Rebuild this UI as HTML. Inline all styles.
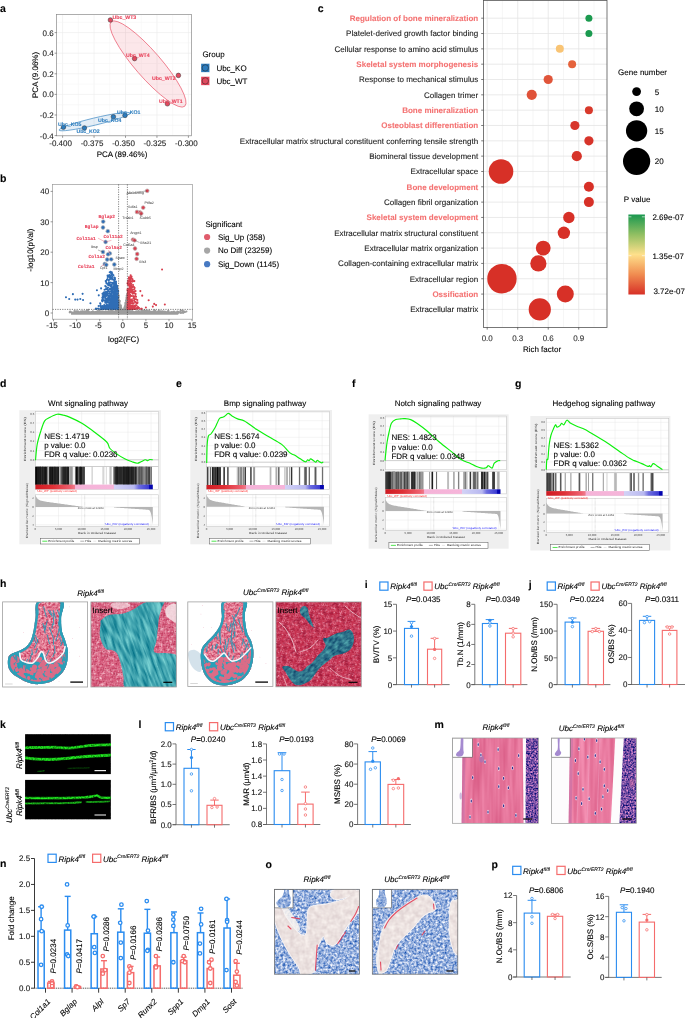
<!DOCTYPE html>
<html><head><meta charset="utf-8"><style>
html,body{margin:0;padding:0;background:#fff;}
svg{display:block;font-family:"Liberation Sans", sans-serif;will-change:transform;text-rendering:geometricPrecision;}
</style></head><body>
<svg width="685" height="1018" viewBox="0 0 685 1018">
<rect width="685" height="1018" fill="#fff"/>
<defs><linearGradient id="pgrad" x1="0" y1="0" x2="0" y2="1"><stop offset="0" stop-color="#1a9850"/><stop offset="0.25" stop-color="#91bf62"/><stop offset="0.5" stop-color="#fee08b"/><stop offset="0.75" stop-color="#f08c50"/><stop offset="1" stop-color="#d73027"/></linearGradient><linearGradient id="gcb" x1="0" y1="0" x2="1" y2="0"><stop offset="0" stop-color="#cf1a22"/><stop offset="0.15" stop-color="#df3036"/><stop offset="0.3" stop-color="#ee6070"/><stop offset="0.335" stop-color="#f07a8c"/><stop offset="0.34" stop-color="#f5b3d8"/><stop offset="0.665" stop-color="#f6b5da"/><stop offset="0.67" stop-color="#d2d2f6"/><stop offset="0.84" stop-color="#b8b8f0"/><stop offset="0.88" stop-color="#6e6ee0"/><stop offset="0.965" stop-color="#3c3cd2"/><stop offset="0.97" stop-color="#0808b5"/><stop offset="1" stop-color="#0000aa"/></linearGradient><filter id="nPink1" x="0" y="0" width="100%" height="100%" color-interpolation-filters="sRGB"><feTurbulence type="fractalNoise" baseFrequency="0.3" numOctaves="2" seed="2"/><feColorMatrix type="matrix" values="0.2941 0 0 0 0.7608 0.8021 0 0 0 0.1872 0.6506 0 0 0 0.3472 0 0 0 0 1.000"/></filter><filter id="nPink2" x="0" y="0" width="100%" height="100%" color-interpolation-filters="sRGB"><feTurbulence type="fractalNoise" baseFrequency="0.3" numOctaves="2" seed="5"/><feColorMatrix type="matrix" values="0.3743 0 0 0 0.6795 0.8467 0 0 0 0.0374 0.7130 0 0 0 0.2121 0 0 0 0 1.000"/></filter><filter id="nTeal1" x="0" y="0" width="100%" height="100%" color-interpolation-filters="sRGB"><feTurbulence type="fractalNoise" baseFrequency="0.06 0.35" numOctaves="2" seed="7"/><feColorMatrix type="matrix" values="0.7745 0 0 0 -0.1304 0.6275 0 0 0 0.3294 0.4902 0 0 0 0.4412 0 0 0 0 1.000"/></filter><filter id="nTeal2" x="0" y="0" width="100%" height="100%" color-interpolation-filters="sRGB"><feTurbulence type="fractalNoise" baseFrequency="0.2 0.4" numOctaves="2" seed="9"/><feColorMatrix type="matrix" values="0.4412 0 0 0 -0.0343 0.6373 0 0 0 0.1422 0.4314 0 0 0 0.3333 0 0 0 0 1.000"/></filter><filter id="nBone" x="0" y="0" width="100%" height="100%" color-interpolation-filters="sRGB"><feTurbulence type="fractalNoise" baseFrequency="0.45" numOctaves="2" seed="11"/><feColorMatrix type="matrix" values="0.3476 0 0 0 0.7066 0.8556 0 0 0 0.0428 0.7041 0 0 0 0.2146 0 0 0 0 1.000"/></filter><clipPath id="cp1"><rect x="2.6" y="601.9" width="85" height="85.1"/></clipPath><clipPath id="cp2"><path d="M38.1,601 C33.62,603.78 36.27,612.73 35.5,617.7 C34.73,622.67 34.27,627.08 33.5,630.8 C32.73,634.52 32.1,637.37 30.9,640 C29.7,642.63 28.17,644.83 26.3,646.6 C24.43,648.37 21.9,649.5 19.7,650.6 C17.5,651.7 14.85,652.33 13.1,653.2 C11.35,654.07 10.07,654.48 9.2,655.8 C8.33,657.12 8.02,659.13 7.9,661.1 C7.78,663.07 7.85,665.63 8.5,667.6 C9.15,669.57 10.37,671.37 11.8,672.9 C13.23,674.43 15.12,675.48 17.1,676.8 C19.08,678.12 21.3,679.7 23.7,680.8 C26.1,681.9 28.88,682.85 31.5,683.4 C34.12,683.95 36.33,684.32 39.4,684.1 C42.47,683.88 47.05,683.1 49.9,682.1 C52.75,681.1 54.3,679.85 56.5,678.1 C58.7,676.35 61.35,674.22 63.1,671.6 C64.85,668.98 66.23,665.9 67,662.4 C67.77,658.9 68.03,654.33 67.7,650.6 C67.37,646.87 65.98,643.3 65,640 C64.02,636.7 62.45,634.52 61.8,630.8 C61.15,627.08 61,622.67 61.1,617.7 C61.2,612.73 66.23,603.78 62.4,601 C58.57,598.22 42.58,598.22 38.1,601Z"/></clipPath><clipPath id="cp3"><rect x="187.8" y="601.9" width="85.1" height="84.6"/></clipPath><clipPath id="cp4"><path d="M223.1,601 C219.12,603.78 222.45,613.38 221.8,617.7 C221.15,622.02 220.73,623.83 219.2,626.9 C217.67,629.97 214.8,633.47 212.6,636.1 C210.4,638.73 207.75,640.73 206,642.7 C204.25,644.67 202.97,645.93 202.1,647.9 C201.23,649.87 200.92,651.87 200.8,654.5 C200.68,657.13 200.97,660.85 201.4,663.7 C201.83,666.55 202.42,669.2 203.4,671.6 C204.38,674 205.55,676.13 207.3,678.1 C209.05,680.07 211.05,682.18 213.9,683.4 C216.75,684.62 220.9,685.4 224.4,685.4 C227.9,685.4 231.83,684.38 234.9,683.4 C237.97,682.42 240.38,681.47 242.8,679.5 C245.22,677.53 247.75,674.67 249.4,671.6 C251.05,668.53 252.05,664.6 252.7,661.1 C253.35,657.6 253.52,653.88 253.3,650.6 C253.08,647.32 252.38,644.25 251.4,641.4 C250.42,638.55 248.4,636.35 247.4,633.5 C246.4,630.65 245.83,627.58 245.4,624.3 C244.97,621.02 244.75,617.68 244.8,613.8 C244.85,609.92 249.32,603.13 245.7,601 C242.08,598.87 227.08,598.22 223.1,601Z"/></clipPath><pattern id="cellR1" width="14" height="14" patternUnits="userSpaceOnUse" patternTransform="rotate(17)"><circle cx="0.17" cy="1.57" r="0.93" fill="#d85a7a"/><circle cx="14.17" cy="1.57" r="0.93" fill="#d85a7a"/><circle cx="5.5" cy="9.57" r="0.9" fill="#d85a7a"/><circle cx="1.94" cy="1.57" r="1.05" fill="#d24a6e"/><circle cx="3.25" cy="10.61" r="1.06" fill="#d24a6e"/><circle cx="9.27" cy="1.91" r="0.91" fill="#c8375f"/><circle cx="7.5" cy="6.27" r="1.02" fill="#b52a4e"/><circle cx="5.78" cy="-0.05" r="0.81" fill="#c8375f"/><circle cx="5.78" cy="13.95" r="0.81" fill="#c8375f"/><circle cx="-0.84" cy="5.64" r="1.1" fill="#d85a7a"/><circle cx="13.16" cy="5.64" r="1.1" fill="#d85a7a"/><circle cx="2.78" cy="4.62" r="0.97" fill="#d24a6e"/><circle cx="2.94" cy="3.04" r="0.87" fill="#b52a4e"/><circle cx="8.19" cy="7.66" r="1.01" fill="#b52a4e"/><circle cx="-0.65" cy="11.74" r="0.93" fill="#d24a6e"/><circle cx="13.35" cy="11.74" r="0.93" fill="#d24a6e"/><circle cx="4.98" cy="2.85" r="1.02" fill="#bf2f55"/><circle cx="11.71" cy="-0.15" r="0.83" fill="#c8375f"/><circle cx="11.71" cy="13.85" r="0.83" fill="#c8375f"/><circle cx="0.43" cy="10.29" r="0.87" fill="#c8375f"/><circle cx="14.43" cy="10.29" r="0.87" fill="#c8375f"/><circle cx="12.16" cy="9.12" r="1.07" fill="#b52a4e"/><circle cx="0.58" cy="4.7" r="0.83" fill="#d85a7a"/><circle cx="14.58" cy="4.7" r="0.83" fill="#d85a7a"/><circle cx="4.68" cy="5.55" r="0.95" fill="#b52a4e"/><circle cx="9.05" cy="11.71" r="1" fill="#d85a7a"/><circle cx="-0.54" cy="-0.33" r="0.85" fill="#c8375f"/><circle cx="-0.54" cy="13.67" r="0.85" fill="#c8375f"/><circle cx="13.46" cy="-0.33" r="0.85" fill="#c8375f"/><circle cx="13.46" cy="13.67" r="0.85" fill="#c8375f"/><circle cx="2.7" cy="12.89" r="0.96" fill="#bf2f55"/><circle cx="8.42" cy="9.74" r="0.93" fill="#d24a6e"/><circle cx="6.37" cy="11.21" r="0.93" fill="#c8375f"/><circle cx="1.38" cy="-0.24" r="0.95" fill="#d24a6e"/><circle cx="1.38" cy="13.76" r="0.95" fill="#d24a6e"/><circle cx="11.96" cy="6.66" r="1.05" fill="#c8375f"/><circle cx="9.7" cy="-0.38" r="1.02" fill="#d24a6e"/><circle cx="9.7" cy="13.62" r="1.02" fill="#d24a6e"/><circle cx="10.75" cy="3.57" r="0.97" fill="#c8375f"/><circle cx="0.7" cy="8.6" r="1.05" fill="#b52a4e"/><circle cx="14.7" cy="8.6" r="1.05" fill="#b52a4e"/><circle cx="2.57" cy="6.37" r="0.97" fill="#bf2f55"/><circle cx="9.73" cy="7.34" r="0.99" fill="#d24a6e"/><circle cx="6.54" cy="1.87" r="0.99" fill="#d24a6e"/><circle cx="12.54" cy="3.62" r="0.99" fill="#b52a4e"/><circle cx="0.47" cy="6.75" r="0.99" fill="#bf2f55"/><circle cx="14.47" cy="6.75" r="0.99" fill="#bf2f55"/><circle cx="4.21" cy="12.78" r="0.93" fill="#bf2f55"/><circle cx="7.57" cy="4.48" r="0.97" fill="#d85a7a"/><circle cx="7.59" cy="-0.82" r="0.97" fill="#d85a7a"/><circle cx="7.59" cy="13.18" r="0.97" fill="#d85a7a"/><circle cx="9.58" cy="4.53" r="0.89" fill="#b52a4e"/><circle cx="4.38" cy="0.63" r="0.82" fill="#c8375f"/><circle cx="4.38" cy="14.63" r="0.82" fill="#c8375f"/><circle cx="5.72" cy="7.54" r="1.01" fill="#d85a7a"/><circle cx="12.19" cy="1.75" r="0.9" fill="#d24a6e"/><circle cx="5.9" cy="4.38" r="0.85" fill="#d24a6e"/><circle cx="9.91" cy="10.33" r="0.95" fill="#c8375f"/><circle cx="12.01" cy="11.01" r="1.08" fill="#d24a6e"/><circle cx="4.71" cy="11.27" r="0.81" fill="#bf2f55"/><circle cx="11.14" cy="12.42" r="1" fill="#b52a4e"/><circle cx="7.89" cy="2.96" r="0.8" fill="#d24a6e"/></pattern><pattern id="cellR2" width="14" height="14" patternUnits="userSpaceOnUse" patternTransform="rotate(-23)"><circle cx="1.08" cy="2.99" r="0.88" fill="#c8304e"/><circle cx="4.24" cy="12.6" r="0.94" fill="#b81b3a"/><circle cx="6.95" cy="10.08" r="0.89" fill="#b81b3a"/><circle cx="1.4" cy="7.12" r="0.97" fill="#c42644"/><circle cx="11.8" cy="7.32" r="1.16" fill="#c8304e"/><circle cx="-0.77" cy="12.35" r="1.08" fill="#c42644"/><circle cx="13.23" cy="12.35" r="1.08" fill="#c42644"/><circle cx="5.19" cy="0.01" r="1.08" fill="#b01836"/><circle cx="5.19" cy="14.01" r="1.08" fill="#b01836"/><circle cx="10.57" cy="1.77" r="0.89" fill="#b81b3a"/><circle cx="0.13" cy="10.23" r="1.18" fill="#b01836"/><circle cx="14.13" cy="10.23" r="1.18" fill="#b01836"/><circle cx="11.8" cy="11.71" r="0.92" fill="#b81b3a"/><circle cx="-0.65" cy="2.82" r="1.07" fill="#c8304e"/><circle cx="13.35" cy="2.82" r="1.07" fill="#c8304e"/><circle cx="2.23" cy="0.28" r="0.97" fill="#a01434"/><circle cx="2.23" cy="14.28" r="0.97" fill="#a01434"/><circle cx="0.69" cy="0.54" r="0.92" fill="#a01434"/><circle cx="0.69" cy="14.54" r="0.92" fill="#a01434"/><circle cx="14.69" cy="0.54" r="0.92" fill="#a01434"/><circle cx="14.69" cy="14.54" r="0.92" fill="#a01434"/><circle cx="4.94" cy="2.29" r="1.01" fill="#a01434"/><circle cx="2.34" cy="11.4" r="0.9" fill="#b81b3a"/><circle cx="10.34" cy="7.96" r="1.09" fill="#a01434"/><circle cx="8.22" cy="3.21" r="0.94" fill="#c8304e"/><circle cx="9.26" cy="0.68" r="0.97" fill="#b01836"/><circle cx="9.26" cy="14.68" r="0.97" fill="#b01836"/><circle cx="4.23" cy="5.38" r="1.08" fill="#a01434"/><circle cx="6.88" cy="-0.64" r="0.9" fill="#b01836"/><circle cx="6.88" cy="13.36" r="0.9" fill="#b01836"/><circle cx="7.35" cy="7.12" r="1.02" fill="#b81b3a"/><circle cx="8.46" cy="11.51" r="0.9" fill="#b01836"/><circle cx="10.93" cy="4.42" r="0.91" fill="#c8304e"/><circle cx="6.39" cy="1.17" r="0.89" fill="#a01434"/><circle cx="12.7" cy="5.28" r="1.09" fill="#b81b3a"/><circle cx="11.5" cy="0.49" r="1.01" fill="#c8304e"/><circle cx="11.5" cy="14.49" r="1.01" fill="#c8304e"/><circle cx="10.1" cy="9.45" r="0.93" fill="#b01836"/><circle cx="1.6" cy="4.45" r="0.93" fill="#b01836"/><circle cx="3.55" cy="7.69" r="1.11" fill="#a01434"/><circle cx="4.46" cy="10.01" r="0.9" fill="#c42644"/><circle cx="-0.22" cy="8.69" r="0.98" fill="#b81b3a"/><circle cx="13.78" cy="8.69" r="0.98" fill="#b81b3a"/><circle cx="10.14" cy="12.89" r="1.03" fill="#c42644"/><circle cx="5.28" cy="6.62" r="0.95" fill="#b81b3a"/><circle cx="8.91" cy="7.28" r="1.03" fill="#a01434"/><circle cx="2.89" cy="2.76" r="1.03" fill="#c42644"/><circle cx="10.63" cy="6.23" r="1.04" fill="#c8304e"/><circle cx="12.04" cy="10.07" r="1.09" fill="#c42644"/><circle cx="8.41" cy="9.32" r="0.93" fill="#b81b3a"/><circle cx="8.64" cy="4.88" r="0.96" fill="#c42644"/><circle cx="2.43" cy="8.78" r="1.14" fill="#b81b3a"/><circle cx="-0.86" cy="1.07" r="0.94" fill="#a01434"/><circle cx="13.14" cy="1.07" r="0.94" fill="#a01434"/><circle cx="6.29" cy="11.66" r="1.03" fill="#b81b3a"/><circle cx="6.06" cy="4.59" r="1.1" fill="#c42644"/><circle cx="2.73" cy="6.16" r="0.94" fill="#b81b3a"/><circle cx="6.12" cy="8.64" r="0.92" fill="#b01836"/><circle cx="9.89" cy="3.11" r="0.88" fill="#a01434"/><circle cx="10.14" cy="11.09" r="0.91" fill="#c42644"/><circle cx="3.76" cy="1.27" r="1.13" fill="#a01434"/><circle cx="1.05" cy="-0.95" r="0.95" fill="#c42644"/><circle cx="1.05" cy="13.05" r="0.95" fill="#c42644"/><circle cx="-0.17" cy="7.14" r="1.13" fill="#c8304e"/><circle cx="13.83" cy="7.14" r="1.13" fill="#c8304e"/><circle cx="3.16" cy="4.25" r="1.15" fill="#a01434"/><circle cx="7.87" cy="1.51" r="1.15" fill="#c8304e"/></pattern><clipPath id="cp5"><rect x="90.9" y="601.9" width="85.4" height="85.1"/></clipPath><clipPath id="cp6"><path d="M90.9,601.9H176.3V687H90.9Z"/></clipPath><clipPath id="cp7"><path d="M101.1,620.3 C102.52,618.77 105.48,616.18 109,615.1 C112.52,614.02 118.25,614.68 122.2,613.8 C126.15,612.92 129.2,611.55 132.7,609.8 C136.2,608.05 140.32,604.68 143.2,603.3 C146.08,601.92 147.82,601.8 150,601.5 C152.18,601.2 153.93,601.5 156.3,601.5 C158.67,601.5 163.32,600.33 164.2,601.5 C165.08,602.67 162.47,605.8 161.6,608.5 C160.73,611.2 159.67,613.98 159,617.7 C158.33,621.42 158.05,626.85 157.6,630.8 C157.15,634.75 156.95,638.1 156.3,641.4 C155.65,644.7 153.48,648.63 153.7,650.6 C153.92,652.57 155.42,652.77 157.6,653.2 C159.78,653.63 163.6,652.77 166.8,653.2 C170,653.63 175.02,653 176.8,655.8 C178.58,658.6 177.38,664.63 177.5,670 C177.62,675.37 182.08,685 177.5,688 C172.92,691 158.57,688 150,688 C141.43,688 130.52,689.87 126.1,688 C121.68,686.13 124.38,680.85 123.5,676.8 C122.62,672.75 121.9,667.63 120.8,663.7 C119.7,659.77 118.42,655.5 116.9,653.2 C115.38,650.9 113.45,650.57 111.7,649.9 C109.95,649.23 107.93,650.18 106.4,649.2 C104.87,648.22 103.6,646.4 102.5,644 C101.4,641.6 100.13,638.08 99.8,634.8 C99.47,631.52 100.28,626.72 100.5,624.3 C100.72,621.88 99.68,621.83 101.1,620.3Z"/></clipPath><clipPath id="cp8"><rect x="275.9" y="601.9" width="85.4" height="84.9"/></clipPath><clipPath id="cp9"><path d="M275.9,601.9H361.3V686.8H275.9Z"/></clipPath><clipPath id="cp10"><path d="M300,609.8 C300.13,608.45 301.25,607.63 302,607 C302.75,606.37 303.53,605.75 304.5,606 C305.47,606.25 307.03,606.98 307.8,608.5 C308.57,610.02 308.12,612.03 309.1,615.1 C310.08,618.17 313.37,625.15 313.7,626.9 C314.03,628.65 312.42,626.92 311.1,625.6 C309.78,624.28 307.45,620.75 305.8,619 C304.15,617.25 302.17,616.63 301.2,615.1 C300.23,613.57 299.87,611.15 300,609.8Z"/></clipPath><clipPath id="cp11"><path d="M282.2,667 C282.65,665.9 286.62,665.75 288.8,666.3 C290.98,666.85 293.55,669.42 295.3,670.3 C297.05,671.18 297.98,671.6 299.3,671.6 C300.62,671.6 301.88,671.18 303.2,670.3 C304.52,669.42 305.67,667.62 307.2,666.3 C308.73,664.98 310.65,664.15 312.4,662.4 C314.15,660.65 315.95,657.77 317.7,655.8 C319.45,653.83 321.58,652.35 322.9,650.6 C324.22,648.85 325.6,647.28 325.6,645.3 C325.6,643.32 322.47,640.02 322.9,638.7 C323.33,637.38 326,638.27 328.2,637.4 C330.4,636.53 333.47,634.48 336.1,633.5 C338.73,632.52 341.82,632.17 344,631.5 C346.18,630.83 347.68,629.17 349.2,629.5 C350.72,629.83 352.33,631.52 353.1,633.5 C353.87,635.48 354.23,638.78 353.8,641.4 C353.37,644.02 352.13,647.23 350.5,649.2 C348.87,651.17 346.62,652.1 344,653.2 C341.38,654.3 337.43,654.48 334.8,655.8 C332.17,657.12 330.62,659.13 328.2,661.1 C325.78,663.07 322.5,665.42 320.3,667.6 C318.1,669.78 316.75,672 315,674.2 C313.25,676.4 311.98,679.05 309.8,680.8 C307.62,682.55 304.32,684.05 301.9,684.7 C299.48,685.35 297.27,685.57 295.3,684.7 C293.33,683.83 291.63,681.47 290.1,679.5 C288.57,677.53 287.42,674.98 286.1,672.9 C284.78,670.82 281.75,668.1 282.2,667Z"/></clipPath><filter id="glow" x="-5%" y="-50%" width="110%" height="200%"><feGaussianBlur stdDeviation="0.6"/></filter><filter id="grain" x="0" y="0" width="100%" height="100%" color-interpolation-filters="sRGB"><feTurbulence type="fractalNoise" baseFrequency="0.6" numOctaves="2" seed="21"/><feColorMatrix type="matrix" values="0 0 0 0 0  0 0 0 0 0  0 0 0 0 0  1.3 0 0 0 -0.5"/></filter><clipPath id="cp12"><rect x="25.1" y="734.2" width="85.7" height="39.9"/></clipPath><clipPath id="cp13"><rect x="25.1" y="779.9" width="85.7" height="39.4"/></clipPath><filter id="nHE" x="0" y="0" width="100%" height="100%" color-interpolation-filters="sRGB"><feTurbulence type="fractalNoise" baseFrequency="0.22 0.015" numOctaves="2" seed="4"/><feColorMatrix type="matrix" values="0.1569 0 0 0 0.8235 0.2941 0 0 0 0.3118 0.2549 0 0 0 0.4804 0 0 0 0 1.000"/></filter><filter id="nHE2" x="0" y="0" width="100%" height="100%" color-interpolation-filters="sRGB"><feTurbulence type="fractalNoise" baseFrequency="0.2 0.012" numOctaves="2" seed="8"/><feColorMatrix type="matrix" values="0.1667 0 0 0 0.8324 0.3333 0 0 0 0.3157 0.2843 0 0 0 0.4873 0 0 0 0 1.000"/></filter><filter id="nMar" x="0" y="0" width="100%" height="100%" color-interpolation-filters="sRGB"><feTurbulence type="fractalNoise" baseFrequency="0.6" numOctaves="2" seed="6"/><feColorMatrix type="matrix" values="1.5784 0 0 0 -0.3402 0.9314 0 0 0 -0.1618 0.6569 0 0 0 0.3049 0 0 0 0 1.000"/></filter><clipPath id="cp14"><rect x="452.4" y="738" width="86.2" height="85.3"/></clipPath><clipPath id="cp15"><path d="M526,738L538.6,738L538.6,823.3L525.5,823.3Z"/></clipPath><clipPath id="cp16"><path d="M462.6,738L522.8,738L523.5,823.3L461.6,823.3Z"/></clipPath><clipPath id="cp17"><rect x="551.4" y="738" width="85.1" height="85.5"/></clipPath><clipPath id="cp18"><path d="M623.8,738L636.5,738L636.5,823.5L619.4,823.5Z"/></clipPath><clipPath id="cp19"><path d="M570,738L615.2,738L610.8,823.5L568.6,823.5Z"/></clipPath><filter id="nTrapBg" x="0" y="0" width="100%" height="100%" color-interpolation-filters="sRGB"><feTurbulence type="fractalNoise" baseFrequency="0.42" numOctaves="2" seed="12"/><feColorMatrix type="matrix" values="1.2788 0 0 0 -0.0512 0.9548 0 0 0 0.2128 0.4518 0 0 0 0.6427 0 0 0 0 1.000"/></filter><filter id="nTrapBone" x="0" y="0" width="100%" height="100%" color-interpolation-filters="sRGB"><feTurbulence type="fractalNoise" baseFrequency="0.2" numOctaves="2" seed="13"/><feColorMatrix type="matrix" values="0.1765 0 0 0 0.8333 0.2157 0 0 0 0.7745 0.1961 0 0 0 0.7804 0 0 0 0 1.000"/></filter><clipPath id="cp20"><rect x="274.4" y="889.3" width="85" height="84.9"/></clipPath><clipPath id="cp21"><path d="M274.4,889.3H359.4V974.2H274.4Z"/></clipPath><clipPath id="cp22"><path d="M275.3,909 C276.5,908.38 279.57,907.1 281.2,908.3 C282.83,909.5 283.35,913.35 285.1,916.2 C286.85,919.05 289.5,922.55 291.7,925.4 C293.9,928.25 296.33,931.55 298.3,933.3 C300.27,935.05 302.08,935.9 303.5,935.9 C304.92,935.9 306.13,935.05 306.8,933.3 C307.47,931.55 307.28,928.9 307.5,925.4 C307.72,921.9 307.67,915.25 308.1,912.3 C308.53,909.35 308.67,908.8 310.1,907.7 C311.53,906.6 313.85,906.25 316.7,905.7 C319.55,905.15 323.7,905.05 327.2,904.4 C330.7,903.75 334.63,902.68 337.7,901.8 C340.77,900.92 342.97,900.63 345.6,899.1 C348.23,897.57 351.32,894.02 353.5,892.6 C355.68,891.18 357.53,890.2 358.7,890.6 C359.87,891 360.5,892.05 360.5,895 C360.5,897.95 359.65,904.77 358.7,908.3 C357.75,911.83 356.55,913.57 354.8,916.2 C353.05,918.83 350.17,921.47 348.2,924.1 C346.23,926.73 344.75,929.15 343,932 C341.25,934.85 339.47,939.02 337.7,941.2 C335.93,943.38 334.15,944.88 332.4,945.1 C330.65,945.32 328.73,944.03 327.2,942.5 C325.67,940.97 324.52,935.9 323.2,935.9 C321.88,935.9 320.38,940.52 319.3,942.5 C318.22,944.48 317.35,945.62 316.7,947.8 C316.05,949.98 315.85,951.88 315.4,955.6 C314.95,959.32 314.88,967.2 314,970.1 C313.12,973 312.1,972.27 310.1,973 C308.1,973.73 303.83,975.43 302,974.5 C300.17,973.57 301.08,970.85 299.1,967.4 C297.12,963.95 293.12,958.93 290.1,953.8 C287.08,948.67 283.63,942.48 281,936.6 C278.37,930.72 275.47,922.6 274.3,918.5 C273.13,914.4 273.83,913.58 274,912 C274.17,910.42 274.1,909.62 275.3,909Z"/></clipPath><clipPath id="cp23"><path d="M335,890 C338.17,889.08 346.5,889.33 350,889.5 C353.5,889.67 356.67,889.75 356,891 C355.33,892.25 349.33,895.67 346,897 C342.67,898.33 338.5,899.33 336,899 C333.5,898.67 331.17,896.5 331,895 C330.83,893.5 331.83,890.92 335,890Z"/></clipPath><clipPath id="cp24"><path d="M284.3,889 C285.07,888.5 287.78,888.17 288.6,889 C289.42,889.83 288.83,892.45 289.2,894 C289.57,895.55 290.5,896.97 290.8,898.3 C291.1,899.63 291.22,900.8 291,902 C290.78,903.2 290.33,904.57 289.5,905.5 C288.67,906.43 287.42,907.22 286,907.6 C284.58,907.98 282.42,908.15 281,907.8 C279.58,907.45 278.25,906.38 277.5,905.5 C276.75,904.62 276.25,903.5 276.5,902.5 C276.75,901.5 278,900.58 279,899.5 C280,898.42 281.67,897.25 282.5,896 C283.33,894.75 283.7,893.17 284,892 C284.3,890.83 283.53,889.5 284.3,889Z"/></clipPath><clipPath id="cp25"><rect x="372.3" y="889.3" width="85.5" height="84.9"/></clipPath><clipPath id="cp26"><path d="M372.3,889.3H457.8V974.2H372.3Z"/></clipPath><clipPath id="cp27"><path d="M379.1,970.6 C378.03,967.4 378.83,956.75 379.1,951.4 C379.37,946.05 379.63,943.05 380.7,938.5 C381.77,933.95 383.37,928.12 385.5,924.1 C387.63,920.08 390.02,917.62 393.5,914.4 C396.98,911.18 402.12,907.73 406.4,904.8 C410.68,901.87 415.72,898.27 419.2,896.8 C422.68,895.33 424.88,894.93 427.3,896 C429.72,897.07 432.5,900.93 433.7,903.2 C434.9,905.47 435.57,908 434.5,909.6 C433.43,911.2 429.58,911.47 427.3,912.8 C425.02,914.13 422.95,915.45 420.8,917.6 C418.65,919.75 416.8,923.02 414.4,925.7 C412,928.38 409.07,931.03 406.4,933.7 C403.73,936.37 400.55,939.03 398.4,941.7 C396.25,944.37 394.85,946.75 393.5,949.7 C392.15,952.65 391.63,955.92 390.3,959.4 C388.97,962.88 387.37,968.73 385.5,970.6 C383.63,972.47 380.17,973.8 379.1,970.6Z"/></clipPath><clipPath id="cp28"><path d="M451,904 C452.05,900 454.67,900.83 456,901 C457.33,901.17 458.5,896.83 459,905 C459.5,913.17 459.67,942.17 459,950 C458.33,957.83 456.33,953.67 455,952 C453.67,950.33 451.88,944.5 451,940 C450.12,935.5 449.7,931 449.7,925 C449.7,919 449.95,908 451,904Z"/></clipPath><clipPath id="cp29"><path d="M379.8,889 C380.63,888.33 383.43,888.17 384.3,889 C385.17,889.83 384.68,892.5 385,894 C385.32,895.5 385.9,896.67 386.2,898 C386.5,899.33 386.92,900.75 386.8,902 C386.68,903.25 386.22,904.6 385.5,905.5 C384.78,906.4 383.67,907.12 382.5,907.4 C381.33,907.68 379.53,907.68 378.5,907.2 C377.47,906.72 376.68,905.62 376.3,904.5 C375.92,903.38 375.87,901.75 376.2,900.5 C376.53,899.25 377.78,898.25 378.3,897 C378.82,895.75 379.05,894.33 379.3,893 C379.55,891.67 378.97,889.67 379.8,889Z"/></clipPath></defs>
<text x="0" y="12.3" font-size="10.5" text-anchor="start" font-weight="bold" fill="#000" stroke="#000" stroke-width="0.1">a</text>
<line x1="62.6" y1="14.6" x2="62.6" y2="135.8" stroke="#ebebeb" stroke-width="0.6"/>
<line x1="78.33" y1="14.6" x2="78.33" y2="135.8" stroke="#f5f5f5" stroke-width="0.6"/>
<line x1="94.05" y1="14.6" x2="94.05" y2="135.8" stroke="#ebebeb" stroke-width="0.6"/>
<line x1="109.77" y1="14.6" x2="109.77" y2="135.8" stroke="#f5f5f5" stroke-width="0.6"/>
<line x1="125.5" y1="14.6" x2="125.5" y2="135.8" stroke="#ebebeb" stroke-width="0.6"/>
<line x1="141.22" y1="14.6" x2="141.22" y2="135.8" stroke="#f5f5f5" stroke-width="0.6"/>
<line x1="156.95" y1="14.6" x2="156.95" y2="135.8" stroke="#ebebeb" stroke-width="0.6"/>
<line x1="172.68" y1="14.6" x2="172.68" y2="135.8" stroke="#f5f5f5" stroke-width="0.6"/>
<line x1="188.4" y1="14.6" x2="188.4" y2="135.8" stroke="#ebebeb" stroke-width="0.6"/>
<line x1="56.6" y1="135.6" x2="191.6" y2="135.6" stroke="#ebebeb" stroke-width="0.6"/>
<line x1="56.6" y1="125.3" x2="191.6" y2="125.3" stroke="#f5f5f5" stroke-width="0.6"/>
<line x1="56.6" y1="115" x2="191.6" y2="115" stroke="#ebebeb" stroke-width="0.6"/>
<line x1="56.6" y1="104.7" x2="191.6" y2="104.7" stroke="#f5f5f5" stroke-width="0.6"/>
<line x1="56.6" y1="94.4" x2="191.6" y2="94.4" stroke="#ebebeb" stroke-width="0.6"/>
<line x1="56.6" y1="84.1" x2="191.6" y2="84.1" stroke="#f5f5f5" stroke-width="0.6"/>
<line x1="56.6" y1="73.8" x2="191.6" y2="73.8" stroke="#ebebeb" stroke-width="0.6"/>
<line x1="56.6" y1="63.5" x2="191.6" y2="63.5" stroke="#f5f5f5" stroke-width="0.6"/>
<line x1="56.6" y1="53.2" x2="191.6" y2="53.2" stroke="#ebebeb" stroke-width="0.6"/>
<line x1="56.6" y1="42.9" x2="191.6" y2="42.9" stroke="#f5f5f5" stroke-width="0.6"/>
<line x1="56.6" y1="32.6" x2="191.6" y2="32.6" stroke="#ebebeb" stroke-width="0.6"/>
<line x1="56.6" y1="22.3" x2="191.6" y2="22.3" stroke="#f5f5f5" stroke-width="0.6"/>
<rect x="56.6" y="14.6" width="135" height="121.2" fill="none" stroke="#8a8a8a" stroke-width="0.7"/>
<line x1="54.6" y1="32.6" x2="56.6" y2="32.6" stroke="#555" stroke-width="0.6"/>
<text x="53.6" y="35.5" font-size="8" text-anchor="end" fill="#222" stroke="#222" stroke-width="0.1">0.6</text>
<line x1="54.6" y1="53.2" x2="56.6" y2="53.2" stroke="#555" stroke-width="0.6"/>
<text x="53.6" y="56.1" font-size="8" text-anchor="end" fill="#222" stroke="#222" stroke-width="0.1">0.4</text>
<line x1="54.6" y1="73.8" x2="56.6" y2="73.8" stroke="#555" stroke-width="0.6"/>
<text x="53.6" y="76.7" font-size="8" text-anchor="end" fill="#222" stroke="#222" stroke-width="0.1">0.2</text>
<line x1="54.6" y1="94.4" x2="56.6" y2="94.4" stroke="#555" stroke-width="0.6"/>
<text x="53.6" y="97.3" font-size="8" text-anchor="end" fill="#222" stroke="#222" stroke-width="0.1">0.0</text>
<line x1="54.6" y1="115" x2="56.6" y2="115" stroke="#555" stroke-width="0.6"/>
<text x="53.6" y="117.9" font-size="8" text-anchor="end" fill="#222" stroke="#222" stroke-width="0.1">-0.2</text>
<line x1="54.6" y1="135.6" x2="56.6" y2="135.6" stroke="#555" stroke-width="0.6"/>
<text x="53.6" y="138.5" font-size="8" text-anchor="end" fill="#222" stroke="#222" stroke-width="0.1">-0.4</text>
<line x1="62.6" y1="135.8" x2="62.6" y2="137.8" stroke="#555" stroke-width="0.6"/>
<text x="60.6" y="145.8" font-size="8" text-anchor="middle" fill="#222" stroke="#222" stroke-width="0.1">-0.400</text>
<line x1="94.05" y1="135.8" x2="94.05" y2="137.8" stroke="#555" stroke-width="0.6"/>
<text x="92.05" y="145.8" font-size="8" text-anchor="middle" fill="#222" stroke="#222" stroke-width="0.1">-0.375</text>
<line x1="125.5" y1="135.8" x2="125.5" y2="137.8" stroke="#555" stroke-width="0.6"/>
<text x="123.5" y="145.8" font-size="8" text-anchor="middle" fill="#222" stroke="#222" stroke-width="0.1">-0.350</text>
<line x1="156.95" y1="135.8" x2="156.95" y2="137.8" stroke="#555" stroke-width="0.6"/>
<text x="154.95" y="145.8" font-size="8" text-anchor="middle" fill="#222" stroke="#222" stroke-width="0.1">-0.325</text>
<line x1="188.4" y1="135.8" x2="188.4" y2="137.8" stroke="#555" stroke-width="0.6"/>
<text x="186.4" y="145.8" font-size="8" text-anchor="middle" fill="#222" stroke="#222" stroke-width="0.1">-0.300</text>
<text x="122" y="157" font-size="8" text-anchor="middle" fill="#000" stroke="#000" stroke-width="0.1">PCA (89.46%)</text>
<text x="0" y="0" font-size="8" text-anchor="middle" transform="translate(38,75) rotate(-90)" stroke="#000" stroke-width="0.1">PCA (9.06%)</text>
<ellipse cx="148" cy="64" rx="56" ry="13" transform="rotate(49 148 64)" fill="#e8425a" fill-opacity="0.13" stroke="#e8425a" stroke-width="0.6"/>
<ellipse cx="94.5" cy="121.6" rx="36.5" ry="3.6" transform="rotate(-13.5 94.5 121.6)" fill="#2f7fbf" fill-opacity="0.13" stroke="#2f7fbf" stroke-width="0.6"/>
<circle cx="110.4" cy="20" r="2.3" fill="#e04a5f" stroke="#333" stroke-width="0.5"/>
<circle cx="134.6" cy="58.6" r="2.3" fill="#e04a5f" stroke="#333" stroke-width="0.5"/>
<circle cx="178.4" cy="75.4" r="2.3" fill="#e04a5f" stroke="#333" stroke-width="0.5"/>
<circle cx="167.4" cy="103.8" r="2.3" fill="#e04a5f" stroke="#333" stroke-width="0.5"/>
<circle cx="125" cy="115.4" r="2.3" fill="#2c7bbd" stroke="#333" stroke-width="0.5"/>
<circle cx="113.4" cy="116.8" r="2.3" fill="#2c7bbd" stroke="#333" stroke-width="0.5"/>
<circle cx="63.4" cy="127.2" r="2.3" fill="#2c7bbd" stroke="#333" stroke-width="0.5"/>
<circle cx="84.4" cy="128" r="2.3" fill="#2c7bbd" stroke="#333" stroke-width="0.5"/>
<text x="112.6" y="19.4" font-size="5.2" text-anchor="start" font-weight="bold" fill="#e8425a" stroke="#e8425a" stroke-width="0.1">Ubc_WT3</text>
<text x="126" y="56.8" font-size="5.2" text-anchor="start" font-weight="bold" fill="#e8425a" stroke="#e8425a" stroke-width="0.1">Ubc_WT4</text>
<text x="152" y="80.4" font-size="5.2" text-anchor="start" font-weight="bold" fill="#e8425a" stroke="#e8425a" stroke-width="0.1">Ubc_WT2</text>
<text x="159" y="102.8" font-size="5.2" text-anchor="start" font-weight="bold" fill="#e8425a" stroke="#e8425a" stroke-width="0.1">Ubc_WT1</text>
<text x="117" y="114.2" font-size="5.2" text-anchor="start" font-weight="bold" fill="#2f7fbf" stroke="#2f7fbf" stroke-width="0.1">Ubc_KO1</text>
<text x="98" y="122.2" font-size="5.2" text-anchor="start" font-weight="bold" fill="#2f7fbf" stroke="#2f7fbf" stroke-width="0.1">Ubc_KO4</text>
<text x="58" y="125.8" font-size="5.2" text-anchor="start" font-weight="bold" fill="#2f7fbf" stroke="#2f7fbf" stroke-width="0.1">Ubc_KO5</text>
<text x="76.4" y="133.4" font-size="5.2" text-anchor="start" font-weight="bold" fill="#2f7fbf" stroke="#2f7fbf" stroke-width="0.1">Ubc_KO2</text>
<text x="202.4" y="57" font-size="8" text-anchor="start" fill="#000" stroke="#000" stroke-width="0.1">Group</text>
<rect x="201" y="63.6" width="8.6" height="8.6" fill="#2c7bbd" stroke="#fff" stroke-width="0.3"/>
<circle cx="205.3" cy="67.9" r="3.2" fill="#2c7bbd" stroke="#222" stroke-width="0.5"/>
<rect x="201" y="76.6" width="8.6" height="8.6" fill="#e8425a" stroke="#fff" stroke-width="0.3"/>
<circle cx="205.3" cy="80.9" r="3.2" fill="#e04a5f" stroke="#222" stroke-width="0.5"/>
<text x="216.4" y="70.8" font-size="8" text-anchor="start" fill="#000" stroke="#000" stroke-width="0.1">Ubc_KO</text>
<text x="216.4" y="83.8" font-size="8" text-anchor="start" fill="#000" stroke="#000" stroke-width="0.1">Ubc_WT</text>
<text x="0" y="181.8" font-size="10.5" text-anchor="start" font-weight="bold" fill="#000" stroke="#000" stroke-width="0.1">b</text>
<rect x="52.6" y="184.4" width="140" height="134.8" fill="#fff" stroke="#9a9a9a" stroke-width="0.7"/>
<line x1="50.6" y1="191.4" x2="52.6" y2="191.4" stroke="#555" stroke-width="0.6"/>
<text x="49.1" y="194.3" font-size="8" text-anchor="end" fill="#222" stroke="#222" stroke-width="0.1">40</text>
<line x1="50.6" y1="221.8" x2="52.6" y2="221.8" stroke="#555" stroke-width="0.6"/>
<text x="49.1" y="224.7" font-size="8" text-anchor="end" fill="#222" stroke="#222" stroke-width="0.1">30</text>
<line x1="50.6" y1="252.2" x2="52.6" y2="252.2" stroke="#555" stroke-width="0.6"/>
<text x="49.1" y="255.1" font-size="8" text-anchor="end" fill="#222" stroke="#222" stroke-width="0.1">20</text>
<line x1="50.6" y1="282.6" x2="52.6" y2="282.6" stroke="#555" stroke-width="0.6"/>
<text x="49.1" y="285.5" font-size="8" text-anchor="end" fill="#222" stroke="#222" stroke-width="0.1">10</text>
<line x1="50.6" y1="313" x2="52.6" y2="313" stroke="#555" stroke-width="0.6"/>
<text x="49.1" y="315.9" font-size="8" text-anchor="end" fill="#222" stroke="#222" stroke-width="0.1">0</text>
<line x1="53.5" y1="319.2" x2="53.5" y2="321.2" stroke="#555" stroke-width="0.6"/>
<text x="52" y="328.2" font-size="8" text-anchor="middle" fill="#222" stroke="#222" stroke-width="0.1">-15</text>
<line x1="76.6" y1="319.2" x2="76.6" y2="321.2" stroke="#555" stroke-width="0.6"/>
<text x="75.1" y="328.2" font-size="8" text-anchor="middle" fill="#222" stroke="#222" stroke-width="0.1">-10</text>
<line x1="99.7" y1="319.2" x2="99.7" y2="321.2" stroke="#555" stroke-width="0.6"/>
<text x="98.2" y="328.2" font-size="8" text-anchor="middle" fill="#222" stroke="#222" stroke-width="0.1">-5</text>
<line x1="122.8" y1="319.2" x2="122.8" y2="321.2" stroke="#555" stroke-width="0.6"/>
<text x="122.8" y="328.2" font-size="8" text-anchor="middle" fill="#222" stroke="#222" stroke-width="0.1">0</text>
<line x1="145.9" y1="319.2" x2="145.9" y2="321.2" stroke="#555" stroke-width="0.6"/>
<text x="145.9" y="328.2" font-size="8" text-anchor="middle" fill="#222" stroke="#222" stroke-width="0.1">5</text>
<line x1="169" y1="319.2" x2="169" y2="321.2" stroke="#555" stroke-width="0.6"/>
<text x="169" y="328.2" font-size="8" text-anchor="middle" fill="#222" stroke="#222" stroke-width="0.1">10</text>
<line x1="192.1" y1="319.2" x2="192.1" y2="321.2" stroke="#555" stroke-width="0.6"/>
<text x="192.1" y="328.2" font-size="8" text-anchor="middle" fill="#222" stroke="#222" stroke-width="0.1">15</text>
<text x="123.5" y="341.5" font-size="8" text-anchor="middle" fill="#000" stroke="#000" stroke-width="0.1">log2(FC)</text>
<text x="0" y="0" font-size="8" text-anchor="middle" transform="translate(33,250) rotate(-90)" stroke="#000" stroke-width="0.1">-log10(pVal)</text>
<path d="M106.77,312.76a1.05,1.05 0 1,0 2.1,0a1.05,1.05 0 1,0 -2.1,0M131.75,312.66a1.05,1.05 0 1,0 2.1,0a1.05,1.05 0 1,0 -2.1,0M76.85,311.23a1.05,1.05 0 1,0 2.1,0a1.05,1.05 0 1,0 -2.1,0M83.21,312.09a1.05,1.05 0 1,0 2.1,0a1.05,1.05 0 1,0 -2.1,0M136.61,312.68a1.05,1.05 0 1,0 2.1,0a1.05,1.05 0 1,0 -2.1,0M169.76,312.95a1.05,1.05 0 1,0 2.1,0a1.05,1.05 0 1,0 -2.1,0M85.61,312.3a1.05,1.05 0 1,0 2.1,0a1.05,1.05 0 1,0 -2.1,0M143.89,311.17a1.05,1.05 0 1,0 2.1,0a1.05,1.05 0 1,0 -2.1,0M133.15,312.33a1.05,1.05 0 1,0 2.1,0a1.05,1.05 0 1,0 -2.1,0M148.78,312.74a1.05,1.05 0 1,0 2.1,0a1.05,1.05 0 1,0 -2.1,0M105.63,312.14a1.05,1.05 0 1,0 2.1,0a1.05,1.05 0 1,0 -2.1,0M130.49,312.74a1.05,1.05 0 1,0 2.1,0a1.05,1.05 0 1,0 -2.1,0M154.56,312.47a1.05,1.05 0 1,0 2.1,0a1.05,1.05 0 1,0 -2.1,0M117.88,312.93a1.05,1.05 0 1,0 2.1,0a1.05,1.05 0 1,0 -2.1,0M171.76,312.52a1.05,1.05 0 1,0 2.1,0a1.05,1.05 0 1,0 -2.1,0M136.94,311.65a1.05,1.05 0 1,0 2.1,0a1.05,1.05 0 1,0 -2.1,0M124.47,311.46a1.05,1.05 0 1,0 2.1,0a1.05,1.05 0 1,0 -2.1,0M165.45,312.38a1.05,1.05 0 1,0 2.1,0a1.05,1.05 0 1,0 -2.1,0M114.07,311.83a1.05,1.05 0 1,0 2.1,0a1.05,1.05 0 1,0 -2.1,0M88.42,312.83a1.05,1.05 0 1,0 2.1,0a1.05,1.05 0 1,0 -2.1,0M83.86,311.33a1.05,1.05 0 1,0 2.1,0a1.05,1.05 0 1,0 -2.1,0M101.42,311.64a1.05,1.05 0 1,0 2.1,0a1.05,1.05 0 1,0 -2.1,0M181.45,312.65a1.05,1.05 0 1,0 2.1,0a1.05,1.05 0 1,0 -2.1,0M96.11,312.31a1.05,1.05 0 1,0 2.1,0a1.05,1.05 0 1,0 -2.1,0M138.02,311.89a1.05,1.05 0 1,0 2.1,0a1.05,1.05 0 1,0 -2.1,0M112.12,312.97a1.05,1.05 0 1,0 2.1,0a1.05,1.05 0 1,0 -2.1,0M129.35,312.84a1.05,1.05 0 1,0 2.1,0a1.05,1.05 0 1,0 -2.1,0M114.85,312.68a1.05,1.05 0 1,0 2.1,0a1.05,1.05 0 1,0 -2.1,0M75.95,312.84a1.05,1.05 0 1,0 2.1,0a1.05,1.05 0 1,0 -2.1,0M108.68,312.39a1.05,1.05 0 1,0 2.1,0a1.05,1.05 0 1,0 -2.1,0M68.65,312.19a1.05,1.05 0 1,0 2.1,0a1.05,1.05 0 1,0 -2.1,0M140.96,312.4a1.05,1.05 0 1,0 2.1,0a1.05,1.05 0 1,0 -2.1,0M98.34,312.64a1.05,1.05 0 1,0 2.1,0a1.05,1.05 0 1,0 -2.1,0M123.52,312.59a1.05,1.05 0 1,0 2.1,0a1.05,1.05 0 1,0 -2.1,0M78.74,312.54a1.05,1.05 0 1,0 2.1,0a1.05,1.05 0 1,0 -2.1,0M166.27,312.3a1.05,1.05 0 1,0 2.1,0a1.05,1.05 0 1,0 -2.1,0M130.85,312.76a1.05,1.05 0 1,0 2.1,0a1.05,1.05 0 1,0 -2.1,0M99.38,312.93a1.05,1.05 0 1,0 2.1,0a1.05,1.05 0 1,0 -2.1,0M131.36,312.64a1.05,1.05 0 1,0 2.1,0a1.05,1.05 0 1,0 -2.1,0M95.33,312.34a1.05,1.05 0 1,0 2.1,0a1.05,1.05 0 1,0 -2.1,0M110.51,312.15a1.05,1.05 0 1,0 2.1,0a1.05,1.05 0 1,0 -2.1,0M94.59,312.85a1.05,1.05 0 1,0 2.1,0a1.05,1.05 0 1,0 -2.1,0M91.79,311.37a1.05,1.05 0 1,0 2.1,0a1.05,1.05 0 1,0 -2.1,0M115.91,311.39a1.05,1.05 0 1,0 2.1,0a1.05,1.05 0 1,0 -2.1,0M154.01,312.57a1.05,1.05 0 1,0 2.1,0a1.05,1.05 0 1,0 -2.1,0M109.9,312.56a1.05,1.05 0 1,0 2.1,0a1.05,1.05 0 1,0 -2.1,0M84.05,311.48a1.05,1.05 0 1,0 2.1,0a1.05,1.05 0 1,0 -2.1,0M119.73,312.72a1.05,1.05 0 1,0 2.1,0a1.05,1.05 0 1,0 -2.1,0M165.95,312.99a1.05,1.05 0 1,0 2.1,0a1.05,1.05 0 1,0 -2.1,0M99.18,312.11a1.05,1.05 0 1,0 2.1,0a1.05,1.05 0 1,0 -2.1,0M110.3,311a1.05,1.05 0 1,0 2.1,0a1.05,1.05 0 1,0 -2.1,0M118.17,311.85a1.05,1.05 0 1,0 2.1,0a1.05,1.05 0 1,0 -2.1,0M127.72,312.8a1.05,1.05 0 1,0 2.1,0a1.05,1.05 0 1,0 -2.1,0M120.47,312.97a1.05,1.05 0 1,0 2.1,0a1.05,1.05 0 1,0 -2.1,0M107.02,311.25a1.05,1.05 0 1,0 2.1,0a1.05,1.05 0 1,0 -2.1,0M97.9,312.36a1.05,1.05 0 1,0 2.1,0a1.05,1.05 0 1,0 -2.1,0M134.8,312.02a1.05,1.05 0 1,0 2.1,0a1.05,1.05 0 1,0 -2.1,0M140.78,312.4a1.05,1.05 0 1,0 2.1,0a1.05,1.05 0 1,0 -2.1,0M128.96,311.74a1.05,1.05 0 1,0 2.1,0a1.05,1.05 0 1,0 -2.1,0M124.94,312.61a1.05,1.05 0 1,0 2.1,0a1.05,1.05 0 1,0 -2.1,0M179.62,310.63a1.05,1.05 0 1,0 2.1,0a1.05,1.05 0 1,0 -2.1,0M167.58,312.07a1.05,1.05 0 1,0 2.1,0a1.05,1.05 0 1,0 -2.1,0M77.17,311.58a1.05,1.05 0 1,0 2.1,0a1.05,1.05 0 1,0 -2.1,0M146.4,312.3a1.05,1.05 0 1,0 2.1,0a1.05,1.05 0 1,0 -2.1,0M115.54,310.99a1.05,1.05 0 1,0 2.1,0a1.05,1.05 0 1,0 -2.1,0M87.64,312.87a1.05,1.05 0 1,0 2.1,0a1.05,1.05 0 1,0 -2.1,0M129.36,312.69a1.05,1.05 0 1,0 2.1,0a1.05,1.05 0 1,0 -2.1,0M153.7,312.12a1.05,1.05 0 1,0 2.1,0a1.05,1.05 0 1,0 -2.1,0M133.89,312.05a1.05,1.05 0 1,0 2.1,0a1.05,1.05 0 1,0 -2.1,0M142.12,312.89a1.05,1.05 0 1,0 2.1,0a1.05,1.05 0 1,0 -2.1,0M80.96,311.21a1.05,1.05 0 1,0 2.1,0a1.05,1.05 0 1,0 -2.1,0M100.48,312.54a1.05,1.05 0 1,0 2.1,0a1.05,1.05 0 1,0 -2.1,0M118.37,312.65a1.05,1.05 0 1,0 2.1,0a1.05,1.05 0 1,0 -2.1,0M135.84,312.25a1.05,1.05 0 1,0 2.1,0a1.05,1.05 0 1,0 -2.1,0M79.16,312.58a1.05,1.05 0 1,0 2.1,0a1.05,1.05 0 1,0 -2.1,0M122.08,311.96a1.05,1.05 0 1,0 2.1,0a1.05,1.05 0 1,0 -2.1,0M100.18,312.23a1.05,1.05 0 1,0 2.1,0a1.05,1.05 0 1,0 -2.1,0M81.51,312.87a1.05,1.05 0 1,0 2.1,0a1.05,1.05 0 1,0 -2.1,0M74.56,312.66a1.05,1.05 0 1,0 2.1,0a1.05,1.05 0 1,0 -2.1,0M158.1,312.16a1.05,1.05 0 1,0 2.1,0a1.05,1.05 0 1,0 -2.1,0M127.54,312.88a1.05,1.05 0 1,0 2.1,0a1.05,1.05 0 1,0 -2.1,0M98.13,312.83a1.05,1.05 0 1,0 2.1,0a1.05,1.05 0 1,0 -2.1,0M90.94,312.54a1.05,1.05 0 1,0 2.1,0a1.05,1.05 0 1,0 -2.1,0M126.94,312.8a1.05,1.05 0 1,0 2.1,0a1.05,1.05 0 1,0 -2.1,0M114.93,311.85a1.05,1.05 0 1,0 2.1,0a1.05,1.05 0 1,0 -2.1,0M116.3,310.2a1.05,1.05 0 1,0 2.1,0a1.05,1.05 0 1,0 -2.1,0M75.03,311.42a1.05,1.05 0 1,0 2.1,0a1.05,1.05 0 1,0 -2.1,0M98.73,312.25a1.05,1.05 0 1,0 2.1,0a1.05,1.05 0 1,0 -2.1,0M101.83,312.68a1.05,1.05 0 1,0 2.1,0a1.05,1.05 0 1,0 -2.1,0M105.09,311.86a1.05,1.05 0 1,0 2.1,0a1.05,1.05 0 1,0 -2.1,0M124.54,312.62a1.05,1.05 0 1,0 2.1,0a1.05,1.05 0 1,0 -2.1,0M69.2,311.8a1.05,1.05 0 1,0 2.1,0a1.05,1.05 0 1,0 -2.1,0M73.53,312.74a1.05,1.05 0 1,0 2.1,0a1.05,1.05 0 1,0 -2.1,0M137.61,312.27a1.05,1.05 0 1,0 2.1,0a1.05,1.05 0 1,0 -2.1,0M114.51,312.4a1.05,1.05 0 1,0 2.1,0a1.05,1.05 0 1,0 -2.1,0M128.04,312.94a1.05,1.05 0 1,0 2.1,0a1.05,1.05 0 1,0 -2.1,0M95.71,312.33a1.05,1.05 0 1,0 2.1,0a1.05,1.05 0 1,0 -2.1,0M134.42,312.25a1.05,1.05 0 1,0 2.1,0a1.05,1.05 0 1,0 -2.1,0M126.26,312.48a1.05,1.05 0 1,0 2.1,0a1.05,1.05 0 1,0 -2.1,0M127.88,311.31a1.05,1.05 0 1,0 2.1,0a1.05,1.05 0 1,0 -2.1,0M146.29,312.93a1.05,1.05 0 1,0 2.1,0a1.05,1.05 0 1,0 -2.1,0M77.39,312.19a1.05,1.05 0 1,0 2.1,0a1.05,1.05 0 1,0 -2.1,0M154.54,312.81a1.05,1.05 0 1,0 2.1,0a1.05,1.05 0 1,0 -2.1,0M126.81,310.1a1.05,1.05 0 1,0 2.1,0a1.05,1.05 0 1,0 -2.1,0M125.05,312.84a1.05,1.05 0 1,0 2.1,0a1.05,1.05 0 1,0 -2.1,0M144.34,311.53a1.05,1.05 0 1,0 2.1,0a1.05,1.05 0 1,0 -2.1,0M85.99,312.96a1.05,1.05 0 1,0 2.1,0a1.05,1.05 0 1,0 -2.1,0M135.51,312.09a1.05,1.05 0 1,0 2.1,0a1.05,1.05 0 1,0 -2.1,0M75.77,312.23a1.05,1.05 0 1,0 2.1,0a1.05,1.05 0 1,0 -2.1,0M148.23,311.56a1.05,1.05 0 1,0 2.1,0a1.05,1.05 0 1,0 -2.1,0M129.47,312.48a1.05,1.05 0 1,0 2.1,0a1.05,1.05 0 1,0 -2.1,0M173.9,312.89a1.05,1.05 0 1,0 2.1,0a1.05,1.05 0 1,0 -2.1,0M121.57,312.36a1.05,1.05 0 1,0 2.1,0a1.05,1.05 0 1,0 -2.1,0M180.86,310.51a1.05,1.05 0 1,0 2.1,0a1.05,1.05 0 1,0 -2.1,0M125.89,311.76a1.05,1.05 0 1,0 2.1,0a1.05,1.05 0 1,0 -2.1,0M121.72,312.97a1.05,1.05 0 1,0 2.1,0a1.05,1.05 0 1,0 -2.1,0M85.2,312.18a1.05,1.05 0 1,0 2.1,0a1.05,1.05 0 1,0 -2.1,0M167.48,311.14a1.05,1.05 0 1,0 2.1,0a1.05,1.05 0 1,0 -2.1,0M174.83,312.26a1.05,1.05 0 1,0 2.1,0a1.05,1.05 0 1,0 -2.1,0M111.12,312.24a1.05,1.05 0 1,0 2.1,0a1.05,1.05 0 1,0 -2.1,0M101.04,311.38a1.05,1.05 0 1,0 2.1,0a1.05,1.05 0 1,0 -2.1,0M97.99,311.8a1.05,1.05 0 1,0 2.1,0a1.05,1.05 0 1,0 -2.1,0M128.82,311.14a1.05,1.05 0 1,0 2.1,0a1.05,1.05 0 1,0 -2.1,0M153.39,311.1a1.05,1.05 0 1,0 2.1,0a1.05,1.05 0 1,0 -2.1,0M154.9,312.97a1.05,1.05 0 1,0 2.1,0a1.05,1.05 0 1,0 -2.1,0M102.34,311.47a1.05,1.05 0 1,0 2.1,0a1.05,1.05 0 1,0 -2.1,0M177.8,312.04a1.05,1.05 0 1,0 2.1,0a1.05,1.05 0 1,0 -2.1,0M145.9,312.83a1.05,1.05 0 1,0 2.1,0a1.05,1.05 0 1,0 -2.1,0M134.28,312.69a1.05,1.05 0 1,0 2.1,0a1.05,1.05 0 1,0 -2.1,0M127.18,312.45a1.05,1.05 0 1,0 2.1,0a1.05,1.05 0 1,0 -2.1,0M121.63,312.84a1.05,1.05 0 1,0 2.1,0a1.05,1.05 0 1,0 -2.1,0M108.91,312.57a1.05,1.05 0 1,0 2.1,0a1.05,1.05 0 1,0 -2.1,0M96.79,310.99a1.05,1.05 0 1,0 2.1,0a1.05,1.05 0 1,0 -2.1,0M156.94,312.06a1.05,1.05 0 1,0 2.1,0a1.05,1.05 0 1,0 -2.1,0M117.38,312.31a1.05,1.05 0 1,0 2.1,0a1.05,1.05 0 1,0 -2.1,0M75.93,312.32a1.05,1.05 0 1,0 2.1,0a1.05,1.05 0 1,0 -2.1,0M182.62,311.5a1.05,1.05 0 1,0 2.1,0a1.05,1.05 0 1,0 -2.1,0M170.27,312.97a1.05,1.05 0 1,0 2.1,0a1.05,1.05 0 1,0 -2.1,0M100.55,312.07a1.05,1.05 0 1,0 2.1,0a1.05,1.05 0 1,0 -2.1,0M171.46,312.32a1.05,1.05 0 1,0 2.1,0a1.05,1.05 0 1,0 -2.1,0M137.8,311.11a1.05,1.05 0 1,0 2.1,0a1.05,1.05 0 1,0 -2.1,0M183.16,311.47a1.05,1.05 0 1,0 2.1,0a1.05,1.05 0 1,0 -2.1,0M81.47,311.41a1.05,1.05 0 1,0 2.1,0a1.05,1.05 0 1,0 -2.1,0M122.5,312.77a1.05,1.05 0 1,0 2.1,0a1.05,1.05 0 1,0 -2.1,0M144.67,312.44a1.05,1.05 0 1,0 2.1,0a1.05,1.05 0 1,0 -2.1,0M81.83,312.42a1.05,1.05 0 1,0 2.1,0a1.05,1.05 0 1,0 -2.1,0M130.4,312.42a1.05,1.05 0 1,0 2.1,0a1.05,1.05 0 1,0 -2.1,0M139.43,312.51a1.05,1.05 0 1,0 2.1,0a1.05,1.05 0 1,0 -2.1,0M104.14,311.52a1.05,1.05 0 1,0 2.1,0a1.05,1.05 0 1,0 -2.1,0M96.28,312.61a1.05,1.05 0 1,0 2.1,0a1.05,1.05 0 1,0 -2.1,0M104.83,311.41a1.05,1.05 0 1,0 2.1,0a1.05,1.05 0 1,0 -2.1,0M118.1,312.98a1.05,1.05 0 1,0 2.1,0a1.05,1.05 0 1,0 -2.1,0M95.34,312.42a1.05,1.05 0 1,0 2.1,0a1.05,1.05 0 1,0 -2.1,0M149.03,312.05a1.05,1.05 0 1,0 2.1,0a1.05,1.05 0 1,0 -2.1,0M128.1,312.1a1.05,1.05 0 1,0 2.1,0a1.05,1.05 0 1,0 -2.1,0M165.22,312.83a1.05,1.05 0 1,0 2.1,0a1.05,1.05 0 1,0 -2.1,0M127.03,312.82a1.05,1.05 0 1,0 2.1,0a1.05,1.05 0 1,0 -2.1,0M85.87,311.91a1.05,1.05 0 1,0 2.1,0a1.05,1.05 0 1,0 -2.1,0M85.34,312.01a1.05,1.05 0 1,0 2.1,0a1.05,1.05 0 1,0 -2.1,0M156.54,312.61a1.05,1.05 0 1,0 2.1,0a1.05,1.05 0 1,0 -2.1,0M146.9,312.33a1.05,1.05 0 1,0 2.1,0a1.05,1.05 0 1,0 -2.1,0M88.56,312.32a1.05,1.05 0 1,0 2.1,0a1.05,1.05 0 1,0 -2.1,0M101.58,312.47a1.05,1.05 0 1,0 2.1,0a1.05,1.05 0 1,0 -2.1,0M182.22,312.85a1.05,1.05 0 1,0 2.1,0a1.05,1.05 0 1,0 -2.1,0M91.36,312.79a1.05,1.05 0 1,0 2.1,0a1.05,1.05 0 1,0 -2.1,0M117.02,312.84a1.05,1.05 0 1,0 2.1,0a1.05,1.05 0 1,0 -2.1,0M158.94,312.63a1.05,1.05 0 1,0 2.1,0a1.05,1.05 0 1,0 -2.1,0M177.01,312.92a1.05,1.05 0 1,0 2.1,0a1.05,1.05 0 1,0 -2.1,0M108.57,311.58a1.05,1.05 0 1,0 2.1,0a1.05,1.05 0 1,0 -2.1,0M105.9,312.61a1.05,1.05 0 1,0 2.1,0a1.05,1.05 0 1,0 -2.1,0M179.74,312.88a1.05,1.05 0 1,0 2.1,0a1.05,1.05 0 1,0 -2.1,0M114.16,311.8a1.05,1.05 0 1,0 2.1,0a1.05,1.05 0 1,0 -2.1,0M119.27,312.39a1.05,1.05 0 1,0 2.1,0a1.05,1.05 0 1,0 -2.1,0M140.16,312.7a1.05,1.05 0 1,0 2.1,0a1.05,1.05 0 1,0 -2.1,0M106.27,312.91a1.05,1.05 0 1,0 2.1,0a1.05,1.05 0 1,0 -2.1,0M97.76,312.58a1.05,1.05 0 1,0 2.1,0a1.05,1.05 0 1,0 -2.1,0M99.83,311.97a1.05,1.05 0 1,0 2.1,0a1.05,1.05 0 1,0 -2.1,0M152.24,312.29a1.05,1.05 0 1,0 2.1,0a1.05,1.05 0 1,0 -2.1,0M96.21,311.84a1.05,1.05 0 1,0 2.1,0a1.05,1.05 0 1,0 -2.1,0M146.9,311.91a1.05,1.05 0 1,0 2.1,0a1.05,1.05 0 1,0 -2.1,0M167.68,312.06a1.05,1.05 0 1,0 2.1,0a1.05,1.05 0 1,0 -2.1,0M155.57,312.58a1.05,1.05 0 1,0 2.1,0a1.05,1.05 0 1,0 -2.1,0M97.77,311.74a1.05,1.05 0 1,0 2.1,0a1.05,1.05 0 1,0 -2.1,0M136.75,311.19a1.05,1.05 0 1,0 2.1,0a1.05,1.05 0 1,0 -2.1,0M128.39,312.44a1.05,1.05 0 1,0 2.1,0a1.05,1.05 0 1,0 -2.1,0M185.36,311.55a1.05,1.05 0 1,0 2.1,0a1.05,1.05 0 1,0 -2.1,0M124.55,311.73a1.05,1.05 0 1,0 2.1,0a1.05,1.05 0 1,0 -2.1,0M73.38,311.01a1.05,1.05 0 1,0 2.1,0a1.05,1.05 0 1,0 -2.1,0M82.66,311.61a1.05,1.05 0 1,0 2.1,0a1.05,1.05 0 1,0 -2.1,0M180.03,312.76a1.05,1.05 0 1,0 2.1,0a1.05,1.05 0 1,0 -2.1,0M138.85,312.79a1.05,1.05 0 1,0 2.1,0a1.05,1.05 0 1,0 -2.1,0M85.27,312a1.05,1.05 0 1,0 2.1,0a1.05,1.05 0 1,0 -2.1,0M145.39,312.06a1.05,1.05 0 1,0 2.1,0a1.05,1.05 0 1,0 -2.1,0M148.53,312.93a1.05,1.05 0 1,0 2.1,0a1.05,1.05 0 1,0 -2.1,0M105.4,312.62a1.05,1.05 0 1,0 2.1,0a1.05,1.05 0 1,0 -2.1,0M76.07,311.71a1.05,1.05 0 1,0 2.1,0a1.05,1.05 0 1,0 -2.1,0M115.19,312.7a1.05,1.05 0 1,0 2.1,0a1.05,1.05 0 1,0 -2.1,0M116.9,312.64a1.05,1.05 0 1,0 2.1,0a1.05,1.05 0 1,0 -2.1,0M105.42,312.31a1.05,1.05 0 1,0 2.1,0a1.05,1.05 0 1,0 -2.1,0M111.48,312.14a1.05,1.05 0 1,0 2.1,0a1.05,1.05 0 1,0 -2.1,0M154.39,310.71a1.05,1.05 0 1,0 2.1,0a1.05,1.05 0 1,0 -2.1,0M118.54,312.92a1.05,1.05 0 1,0 2.1,0a1.05,1.05 0 1,0 -2.1,0M116.48,312.39a1.05,1.05 0 1,0 2.1,0a1.05,1.05 0 1,0 -2.1,0M112.31,312.85a1.05,1.05 0 1,0 2.1,0a1.05,1.05 0 1,0 -2.1,0M85.81,310.6a1.05,1.05 0 1,0 2.1,0a1.05,1.05 0 1,0 -2.1,0M91.87,312.68a1.05,1.05 0 1,0 2.1,0a1.05,1.05 0 1,0 -2.1,0M125.49,312.06a1.05,1.05 0 1,0 2.1,0a1.05,1.05 0 1,0 -2.1,0M165.76,312.53a1.05,1.05 0 1,0 2.1,0a1.05,1.05 0 1,0 -2.1,0M161.2,311.3a1.05,1.05 0 1,0 2.1,0a1.05,1.05 0 1,0 -2.1,0M166.31,311.84a1.05,1.05 0 1,0 2.1,0a1.05,1.05 0 1,0 -2.1,0M94.32,311.96a1.05,1.05 0 1,0 2.1,0a1.05,1.05 0 1,0 -2.1,0M83.12,312.88a1.05,1.05 0 1,0 2.1,0a1.05,1.05 0 1,0 -2.1,0M157.86,312.72a1.05,1.05 0 1,0 2.1,0a1.05,1.05 0 1,0 -2.1,0M139.25,312.55a1.05,1.05 0 1,0 2.1,0a1.05,1.05 0 1,0 -2.1,0M142.49,311.77a1.05,1.05 0 1,0 2.1,0a1.05,1.05 0 1,0 -2.1,0M118.78,312.32a1.05,1.05 0 1,0 2.1,0a1.05,1.05 0 1,0 -2.1,0M121.26,311.54a1.05,1.05 0 1,0 2.1,0a1.05,1.05 0 1,0 -2.1,0M126.29,312.78a1.05,1.05 0 1,0 2.1,0a1.05,1.05 0 1,0 -2.1,0M122.61,312.5a1.05,1.05 0 1,0 2.1,0a1.05,1.05 0 1,0 -2.1,0M128.72,312.92a1.05,1.05 0 1,0 2.1,0a1.05,1.05 0 1,0 -2.1,0M143.6,312.81a1.05,1.05 0 1,0 2.1,0a1.05,1.05 0 1,0 -2.1,0M128.88,311.16a1.05,1.05 0 1,0 2.1,0a1.05,1.05 0 1,0 -2.1,0M127.99,312.45a1.05,1.05 0 1,0 2.1,0a1.05,1.05 0 1,0 -2.1,0M126.57,312.83a1.05,1.05 0 1,0 2.1,0a1.05,1.05 0 1,0 -2.1,0M176.54,312.41a1.05,1.05 0 1,0 2.1,0a1.05,1.05 0 1,0 -2.1,0M157.71,310.61a1.05,1.05 0 1,0 2.1,0a1.05,1.05 0 1,0 -2.1,0M174.24,312.76a1.05,1.05 0 1,0 2.1,0a1.05,1.05 0 1,0 -2.1,0M127.79,312.46a1.05,1.05 0 1,0 2.1,0a1.05,1.05 0 1,0 -2.1,0M93.16,312.07a1.05,1.05 0 1,0 2.1,0a1.05,1.05 0 1,0 -2.1,0M72.96,312.96a1.05,1.05 0 1,0 2.1,0a1.05,1.05 0 1,0 -2.1,0M143.58,312.05a1.05,1.05 0 1,0 2.1,0a1.05,1.05 0 1,0 -2.1,0M142.81,312.03a1.05,1.05 0 1,0 2.1,0a1.05,1.05 0 1,0 -2.1,0M162.59,311.61a1.05,1.05 0 1,0 2.1,0a1.05,1.05 0 1,0 -2.1,0M111.06,312.92a1.05,1.05 0 1,0 2.1,0a1.05,1.05 0 1,0 -2.1,0M120.73,312.99a1.05,1.05 0 1,0 2.1,0a1.05,1.05 0 1,0 -2.1,0M165.2,312.67a1.05,1.05 0 1,0 2.1,0a1.05,1.05 0 1,0 -2.1,0M137.64,312.98a1.05,1.05 0 1,0 2.1,0a1.05,1.05 0 1,0 -2.1,0M72.6,312.94a1.05,1.05 0 1,0 2.1,0a1.05,1.05 0 1,0 -2.1,0M141.2,310.75a1.05,1.05 0 1,0 2.1,0a1.05,1.05 0 1,0 -2.1,0M84.17,312.82a1.05,1.05 0 1,0 2.1,0a1.05,1.05 0 1,0 -2.1,0M145.56,312a1.05,1.05 0 1,0 2.1,0a1.05,1.05 0 1,0 -2.1,0M81.15,312.98a1.05,1.05 0 1,0 2.1,0a1.05,1.05 0 1,0 -2.1,0M138.02,312.14a1.05,1.05 0 1,0 2.1,0a1.05,1.05 0 1,0 -2.1,0M97.32,312.15a1.05,1.05 0 1,0 2.1,0a1.05,1.05 0 1,0 -2.1,0M115.97,311.47a1.05,1.05 0 1,0 2.1,0a1.05,1.05 0 1,0 -2.1,0M134.87,312.89a1.05,1.05 0 1,0 2.1,0a1.05,1.05 0 1,0 -2.1,0M144.68,311.4a1.05,1.05 0 1,0 2.1,0a1.05,1.05 0 1,0 -2.1,0M116.45,312.33a1.05,1.05 0 1,0 2.1,0a1.05,1.05 0 1,0 -2.1,0M179.47,312.55a1.05,1.05 0 1,0 2.1,0a1.05,1.05 0 1,0 -2.1,0M128.34,311.62a1.05,1.05 0 1,0 2.1,0a1.05,1.05 0 1,0 -2.1,0M164.44,312.67a1.05,1.05 0 1,0 2.1,0a1.05,1.05 0 1,0 -2.1,0M95.24,312.16a1.05,1.05 0 1,0 2.1,0a1.05,1.05 0 1,0 -2.1,0M95.99,312.09a1.05,1.05 0 1,0 2.1,0a1.05,1.05 0 1,0 -2.1,0M152.46,311.48a1.05,1.05 0 1,0 2.1,0a1.05,1.05 0 1,0 -2.1,0M133.86,312.69a1.05,1.05 0 1,0 2.1,0a1.05,1.05 0 1,0 -2.1,0M182.32,311.74a1.05,1.05 0 1,0 2.1,0a1.05,1.05 0 1,0 -2.1,0M172.3,312.95a1.05,1.05 0 1,0 2.1,0a1.05,1.05 0 1,0 -2.1,0M156.52,312.22a1.05,1.05 0 1,0 2.1,0a1.05,1.05 0 1,0 -2.1,0M123.93,312.32a1.05,1.05 0 1,0 2.1,0a1.05,1.05 0 1,0 -2.1,0M120.13,311.01a1.05,1.05 0 1,0 2.1,0a1.05,1.05 0 1,0 -2.1,0M135.81,312.65a1.05,1.05 0 1,0 2.1,0a1.05,1.05 0 1,0 -2.1,0M85.65,311.56a1.05,1.05 0 1,0 2.1,0a1.05,1.05 0 1,0 -2.1,0M109.25,312.69a1.05,1.05 0 1,0 2.1,0a1.05,1.05 0 1,0 -2.1,0M111.43,312.94a1.05,1.05 0 1,0 2.1,0a1.05,1.05 0 1,0 -2.1,0M81.24,312.79a1.05,1.05 0 1,0 2.1,0a1.05,1.05 0 1,0 -2.1,0M143.02,312.82a1.05,1.05 0 1,0 2.1,0a1.05,1.05 0 1,0 -2.1,0M80.39,312.97a1.05,1.05 0 1,0 2.1,0a1.05,1.05 0 1,0 -2.1,0M106.22,312.28a1.05,1.05 0 1,0 2.1,0a1.05,1.05 0 1,0 -2.1,0M71.08,312.66a1.05,1.05 0 1,0 2.1,0a1.05,1.05 0 1,0 -2.1,0M111.98,311.35a1.05,1.05 0 1,0 2.1,0a1.05,1.05 0 1,0 -2.1,0M120.04,312.05a1.05,1.05 0 1,0 2.1,0a1.05,1.05 0 1,0 -2.1,0M131.99,311.64a1.05,1.05 0 1,0 2.1,0a1.05,1.05 0 1,0 -2.1,0M170.2,312.72a1.05,1.05 0 1,0 2.1,0a1.05,1.05 0 1,0 -2.1,0M68.77,312.41a1.05,1.05 0 1,0 2.1,0a1.05,1.05 0 1,0 -2.1,0M126.52,312.5a1.05,1.05 0 1,0 2.1,0a1.05,1.05 0 1,0 -2.1,0M102.05,311.86a1.05,1.05 0 1,0 2.1,0a1.05,1.05 0 1,0 -2.1,0M142.6,312.13a1.05,1.05 0 1,0 2.1,0a1.05,1.05 0 1,0 -2.1,0M173.52,312.38a1.05,1.05 0 1,0 2.1,0a1.05,1.05 0 1,0 -2.1,0M173.29,312.77a1.05,1.05 0 1,0 2.1,0a1.05,1.05 0 1,0 -2.1,0M113.31,312.2a1.05,1.05 0 1,0 2.1,0a1.05,1.05 0 1,0 -2.1,0M96.14,311.25a1.05,1.05 0 1,0 2.1,0a1.05,1.05 0 1,0 -2.1,0M109.68,312.65a1.05,1.05 0 1,0 2.1,0a1.05,1.05 0 1,0 -2.1,0M88.59,312.79a1.05,1.05 0 1,0 2.1,0a1.05,1.05 0 1,0 -2.1,0M172.9,311.62a1.05,1.05 0 1,0 2.1,0a1.05,1.05 0 1,0 -2.1,0M91.19,312.41a1.05,1.05 0 1,0 2.1,0a1.05,1.05 0 1,0 -2.1,0M86.83,311.04a1.05,1.05 0 1,0 2.1,0a1.05,1.05 0 1,0 -2.1,0M97.79,312.38a1.05,1.05 0 1,0 2.1,0a1.05,1.05 0 1,0 -2.1,0M107.27,312.91a1.05,1.05 0 1,0 2.1,0a1.05,1.05 0 1,0 -2.1,0M155.01,312.5a1.05,1.05 0 1,0 2.1,0a1.05,1.05 0 1,0 -2.1,0M81.21,311.57a1.05,1.05 0 1,0 2.1,0a1.05,1.05 0 1,0 -2.1,0M114.37,311.48a1.05,1.05 0 1,0 2.1,0a1.05,1.05 0 1,0 -2.1,0M150.31,311.88a1.05,1.05 0 1,0 2.1,0a1.05,1.05 0 1,0 -2.1,0M143.12,312.09a1.05,1.05 0 1,0 2.1,0a1.05,1.05 0 1,0 -2.1,0M116.3,311.87a1.05,1.05 0 1,0 2.1,0a1.05,1.05 0 1,0 -2.1,0M118.24,312.62a1.05,1.05 0 1,0 2.1,0a1.05,1.05 0 1,0 -2.1,0M144.2,310.84a1.05,1.05 0 1,0 2.1,0a1.05,1.05 0 1,0 -2.1,0M105.5,312.09a1.05,1.05 0 1,0 2.1,0a1.05,1.05 0 1,0 -2.1,0M142.79,312.36a1.05,1.05 0 1,0 2.1,0a1.05,1.05 0 1,0 -2.1,0M118.52,312.21a1.05,1.05 0 1,0 2.1,0a1.05,1.05 0 1,0 -2.1,0M160.3,312.24a1.05,1.05 0 1,0 2.1,0a1.05,1.05 0 1,0 -2.1,0M126.33,311.71a1.05,1.05 0 1,0 2.1,0a1.05,1.05 0 1,0 -2.1,0M132.36,312.68a1.05,1.05 0 1,0 2.1,0a1.05,1.05 0 1,0 -2.1,0M128.96,312.38a1.05,1.05 0 1,0 2.1,0a1.05,1.05 0 1,0 -2.1,0M116.96,311.86a1.05,1.05 0 1,0 2.1,0a1.05,1.05 0 1,0 -2.1,0M114.86,310.79a1.05,1.05 0 1,0 2.1,0a1.05,1.05 0 1,0 -2.1,0M110.5,310.86a1.05,1.05 0 1,0 2.1,0a1.05,1.05 0 1,0 -2.1,0M100.94,311.9a1.05,1.05 0 1,0 2.1,0a1.05,1.05 0 1,0 -2.1,0M118.16,312.91a1.05,1.05 0 1,0 2.1,0a1.05,1.05 0 1,0 -2.1,0M110.1,312.72a1.05,1.05 0 1,0 2.1,0a1.05,1.05 0 1,0 -2.1,0M114.8,311.27a1.05,1.05 0 1,0 2.1,0a1.05,1.05 0 1,0 -2.1,0M123.89,312.59a1.05,1.05 0 1,0 2.1,0a1.05,1.05 0 1,0 -2.1,0M110.22,310.29a1.05,1.05 0 1,0 2.1,0a1.05,1.05 0 1,0 -2.1,0M123.77,312.47a1.05,1.05 0 1,0 2.1,0a1.05,1.05 0 1,0 -2.1,0M168.84,312.84a1.05,1.05 0 1,0 2.1,0a1.05,1.05 0 1,0 -2.1,0M112.93,312.39a1.05,1.05 0 1,0 2.1,0a1.05,1.05 0 1,0 -2.1,0M101.75,312.69a1.05,1.05 0 1,0 2.1,0a1.05,1.05 0 1,0 -2.1,0M104.18,311.64a1.05,1.05 0 1,0 2.1,0a1.05,1.05 0 1,0 -2.1,0M146.29,312.34a1.05,1.05 0 1,0 2.1,0a1.05,1.05 0 1,0 -2.1,0M143.21,310.39a1.05,1.05 0 1,0 2.1,0a1.05,1.05 0 1,0 -2.1,0M145.9,312.81a1.05,1.05 0 1,0 2.1,0a1.05,1.05 0 1,0 -2.1,0M80.58,312.81a1.05,1.05 0 1,0 2.1,0a1.05,1.05 0 1,0 -2.1,0M109.43,311.17a1.05,1.05 0 1,0 2.1,0a1.05,1.05 0 1,0 -2.1,0M131.15,310.96a1.05,1.05 0 1,0 2.1,0a1.05,1.05 0 1,0 -2.1,0M134.01,312.17a1.05,1.05 0 1,0 2.1,0a1.05,1.05 0 1,0 -2.1,0M96.21,312.63a1.05,1.05 0 1,0 2.1,0a1.05,1.05 0 1,0 -2.1,0M123.65,312.98a1.05,1.05 0 1,0 2.1,0a1.05,1.05 0 1,0 -2.1,0M126.51,310.94a1.05,1.05 0 1,0 2.1,0a1.05,1.05 0 1,0 -2.1,0M123.75,312.48a1.05,1.05 0 1,0 2.1,0a1.05,1.05 0 1,0 -2.1,0M112.79,312.59a1.05,1.05 0 1,0 2.1,0a1.05,1.05 0 1,0 -2.1,0M128.78,312.9a1.05,1.05 0 1,0 2.1,0a1.05,1.05 0 1,0 -2.1,0M174.36,312.7a1.05,1.05 0 1,0 2.1,0a1.05,1.05 0 1,0 -2.1,0M111.76,311.54a1.05,1.05 0 1,0 2.1,0a1.05,1.05 0 1,0 -2.1,0M130.53,312.72a1.05,1.05 0 1,0 2.1,0a1.05,1.05 0 1,0 -2.1,0M118.38,311.9a1.05,1.05 0 1,0 2.1,0a1.05,1.05 0 1,0 -2.1,0M166.02,312.49a1.05,1.05 0 1,0 2.1,0a1.05,1.05 0 1,0 -2.1,0M127.97,312.04a1.05,1.05 0 1,0 2.1,0a1.05,1.05 0 1,0 -2.1,0M107.6,312.57a1.05,1.05 0 1,0 2.1,0a1.05,1.05 0 1,0 -2.1,0M74.48,311.65a1.05,1.05 0 1,0 2.1,0a1.05,1.05 0 1,0 -2.1,0M69.35,311.72a1.05,1.05 0 1,0 2.1,0a1.05,1.05 0 1,0 -2.1,0M141.27,312.31a1.05,1.05 0 1,0 2.1,0a1.05,1.05 0 1,0 -2.1,0M148.85,312.41a1.05,1.05 0 1,0 2.1,0a1.05,1.05 0 1,0 -2.1,0M158.47,311.98a1.05,1.05 0 1,0 2.1,0a1.05,1.05 0 1,0 -2.1,0M89.98,312.64a1.05,1.05 0 1,0 2.1,0a1.05,1.05 0 1,0 -2.1,0M145.87,310.67a1.05,1.05 0 1,0 2.1,0a1.05,1.05 0 1,0 -2.1,0M134.84,312.64a1.05,1.05 0 1,0 2.1,0a1.05,1.05 0 1,0 -2.1,0M106.14,311.95a1.05,1.05 0 1,0 2.1,0a1.05,1.05 0 1,0 -2.1,0M73.26,312.48a1.05,1.05 0 1,0 2.1,0a1.05,1.05 0 1,0 -2.1,0M117.21,311.71a1.05,1.05 0 1,0 2.1,0a1.05,1.05 0 1,0 -2.1,0M144.55,312.89a1.05,1.05 0 1,0 2.1,0a1.05,1.05 0 1,0 -2.1,0M83.81,312.85a1.05,1.05 0 1,0 2.1,0a1.05,1.05 0 1,0 -2.1,0M153.37,312.93a1.05,1.05 0 1,0 2.1,0a1.05,1.05 0 1,0 -2.1,0M154.59,312.32a1.05,1.05 0 1,0 2.1,0a1.05,1.05 0 1,0 -2.1,0M122.88,312.93a1.05,1.05 0 1,0 2.1,0a1.05,1.05 0 1,0 -2.1,0M153.11,310.25a1.05,1.05 0 1,0 2.1,0a1.05,1.05 0 1,0 -2.1,0M164.91,312.36a1.05,1.05 0 1,0 2.1,0a1.05,1.05 0 1,0 -2.1,0M125.91,311.4a1.05,1.05 0 1,0 2.1,0a1.05,1.05 0 1,0 -2.1,0M111.92,311.52a1.05,1.05 0 1,0 2.1,0a1.05,1.05 0 1,0 -2.1,0M111.42,312.4a1.05,1.05 0 1,0 2.1,0a1.05,1.05 0 1,0 -2.1,0M142.81,311.59a1.05,1.05 0 1,0 2.1,0a1.05,1.05 0 1,0 -2.1,0M135.4,311.77a1.05,1.05 0 1,0 2.1,0a1.05,1.05 0 1,0 -2.1,0M107.74,311.01a1.05,1.05 0 1,0 2.1,0a1.05,1.05 0 1,0 -2.1,0M139.44,312.72a1.05,1.05 0 1,0 2.1,0a1.05,1.05 0 1,0 -2.1,0M119.11,311.84a1.05,1.05 0 1,0 2.1,0a1.05,1.05 0 1,0 -2.1,0M163.75,311.87a1.05,1.05 0 1,0 2.1,0a1.05,1.05 0 1,0 -2.1,0M68.82,311.75a1.05,1.05 0 1,0 2.1,0a1.05,1.05 0 1,0 -2.1,0M136,312.34a1.05,1.05 0 1,0 2.1,0a1.05,1.05 0 1,0 -2.1,0M109.48,311.21a1.05,1.05 0 1,0 2.1,0a1.05,1.05 0 1,0 -2.1,0M178.39,312.37a1.05,1.05 0 1,0 2.1,0a1.05,1.05 0 1,0 -2.1,0M123.44,312.95a1.05,1.05 0 1,0 2.1,0a1.05,1.05 0 1,0 -2.1,0M159.59,311.23a1.05,1.05 0 1,0 2.1,0a1.05,1.05 0 1,0 -2.1,0M124.77,312.74a1.05,1.05 0 1,0 2.1,0a1.05,1.05 0 1,0 -2.1,0M111.36,312.35a1.05,1.05 0 1,0 2.1,0a1.05,1.05 0 1,0 -2.1,0M116.04,312.81a1.05,1.05 0 1,0 2.1,0a1.05,1.05 0 1,0 -2.1,0M161.38,312.74a1.05,1.05 0 1,0 2.1,0a1.05,1.05 0 1,0 -2.1,0M138.98,312.78a1.05,1.05 0 1,0 2.1,0a1.05,1.05 0 1,0 -2.1,0M135.44,312.97a1.05,1.05 0 1,0 2.1,0a1.05,1.05 0 1,0 -2.1,0M98.54,312.8a1.05,1.05 0 1,0 2.1,0a1.05,1.05 0 1,0 -2.1,0M78.48,312.36a1.05,1.05 0 1,0 2.1,0a1.05,1.05 0 1,0 -2.1,0M122.61,312.67a1.05,1.05 0 1,0 2.1,0a1.05,1.05 0 1,0 -2.1,0M139.08,312.79a1.05,1.05 0 1,0 2.1,0a1.05,1.05 0 1,0 -2.1,0M98.92,311.31a1.05,1.05 0 1,0 2.1,0a1.05,1.05 0 1,0 -2.1,0M147.52,310.94a1.05,1.05 0 1,0 2.1,0a1.05,1.05 0 1,0 -2.1,0M121.44,309.78a1.05,1.05 0 1,0 2.1,0a1.05,1.05 0 1,0 -2.1,0M94.74,312.3a1.05,1.05 0 1,0 2.1,0a1.05,1.05 0 1,0 -2.1,0M98.76,311.11a1.05,1.05 0 1,0 2.1,0a1.05,1.05 0 1,0 -2.1,0M167.25,311.68a1.05,1.05 0 1,0 2.1,0a1.05,1.05 0 1,0 -2.1,0M75.19,312.92a1.05,1.05 0 1,0 2.1,0a1.05,1.05 0 1,0 -2.1,0M148.36,310.48a1.05,1.05 0 1,0 2.1,0a1.05,1.05 0 1,0 -2.1,0M81.04,312.98a1.05,1.05 0 1,0 2.1,0a1.05,1.05 0 1,0 -2.1,0M125.32,312.45a1.05,1.05 0 1,0 2.1,0a1.05,1.05 0 1,0 -2.1,0M96.71,312.93a1.05,1.05 0 1,0 2.1,0a1.05,1.05 0 1,0 -2.1,0M153.12,312.85a1.05,1.05 0 1,0 2.1,0a1.05,1.05 0 1,0 -2.1,0M121.91,312.46a1.05,1.05 0 1,0 2.1,0a1.05,1.05 0 1,0 -2.1,0M142.63,311.91a1.05,1.05 0 1,0 2.1,0a1.05,1.05 0 1,0 -2.1,0M94.73,312.69a1.05,1.05 0 1,0 2.1,0a1.05,1.05 0 1,0 -2.1,0M100,311.68a1.05,1.05 0 1,0 2.1,0a1.05,1.05 0 1,0 -2.1,0M86.96,312.49a1.05,1.05 0 1,0 2.1,0a1.05,1.05 0 1,0 -2.1,0M147.35,312.19a1.05,1.05 0 1,0 2.1,0a1.05,1.05 0 1,0 -2.1,0M124.87,312.97a1.05,1.05 0 1,0 2.1,0a1.05,1.05 0 1,0 -2.1,0M80.11,312.29a1.05,1.05 0 1,0 2.1,0a1.05,1.05 0 1,0 -2.1,0M174.2,312.87a1.05,1.05 0 1,0 2.1,0a1.05,1.05 0 1,0 -2.1,0M183.91,312.12a1.05,1.05 0 1,0 2.1,0a1.05,1.05 0 1,0 -2.1,0M163.7,312.96a1.05,1.05 0 1,0 2.1,0a1.05,1.05 0 1,0 -2.1,0M90.51,312.95a1.05,1.05 0 1,0 2.1,0a1.05,1.05 0 1,0 -2.1,0M176.06,312.48a1.05,1.05 0 1,0 2.1,0a1.05,1.05 0 1,0 -2.1,0M152.46,312.75a1.05,1.05 0 1,0 2.1,0a1.05,1.05 0 1,0 -2.1,0M77.96,312.03a1.05,1.05 0 1,0 2.1,0a1.05,1.05 0 1,0 -2.1,0M100.89,312.22a1.05,1.05 0 1,0 2.1,0a1.05,1.05 0 1,0 -2.1,0M92.45,312.88a1.05,1.05 0 1,0 2.1,0a1.05,1.05 0 1,0 -2.1,0M153.64,311.92a1.05,1.05 0 1,0 2.1,0a1.05,1.05 0 1,0 -2.1,0M164.12,311.84a1.05,1.05 0 1,0 2.1,0a1.05,1.05 0 1,0 -2.1,0M126.7,311.22a1.05,1.05 0 1,0 2.1,0a1.05,1.05 0 1,0 -2.1,0M171.35,312.21a1.05,1.05 0 1,0 2.1,0a1.05,1.05 0 1,0 -2.1,0M111.87,311.15a1.05,1.05 0 1,0 2.1,0a1.05,1.05 0 1,0 -2.1,0M112.35,311.71a1.05,1.05 0 1,0 2.1,0a1.05,1.05 0 1,0 -2.1,0M121.14,312.96a1.05,1.05 0 1,0 2.1,0a1.05,1.05 0 1,0 -2.1,0M106.43,311.7a1.05,1.05 0 1,0 2.1,0a1.05,1.05 0 1,0 -2.1,0M129.09,311.8a1.05,1.05 0 1,0 2.1,0a1.05,1.05 0 1,0 -2.1,0M131.92,312.26a1.05,1.05 0 1,0 2.1,0a1.05,1.05 0 1,0 -2.1,0M90.11,312.85a1.05,1.05 0 1,0 2.1,0a1.05,1.05 0 1,0 -2.1,0M72.16,312.78a1.05,1.05 0 1,0 2.1,0a1.05,1.05 0 1,0 -2.1,0M136.54,312.33a1.05,1.05 0 1,0 2.1,0a1.05,1.05 0 1,0 -2.1,0M151.4,311.85a1.05,1.05 0 1,0 2.1,0a1.05,1.05 0 1,0 -2.1,0M73.94,311.76a1.05,1.05 0 1,0 2.1,0a1.05,1.05 0 1,0 -2.1,0M126.77,312.9a1.05,1.05 0 1,0 2.1,0a1.05,1.05 0 1,0 -2.1,0M116.41,312.47a1.05,1.05 0 1,0 2.1,0a1.05,1.05 0 1,0 -2.1,0M156.57,311.85a1.05,1.05 0 1,0 2.1,0a1.05,1.05 0 1,0 -2.1,0M114.42,310.77a1.05,1.05 0 1,0 2.1,0a1.05,1.05 0 1,0 -2.1,0M160.15,312.94a1.05,1.05 0 1,0 2.1,0a1.05,1.05 0 1,0 -2.1,0M119.94,312.04a1.05,1.05 0 1,0 2.1,0a1.05,1.05 0 1,0 -2.1,0M97.99,312.32a1.05,1.05 0 1,0 2.1,0a1.05,1.05 0 1,0 -2.1,0M131.15,312.25a1.05,1.05 0 1,0 2.1,0a1.05,1.05 0 1,0 -2.1,0M119.64,312.42a1.05,1.05 0 1,0 2.1,0a1.05,1.05 0 1,0 -2.1,0M172.84,312.92a1.05,1.05 0 1,0 2.1,0a1.05,1.05 0 1,0 -2.1,0M144.2,312.63a1.05,1.05 0 1,0 2.1,0a1.05,1.05 0 1,0 -2.1,0M141.81,312.23a1.05,1.05 0 1,0 2.1,0a1.05,1.05 0 1,0 -2.1,0M129.92,312.17a1.05,1.05 0 1,0 2.1,0a1.05,1.05 0 1,0 -2.1,0M104.6,312.73a1.05,1.05 0 1,0 2.1,0a1.05,1.05 0 1,0 -2.1,0M100.24,312.41a1.05,1.05 0 1,0 2.1,0a1.05,1.05 0 1,0 -2.1,0M83.22,312.87a1.05,1.05 0 1,0 2.1,0a1.05,1.05 0 1,0 -2.1,0M103.21,312.81a1.05,1.05 0 1,0 2.1,0a1.05,1.05 0 1,0 -2.1,0M135.79,312.23a1.05,1.05 0 1,0 2.1,0a1.05,1.05 0 1,0 -2.1,0M122.92,312.09a1.05,1.05 0 1,0 2.1,0a1.05,1.05 0 1,0 -2.1,0M105.2,312.22a1.05,1.05 0 1,0 2.1,0a1.05,1.05 0 1,0 -2.1,0M94.72,311.95a1.05,1.05 0 1,0 2.1,0a1.05,1.05 0 1,0 -2.1,0M170.16,312.05a1.05,1.05 0 1,0 2.1,0a1.05,1.05 0 1,0 -2.1,0M134.2,312.32a1.05,1.05 0 1,0 2.1,0a1.05,1.05 0 1,0 -2.1,0M87.3,309.92a1.05,1.05 0 1,0 2.1,0a1.05,1.05 0 1,0 -2.1,0M120.44,312.41a1.05,1.05 0 1,0 2.1,0a1.05,1.05 0 1,0 -2.1,0M86.82,312.52a1.05,1.05 0 1,0 2.1,0a1.05,1.05 0 1,0 -2.1,0M110.14,311.46a1.05,1.05 0 1,0 2.1,0a1.05,1.05 0 1,0 -2.1,0M176.38,311.62a1.05,1.05 0 1,0 2.1,0a1.05,1.05 0 1,0 -2.1,0M171.21,312.86a1.05,1.05 0 1,0 2.1,0a1.05,1.05 0 1,0 -2.1,0M127.28,311.59a1.05,1.05 0 1,0 2.1,0a1.05,1.05 0 1,0 -2.1,0M136,312.55a1.05,1.05 0 1,0 2.1,0a1.05,1.05 0 1,0 -2.1,0M140.17,310.89a1.05,1.05 0 1,0 2.1,0a1.05,1.05 0 1,0 -2.1,0M121.9,312.85a1.05,1.05 0 1,0 2.1,0a1.05,1.05 0 1,0 -2.1,0M114.65,312.13a1.05,1.05 0 1,0 2.1,0a1.05,1.05 0 1,0 -2.1,0M113.92,312.52a1.05,1.05 0 1,0 2.1,0a1.05,1.05 0 1,0 -2.1,0M127.47,310.98a1.05,1.05 0 1,0 2.1,0a1.05,1.05 0 1,0 -2.1,0M90.32,312.15a1.05,1.05 0 1,0 2.1,0a1.05,1.05 0 1,0 -2.1,0M137.14,311.9a1.05,1.05 0 1,0 2.1,0a1.05,1.05 0 1,0 -2.1,0M181.57,310.91a1.05,1.05 0 1,0 2.1,0a1.05,1.05 0 1,0 -2.1,0M69.88,311.96a1.05,1.05 0 1,0 2.1,0a1.05,1.05 0 1,0 -2.1,0M135.17,311.39a1.05,1.05 0 1,0 2.1,0a1.05,1.05 0 1,0 -2.1,0M129.58,312.12a1.05,1.05 0 1,0 2.1,0a1.05,1.05 0 1,0 -2.1,0M149.35,312.1a1.05,1.05 0 1,0 2.1,0a1.05,1.05 0 1,0 -2.1,0M148.32,311.89a1.05,1.05 0 1,0 2.1,0a1.05,1.05 0 1,0 -2.1,0M115.85,311.04a1.05,1.05 0 1,0 2.1,0a1.05,1.05 0 1,0 -2.1,0M120.48,312.02a1.05,1.05 0 1,0 2.1,0a1.05,1.05 0 1,0 -2.1,0M131.08,312.56a1.05,1.05 0 1,0 2.1,0a1.05,1.05 0 1,0 -2.1,0M129.01,312.18a1.05,1.05 0 1,0 2.1,0a1.05,1.05 0 1,0 -2.1,0M87.05,311.74a1.05,1.05 0 1,0 2.1,0a1.05,1.05 0 1,0 -2.1,0M90.78,312.91a1.05,1.05 0 1,0 2.1,0a1.05,1.05 0 1,0 -2.1,0M142.85,310.95a1.05,1.05 0 1,0 2.1,0a1.05,1.05 0 1,0 -2.1,0M143.61,310.3a1.05,1.05 0 1,0 2.1,0a1.05,1.05 0 1,0 -2.1,0M117.09,312.43a1.05,1.05 0 1,0 2.1,0a1.05,1.05 0 1,0 -2.1,0M147.33,311.47a1.05,1.05 0 1,0 2.1,0a1.05,1.05 0 1,0 -2.1,0M127.27,312.85a1.05,1.05 0 1,0 2.1,0a1.05,1.05 0 1,0 -2.1,0M136.3,311.47a1.05,1.05 0 1,0 2.1,0a1.05,1.05 0 1,0 -2.1,0M82.93,312.97a1.05,1.05 0 1,0 2.1,0a1.05,1.05 0 1,0 -2.1,0M80.41,312.5a1.05,1.05 0 1,0 2.1,0a1.05,1.05 0 1,0 -2.1,0M130.18,311.54a1.05,1.05 0 1,0 2.1,0a1.05,1.05 0 1,0 -2.1,0M75.94,311.74a1.05,1.05 0 1,0 2.1,0a1.05,1.05 0 1,0 -2.1,0M159.4,312.79a1.05,1.05 0 1,0 2.1,0a1.05,1.05 0 1,0 -2.1,0M88.58,312.03a1.05,1.05 0 1,0 2.1,0a1.05,1.05 0 1,0 -2.1,0M137.22,312a1.05,1.05 0 1,0 2.1,0a1.05,1.05 0 1,0 -2.1,0M120.41,312.67a1.05,1.05 0 1,0 2.1,0a1.05,1.05 0 1,0 -2.1,0M97.99,311.1a1.05,1.05 0 1,0 2.1,0a1.05,1.05 0 1,0 -2.1,0M164.74,312.12a1.05,1.05 0 1,0 2.1,0a1.05,1.05 0 1,0 -2.1,0M127,312.95a1.05,1.05 0 1,0 2.1,0a1.05,1.05 0 1,0 -2.1,0M153.26,311.94a1.05,1.05 0 1,0 2.1,0a1.05,1.05 0 1,0 -2.1,0M125.69,312.97a1.05,1.05 0 1,0 2.1,0a1.05,1.05 0 1,0 -2.1,0M110.84,312.34a1.05,1.05 0 1,0 2.1,0a1.05,1.05 0 1,0 -2.1,0M134.77,311.97a1.05,1.05 0 1,0 2.1,0a1.05,1.05 0 1,0 -2.1,0M116.12,312.78a1.05,1.05 0 1,0 2.1,0a1.05,1.05 0 1,0 -2.1,0M110,312.69a1.05,1.05 0 1,0 2.1,0a1.05,1.05 0 1,0 -2.1,0M96.56,312.19a1.05,1.05 0 1,0 2.1,0a1.05,1.05 0 1,0 -2.1,0M146.88,312.07a1.05,1.05 0 1,0 2.1,0a1.05,1.05 0 1,0 -2.1,0M79.53,311.62a1.05,1.05 0 1,0 2.1,0a1.05,1.05 0 1,0 -2.1,0M166.99,311.1a1.05,1.05 0 1,0 2.1,0a1.05,1.05 0 1,0 -2.1,0M163.45,312.29a1.05,1.05 0 1,0 2.1,0a1.05,1.05 0 1,0 -2.1,0M110.2,311.08a1.05,1.05 0 1,0 2.1,0a1.05,1.05 0 1,0 -2.1,0M128.09,311.13a1.05,1.05 0 1,0 2.1,0a1.05,1.05 0 1,0 -2.1,0M121.95,312.78a1.05,1.05 0 1,0 2.1,0a1.05,1.05 0 1,0 -2.1,0M111.97,312.2a1.05,1.05 0 1,0 2.1,0a1.05,1.05 0 1,0 -2.1,0M140.27,312.62a1.05,1.05 0 1,0 2.1,0a1.05,1.05 0 1,0 -2.1,0M129.06,312.61a1.05,1.05 0 1,0 2.1,0a1.05,1.05 0 1,0 -2.1,0M113.96,312.16a1.05,1.05 0 1,0 2.1,0a1.05,1.05 0 1,0 -2.1,0M114.56,312.62a1.05,1.05 0 1,0 2.1,0a1.05,1.05 0 1,0 -2.1,0M119.85,308a1.05,1.05 0 1,0 2.1,0a1.05,1.05 0 1,0 -2.1,0M117.59,302.17a1.05,1.05 0 1,0 2.1,0a1.05,1.05 0 1,0 -2.1,0M120.28,310.22a1.05,1.05 0 1,0 2.1,0a1.05,1.05 0 1,0 -2.1,0M119.59,312.42a1.05,1.05 0 1,0 2.1,0a1.05,1.05 0 1,0 -2.1,0M119.74,311.18a1.05,1.05 0 1,0 2.1,0a1.05,1.05 0 1,0 -2.1,0M117.78,299.91a1.05,1.05 0 1,0 2.1,0a1.05,1.05 0 1,0 -2.1,0M119.44,309.15a1.05,1.05 0 1,0 2.1,0a1.05,1.05 0 1,0 -2.1,0M126.1,297.24a1.05,1.05 0 1,0 2.1,0a1.05,1.05 0 1,0 -2.1,0M125.82,296.82a1.05,1.05 0 1,0 2.1,0a1.05,1.05 0 1,0 -2.1,0M117.84,308.05a1.05,1.05 0 1,0 2.1,0a1.05,1.05 0 1,0 -2.1,0M116.75,296.65a1.05,1.05 0 1,0 2.1,0a1.05,1.05 0 1,0 -2.1,0M123.49,310.62a1.05,1.05 0 1,0 2.1,0a1.05,1.05 0 1,0 -2.1,0M120.82,310.9a1.05,1.05 0 1,0 2.1,0a1.05,1.05 0 1,0 -2.1,0M123.87,310.87a1.05,1.05 0 1,0 2.1,0a1.05,1.05 0 1,0 -2.1,0M125.43,307.13a1.05,1.05 0 1,0 2.1,0a1.05,1.05 0 1,0 -2.1,0M123.12,312.08a1.05,1.05 0 1,0 2.1,0a1.05,1.05 0 1,0 -2.1,0M117.66,295.75a1.05,1.05 0 1,0 2.1,0a1.05,1.05 0 1,0 -2.1,0M124.24,305.58a1.05,1.05 0 1,0 2.1,0a1.05,1.05 0 1,0 -2.1,0M116.87,312.06a1.05,1.05 0 1,0 2.1,0a1.05,1.05 0 1,0 -2.1,0M118.16,309.8a1.05,1.05 0 1,0 2.1,0a1.05,1.05 0 1,0 -2.1,0M119.66,309.78a1.05,1.05 0 1,0 2.1,0a1.05,1.05 0 1,0 -2.1,0M116.85,305.7a1.05,1.05 0 1,0 2.1,0a1.05,1.05 0 1,0 -2.1,0M123.22,312.01a1.05,1.05 0 1,0 2.1,0a1.05,1.05 0 1,0 -2.1,0M125.36,303.73a1.05,1.05 0 1,0 2.1,0a1.05,1.05 0 1,0 -2.1,0M124.05,310.58a1.05,1.05 0 1,0 2.1,0a1.05,1.05 0 1,0 -2.1,0M121.06,311.47a1.05,1.05 0 1,0 2.1,0a1.05,1.05 0 1,0 -2.1,0M120.15,312.99a1.05,1.05 0 1,0 2.1,0a1.05,1.05 0 1,0 -2.1,0M125.3,300.6a1.05,1.05 0 1,0 2.1,0a1.05,1.05 0 1,0 -2.1,0M119.48,312.6a1.05,1.05 0 1,0 2.1,0a1.05,1.05 0 1,0 -2.1,0M125.51,302.61a1.05,1.05 0 1,0 2.1,0a1.05,1.05 0 1,0 -2.1,0M116.94,307.38a1.05,1.05 0 1,0 2.1,0a1.05,1.05 0 1,0 -2.1,0M117.62,297.85a1.05,1.05 0 1,0 2.1,0a1.05,1.05 0 1,0 -2.1,0M118.67,300.69a1.05,1.05 0 1,0 2.1,0a1.05,1.05 0 1,0 -2.1,0M124.4,312.03a1.05,1.05 0 1,0 2.1,0a1.05,1.05 0 1,0 -2.1,0M123.82,309.71a1.05,1.05 0 1,0 2.1,0a1.05,1.05 0 1,0 -2.1,0M124.38,303.77a1.05,1.05 0 1,0 2.1,0a1.05,1.05 0 1,0 -2.1,0M119.42,312.14a1.05,1.05 0 1,0 2.1,0a1.05,1.05 0 1,0 -2.1,0M126.49,303.42a1.05,1.05 0 1,0 2.1,0a1.05,1.05 0 1,0 -2.1,0M126.32,298.05a1.05,1.05 0 1,0 2.1,0a1.05,1.05 0 1,0 -2.1,0M124.29,304.16a1.05,1.05 0 1,0 2.1,0a1.05,1.05 0 1,0 -2.1,0M123.11,310.71a1.05,1.05 0 1,0 2.1,0a1.05,1.05 0 1,0 -2.1,0M117.01,297.25a1.05,1.05 0 1,0 2.1,0a1.05,1.05 0 1,0 -2.1,0M120.99,311.71a1.05,1.05 0 1,0 2.1,0a1.05,1.05 0 1,0 -2.1,0M126.3,310.26a1.05,1.05 0 1,0 2.1,0a1.05,1.05 0 1,0 -2.1,0M124.53,312.48a1.05,1.05 0 1,0 2.1,0a1.05,1.05 0 1,0 -2.1,0M123.9,305.94a1.05,1.05 0 1,0 2.1,0a1.05,1.05 0 1,0 -2.1,0M119.21,307.17a1.05,1.05 0 1,0 2.1,0a1.05,1.05 0 1,0 -2.1,0M126.74,297.7a1.05,1.05 0 1,0 2.1,0a1.05,1.05 0 1,0 -2.1,0M122.22,312.65a1.05,1.05 0 1,0 2.1,0a1.05,1.05 0 1,0 -2.1,0M117.07,305.04a1.05,1.05 0 1,0 2.1,0a1.05,1.05 0 1,0 -2.1,0M120.81,312.35a1.05,1.05 0 1,0 2.1,0a1.05,1.05 0 1,0 -2.1,0M119.74,311.9a1.05,1.05 0 1,0 2.1,0a1.05,1.05 0 1,0 -2.1,0M123.95,306.98a1.05,1.05 0 1,0 2.1,0a1.05,1.05 0 1,0 -2.1,0M118.96,310.12a1.05,1.05 0 1,0 2.1,0a1.05,1.05 0 1,0 -2.1,0M121.91,312.82a1.05,1.05 0 1,0 2.1,0a1.05,1.05 0 1,0 -2.1,0M126.38,305.28a1.05,1.05 0 1,0 2.1,0a1.05,1.05 0 1,0 -2.1,0M119.62,305.35a1.05,1.05 0 1,0 2.1,0a1.05,1.05 0 1,0 -2.1,0M117.94,303.23a1.05,1.05 0 1,0 2.1,0a1.05,1.05 0 1,0 -2.1,0M119.98,307.36a1.05,1.05 0 1,0 2.1,0a1.05,1.05 0 1,0 -2.1,0M122.26,311.81a1.05,1.05 0 1,0 2.1,0a1.05,1.05 0 1,0 -2.1,0M118.24,302.49a1.05,1.05 0 1,0 2.1,0a1.05,1.05 0 1,0 -2.1,0M122.8,311.3a1.05,1.05 0 1,0 2.1,0a1.05,1.05 0 1,0 -2.1,0M124.58,302.9a1.05,1.05 0 1,0 2.1,0a1.05,1.05 0 1,0 -2.1,0M117.65,307.52a1.05,1.05 0 1,0 2.1,0a1.05,1.05 0 1,0 -2.1,0M120.27,311.84a1.05,1.05 0 1,0 2.1,0a1.05,1.05 0 1,0 -2.1,0M117.08,306.77a1.05,1.05 0 1,0 2.1,0a1.05,1.05 0 1,0 -2.1,0M118.53,303.05a1.05,1.05 0 1,0 2.1,0a1.05,1.05 0 1,0 -2.1,0M121.2,312.81a1.05,1.05 0 1,0 2.1,0a1.05,1.05 0 1,0 -2.1,0M119.88,309.55a1.05,1.05 0 1,0 2.1,0a1.05,1.05 0 1,0 -2.1,0M120.29,312.08a1.05,1.05 0 1,0 2.1,0a1.05,1.05 0 1,0 -2.1,0M117.2,312.77a1.05,1.05 0 1,0 2.1,0a1.05,1.05 0 1,0 -2.1,0M126.98,293.94a1.05,1.05 0 1,0 2.1,0a1.05,1.05 0 1,0 -2.1,0M117.33,298.11a1.05,1.05 0 1,0 2.1,0a1.05,1.05 0 1,0 -2.1,0M126.85,299.1a1.05,1.05 0 1,0 2.1,0a1.05,1.05 0 1,0 -2.1,0M117.59,303.57a1.05,1.05 0 1,0 2.1,0a1.05,1.05 0 1,0 -2.1,0M121.05,312.57a1.05,1.05 0 1,0 2.1,0a1.05,1.05 0 1,0 -2.1,0M122.21,312.99a1.05,1.05 0 1,0 2.1,0a1.05,1.05 0 1,0 -2.1,0M126.21,299.48a1.05,1.05 0 1,0 2.1,0a1.05,1.05 0 1,0 -2.1,0M123.11,308.29a1.05,1.05 0 1,0 2.1,0a1.05,1.05 0 1,0 -2.1,0M123.37,311.43a1.05,1.05 0 1,0 2.1,0a1.05,1.05 0 1,0 -2.1,0M119.05,311.41a1.05,1.05 0 1,0 2.1,0a1.05,1.05 0 1,0 -2.1,0M116.73,294.28a1.05,1.05 0 1,0 2.1,0a1.05,1.05 0 1,0 -2.1,0M125.36,308.18a1.05,1.05 0 1,0 2.1,0a1.05,1.05 0 1,0 -2.1,0M118.41,303.54a1.05,1.05 0 1,0 2.1,0a1.05,1.05 0 1,0 -2.1,0M125.42,297.59a1.05,1.05 0 1,0 2.1,0a1.05,1.05 0 1,0 -2.1,0M118.23,300.6a1.05,1.05 0 1,0 2.1,0a1.05,1.05 0 1,0 -2.1,0M125.26,301.31a1.05,1.05 0 1,0 2.1,0a1.05,1.05 0 1,0 -2.1,0M119.91,311.66a1.05,1.05 0 1,0 2.1,0a1.05,1.05 0 1,0 -2.1,0M125.21,308.05a1.05,1.05 0 1,0 2.1,0a1.05,1.05 0 1,0 -2.1,0M120.35,310.13a1.05,1.05 0 1,0 2.1,0a1.05,1.05 0 1,0 -2.1,0M120.36,308.7a1.05,1.05 0 1,0 2.1,0a1.05,1.05 0 1,0 -2.1,0M118.98,312.51a1.05,1.05 0 1,0 2.1,0a1.05,1.05 0 1,0 -2.1,0M122.46,311.55a1.05,1.05 0 1,0 2.1,0a1.05,1.05 0 1,0 -2.1,0M125.15,302.32a1.05,1.05 0 1,0 2.1,0a1.05,1.05 0 1,0 -2.1,0M126.06,293.99a1.05,1.05 0 1,0 2.1,0a1.05,1.05 0 1,0 -2.1,0M121.69,312.94a1.05,1.05 0 1,0 2.1,0a1.05,1.05 0 1,0 -2.1,0M118.11,308.08a1.05,1.05 0 1,0 2.1,0a1.05,1.05 0 1,0 -2.1,0M122.61,312.77a1.05,1.05 0 1,0 2.1,0a1.05,1.05 0 1,0 -2.1,0M123.75,311.69a1.05,1.05 0 1,0 2.1,0a1.05,1.05 0 1,0 -2.1,0M121.15,311.15a1.05,1.05 0 1,0 2.1,0a1.05,1.05 0 1,0 -2.1,0M117.39,312.18a1.05,1.05 0 1,0 2.1,0a1.05,1.05 0 1,0 -2.1,0M121.11,312.61a1.05,1.05 0 1,0 2.1,0a1.05,1.05 0 1,0 -2.1,0M124.12,312.97a1.05,1.05 0 1,0 2.1,0a1.05,1.05 0 1,0 -2.1,0M125.37,299.02a1.05,1.05 0 1,0 2.1,0a1.05,1.05 0 1,0 -2.1,0M124.8,307.34a1.05,1.05 0 1,0 2.1,0a1.05,1.05 0 1,0 -2.1,0M119.45,306.72a1.05,1.05 0 1,0 2.1,0a1.05,1.05 0 1,0 -2.1,0M121.91,312.84a1.05,1.05 0 1,0 2.1,0a1.05,1.05 0 1,0 -2.1,0M120.04,310.08a1.05,1.05 0 1,0 2.1,0a1.05,1.05 0 1,0 -2.1,0M123.52,307.3a1.05,1.05 0 1,0 2.1,0a1.05,1.05 0 1,0 -2.1,0M126.04,309.7a1.05,1.05 0 1,0 2.1,0a1.05,1.05 0 1,0 -2.1,0M119.58,309.08a1.05,1.05 0 1,0 2.1,0a1.05,1.05 0 1,0 -2.1,0M122.42,312.24a1.05,1.05 0 1,0 2.1,0a1.05,1.05 0 1,0 -2.1,0M118.51,311.79a1.05,1.05 0 1,0 2.1,0a1.05,1.05 0 1,0 -2.1,0M119.88,309.59a1.05,1.05 0 1,0 2.1,0a1.05,1.05 0 1,0 -2.1,0M126.76,291.09a1.05,1.05 0 1,0 2.1,0a1.05,1.05 0 1,0 -2.1,0M125.63,295.69a1.05,1.05 0 1,0 2.1,0a1.05,1.05 0 1,0 -2.1,0M126.66,298.41a1.05,1.05 0 1,0 2.1,0a1.05,1.05 0 1,0 -2.1,0M125.06,312.12a1.05,1.05 0 1,0 2.1,0a1.05,1.05 0 1,0 -2.1,0M123.62,308.48a1.05,1.05 0 1,0 2.1,0a1.05,1.05 0 1,0 -2.1,0M119.59,307.99a1.05,1.05 0 1,0 2.1,0a1.05,1.05 0 1,0 -2.1,0M126.56,301.95a1.05,1.05 0 1,0 2.1,0a1.05,1.05 0 1,0 -2.1,0M123.32,311.21a1.05,1.05 0 1,0 2.1,0a1.05,1.05 0 1,0 -2.1,0M120.09,307.31a1.05,1.05 0 1,0 2.1,0a1.05,1.05 0 1,0 -2.1,0M116.73,308.44a1.05,1.05 0 1,0 2.1,0a1.05,1.05 0 1,0 -2.1,0M123.65,309.63a1.05,1.05 0 1,0 2.1,0a1.05,1.05 0 1,0 -2.1,0M117.34,299.34a1.05,1.05 0 1,0 2.1,0a1.05,1.05 0 1,0 -2.1,0M120.39,310.07a1.05,1.05 0 1,0 2.1,0a1.05,1.05 0 1,0 -2.1,0M120.86,311.4a1.05,1.05 0 1,0 2.1,0a1.05,1.05 0 1,0 -2.1,0M122.44,312.12a1.05,1.05 0 1,0 2.1,0a1.05,1.05 0 1,0 -2.1,0M117.65,309.58a1.05,1.05 0 1,0 2.1,0a1.05,1.05 0 1,0 -2.1,0M125.89,302.47a1.05,1.05 0 1,0 2.1,0a1.05,1.05 0 1,0 -2.1,0M117.63,296.55a1.05,1.05 0 1,0 2.1,0a1.05,1.05 0 1,0 -2.1,0M119.13,311.95a1.05,1.05 0 1,0 2.1,0a1.05,1.05 0 1,0 -2.1,0M122.08,312.77a1.05,1.05 0 1,0 2.1,0a1.05,1.05 0 1,0 -2.1,0M121.64,312.86a1.05,1.05 0 1,0 2.1,0a1.05,1.05 0 1,0 -2.1,0M118.84,305.81a1.05,1.05 0 1,0 2.1,0a1.05,1.05 0 1,0 -2.1,0M117.64,303.23a1.05,1.05 0 1,0 2.1,0a1.05,1.05 0 1,0 -2.1,0M122.69,312.74a1.05,1.05 0 1,0 2.1,0a1.05,1.05 0 1,0 -2.1,0M120.77,312.75a1.05,1.05 0 1,0 2.1,0a1.05,1.05 0 1,0 -2.1,0M121.11,311.23a1.05,1.05 0 1,0 2.1,0a1.05,1.05 0 1,0 -2.1,0M122.29,311.82a1.05,1.05 0 1,0 2.1,0a1.05,1.05 0 1,0 -2.1,0M124.48,311.67a1.05,1.05 0 1,0 2.1,0a1.05,1.05 0 1,0 -2.1,0M126.96,294.74a1.05,1.05 0 1,0 2.1,0a1.05,1.05 0 1,0 -2.1,0M117.52,296.66a1.05,1.05 0 1,0 2.1,0a1.05,1.05 0 1,0 -2.1,0M120.6,312.29a1.05,1.05 0 1,0 2.1,0a1.05,1.05 0 1,0 -2.1,0M126.64,299.81a1.05,1.05 0 1,0 2.1,0a1.05,1.05 0 1,0 -2.1,0M124.67,311.27a1.05,1.05 0 1,0 2.1,0a1.05,1.05 0 1,0 -2.1,0M124.68,312.27a1.05,1.05 0 1,0 2.1,0a1.05,1.05 0 1,0 -2.1,0M118.95,308.54a1.05,1.05 0 1,0 2.1,0a1.05,1.05 0 1,0 -2.1,0M116.6,298.17a1.05,1.05 0 1,0 2.1,0a1.05,1.05 0 1,0 -2.1,0M118.7,309.01a1.05,1.05 0 1,0 2.1,0a1.05,1.05 0 1,0 -2.1,0M123.95,309.16a1.05,1.05 0 1,0 2.1,0a1.05,1.05 0 1,0 -2.1,0M125.88,301.12a1.05,1.05 0 1,0 2.1,0a1.05,1.05 0 1,0 -2.1,0M125.7,302.78a1.05,1.05 0 1,0 2.1,0a1.05,1.05 0 1,0 -2.1,0M126.19,294.85a1.05,1.05 0 1,0 2.1,0a1.05,1.05 0 1,0 -2.1,0M118.22,301.2a1.05,1.05 0 1,0 2.1,0a1.05,1.05 0 1,0 -2.1,0M120.06,308.02a1.05,1.05 0 1,0 2.1,0a1.05,1.05 0 1,0 -2.1,0M123.67,306.71a1.05,1.05 0 1,0 2.1,0a1.05,1.05 0 1,0 -2.1,0M117.74,306.11a1.05,1.05 0 1,0 2.1,0a1.05,1.05 0 1,0 -2.1,0M124.27,302.97a1.05,1.05 0 1,0 2.1,0a1.05,1.05 0 1,0 -2.1,0M124.11,312.58a1.05,1.05 0 1,0 2.1,0a1.05,1.05 0 1,0 -2.1,0M122.85,312.61a1.05,1.05 0 1,0 2.1,0a1.05,1.05 0 1,0 -2.1,0M122.27,311.73a1.05,1.05 0 1,0 2.1,0a1.05,1.05 0 1,0 -2.1,0M117.64,295.38a1.05,1.05 0 1,0 2.1,0a1.05,1.05 0 1,0 -2.1,0M123.61,311.13a1.05,1.05 0 1,0 2.1,0a1.05,1.05 0 1,0 -2.1,0M118.49,306.56a1.05,1.05 0 1,0 2.1,0a1.05,1.05 0 1,0 -2.1,0M125.34,303.59a1.05,1.05 0 1,0 2.1,0a1.05,1.05 0 1,0 -2.1,0M117.64,312.6a1.05,1.05 0 1,0 2.1,0a1.05,1.05 0 1,0 -2.1,0M117.61,297.64a1.05,1.05 0 1,0 2.1,0a1.05,1.05 0 1,0 -2.1,0M118.41,304.77a1.05,1.05 0 1,0 2.1,0a1.05,1.05 0 1,0 -2.1,0M119.52,306.72a1.05,1.05 0 1,0 2.1,0a1.05,1.05 0 1,0 -2.1,0M120.48,312.33a1.05,1.05 0 1,0 2.1,0a1.05,1.05 0 1,0 -2.1,0M125.74,303.12a1.05,1.05 0 1,0 2.1,0a1.05,1.05 0 1,0 -2.1,0M123.76,306.47a1.05,1.05 0 1,0 2.1,0a1.05,1.05 0 1,0 -2.1,0M126.52,312.69a1.05,1.05 0 1,0 2.1,0a1.05,1.05 0 1,0 -2.1,0M120.08,312.02a1.05,1.05 0 1,0 2.1,0a1.05,1.05 0 1,0 -2.1,0M121.77,312.97a1.05,1.05 0 1,0 2.1,0a1.05,1.05 0 1,0 -2.1,0M124.94,312.5a1.05,1.05 0 1,0 2.1,0a1.05,1.05 0 1,0 -2.1,0M118.37,300.71a1.05,1.05 0 1,0 2.1,0a1.05,1.05 0 1,0 -2.1,0M123.66,310.03a1.05,1.05 0 1,0 2.1,0a1.05,1.05 0 1,0 -2.1,0M121.49,312.89a1.05,1.05 0 1,0 2.1,0a1.05,1.05 0 1,0 -2.1,0M125.42,306.47a1.05,1.05 0 1,0 2.1,0a1.05,1.05 0 1,0 -2.1,0M125.71,301.88a1.05,1.05 0 1,0 2.1,0a1.05,1.05 0 1,0 -2.1,0M117.24,306a1.05,1.05 0 1,0 2.1,0a1.05,1.05 0 1,0 -2.1,0M118.74,301.28a1.05,1.05 0 1,0 2.1,0a1.05,1.05 0 1,0 -2.1,0M122.7,312.86a1.05,1.05 0 1,0 2.1,0a1.05,1.05 0 1,0 -2.1,0M118.24,307.32a1.05,1.05 0 1,0 2.1,0a1.05,1.05 0 1,0 -2.1,0M121.41,312.44a1.05,1.05 0 1,0 2.1,0a1.05,1.05 0 1,0 -2.1,0M120.56,311.48a1.05,1.05 0 1,0 2.1,0a1.05,1.05 0 1,0 -2.1,0M116.5,298.22a1.05,1.05 0 1,0 2.1,0a1.05,1.05 0 1,0 -2.1,0M119.98,312.86a1.05,1.05 0 1,0 2.1,0a1.05,1.05 0 1,0 -2.1,0M121.32,311.75a1.05,1.05 0 1,0 2.1,0a1.05,1.05 0 1,0 -2.1,0M116.92,309.63a1.05,1.05 0 1,0 2.1,0a1.05,1.05 0 1,0 -2.1,0M123.57,311.05a1.05,1.05 0 1,0 2.1,0a1.05,1.05 0 1,0 -2.1,0M119.34,307.99a1.05,1.05 0 1,0 2.1,0a1.05,1.05 0 1,0 -2.1,0M119.22,306.96a1.05,1.05 0 1,0 2.1,0a1.05,1.05 0 1,0 -2.1,0M122.05,312.22a1.05,1.05 0 1,0 2.1,0a1.05,1.05 0 1,0 -2.1,0M126.98,312.13a1.05,1.05 0 1,0 2.1,0a1.05,1.05 0 1,0 -2.1,0M122.39,311.41a1.05,1.05 0 1,0 2.1,0a1.05,1.05 0 1,0 -2.1,0M125.71,298.93a1.05,1.05 0 1,0 2.1,0a1.05,1.05 0 1,0 -2.1,0M123.16,309.64a1.05,1.05 0 1,0 2.1,0a1.05,1.05 0 1,0 -2.1,0M120.29,311.46a1.05,1.05 0 1,0 2.1,0a1.05,1.05 0 1,0 -2.1,0M124.89,300.99a1.05,1.05 0 1,0 2.1,0a1.05,1.05 0 1,0 -2.1,0M126.41,297.93a1.05,1.05 0 1,0 2.1,0a1.05,1.05 0 1,0 -2.1,0M119.67,306.58a1.05,1.05 0 1,0 2.1,0a1.05,1.05 0 1,0 -2.1,0M124.3,307.55a1.05,1.05 0 1,0 2.1,0a1.05,1.05 0 1,0 -2.1,0M123.19,311.11a1.05,1.05 0 1,0 2.1,0a1.05,1.05 0 1,0 -2.1,0M122.29,312.33a1.05,1.05 0 1,0 2.1,0a1.05,1.05 0 1,0 -2.1,0M117.08,305.52a1.05,1.05 0 1,0 2.1,0a1.05,1.05 0 1,0 -2.1,0M119.87,305.65a1.05,1.05 0 1,0 2.1,0a1.05,1.05 0 1,0 -2.1,0M121.55,312.82a1.05,1.05 0 1,0 2.1,0a1.05,1.05 0 1,0 -2.1,0M119.02,310.27a1.05,1.05 0 1,0 2.1,0a1.05,1.05 0 1,0 -2.1,0M120.15,312.17a1.05,1.05 0 1,0 2.1,0a1.05,1.05 0 1,0 -2.1,0M116.51,290.85a1.05,1.05 0 1,0 2.1,0a1.05,1.05 0 1,0 -2.1,0M121.25,312.33a1.05,1.05 0 1,0 2.1,0a1.05,1.05 0 1,0 -2.1,0M122.48,312.28a1.05,1.05 0 1,0 2.1,0a1.05,1.05 0 1,0 -2.1,0M118.23,311.95a1.05,1.05 0 1,0 2.1,0a1.05,1.05 0 1,0 -2.1,0M119.64,310.36a1.05,1.05 0 1,0 2.1,0a1.05,1.05 0 1,0 -2.1,0M124.16,307.48a1.05,1.05 0 1,0 2.1,0a1.05,1.05 0 1,0 -2.1,0M126.4,305.49a1.05,1.05 0 1,0 2.1,0a1.05,1.05 0 1,0 -2.1,0M126.23,300.71a1.05,1.05 0 1,0 2.1,0a1.05,1.05 0 1,0 -2.1,0M117.29,309.25a1.05,1.05 0 1,0 2.1,0a1.05,1.05 0 1,0 -2.1,0M122.61,310.14a1.05,1.05 0 1,0 2.1,0a1.05,1.05 0 1,0 -2.1,0M120.23,308.54a1.05,1.05 0 1,0 2.1,0a1.05,1.05 0 1,0 -2.1,0M120.99,310.81a1.05,1.05 0 1,0 2.1,0a1.05,1.05 0 1,0 -2.1,0M117.16,302.47a1.05,1.05 0 1,0 2.1,0a1.05,1.05 0 1,0 -2.1,0M125.99,307.55a1.05,1.05 0 1,0 2.1,0a1.05,1.05 0 1,0 -2.1,0M119.17,312.75a1.05,1.05 0 1,0 2.1,0a1.05,1.05 0 1,0 -2.1,0M118.19,308.7a1.05,1.05 0 1,0 2.1,0a1.05,1.05 0 1,0 -2.1,0M123.92,311.07a1.05,1.05 0 1,0 2.1,0a1.05,1.05 0 1,0 -2.1,0M120.68,312.24a1.05,1.05 0 1,0 2.1,0a1.05,1.05 0 1,0 -2.1,0M122.84,309.64a1.05,1.05 0 1,0 2.1,0a1.05,1.05 0 1,0 -2.1,0M123.32,311.82a1.05,1.05 0 1,0 2.1,0a1.05,1.05 0 1,0 -2.1,0M124.24,302.98a1.05,1.05 0 1,0 2.1,0a1.05,1.05 0 1,0 -2.1,0M122.82,312.7a1.05,1.05 0 1,0 2.1,0a1.05,1.05 0 1,0 -2.1,0M125.04,300.26a1.05,1.05 0 1,0 2.1,0a1.05,1.05 0 1,0 -2.1,0M120.06,312.11a1.05,1.05 0 1,0 2.1,0a1.05,1.05 0 1,0 -2.1,0M118.44,305.11a1.05,1.05 0 1,0 2.1,0a1.05,1.05 0 1,0 -2.1,0M125.74,301.26a1.05,1.05 0 1,0 2.1,0a1.05,1.05 0 1,0 -2.1,0M126.24,308.51a1.05,1.05 0 1,0 2.1,0a1.05,1.05 0 1,0 -2.1,0M119.91,307.56a1.05,1.05 0 1,0 2.1,0a1.05,1.05 0 1,0 -2.1,0M123.33,310.55a1.05,1.05 0 1,0 2.1,0a1.05,1.05 0 1,0 -2.1,0M123.65,310.45a1.05,1.05 0 1,0 2.1,0a1.05,1.05 0 1,0 -2.1,0M117.05,303.74a1.05,1.05 0 1,0 2.1,0a1.05,1.05 0 1,0 -2.1,0M116.92,298.54a1.05,1.05 0 1,0 2.1,0a1.05,1.05 0 1,0 -2.1,0M119.99,309.61a1.05,1.05 0 1,0 2.1,0a1.05,1.05 0 1,0 -2.1,0M122.79,312.06a1.05,1.05 0 1,0 2.1,0a1.05,1.05 0 1,0 -2.1,0M121.36,312.98a1.05,1.05 0 1,0 2.1,0a1.05,1.05 0 1,0 -2.1,0M126.27,300.97a1.05,1.05 0 1,0 2.1,0a1.05,1.05 0 1,0 -2.1,0M126.93,311.59a1.05,1.05 0 1,0 2.1,0a1.05,1.05 0 1,0 -2.1,0M122.96,309.82a1.05,1.05 0 1,0 2.1,0a1.05,1.05 0 1,0 -2.1,0M119.93,312.33a1.05,1.05 0 1,0 2.1,0a1.05,1.05 0 1,0 -2.1,0M118.1,310.64a1.05,1.05 0 1,0 2.1,0a1.05,1.05 0 1,0 -2.1,0M124.59,311.9a1.05,1.05 0 1,0 2.1,0a1.05,1.05 0 1,0 -2.1,0M125.09,306.73a1.05,1.05 0 1,0 2.1,0a1.05,1.05 0 1,0 -2.1,0M122.16,312.29a1.05,1.05 0 1,0 2.1,0a1.05,1.05 0 1,0 -2.1,0M122.33,311.8a1.05,1.05 0 1,0 2.1,0a1.05,1.05 0 1,0 -2.1,0M122.83,311.74a1.05,1.05 0 1,0 2.1,0a1.05,1.05 0 1,0 -2.1,0M124.31,310.22a1.05,1.05 0 1,0 2.1,0a1.05,1.05 0 1,0 -2.1,0M124,305.97a1.05,1.05 0 1,0 2.1,0a1.05,1.05 0 1,0 -2.1,0" fill="#9c9c9c" stroke="none" stroke-width="1"/>
<path d="M116.1,293.44a1.05,1.05 0 1,0 2.1,0a1.05,1.05 0 1,0 -2.1,0M110.86,272.94a1.05,1.05 0 1,0 2.1,0a1.05,1.05 0 1,0 -2.1,0M111.42,295.99a1.05,1.05 0 1,0 2.1,0a1.05,1.05 0 1,0 -2.1,0M115.4,285.37a1.05,1.05 0 1,0 2.1,0a1.05,1.05 0 1,0 -2.1,0M116.46,302.26a1.05,1.05 0 1,0 2.1,0a1.05,1.05 0 1,0 -2.1,0M116.4,297.61a1.05,1.05 0 1,0 2.1,0a1.05,1.05 0 1,0 -2.1,0M116.07,285.76a1.05,1.05 0 1,0 2.1,0a1.05,1.05 0 1,0 -2.1,0M110.2,305.48a1.05,1.05 0 1,0 2.1,0a1.05,1.05 0 1,0 -2.1,0M117,308.98a1.05,1.05 0 1,0 2.1,0a1.05,1.05 0 1,0 -2.1,0M113.92,307.8a1.05,1.05 0 1,0 2.1,0a1.05,1.05 0 1,0 -2.1,0M109.02,294.31a1.05,1.05 0 1,0 2.1,0a1.05,1.05 0 1,0 -2.1,0M113.91,307.02a1.05,1.05 0 1,0 2.1,0a1.05,1.05 0 1,0 -2.1,0M110.58,307.25a1.05,1.05 0 1,0 2.1,0a1.05,1.05 0 1,0 -2.1,0M114.52,307.22a1.05,1.05 0 1,0 2.1,0a1.05,1.05 0 1,0 -2.1,0M115.85,307.72a1.05,1.05 0 1,0 2.1,0a1.05,1.05 0 1,0 -2.1,0M100.51,309a1.05,1.05 0 1,0 2.1,0a1.05,1.05 0 1,0 -2.1,0M116.16,286.36a1.05,1.05 0 1,0 2.1,0a1.05,1.05 0 1,0 -2.1,0M111.71,297.1a1.05,1.05 0 1,0 2.1,0a1.05,1.05 0 1,0 -2.1,0M112.68,284.95a1.05,1.05 0 1,0 2.1,0a1.05,1.05 0 1,0 -2.1,0M112,298.71a1.05,1.05 0 1,0 2.1,0a1.05,1.05 0 1,0 -2.1,0M109.98,307.97a1.05,1.05 0 1,0 2.1,0a1.05,1.05 0 1,0 -2.1,0M102.83,295.9a1.05,1.05 0 1,0 2.1,0a1.05,1.05 0 1,0 -2.1,0M107.37,300.76a1.05,1.05 0 1,0 2.1,0a1.05,1.05 0 1,0 -2.1,0M112.88,282.2a1.05,1.05 0 1,0 2.1,0a1.05,1.05 0 1,0 -2.1,0M108.27,300.15a1.05,1.05 0 1,0 2.1,0a1.05,1.05 0 1,0 -2.1,0M113.62,281.18a1.05,1.05 0 1,0 2.1,0a1.05,1.05 0 1,0 -2.1,0M107.36,305.8a1.05,1.05 0 1,0 2.1,0a1.05,1.05 0 1,0 -2.1,0M113.61,305.53a1.05,1.05 0 1,0 2.1,0a1.05,1.05 0 1,0 -2.1,0M116.52,306.93a1.05,1.05 0 1,0 2.1,0a1.05,1.05 0 1,0 -2.1,0M109.27,306.09a1.05,1.05 0 1,0 2.1,0a1.05,1.05 0 1,0 -2.1,0M116.52,305.86a1.05,1.05 0 1,0 2.1,0a1.05,1.05 0 1,0 -2.1,0M106.54,275.59a1.05,1.05 0 1,0 2.1,0a1.05,1.05 0 1,0 -2.1,0M115.13,307.65a1.05,1.05 0 1,0 2.1,0a1.05,1.05 0 1,0 -2.1,0M107.74,280.37a1.05,1.05 0 1,0 2.1,0a1.05,1.05 0 1,0 -2.1,0M113.16,288.03a1.05,1.05 0 1,0 2.1,0a1.05,1.05 0 1,0 -2.1,0M112.86,284.2a1.05,1.05 0 1,0 2.1,0a1.05,1.05 0 1,0 -2.1,0M115.78,301.26a1.05,1.05 0 1,0 2.1,0a1.05,1.05 0 1,0 -2.1,0M110.63,277.75a1.05,1.05 0 1,0 2.1,0a1.05,1.05 0 1,0 -2.1,0M111.22,292.79a1.05,1.05 0 1,0 2.1,0a1.05,1.05 0 1,0 -2.1,0M107.61,298.89a1.05,1.05 0 1,0 2.1,0a1.05,1.05 0 1,0 -2.1,0M103.68,307.02a1.05,1.05 0 1,0 2.1,0a1.05,1.05 0 1,0 -2.1,0M109.82,277.88a1.05,1.05 0 1,0 2.1,0a1.05,1.05 0 1,0 -2.1,0M108.91,279.25a1.05,1.05 0 1,0 2.1,0a1.05,1.05 0 1,0 -2.1,0M107.24,306.73a1.05,1.05 0 1,0 2.1,0a1.05,1.05 0 1,0 -2.1,0M101.39,306.7a1.05,1.05 0 1,0 2.1,0a1.05,1.05 0 1,0 -2.1,0M99.04,309.02a1.05,1.05 0 1,0 2.1,0a1.05,1.05 0 1,0 -2.1,0M101.84,309.04a1.05,1.05 0 1,0 2.1,0a1.05,1.05 0 1,0 -2.1,0M104.23,286.09a1.05,1.05 0 1,0 2.1,0a1.05,1.05 0 1,0 -2.1,0M110.09,308.13a1.05,1.05 0 1,0 2.1,0a1.05,1.05 0 1,0 -2.1,0M107.33,306.99a1.05,1.05 0 1,0 2.1,0a1.05,1.05 0 1,0 -2.1,0M115.81,304.68a1.05,1.05 0 1,0 2.1,0a1.05,1.05 0 1,0 -2.1,0M114.2,282.73a1.05,1.05 0 1,0 2.1,0a1.05,1.05 0 1,0 -2.1,0M113.92,279.05a1.05,1.05 0 1,0 2.1,0a1.05,1.05 0 1,0 -2.1,0M102.19,308.97a1.05,1.05 0 1,0 2.1,0a1.05,1.05 0 1,0 -2.1,0M115.87,295.57a1.05,1.05 0 1,0 2.1,0a1.05,1.05 0 1,0 -2.1,0M104.09,308.91a1.05,1.05 0 1,0 2.1,0a1.05,1.05 0 1,0 -2.1,0M111.77,299.64a1.05,1.05 0 1,0 2.1,0a1.05,1.05 0 1,0 -2.1,0M116.97,308.5a1.05,1.05 0 1,0 2.1,0a1.05,1.05 0 1,0 -2.1,0M94.68,308.95a1.05,1.05 0 1,0 2.1,0a1.05,1.05 0 1,0 -2.1,0M114.3,284.81a1.05,1.05 0 1,0 2.1,0a1.05,1.05 0 1,0 -2.1,0M110.92,307.52a1.05,1.05 0 1,0 2.1,0a1.05,1.05 0 1,0 -2.1,0M111.26,299.51a1.05,1.05 0 1,0 2.1,0a1.05,1.05 0 1,0 -2.1,0M112.28,307.39a1.05,1.05 0 1,0 2.1,0a1.05,1.05 0 1,0 -2.1,0M106.99,287.62a1.05,1.05 0 1,0 2.1,0a1.05,1.05 0 1,0 -2.1,0M113.52,302.95a1.05,1.05 0 1,0 2.1,0a1.05,1.05 0 1,0 -2.1,0M117.11,302.57a1.05,1.05 0 1,0 2.1,0a1.05,1.05 0 1,0 -2.1,0M111.15,305.87a1.05,1.05 0 1,0 2.1,0a1.05,1.05 0 1,0 -2.1,0M113.78,279.22a1.05,1.05 0 1,0 2.1,0a1.05,1.05 0 1,0 -2.1,0M108.23,304.41a1.05,1.05 0 1,0 2.1,0a1.05,1.05 0 1,0 -2.1,0M109.1,306.67a1.05,1.05 0 1,0 2.1,0a1.05,1.05 0 1,0 -2.1,0M116.87,308.91a1.05,1.05 0 1,0 2.1,0a1.05,1.05 0 1,0 -2.1,0M114.35,298.98a1.05,1.05 0 1,0 2.1,0a1.05,1.05 0 1,0 -2.1,0M109.23,301.57a1.05,1.05 0 1,0 2.1,0a1.05,1.05 0 1,0 -2.1,0M111.98,309.02a1.05,1.05 0 1,0 2.1,0a1.05,1.05 0 1,0 -2.1,0M113.05,296.42a1.05,1.05 0 1,0 2.1,0a1.05,1.05 0 1,0 -2.1,0M107.18,295.56a1.05,1.05 0 1,0 2.1,0a1.05,1.05 0 1,0 -2.1,0M109.43,278.44a1.05,1.05 0 1,0 2.1,0a1.05,1.05 0 1,0 -2.1,0M97.59,306.07a1.05,1.05 0 1,0 2.1,0a1.05,1.05 0 1,0 -2.1,0M111.91,300.1a1.05,1.05 0 1,0 2.1,0a1.05,1.05 0 1,0 -2.1,0M113.3,277.66a1.05,1.05 0 1,0 2.1,0a1.05,1.05 0 1,0 -2.1,0M111.6,300.28a1.05,1.05 0 1,0 2.1,0a1.05,1.05 0 1,0 -2.1,0M112.38,307.49a1.05,1.05 0 1,0 2.1,0a1.05,1.05 0 1,0 -2.1,0M116.37,298.87a1.05,1.05 0 1,0 2.1,0a1.05,1.05 0 1,0 -2.1,0M117.12,291.51a1.05,1.05 0 1,0 2.1,0a1.05,1.05 0 1,0 -2.1,0M116.83,304.66a1.05,1.05 0 1,0 2.1,0a1.05,1.05 0 1,0 -2.1,0M106.98,305.48a1.05,1.05 0 1,0 2.1,0a1.05,1.05 0 1,0 -2.1,0M115.96,290.72a1.05,1.05 0 1,0 2.1,0a1.05,1.05 0 1,0 -2.1,0M113.65,287.49a1.05,1.05 0 1,0 2.1,0a1.05,1.05 0 1,0 -2.1,0M115.15,294.01a1.05,1.05 0 1,0 2.1,0a1.05,1.05 0 1,0 -2.1,0M115.85,305.01a1.05,1.05 0 1,0 2.1,0a1.05,1.05 0 1,0 -2.1,0M111.47,303.25a1.05,1.05 0 1,0 2.1,0a1.05,1.05 0 1,0 -2.1,0M109.72,272.76a1.05,1.05 0 1,0 2.1,0a1.05,1.05 0 1,0 -2.1,0M104.89,286.63a1.05,1.05 0 1,0 2.1,0a1.05,1.05 0 1,0 -2.1,0M117.06,302.21a1.05,1.05 0 1,0 2.1,0a1.05,1.05 0 1,0 -2.1,0M97.09,308.66a1.05,1.05 0 1,0 2.1,0a1.05,1.05 0 1,0 -2.1,0M104.01,296.72a1.05,1.05 0 1,0 2.1,0a1.05,1.05 0 1,0 -2.1,0M116.83,296.9a1.05,1.05 0 1,0 2.1,0a1.05,1.05 0 1,0 -2.1,0M109.92,300.51a1.05,1.05 0 1,0 2.1,0a1.05,1.05 0 1,0 -2.1,0M107.09,290.27a1.05,1.05 0 1,0 2.1,0a1.05,1.05 0 1,0 -2.1,0M115.46,304.82a1.05,1.05 0 1,0 2.1,0a1.05,1.05 0 1,0 -2.1,0M110.75,305.64a1.05,1.05 0 1,0 2.1,0a1.05,1.05 0 1,0 -2.1,0M110.43,291.8a1.05,1.05 0 1,0 2.1,0a1.05,1.05 0 1,0 -2.1,0M115.61,301.4a1.05,1.05 0 1,0 2.1,0a1.05,1.05 0 1,0 -2.1,0M101.03,300.1a1.05,1.05 0 1,0 2.1,0a1.05,1.05 0 1,0 -2.1,0M108.8,305.68a1.05,1.05 0 1,0 2.1,0a1.05,1.05 0 1,0 -2.1,0M115.97,307.99a1.05,1.05 0 1,0 2.1,0a1.05,1.05 0 1,0 -2.1,0M108.99,295.63a1.05,1.05 0 1,0 2.1,0a1.05,1.05 0 1,0 -2.1,0M113.13,297.1a1.05,1.05 0 1,0 2.1,0a1.05,1.05 0 1,0 -2.1,0M115.01,307.4a1.05,1.05 0 1,0 2.1,0a1.05,1.05 0 1,0 -2.1,0M112.1,283.01a1.05,1.05 0 1,0 2.1,0a1.05,1.05 0 1,0 -2.1,0M106.88,283.5a1.05,1.05 0 1,0 2.1,0a1.05,1.05 0 1,0 -2.1,0M114.52,284.71a1.05,1.05 0 1,0 2.1,0a1.05,1.05 0 1,0 -2.1,0M115.65,303.66a1.05,1.05 0 1,0 2.1,0a1.05,1.05 0 1,0 -2.1,0M115.51,289.88a1.05,1.05 0 1,0 2.1,0a1.05,1.05 0 1,0 -2.1,0M115.57,307.77a1.05,1.05 0 1,0 2.1,0a1.05,1.05 0 1,0 -2.1,0M113.68,305.56a1.05,1.05 0 1,0 2.1,0a1.05,1.05 0 1,0 -2.1,0M111.59,283.32a1.05,1.05 0 1,0 2.1,0a1.05,1.05 0 1,0 -2.1,0M112.95,297.15a1.05,1.05 0 1,0 2.1,0a1.05,1.05 0 1,0 -2.1,0M114.1,302.14a1.05,1.05 0 1,0 2.1,0a1.05,1.05 0 1,0 -2.1,0M116.2,285.96a1.05,1.05 0 1,0 2.1,0a1.05,1.05 0 1,0 -2.1,0M114.4,299.98a1.05,1.05 0 1,0 2.1,0a1.05,1.05 0 1,0 -2.1,0M109.53,282.56a1.05,1.05 0 1,0 2.1,0a1.05,1.05 0 1,0 -2.1,0M116.9,297.9a1.05,1.05 0 1,0 2.1,0a1.05,1.05 0 1,0 -2.1,0M112.92,302.25a1.05,1.05 0 1,0 2.1,0a1.05,1.05 0 1,0 -2.1,0M111.73,301.63a1.05,1.05 0 1,0 2.1,0a1.05,1.05 0 1,0 -2.1,0M116.42,305.06a1.05,1.05 0 1,0 2.1,0a1.05,1.05 0 1,0 -2.1,0M116.1,307.24a1.05,1.05 0 1,0 2.1,0a1.05,1.05 0 1,0 -2.1,0M116.18,299.56a1.05,1.05 0 1,0 2.1,0a1.05,1.05 0 1,0 -2.1,0M112.8,288.97a1.05,1.05 0 1,0 2.1,0a1.05,1.05 0 1,0 -2.1,0M115.49,305.79a1.05,1.05 0 1,0 2.1,0a1.05,1.05 0 1,0 -2.1,0M114.66,287.62a1.05,1.05 0 1,0 2.1,0a1.05,1.05 0 1,0 -2.1,0M112.21,308.28a1.05,1.05 0 1,0 2.1,0a1.05,1.05 0 1,0 -2.1,0M107.53,306.27a1.05,1.05 0 1,0 2.1,0a1.05,1.05 0 1,0 -2.1,0M106.09,300.82a1.05,1.05 0 1,0 2.1,0a1.05,1.05 0 1,0 -2.1,0M114.44,303.02a1.05,1.05 0 1,0 2.1,0a1.05,1.05 0 1,0 -2.1,0M107.24,308.81a1.05,1.05 0 1,0 2.1,0a1.05,1.05 0 1,0 -2.1,0M110.51,287.11a1.05,1.05 0 1,0 2.1,0a1.05,1.05 0 1,0 -2.1,0M114.63,304.97a1.05,1.05 0 1,0 2.1,0a1.05,1.05 0 1,0 -2.1,0M108.18,282.62a1.05,1.05 0 1,0 2.1,0a1.05,1.05 0 1,0 -2.1,0M111.29,302.08a1.05,1.05 0 1,0 2.1,0a1.05,1.05 0 1,0 -2.1,0M109.82,275.52a1.05,1.05 0 1,0 2.1,0a1.05,1.05 0 1,0 -2.1,0M110.72,306.38a1.05,1.05 0 1,0 2.1,0a1.05,1.05 0 1,0 -2.1,0M105.66,302.6a1.05,1.05 0 1,0 2.1,0a1.05,1.05 0 1,0 -2.1,0M115.04,294.79a1.05,1.05 0 1,0 2.1,0a1.05,1.05 0 1,0 -2.1,0M115.77,293.22a1.05,1.05 0 1,0 2.1,0a1.05,1.05 0 1,0 -2.1,0M114.64,302.96a1.05,1.05 0 1,0 2.1,0a1.05,1.05 0 1,0 -2.1,0M108.58,277.36a1.05,1.05 0 1,0 2.1,0a1.05,1.05 0 1,0 -2.1,0M115.73,293.09a1.05,1.05 0 1,0 2.1,0a1.05,1.05 0 1,0 -2.1,0M107.35,298.69a1.05,1.05 0 1,0 2.1,0a1.05,1.05 0 1,0 -2.1,0M115.54,301.61a1.05,1.05 0 1,0 2.1,0a1.05,1.05 0 1,0 -2.1,0M113.05,298.92a1.05,1.05 0 1,0 2.1,0a1.05,1.05 0 1,0 -2.1,0M110.66,277.8a1.05,1.05 0 1,0 2.1,0a1.05,1.05 0 1,0 -2.1,0M109.14,296.09a1.05,1.05 0 1,0 2.1,0a1.05,1.05 0 1,0 -2.1,0M113.96,286.35a1.05,1.05 0 1,0 2.1,0a1.05,1.05 0 1,0 -2.1,0M111.31,300.46a1.05,1.05 0 1,0 2.1,0a1.05,1.05 0 1,0 -2.1,0M106.48,308.85a1.05,1.05 0 1,0 2.1,0a1.05,1.05 0 1,0 -2.1,0M113.12,287.17a1.05,1.05 0 1,0 2.1,0a1.05,1.05 0 1,0 -2.1,0M108.64,284.39a1.05,1.05 0 1,0 2.1,0a1.05,1.05 0 1,0 -2.1,0M113.28,308.5a1.05,1.05 0 1,0 2.1,0a1.05,1.05 0 1,0 -2.1,0M113.6,285.9a1.05,1.05 0 1,0 2.1,0a1.05,1.05 0 1,0 -2.1,0M114.58,290.67a1.05,1.05 0 1,0 2.1,0a1.05,1.05 0 1,0 -2.1,0M115.23,298.37a1.05,1.05 0 1,0 2.1,0a1.05,1.05 0 1,0 -2.1,0M106.62,289.37a1.05,1.05 0 1,0 2.1,0a1.05,1.05 0 1,0 -2.1,0M113.34,298.85a1.05,1.05 0 1,0 2.1,0a1.05,1.05 0 1,0 -2.1,0M106.47,300.74a1.05,1.05 0 1,0 2.1,0a1.05,1.05 0 1,0 -2.1,0M113.31,295.18a1.05,1.05 0 1,0 2.1,0a1.05,1.05 0 1,0 -2.1,0M103.51,289.72a1.05,1.05 0 1,0 2.1,0a1.05,1.05 0 1,0 -2.1,0M116.97,308.11a1.05,1.05 0 1,0 2.1,0a1.05,1.05 0 1,0 -2.1,0M112.61,309.04a1.05,1.05 0 1,0 2.1,0a1.05,1.05 0 1,0 -2.1,0M109.42,271.78a1.05,1.05 0 1,0 2.1,0a1.05,1.05 0 1,0 -2.1,0M116.24,305.45a1.05,1.05 0 1,0 2.1,0a1.05,1.05 0 1,0 -2.1,0M111.43,304.92a1.05,1.05 0 1,0 2.1,0a1.05,1.05 0 1,0 -2.1,0M111.18,296.38a1.05,1.05 0 1,0 2.1,0a1.05,1.05 0 1,0 -2.1,0M109.83,299.56a1.05,1.05 0 1,0 2.1,0a1.05,1.05 0 1,0 -2.1,0M111.15,279.51a1.05,1.05 0 1,0 2.1,0a1.05,1.05 0 1,0 -2.1,0M115.14,290.07a1.05,1.05 0 1,0 2.1,0a1.05,1.05 0 1,0 -2.1,0M113.59,306.57a1.05,1.05 0 1,0 2.1,0a1.05,1.05 0 1,0 -2.1,0M112.66,308.74a1.05,1.05 0 1,0 2.1,0a1.05,1.05 0 1,0 -2.1,0M110.17,297.94a1.05,1.05 0 1,0 2.1,0a1.05,1.05 0 1,0 -2.1,0M115.49,300.84a1.05,1.05 0 1,0 2.1,0a1.05,1.05 0 1,0 -2.1,0M111.03,282.89a1.05,1.05 0 1,0 2.1,0a1.05,1.05 0 1,0 -2.1,0M113.59,306.61a1.05,1.05 0 1,0 2.1,0a1.05,1.05 0 1,0 -2.1,0M108.89,308.72a1.05,1.05 0 1,0 2.1,0a1.05,1.05 0 1,0 -2.1,0M112.56,303.61a1.05,1.05 0 1,0 2.1,0a1.05,1.05 0 1,0 -2.1,0M109.71,293.81a1.05,1.05 0 1,0 2.1,0a1.05,1.05 0 1,0 -2.1,0M115.57,304.85a1.05,1.05 0 1,0 2.1,0a1.05,1.05 0 1,0 -2.1,0M115.19,305.31a1.05,1.05 0 1,0 2.1,0a1.05,1.05 0 1,0 -2.1,0M104.09,293.91a1.05,1.05 0 1,0 2.1,0a1.05,1.05 0 1,0 -2.1,0M113.93,300.27a1.05,1.05 0 1,0 2.1,0a1.05,1.05 0 1,0 -2.1,0M107.76,276.43a1.05,1.05 0 1,0 2.1,0a1.05,1.05 0 1,0 -2.1,0M102.87,308.82a1.05,1.05 0 1,0 2.1,0a1.05,1.05 0 1,0 -2.1,0M111.98,299.63a1.05,1.05 0 1,0 2.1,0a1.05,1.05 0 1,0 -2.1,0M115.63,289.09a1.05,1.05 0 1,0 2.1,0a1.05,1.05 0 1,0 -2.1,0M115.33,308.66a1.05,1.05 0 1,0 2.1,0a1.05,1.05 0 1,0 -2.1,0M113.3,280.21a1.05,1.05 0 1,0 2.1,0a1.05,1.05 0 1,0 -2.1,0M114.48,297.45a1.05,1.05 0 1,0 2.1,0a1.05,1.05 0 1,0 -2.1,0M114.41,293.38a1.05,1.05 0 1,0 2.1,0a1.05,1.05 0 1,0 -2.1,0M108.89,288.96a1.05,1.05 0 1,0 2.1,0a1.05,1.05 0 1,0 -2.1,0M115.71,290.21a1.05,1.05 0 1,0 2.1,0a1.05,1.05 0 1,0 -2.1,0M112.24,307.43a1.05,1.05 0 1,0 2.1,0a1.05,1.05 0 1,0 -2.1,0M112.75,308.18a1.05,1.05 0 1,0 2.1,0a1.05,1.05 0 1,0 -2.1,0M114.65,308.38a1.05,1.05 0 1,0 2.1,0a1.05,1.05 0 1,0 -2.1,0M113.25,300.99a1.05,1.05 0 1,0 2.1,0a1.05,1.05 0 1,0 -2.1,0M99.4,304a1.05,1.05 0 1,0 2.1,0a1.05,1.05 0 1,0 -2.1,0M116.36,296.68a1.05,1.05 0 1,0 2.1,0a1.05,1.05 0 1,0 -2.1,0M101.08,308.28a1.05,1.05 0 1,0 2.1,0a1.05,1.05 0 1,0 -2.1,0M106.44,308.84a1.05,1.05 0 1,0 2.1,0a1.05,1.05 0 1,0 -2.1,0M113.16,284.12a1.05,1.05 0 1,0 2.1,0a1.05,1.05 0 1,0 -2.1,0M115.67,298.48a1.05,1.05 0 1,0 2.1,0a1.05,1.05 0 1,0 -2.1,0M111.95,303.28a1.05,1.05 0 1,0 2.1,0a1.05,1.05 0 1,0 -2.1,0M113.16,280.42a1.05,1.05 0 1,0 2.1,0a1.05,1.05 0 1,0 -2.1,0M115.54,304.82a1.05,1.05 0 1,0 2.1,0a1.05,1.05 0 1,0 -2.1,0M114.83,289.42a1.05,1.05 0 1,0 2.1,0a1.05,1.05 0 1,0 -2.1,0M113.57,278a1.05,1.05 0 1,0 2.1,0a1.05,1.05 0 1,0 -2.1,0M115.64,303.68a1.05,1.05 0 1,0 2.1,0a1.05,1.05 0 1,0 -2.1,0M115.92,297.17a1.05,1.05 0 1,0 2.1,0a1.05,1.05 0 1,0 -2.1,0M115.58,308.47a1.05,1.05 0 1,0 2.1,0a1.05,1.05 0 1,0 -2.1,0M107.97,298.3a1.05,1.05 0 1,0 2.1,0a1.05,1.05 0 1,0 -2.1,0M116.06,296.29a1.05,1.05 0 1,0 2.1,0a1.05,1.05 0 1,0 -2.1,0M109.37,307.87a1.05,1.05 0 1,0 2.1,0a1.05,1.05 0 1,0 -2.1,0M115.34,285.91a1.05,1.05 0 1,0 2.1,0a1.05,1.05 0 1,0 -2.1,0M113.81,277.88a1.05,1.05 0 1,0 2.1,0a1.05,1.05 0 1,0 -2.1,0M108.74,303.84a1.05,1.05 0 1,0 2.1,0a1.05,1.05 0 1,0 -2.1,0M113.77,303.24a1.05,1.05 0 1,0 2.1,0a1.05,1.05 0 1,0 -2.1,0M117.11,291.36a1.05,1.05 0 1,0 2.1,0a1.05,1.05 0 1,0 -2.1,0M108.47,308.21a1.05,1.05 0 1,0 2.1,0a1.05,1.05 0 1,0 -2.1,0M102.43,300.22a1.05,1.05 0 1,0 2.1,0a1.05,1.05 0 1,0 -2.1,0M115.72,299.71a1.05,1.05 0 1,0 2.1,0a1.05,1.05 0 1,0 -2.1,0M113.68,305.12a1.05,1.05 0 1,0 2.1,0a1.05,1.05 0 1,0 -2.1,0M114.99,286.08a1.05,1.05 0 1,0 2.1,0a1.05,1.05 0 1,0 -2.1,0M114.14,282.28a1.05,1.05 0 1,0 2.1,0a1.05,1.05 0 1,0 -2.1,0M112.75,308.91a1.05,1.05 0 1,0 2.1,0a1.05,1.05 0 1,0 -2.1,0M101.4,306.07a1.05,1.05 0 1,0 2.1,0a1.05,1.05 0 1,0 -2.1,0M105.88,279.86a1.05,1.05 0 1,0 2.1,0a1.05,1.05 0 1,0 -2.1,0M115.82,304.81a1.05,1.05 0 1,0 2.1,0a1.05,1.05 0 1,0 -2.1,0M115.16,301.55a1.05,1.05 0 1,0 2.1,0a1.05,1.05 0 1,0 -2.1,0M116.93,307.74a1.05,1.05 0 1,0 2.1,0a1.05,1.05 0 1,0 -2.1,0M104.96,289.17a1.05,1.05 0 1,0 2.1,0a1.05,1.05 0 1,0 -2.1,0M116.29,300.03a1.05,1.05 0 1,0 2.1,0a1.05,1.05 0 1,0 -2.1,0M114.45,308.36a1.05,1.05 0 1,0 2.1,0a1.05,1.05 0 1,0 -2.1,0M104.79,296.59a1.05,1.05 0 1,0 2.1,0a1.05,1.05 0 1,0 -2.1,0M112.98,299.29a1.05,1.05 0 1,0 2.1,0a1.05,1.05 0 1,0 -2.1,0M108.46,308.15a1.05,1.05 0 1,0 2.1,0a1.05,1.05 0 1,0 -2.1,0M115.26,295.81a1.05,1.05 0 1,0 2.1,0a1.05,1.05 0 1,0 -2.1,0M110.57,301.93a1.05,1.05 0 1,0 2.1,0a1.05,1.05 0 1,0 -2.1,0M109.97,301.15a1.05,1.05 0 1,0 2.1,0a1.05,1.05 0 1,0 -2.1,0M114.83,307.41a1.05,1.05 0 1,0 2.1,0a1.05,1.05 0 1,0 -2.1,0M113.35,279.38a1.05,1.05 0 1,0 2.1,0a1.05,1.05 0 1,0 -2.1,0M110.16,278.51a1.05,1.05 0 1,0 2.1,0a1.05,1.05 0 1,0 -2.1,0M104.75,300.26a1.05,1.05 0 1,0 2.1,0a1.05,1.05 0 1,0 -2.1,0M115.18,287.2a1.05,1.05 0 1,0 2.1,0a1.05,1.05 0 1,0 -2.1,0M114.48,308.1a1.05,1.05 0 1,0 2.1,0a1.05,1.05 0 1,0 -2.1,0M107.97,307.85a1.05,1.05 0 1,0 2.1,0a1.05,1.05 0 1,0 -2.1,0M116.91,302.93a1.05,1.05 0 1,0 2.1,0a1.05,1.05 0 1,0 -2.1,0M112.42,297.26a1.05,1.05 0 1,0 2.1,0a1.05,1.05 0 1,0 -2.1,0M109.28,301.43a1.05,1.05 0 1,0 2.1,0a1.05,1.05 0 1,0 -2.1,0M114.7,306.82a1.05,1.05 0 1,0 2.1,0a1.05,1.05 0 1,0 -2.1,0M110.02,307.65a1.05,1.05 0 1,0 2.1,0a1.05,1.05 0 1,0 -2.1,0M116.18,301.32a1.05,1.05 0 1,0 2.1,0a1.05,1.05 0 1,0 -2.1,0M102.19,293.09a1.05,1.05 0 1,0 2.1,0a1.05,1.05 0 1,0 -2.1,0M99.5,305.83a1.05,1.05 0 1,0 2.1,0a1.05,1.05 0 1,0 -2.1,0M115.45,291.24a1.05,1.05 0 1,0 2.1,0a1.05,1.05 0 1,0 -2.1,0M106.92,305.76a1.05,1.05 0 1,0 2.1,0a1.05,1.05 0 1,0 -2.1,0M112.29,286.8a1.05,1.05 0 1,0 2.1,0a1.05,1.05 0 1,0 -2.1,0M113.84,308.93a1.05,1.05 0 1,0 2.1,0a1.05,1.05 0 1,0 -2.1,0M112.37,301.17a1.05,1.05 0 1,0 2.1,0a1.05,1.05 0 1,0 -2.1,0M111.03,278.08a1.05,1.05 0 1,0 2.1,0a1.05,1.05 0 1,0 -2.1,0M116.43,308.62a1.05,1.05 0 1,0 2.1,0a1.05,1.05 0 1,0 -2.1,0M112.38,293.76a1.05,1.05 0 1,0 2.1,0a1.05,1.05 0 1,0 -2.1,0M114.57,289.45a1.05,1.05 0 1,0 2.1,0a1.05,1.05 0 1,0 -2.1,0M116.48,306.7a1.05,1.05 0 1,0 2.1,0a1.05,1.05 0 1,0 -2.1,0M114.56,296.28a1.05,1.05 0 1,0 2.1,0a1.05,1.05 0 1,0 -2.1,0M115,296.31a1.05,1.05 0 1,0 2.1,0a1.05,1.05 0 1,0 -2.1,0M116.9,297.6a1.05,1.05 0 1,0 2.1,0a1.05,1.05 0 1,0 -2.1,0M114.46,288.1a1.05,1.05 0 1,0 2.1,0a1.05,1.05 0 1,0 -2.1,0M110.92,298.18a1.05,1.05 0 1,0 2.1,0a1.05,1.05 0 1,0 -2.1,0M116.17,287.93a1.05,1.05 0 1,0 2.1,0a1.05,1.05 0 1,0 -2.1,0M116.61,303.8a1.05,1.05 0 1,0 2.1,0a1.05,1.05 0 1,0 -2.1,0M114.48,305.97a1.05,1.05 0 1,0 2.1,0a1.05,1.05 0 1,0 -2.1,0M115.38,293.11a1.05,1.05 0 1,0 2.1,0a1.05,1.05 0 1,0 -2.1,0M115.3,304.24a1.05,1.05 0 1,0 2.1,0a1.05,1.05 0 1,0 -2.1,0M113.31,307.63a1.05,1.05 0 1,0 2.1,0a1.05,1.05 0 1,0 -2.1,0M115.47,304.64a1.05,1.05 0 1,0 2.1,0a1.05,1.05 0 1,0 -2.1,0M112.2,274.96a1.05,1.05 0 1,0 2.1,0a1.05,1.05 0 1,0 -2.1,0M104.04,301.03a1.05,1.05 0 1,0 2.1,0a1.05,1.05 0 1,0 -2.1,0M116.91,302.31a1.05,1.05 0 1,0 2.1,0a1.05,1.05 0 1,0 -2.1,0M114.18,289.92a1.05,1.05 0 1,0 2.1,0a1.05,1.05 0 1,0 -2.1,0M101.25,301.35a1.05,1.05 0 1,0 2.1,0a1.05,1.05 0 1,0 -2.1,0M113.87,285.21a1.05,1.05 0 1,0 2.1,0a1.05,1.05 0 1,0 -2.1,0M107.3,284.88a1.05,1.05 0 1,0 2.1,0a1.05,1.05 0 1,0 -2.1,0M107.3,302.46a1.05,1.05 0 1,0 2.1,0a1.05,1.05 0 1,0 -2.1,0M110.68,307a1.05,1.05 0 1,0 2.1,0a1.05,1.05 0 1,0 -2.1,0M106.34,288.27a1.05,1.05 0 1,0 2.1,0a1.05,1.05 0 1,0 -2.1,0M114.77,307.9a1.05,1.05 0 1,0 2.1,0a1.05,1.05 0 1,0 -2.1,0M108.9,276.93a1.05,1.05 0 1,0 2.1,0a1.05,1.05 0 1,0 -2.1,0M101.81,297.9a1.05,1.05 0 1,0 2.1,0a1.05,1.05 0 1,0 -2.1,0M110.54,292.82a1.05,1.05 0 1,0 2.1,0a1.05,1.05 0 1,0 -2.1,0M105.57,300.84a1.05,1.05 0 1,0 2.1,0a1.05,1.05 0 1,0 -2.1,0M111.24,279.37a1.05,1.05 0 1,0 2.1,0a1.05,1.05 0 1,0 -2.1,0M105.6,304.54a1.05,1.05 0 1,0 2.1,0a1.05,1.05 0 1,0 -2.1,0M108.3,275.1a1.05,1.05 0 1,0 2.1,0a1.05,1.05 0 1,0 -2.1,0M114.92,308.17a1.05,1.05 0 1,0 2.1,0a1.05,1.05 0 1,0 -2.1,0M104.38,306.06a1.05,1.05 0 1,0 2.1,0a1.05,1.05 0 1,0 -2.1,0M114.57,287.21a1.05,1.05 0 1,0 2.1,0a1.05,1.05 0 1,0 -2.1,0M116.58,302.79a1.05,1.05 0 1,0 2.1,0a1.05,1.05 0 1,0 -2.1,0M112.25,305.53a1.05,1.05 0 1,0 2.1,0a1.05,1.05 0 1,0 -2.1,0M101,300.87a1.05,1.05 0 1,0 2.1,0a1.05,1.05 0 1,0 -2.1,0M116.38,296a1.05,1.05 0 1,0 2.1,0a1.05,1.05 0 1,0 -2.1,0M107.06,284.88a1.05,1.05 0 1,0 2.1,0a1.05,1.05 0 1,0 -2.1,0M109.01,288.53a1.05,1.05 0 1,0 2.1,0a1.05,1.05 0 1,0 -2.1,0M104.23,302.75a1.05,1.05 0 1,0 2.1,0a1.05,1.05 0 1,0 -2.1,0M112.18,308.33a1.05,1.05 0 1,0 2.1,0a1.05,1.05 0 1,0 -2.1,0M109.04,302.34a1.05,1.05 0 1,0 2.1,0a1.05,1.05 0 1,0 -2.1,0M105.63,295.45a1.05,1.05 0 1,0 2.1,0a1.05,1.05 0 1,0 -2.1,0M110.36,309.04a1.05,1.05 0 1,0 2.1,0a1.05,1.05 0 1,0 -2.1,0M105.89,298.85a1.05,1.05 0 1,0 2.1,0a1.05,1.05 0 1,0 -2.1,0M113.57,286.06a1.05,1.05 0 1,0 2.1,0a1.05,1.05 0 1,0 -2.1,0M116.76,303.8a1.05,1.05 0 1,0 2.1,0a1.05,1.05 0 1,0 -2.1,0M110.66,302.49a1.05,1.05 0 1,0 2.1,0a1.05,1.05 0 1,0 -2.1,0M112.13,306.04a1.05,1.05 0 1,0 2.1,0a1.05,1.05 0 1,0 -2.1,0M108.48,291.71a1.05,1.05 0 1,0 2.1,0a1.05,1.05 0 1,0 -2.1,0M105.79,304.62a1.05,1.05 0 1,0 2.1,0a1.05,1.05 0 1,0 -2.1,0M112.13,288.89a1.05,1.05 0 1,0 2.1,0a1.05,1.05 0 1,0 -2.1,0M114.04,300.75a1.05,1.05 0 1,0 2.1,0a1.05,1.05 0 1,0 -2.1,0M110.02,307.76a1.05,1.05 0 1,0 2.1,0a1.05,1.05 0 1,0 -2.1,0M105.76,291.86a1.05,1.05 0 1,0 2.1,0a1.05,1.05 0 1,0 -2.1,0M103.84,307.36a1.05,1.05 0 1,0 2.1,0a1.05,1.05 0 1,0 -2.1,0M113.58,305.07a1.05,1.05 0 1,0 2.1,0a1.05,1.05 0 1,0 -2.1,0M110.36,305.59a1.05,1.05 0 1,0 2.1,0a1.05,1.05 0 1,0 -2.1,0M115.29,287.07a1.05,1.05 0 1,0 2.1,0a1.05,1.05 0 1,0 -2.1,0M105.08,302.39a1.05,1.05 0 1,0 2.1,0a1.05,1.05 0 1,0 -2.1,0M107.13,297.47a1.05,1.05 0 1,0 2.1,0a1.05,1.05 0 1,0 -2.1,0M108.68,272.22a1.05,1.05 0 1,0 2.1,0a1.05,1.05 0 1,0 -2.1,0M114.72,307.06a1.05,1.05 0 1,0 2.1,0a1.05,1.05 0 1,0 -2.1,0M115,299.17a1.05,1.05 0 1,0 2.1,0a1.05,1.05 0 1,0 -2.1,0M113.28,309.05a1.05,1.05 0 1,0 2.1,0a1.05,1.05 0 1,0 -2.1,0M109.08,298.34a1.05,1.05 0 1,0 2.1,0a1.05,1.05 0 1,0 -2.1,0M101.25,297.74a1.05,1.05 0 1,0 2.1,0a1.05,1.05 0 1,0 -2.1,0M117.09,308.54a1.05,1.05 0 1,0 2.1,0a1.05,1.05 0 1,0 -2.1,0M110.24,294.38a1.05,1.05 0 1,0 2.1,0a1.05,1.05 0 1,0 -2.1,0M111.37,301.32a1.05,1.05 0 1,0 2.1,0a1.05,1.05 0 1,0 -2.1,0M110.37,275.45a1.05,1.05 0 1,0 2.1,0a1.05,1.05 0 1,0 -2.1,0M108.53,308.44a1.05,1.05 0 1,0 2.1,0a1.05,1.05 0 1,0 -2.1,0M110.35,291.26a1.05,1.05 0 1,0 2.1,0a1.05,1.05 0 1,0 -2.1,0M99.66,306.96a1.05,1.05 0 1,0 2.1,0a1.05,1.05 0 1,0 -2.1,0M110.73,289.67a1.05,1.05 0 1,0 2.1,0a1.05,1.05 0 1,0 -2.1,0M112.28,296.58a1.05,1.05 0 1,0 2.1,0a1.05,1.05 0 1,0 -2.1,0M111.84,289.72a1.05,1.05 0 1,0 2.1,0a1.05,1.05 0 1,0 -2.1,0M109.88,301.52a1.05,1.05 0 1,0 2.1,0a1.05,1.05 0 1,0 -2.1,0M112.35,275.25a1.05,1.05 0 1,0 2.1,0a1.05,1.05 0 1,0 -2.1,0M103.99,295.02a1.05,1.05 0 1,0 2.1,0a1.05,1.05 0 1,0 -2.1,0M112.21,295.15a1.05,1.05 0 1,0 2.1,0a1.05,1.05 0 1,0 -2.1,0M105.46,283.5a1.05,1.05 0 1,0 2.1,0a1.05,1.05 0 1,0 -2.1,0M113.15,289.03a1.05,1.05 0 1,0 2.1,0a1.05,1.05 0 1,0 -2.1,0M117.13,305.77a1.05,1.05 0 1,0 2.1,0a1.05,1.05 0 1,0 -2.1,0M115.15,307.93a1.05,1.05 0 1,0 2.1,0a1.05,1.05 0 1,0 -2.1,0M102.23,308.17a1.05,1.05 0 1,0 2.1,0a1.05,1.05 0 1,0 -2.1,0M112.59,294.28a1.05,1.05 0 1,0 2.1,0a1.05,1.05 0 1,0 -2.1,0M115.11,302.98a1.05,1.05 0 1,0 2.1,0a1.05,1.05 0 1,0 -2.1,0M116.07,294.18a1.05,1.05 0 1,0 2.1,0a1.05,1.05 0 1,0 -2.1,0M113.35,287.87a1.05,1.05 0 1,0 2.1,0a1.05,1.05 0 1,0 -2.1,0M112.47,304.21a1.05,1.05 0 1,0 2.1,0a1.05,1.05 0 1,0 -2.1,0M109.7,272.37a1.05,1.05 0 1,0 2.1,0a1.05,1.05 0 1,0 -2.1,0M115.01,295.3a1.05,1.05 0 1,0 2.1,0a1.05,1.05 0 1,0 -2.1,0M113.37,302.1a1.05,1.05 0 1,0 2.1,0a1.05,1.05 0 1,0 -2.1,0M106.68,276.94a1.05,1.05 0 1,0 2.1,0a1.05,1.05 0 1,0 -2.1,0M114.29,305.21a1.05,1.05 0 1,0 2.1,0a1.05,1.05 0 1,0 -2.1,0M106.16,307.27a1.05,1.05 0 1,0 2.1,0a1.05,1.05 0 1,0 -2.1,0M104.82,289.24a1.05,1.05 0 1,0 2.1,0a1.05,1.05 0 1,0 -2.1,0M110.84,302.15a1.05,1.05 0 1,0 2.1,0a1.05,1.05 0 1,0 -2.1,0M111.45,279.24a1.05,1.05 0 1,0 2.1,0a1.05,1.05 0 1,0 -2.1,0M110.27,306.99a1.05,1.05 0 1,0 2.1,0a1.05,1.05 0 1,0 -2.1,0M116.8,305.79a1.05,1.05 0 1,0 2.1,0a1.05,1.05 0 1,0 -2.1,0M112.62,308.73a1.05,1.05 0 1,0 2.1,0a1.05,1.05 0 1,0 -2.1,0M114.99,282.96a1.05,1.05 0 1,0 2.1,0a1.05,1.05 0 1,0 -2.1,0M110.19,273.41a1.05,1.05 0 1,0 2.1,0a1.05,1.05 0 1,0 -2.1,0M114.68,283.01a1.05,1.05 0 1,0 2.1,0a1.05,1.05 0 1,0 -2.1,0M111.26,306.29a1.05,1.05 0 1,0 2.1,0a1.05,1.05 0 1,0 -2.1,0M113.71,308.14a1.05,1.05 0 1,0 2.1,0a1.05,1.05 0 1,0 -2.1,0M109.97,304.64a1.05,1.05 0 1,0 2.1,0a1.05,1.05 0 1,0 -2.1,0M111.39,274.35a1.05,1.05 0 1,0 2.1,0a1.05,1.05 0 1,0 -2.1,0M112.62,304.88a1.05,1.05 0 1,0 2.1,0a1.05,1.05 0 1,0 -2.1,0M112.52,299.35a1.05,1.05 0 1,0 2.1,0a1.05,1.05 0 1,0 -2.1,0M101.63,296.11a1.05,1.05 0 1,0 2.1,0a1.05,1.05 0 1,0 -2.1,0M108.77,303.13a1.05,1.05 0 1,0 2.1,0a1.05,1.05 0 1,0 -2.1,0M107.39,307.3a1.05,1.05 0 1,0 2.1,0a1.05,1.05 0 1,0 -2.1,0M116.76,300.71a1.05,1.05 0 1,0 2.1,0a1.05,1.05 0 1,0 -2.1,0M108.81,289.2a1.05,1.05 0 1,0 2.1,0a1.05,1.05 0 1,0 -2.1,0M117.03,305.07a1.05,1.05 0 1,0 2.1,0a1.05,1.05 0 1,0 -2.1,0M111.2,276.74a1.05,1.05 0 1,0 2.1,0a1.05,1.05 0 1,0 -2.1,0M111.14,291.3a1.05,1.05 0 1,0 2.1,0a1.05,1.05 0 1,0 -2.1,0M116.01,306.28a1.05,1.05 0 1,0 2.1,0a1.05,1.05 0 1,0 -2.1,0M116.84,293.67a1.05,1.05 0 1,0 2.1,0a1.05,1.05 0 1,0 -2.1,0M115,297.98a1.05,1.05 0 1,0 2.1,0a1.05,1.05 0 1,0 -2.1,0M106.5,305.01a1.05,1.05 0 1,0 2.1,0a1.05,1.05 0 1,0 -2.1,0M103.19,306.66a1.05,1.05 0 1,0 2.1,0a1.05,1.05 0 1,0 -2.1,0M108.69,285.18a1.05,1.05 0 1,0 2.1,0a1.05,1.05 0 1,0 -2.1,0M113.17,291.24a1.05,1.05 0 1,0 2.1,0a1.05,1.05 0 1,0 -2.1,0M105.67,308.11a1.05,1.05 0 1,0 2.1,0a1.05,1.05 0 1,0 -2.1,0M110.13,303.32a1.05,1.05 0 1,0 2.1,0a1.05,1.05 0 1,0 -2.1,0M105.26,294.54a1.05,1.05 0 1,0 2.1,0a1.05,1.05 0 1,0 -2.1,0M101.87,299.02a1.05,1.05 0 1,0 2.1,0a1.05,1.05 0 1,0 -2.1,0M115.99,287.32a1.05,1.05 0 1,0 2.1,0a1.05,1.05 0 1,0 -2.1,0M109.81,285.45a1.05,1.05 0 1,0 2.1,0a1.05,1.05 0 1,0 -2.1,0M113.11,285.46a1.05,1.05 0 1,0 2.1,0a1.05,1.05 0 1,0 -2.1,0M110.94,302.09a1.05,1.05 0 1,0 2.1,0a1.05,1.05 0 1,0 -2.1,0M111.25,295.57a1.05,1.05 0 1,0 2.1,0a1.05,1.05 0 1,0 -2.1,0M103.36,300.76a1.05,1.05 0 1,0 2.1,0a1.05,1.05 0 1,0 -2.1,0M109.41,307.53a1.05,1.05 0 1,0 2.1,0a1.05,1.05 0 1,0 -2.1,0M103.21,304.98a1.05,1.05 0 1,0 2.1,0a1.05,1.05 0 1,0 -2.1,0M110.14,296.45a1.05,1.05 0 1,0 2.1,0a1.05,1.05 0 1,0 -2.1,0M114.06,285.37a1.05,1.05 0 1,0 2.1,0a1.05,1.05 0 1,0 -2.1,0M112.34,300.81a1.05,1.05 0 1,0 2.1,0a1.05,1.05 0 1,0 -2.1,0M108.69,293.62a1.05,1.05 0 1,0 2.1,0a1.05,1.05 0 1,0 -2.1,0M115,290.26a1.05,1.05 0 1,0 2.1,0a1.05,1.05 0 1,0 -2.1,0M103.02,292.25a1.05,1.05 0 1,0 2.1,0a1.05,1.05 0 1,0 -2.1,0M110.71,285.12a1.05,1.05 0 1,0 2.1,0a1.05,1.05 0 1,0 -2.1,0M108.16,296.84a1.05,1.05 0 1,0 2.1,0a1.05,1.05 0 1,0 -2.1,0M104.43,292.06a1.05,1.05 0 1,0 2.1,0a1.05,1.05 0 1,0 -2.1,0M107.7,282.63a1.05,1.05 0 1,0 2.1,0a1.05,1.05 0 1,0 -2.1,0M108.12,307.62a1.05,1.05 0 1,0 2.1,0a1.05,1.05 0 1,0 -2.1,0M104.91,292.52a1.05,1.05 0 1,0 2.1,0a1.05,1.05 0 1,0 -2.1,0M114.22,305.23a1.05,1.05 0 1,0 2.1,0a1.05,1.05 0 1,0 -2.1,0M107.38,308.57a1.05,1.05 0 1,0 2.1,0a1.05,1.05 0 1,0 -2.1,0M106.15,304.95a1.05,1.05 0 1,0 2.1,0a1.05,1.05 0 1,0 -2.1,0M108.79,305.88a1.05,1.05 0 1,0 2.1,0a1.05,1.05 0 1,0 -2.1,0M116.59,297.41a1.05,1.05 0 1,0 2.1,0a1.05,1.05 0 1,0 -2.1,0M113.89,279.19a1.05,1.05 0 1,0 2.1,0a1.05,1.05 0 1,0 -2.1,0M114.89,293.31a1.05,1.05 0 1,0 2.1,0a1.05,1.05 0 1,0 -2.1,0M110.52,308.49a1.05,1.05 0 1,0 2.1,0a1.05,1.05 0 1,0 -2.1,0M113.67,309.04a1.05,1.05 0 1,0 2.1,0a1.05,1.05 0 1,0 -2.1,0M111.56,291.62a1.05,1.05 0 1,0 2.1,0a1.05,1.05 0 1,0 -2.1,0M113.32,308.69a1.05,1.05 0 1,0 2.1,0a1.05,1.05 0 1,0 -2.1,0M112.59,299.55a1.05,1.05 0 1,0 2.1,0a1.05,1.05 0 1,0 -2.1,0M104.5,308.89a1.05,1.05 0 1,0 2.1,0a1.05,1.05 0 1,0 -2.1,0M112.59,283.51a1.05,1.05 0 1,0 2.1,0a1.05,1.05 0 1,0 -2.1,0M113.08,293.13a1.05,1.05 0 1,0 2.1,0a1.05,1.05 0 1,0 -2.1,0M113.76,303.44a1.05,1.05 0 1,0 2.1,0a1.05,1.05 0 1,0 -2.1,0M112.46,306a1.05,1.05 0 1,0 2.1,0a1.05,1.05 0 1,0 -2.1,0M108.76,283.09a1.05,1.05 0 1,0 2.1,0a1.05,1.05 0 1,0 -2.1,0M113.53,286.14a1.05,1.05 0 1,0 2.1,0a1.05,1.05 0 1,0 -2.1,0M103.46,300.22a1.05,1.05 0 1,0 2.1,0a1.05,1.05 0 1,0 -2.1,0M104.54,308.96a1.05,1.05 0 1,0 2.1,0a1.05,1.05 0 1,0 -2.1,0M114.69,299.49a1.05,1.05 0 1,0 2.1,0a1.05,1.05 0 1,0 -2.1,0M114.76,295.53a1.05,1.05 0 1,0 2.1,0a1.05,1.05 0 1,0 -2.1,0M115.9,294.54a1.05,1.05 0 1,0 2.1,0a1.05,1.05 0 1,0 -2.1,0M110.7,296.16a1.05,1.05 0 1,0 2.1,0a1.05,1.05 0 1,0 -2.1,0M113.33,295.03a1.05,1.05 0 1,0 2.1,0a1.05,1.05 0 1,0 -2.1,0M114.92,281.48a1.05,1.05 0 1,0 2.1,0a1.05,1.05 0 1,0 -2.1,0M102.43,294.86a1.05,1.05 0 1,0 2.1,0a1.05,1.05 0 1,0 -2.1,0M110.72,272.29a1.05,1.05 0 1,0 2.1,0a1.05,1.05 0 1,0 -2.1,0M115.54,308.67a1.05,1.05 0 1,0 2.1,0a1.05,1.05 0 1,0 -2.1,0M113.21,299.7a1.05,1.05 0 1,0 2.1,0a1.05,1.05 0 1,0 -2.1,0M116.58,297.21a1.05,1.05 0 1,0 2.1,0a1.05,1.05 0 1,0 -2.1,0M115.03,304.13a1.05,1.05 0 1,0 2.1,0a1.05,1.05 0 1,0 -2.1,0M109.27,306.39a1.05,1.05 0 1,0 2.1,0a1.05,1.05 0 1,0 -2.1,0M112.19,306.47a1.05,1.05 0 1,0 2.1,0a1.05,1.05 0 1,0 -2.1,0M113.68,289.61a1.05,1.05 0 1,0 2.1,0a1.05,1.05 0 1,0 -2.1,0M109.23,306.22a1.05,1.05 0 1,0 2.1,0a1.05,1.05 0 1,0 -2.1,0M116.32,296.07a1.05,1.05 0 1,0 2.1,0a1.05,1.05 0 1,0 -2.1,0M115.22,298.47a1.05,1.05 0 1,0 2.1,0a1.05,1.05 0 1,0 -2.1,0M111.64,288.39a1.05,1.05 0 1,0 2.1,0a1.05,1.05 0 1,0 -2.1,0M105.04,282.06a1.05,1.05 0 1,0 2.1,0a1.05,1.05 0 1,0 -2.1,0M115.06,285.17a1.05,1.05 0 1,0 2.1,0a1.05,1.05 0 1,0 -2.1,0M115.11,308.72a1.05,1.05 0 1,0 2.1,0a1.05,1.05 0 1,0 -2.1,0M105.52,306.59a1.05,1.05 0 1,0 2.1,0a1.05,1.05 0 1,0 -2.1,0M102.43,297.12a1.05,1.05 0 1,0 2.1,0a1.05,1.05 0 1,0 -2.1,0M115.92,297.48a1.05,1.05 0 1,0 2.1,0a1.05,1.05 0 1,0 -2.1,0M116.53,307.83a1.05,1.05 0 1,0 2.1,0a1.05,1.05 0 1,0 -2.1,0M110.23,290.85a1.05,1.05 0 1,0 2.1,0a1.05,1.05 0 1,0 -2.1,0M110.82,308.79a1.05,1.05 0 1,0 2.1,0a1.05,1.05 0 1,0 -2.1,0M116.79,307.75a1.05,1.05 0 1,0 2.1,0a1.05,1.05 0 1,0 -2.1,0M107.41,283.85a1.05,1.05 0 1,0 2.1,0a1.05,1.05 0 1,0 -2.1,0M104.64,301.09a1.05,1.05 0 1,0 2.1,0a1.05,1.05 0 1,0 -2.1,0M114.32,307.56a1.05,1.05 0 1,0 2.1,0a1.05,1.05 0 1,0 -2.1,0M115.03,290.73a1.05,1.05 0 1,0 2.1,0a1.05,1.05 0 1,0 -2.1,0M94.92,308.52a1.05,1.05 0 1,0 2.1,0a1.05,1.05 0 1,0 -2.1,0M113.08,285.92a1.05,1.05 0 1,0 2.1,0a1.05,1.05 0 1,0 -2.1,0M103.55,308.14a1.05,1.05 0 1,0 2.1,0a1.05,1.05 0 1,0 -2.1,0M115.09,308.27a1.05,1.05 0 1,0 2.1,0a1.05,1.05 0 1,0 -2.1,0M109.02,305.96a1.05,1.05 0 1,0 2.1,0a1.05,1.05 0 1,0 -2.1,0M113.71,305.56a1.05,1.05 0 1,0 2.1,0a1.05,1.05 0 1,0 -2.1,0M101.09,300.19a1.05,1.05 0 1,0 2.1,0a1.05,1.05 0 1,0 -2.1,0M114.98,283.86a1.05,1.05 0 1,0 2.1,0a1.05,1.05 0 1,0 -2.1,0M109.27,286.02a1.05,1.05 0 1,0 2.1,0a1.05,1.05 0 1,0 -2.1,0M116.16,304a1.05,1.05 0 1,0 2.1,0a1.05,1.05 0 1,0 -2.1,0M111.75,307.6a1.05,1.05 0 1,0 2.1,0a1.05,1.05 0 1,0 -2.1,0M104,309.02a1.05,1.05 0 1,0 2.1,0a1.05,1.05 0 1,0 -2.1,0M114.93,303.18a1.05,1.05 0 1,0 2.1,0a1.05,1.05 0 1,0 -2.1,0M107.57,309.03a1.05,1.05 0 1,0 2.1,0a1.05,1.05 0 1,0 -2.1,0M110.85,298.09a1.05,1.05 0 1,0 2.1,0a1.05,1.05 0 1,0 -2.1,0M105.77,308.84a1.05,1.05 0 1,0 2.1,0a1.05,1.05 0 1,0 -2.1,0M110.13,308.5a1.05,1.05 0 1,0 2.1,0a1.05,1.05 0 1,0 -2.1,0M111.26,302.97a1.05,1.05 0 1,0 2.1,0a1.05,1.05 0 1,0 -2.1,0M106.22,298.72a1.05,1.05 0 1,0 2.1,0a1.05,1.05 0 1,0 -2.1,0M106.28,292.87a1.05,1.05 0 1,0 2.1,0a1.05,1.05 0 1,0 -2.1,0M115.61,287.42a1.05,1.05 0 1,0 2.1,0a1.05,1.05 0 1,0 -2.1,0M111.82,301.28a1.05,1.05 0 1,0 2.1,0a1.05,1.05 0 1,0 -2.1,0M109.28,307.67a1.05,1.05 0 1,0 2.1,0a1.05,1.05 0 1,0 -2.1,0M111.12,306.22a1.05,1.05 0 1,0 2.1,0a1.05,1.05 0 1,0 -2.1,0M107.68,291.48a1.05,1.05 0 1,0 2.1,0a1.05,1.05 0 1,0 -2.1,0M114.48,292.25a1.05,1.05 0 1,0 2.1,0a1.05,1.05 0 1,0 -2.1,0M114.56,291.75a1.05,1.05 0 1,0 2.1,0a1.05,1.05 0 1,0 -2.1,0M116.11,308.83a1.05,1.05 0 1,0 2.1,0a1.05,1.05 0 1,0 -2.1,0M109.78,288.89a1.05,1.05 0 1,0 2.1,0a1.05,1.05 0 1,0 -2.1,0M115.76,294.59a1.05,1.05 0 1,0 2.1,0a1.05,1.05 0 1,0 -2.1,0M116.44,296.66a1.05,1.05 0 1,0 2.1,0a1.05,1.05 0 1,0 -2.1,0M106.45,298.97a1.05,1.05 0 1,0 2.1,0a1.05,1.05 0 1,0 -2.1,0M106.95,293.74a1.05,1.05 0 1,0 2.1,0a1.05,1.05 0 1,0 -2.1,0M104.54,308.72a1.05,1.05 0 1,0 2.1,0a1.05,1.05 0 1,0 -2.1,0M115.57,306.64a1.05,1.05 0 1,0 2.1,0a1.05,1.05 0 1,0 -2.1,0M95.43,308.82a1.05,1.05 0 1,0 2.1,0a1.05,1.05 0 1,0 -2.1,0M113.87,294.02a1.05,1.05 0 1,0 2.1,0a1.05,1.05 0 1,0 -2.1,0M103.75,293.6a1.05,1.05 0 1,0 2.1,0a1.05,1.05 0 1,0 -2.1,0M113.94,279.28a1.05,1.05 0 1,0 2.1,0a1.05,1.05 0 1,0 -2.1,0M116.35,293.1a1.05,1.05 0 1,0 2.1,0a1.05,1.05 0 1,0 -2.1,0M114.86,306.19a1.05,1.05 0 1,0 2.1,0a1.05,1.05 0 1,0 -2.1,0M116.58,289.59a1.05,1.05 0 1,0 2.1,0a1.05,1.05 0 1,0 -2.1,0M115.03,284.66a1.05,1.05 0 1,0 2.1,0a1.05,1.05 0 1,0 -2.1,0M106.3,292.88a1.05,1.05 0 1,0 2.1,0a1.05,1.05 0 1,0 -2.1,0M64.92,297.19a1.05,1.05 0 1,0 2.1,0a1.05,1.05 0 1,0 -2.1,0M68.16,299.02a1.05,1.05 0 1,0 2.1,0a1.05,1.05 0 1,0 -2.1,0M71.85,294.15a1.05,1.05 0 1,0 2.1,0a1.05,1.05 0 1,0 -2.1,0M74.16,299.62a1.05,1.05 0 1,0 2.1,0a1.05,1.05 0 1,0 -2.1,0M76.47,299.62a1.05,1.05 0 1,0 2.1,0a1.05,1.05 0 1,0 -2.1,0M79.25,299.02a1.05,1.05 0 1,0 2.1,0a1.05,1.05 0 1,0 -2.1,0M81.56,293.85a1.05,1.05 0 1,0 2.1,0a1.05,1.05 0 1,0 -2.1,0M82.02,299.93a1.05,1.05 0 1,0 2.1,0a1.05,1.05 0 1,0 -2.1,0M95.88,290.2a1.05,1.05 0 1,0 2.1,0a1.05,1.05 0 1,0 -2.1,0M97.73,295.37a1.05,1.05 0 1,0 2.1,0a1.05,1.05 0 1,0 -2.1,0M100.04,288.38a1.05,1.05 0 1,0 2.1,0a1.05,1.05 0 1,0 -2.1,0M99.11,303.27a1.05,1.05 0 1,0 2.1,0a1.05,1.05 0 1,0 -2.1,0M102.35,306.62a1.05,1.05 0 1,0 2.1,0a1.05,1.05 0 1,0 -2.1,0M104.66,281.08a1.05,1.05 0 1,0 2.1,0a1.05,1.05 0 1,0 -2.1,0M106.5,278.95a1.05,1.05 0 1,0 2.1,0a1.05,1.05 0 1,0 -2.1,0M101.42,293.85a1.05,1.05 0 1,0 2.1,0a1.05,1.05 0 1,0 -2.1,0M104.19,298.41a1.05,1.05 0 1,0 2.1,0a1.05,1.05 0 1,0 -2.1,0M89.41,303.27a1.05,1.05 0 1,0 2.1,0a1.05,1.05 0 1,0 -2.1,0" fill="#2f6db5" stroke="none" stroke-width="1"/>
<path d="M129.52,307.35a1.05,1.05 0 1,0 2.1,0a1.05,1.05 0 1,0 -2.1,0M128.12,308.99a1.05,1.05 0 1,0 2.1,0a1.05,1.05 0 1,0 -2.1,0M126.47,283.33a1.05,1.05 0 1,0 2.1,0a1.05,1.05 0 1,0 -2.1,0M128.53,289.9a1.05,1.05 0 1,0 2.1,0a1.05,1.05 0 1,0 -2.1,0M129.6,307.18a1.05,1.05 0 1,0 2.1,0a1.05,1.05 0 1,0 -2.1,0M134.1,301.94a1.05,1.05 0 1,0 2.1,0a1.05,1.05 0 1,0 -2.1,0M132.76,286.85a1.05,1.05 0 1,0 2.1,0a1.05,1.05 0 1,0 -2.1,0M131.38,281.59a1.05,1.05 0 1,0 2.1,0a1.05,1.05 0 1,0 -2.1,0M135.39,303.31a1.05,1.05 0 1,0 2.1,0a1.05,1.05 0 1,0 -2.1,0M126.5,289.35a1.05,1.05 0 1,0 2.1,0a1.05,1.05 0 1,0 -2.1,0M132.79,297.45a1.05,1.05 0 1,0 2.1,0a1.05,1.05 0 1,0 -2.1,0M126.47,290.26a1.05,1.05 0 1,0 2.1,0a1.05,1.05 0 1,0 -2.1,0M127.73,297.17a1.05,1.05 0 1,0 2.1,0a1.05,1.05 0 1,0 -2.1,0M127.09,304.99a1.05,1.05 0 1,0 2.1,0a1.05,1.05 0 1,0 -2.1,0M126.83,291.38a1.05,1.05 0 1,0 2.1,0a1.05,1.05 0 1,0 -2.1,0M126.71,308.98a1.05,1.05 0 1,0 2.1,0a1.05,1.05 0 1,0 -2.1,0M130.42,299.44a1.05,1.05 0 1,0 2.1,0a1.05,1.05 0 1,0 -2.1,0M133.78,308.28a1.05,1.05 0 1,0 2.1,0a1.05,1.05 0 1,0 -2.1,0M128.22,300.65a1.05,1.05 0 1,0 2.1,0a1.05,1.05 0 1,0 -2.1,0M128.92,308.06a1.05,1.05 0 1,0 2.1,0a1.05,1.05 0 1,0 -2.1,0M132.11,303.53a1.05,1.05 0 1,0 2.1,0a1.05,1.05 0 1,0 -2.1,0M127.23,308.37a1.05,1.05 0 1,0 2.1,0a1.05,1.05 0 1,0 -2.1,0M127.49,285.54a1.05,1.05 0 1,0 2.1,0a1.05,1.05 0 1,0 -2.1,0M135.3,308.66a1.05,1.05 0 1,0 2.1,0a1.05,1.05 0 1,0 -2.1,0M129.01,287.17a1.05,1.05 0 1,0 2.1,0a1.05,1.05 0 1,0 -2.1,0M129.27,307.45a1.05,1.05 0 1,0 2.1,0a1.05,1.05 0 1,0 -2.1,0M136.42,302.37a1.05,1.05 0 1,0 2.1,0a1.05,1.05 0 1,0 -2.1,0M134.31,309.04a1.05,1.05 0 1,0 2.1,0a1.05,1.05 0 1,0 -2.1,0M128.39,290.79a1.05,1.05 0 1,0 2.1,0a1.05,1.05 0 1,0 -2.1,0M127.4,295.7a1.05,1.05 0 1,0 2.1,0a1.05,1.05 0 1,0 -2.1,0M131.42,301.57a1.05,1.05 0 1,0 2.1,0a1.05,1.05 0 1,0 -2.1,0M127.01,295.87a1.05,1.05 0 1,0 2.1,0a1.05,1.05 0 1,0 -2.1,0M132.49,292.11a1.05,1.05 0 1,0 2.1,0a1.05,1.05 0 1,0 -2.1,0M134.64,296.42a1.05,1.05 0 1,0 2.1,0a1.05,1.05 0 1,0 -2.1,0M133.89,296.28a1.05,1.05 0 1,0 2.1,0a1.05,1.05 0 1,0 -2.1,0M130.95,308.92a1.05,1.05 0 1,0 2.1,0a1.05,1.05 0 1,0 -2.1,0M130.16,300.26a1.05,1.05 0 1,0 2.1,0a1.05,1.05 0 1,0 -2.1,0M134.53,293.86a1.05,1.05 0 1,0 2.1,0a1.05,1.05 0 1,0 -2.1,0M131.09,300.31a1.05,1.05 0 1,0 2.1,0a1.05,1.05 0 1,0 -2.1,0M136.36,303.08a1.05,1.05 0 1,0 2.1,0a1.05,1.05 0 1,0 -2.1,0M126.43,304.1a1.05,1.05 0 1,0 2.1,0a1.05,1.05 0 1,0 -2.1,0M130.28,303.49a1.05,1.05 0 1,0 2.1,0a1.05,1.05 0 1,0 -2.1,0M130.51,276.67a1.05,1.05 0 1,0 2.1,0a1.05,1.05 0 1,0 -2.1,0M129.17,291.86a1.05,1.05 0 1,0 2.1,0a1.05,1.05 0 1,0 -2.1,0M133.5,291.34a1.05,1.05 0 1,0 2.1,0a1.05,1.05 0 1,0 -2.1,0M129.61,275.31a1.05,1.05 0 1,0 2.1,0a1.05,1.05 0 1,0 -2.1,0M126.43,306.14a1.05,1.05 0 1,0 2.1,0a1.05,1.05 0 1,0 -2.1,0M130.07,300.84a1.05,1.05 0 1,0 2.1,0a1.05,1.05 0 1,0 -2.1,0M129.69,280.98a1.05,1.05 0 1,0 2.1,0a1.05,1.05 0 1,0 -2.1,0M126.81,284.31a1.05,1.05 0 1,0 2.1,0a1.05,1.05 0 1,0 -2.1,0M130.13,286.55a1.05,1.05 0 1,0 2.1,0a1.05,1.05 0 1,0 -2.1,0M133.35,288.93a1.05,1.05 0 1,0 2.1,0a1.05,1.05 0 1,0 -2.1,0M127.94,308.18a1.05,1.05 0 1,0 2.1,0a1.05,1.05 0 1,0 -2.1,0M131.84,286.83a1.05,1.05 0 1,0 2.1,0a1.05,1.05 0 1,0 -2.1,0M128.9,302.28a1.05,1.05 0 1,0 2.1,0a1.05,1.05 0 1,0 -2.1,0M132.35,298.53a1.05,1.05 0 1,0 2.1,0a1.05,1.05 0 1,0 -2.1,0M129.04,296.78a1.05,1.05 0 1,0 2.1,0a1.05,1.05 0 1,0 -2.1,0M126.96,294.6a1.05,1.05 0 1,0 2.1,0a1.05,1.05 0 1,0 -2.1,0M136.95,307.12a1.05,1.05 0 1,0 2.1,0a1.05,1.05 0 1,0 -2.1,0M128.97,279.85a1.05,1.05 0 1,0 2.1,0a1.05,1.05 0 1,0 -2.1,0M130.84,308.36a1.05,1.05 0 1,0 2.1,0a1.05,1.05 0 1,0 -2.1,0M137.61,308.56a1.05,1.05 0 1,0 2.1,0a1.05,1.05 0 1,0 -2.1,0M128.71,309.01a1.05,1.05 0 1,0 2.1,0a1.05,1.05 0 1,0 -2.1,0M136.15,307.74a1.05,1.05 0 1,0 2.1,0a1.05,1.05 0 1,0 -2.1,0M129.35,306.93a1.05,1.05 0 1,0 2.1,0a1.05,1.05 0 1,0 -2.1,0M140.03,308.89a1.05,1.05 0 1,0 2.1,0a1.05,1.05 0 1,0 -2.1,0M129.1,287.87a1.05,1.05 0 1,0 2.1,0a1.05,1.05 0 1,0 -2.1,0M132.9,292.4a1.05,1.05 0 1,0 2.1,0a1.05,1.05 0 1,0 -2.1,0M126.4,308.96a1.05,1.05 0 1,0 2.1,0a1.05,1.05 0 1,0 -2.1,0M129.93,290.24a1.05,1.05 0 1,0 2.1,0a1.05,1.05 0 1,0 -2.1,0M127.28,280.83a1.05,1.05 0 1,0 2.1,0a1.05,1.05 0 1,0 -2.1,0M129.83,292.26a1.05,1.05 0 1,0 2.1,0a1.05,1.05 0 1,0 -2.1,0M132.04,296.08a1.05,1.05 0 1,0 2.1,0a1.05,1.05 0 1,0 -2.1,0M130.03,290.11a1.05,1.05 0 1,0 2.1,0a1.05,1.05 0 1,0 -2.1,0M126.93,308.67a1.05,1.05 0 1,0 2.1,0a1.05,1.05 0 1,0 -2.1,0M127.95,309.01a1.05,1.05 0 1,0 2.1,0a1.05,1.05 0 1,0 -2.1,0M128.02,308.07a1.05,1.05 0 1,0 2.1,0a1.05,1.05 0 1,0 -2.1,0M128.33,298.46a1.05,1.05 0 1,0 2.1,0a1.05,1.05 0 1,0 -2.1,0M133.29,305.97a1.05,1.05 0 1,0 2.1,0a1.05,1.05 0 1,0 -2.1,0M127.71,288.5a1.05,1.05 0 1,0 2.1,0a1.05,1.05 0 1,0 -2.1,0M127.3,304.61a1.05,1.05 0 1,0 2.1,0a1.05,1.05 0 1,0 -2.1,0M128.28,301.24a1.05,1.05 0 1,0 2.1,0a1.05,1.05 0 1,0 -2.1,0M128.23,289.45a1.05,1.05 0 1,0 2.1,0a1.05,1.05 0 1,0 -2.1,0M131.03,308.3a1.05,1.05 0 1,0 2.1,0a1.05,1.05 0 1,0 -2.1,0M130.22,283.9a1.05,1.05 0 1,0 2.1,0a1.05,1.05 0 1,0 -2.1,0M128.12,308.93a1.05,1.05 0 1,0 2.1,0a1.05,1.05 0 1,0 -2.1,0M127.94,284.24a1.05,1.05 0 1,0 2.1,0a1.05,1.05 0 1,0 -2.1,0M129.28,285.14a1.05,1.05 0 1,0 2.1,0a1.05,1.05 0 1,0 -2.1,0M128.15,309.03a1.05,1.05 0 1,0 2.1,0a1.05,1.05 0 1,0 -2.1,0M129.64,306.66a1.05,1.05 0 1,0 2.1,0a1.05,1.05 0 1,0 -2.1,0M128.61,291.97a1.05,1.05 0 1,0 2.1,0a1.05,1.05 0 1,0 -2.1,0M127.89,295.51a1.05,1.05 0 1,0 2.1,0a1.05,1.05 0 1,0 -2.1,0M127.91,307.62a1.05,1.05 0 1,0 2.1,0a1.05,1.05 0 1,0 -2.1,0M128.84,308.24a1.05,1.05 0 1,0 2.1,0a1.05,1.05 0 1,0 -2.1,0M130.88,292.52a1.05,1.05 0 1,0 2.1,0a1.05,1.05 0 1,0 -2.1,0M126.86,297.5a1.05,1.05 0 1,0 2.1,0a1.05,1.05 0 1,0 -2.1,0M126.65,309.02a1.05,1.05 0 1,0 2.1,0a1.05,1.05 0 1,0 -2.1,0M128.04,284.17a1.05,1.05 0 1,0 2.1,0a1.05,1.05 0 1,0 -2.1,0M134.49,305.3a1.05,1.05 0 1,0 2.1,0a1.05,1.05 0 1,0 -2.1,0M135.02,299.31a1.05,1.05 0 1,0 2.1,0a1.05,1.05 0 1,0 -2.1,0M131.62,305.65a1.05,1.05 0 1,0 2.1,0a1.05,1.05 0 1,0 -2.1,0M132.59,303.54a1.05,1.05 0 1,0 2.1,0a1.05,1.05 0 1,0 -2.1,0M128.59,305.47a1.05,1.05 0 1,0 2.1,0a1.05,1.05 0 1,0 -2.1,0M126.69,289.77a1.05,1.05 0 1,0 2.1,0a1.05,1.05 0 1,0 -2.1,0M127.36,289.38a1.05,1.05 0 1,0 2.1,0a1.05,1.05 0 1,0 -2.1,0M130.78,306.04a1.05,1.05 0 1,0 2.1,0a1.05,1.05 0 1,0 -2.1,0M127.49,302.43a1.05,1.05 0 1,0 2.1,0a1.05,1.05 0 1,0 -2.1,0M129.42,302.25a1.05,1.05 0 1,0 2.1,0a1.05,1.05 0 1,0 -2.1,0M129.66,281.82a1.05,1.05 0 1,0 2.1,0a1.05,1.05 0 1,0 -2.1,0M130.42,308.77a1.05,1.05 0 1,0 2.1,0a1.05,1.05 0 1,0 -2.1,0M130.91,305.83a1.05,1.05 0 1,0 2.1,0a1.05,1.05 0 1,0 -2.1,0M133.9,308.97a1.05,1.05 0 1,0 2.1,0a1.05,1.05 0 1,0 -2.1,0M128.49,299.51a1.05,1.05 0 1,0 2.1,0a1.05,1.05 0 1,0 -2.1,0M127.24,291.78a1.05,1.05 0 1,0 2.1,0a1.05,1.05 0 1,0 -2.1,0M128.29,298.96a1.05,1.05 0 1,0 2.1,0a1.05,1.05 0 1,0 -2.1,0M127.65,307.16a1.05,1.05 0 1,0 2.1,0a1.05,1.05 0 1,0 -2.1,0M126.97,308.1a1.05,1.05 0 1,0 2.1,0a1.05,1.05 0 1,0 -2.1,0M131.31,308.62a1.05,1.05 0 1,0 2.1,0a1.05,1.05 0 1,0 -2.1,0M129.71,278.4a1.05,1.05 0 1,0 2.1,0a1.05,1.05 0 1,0 -2.1,0M130.35,295.96a1.05,1.05 0 1,0 2.1,0a1.05,1.05 0 1,0 -2.1,0M129.32,287.86a1.05,1.05 0 1,0 2.1,0a1.05,1.05 0 1,0 -2.1,0M127.79,296.49a1.05,1.05 0 1,0 2.1,0a1.05,1.05 0 1,0 -2.1,0M134.48,294.24a1.05,1.05 0 1,0 2.1,0a1.05,1.05 0 1,0 -2.1,0M134.99,308.56a1.05,1.05 0 1,0 2.1,0a1.05,1.05 0 1,0 -2.1,0M131.66,305.92a1.05,1.05 0 1,0 2.1,0a1.05,1.05 0 1,0 -2.1,0M128.32,307.11a1.05,1.05 0 1,0 2.1,0a1.05,1.05 0 1,0 -2.1,0M128.48,308.43a1.05,1.05 0 1,0 2.1,0a1.05,1.05 0 1,0 -2.1,0M128.77,305.04a1.05,1.05 0 1,0 2.1,0a1.05,1.05 0 1,0 -2.1,0M130.93,289.26a1.05,1.05 0 1,0 2.1,0a1.05,1.05 0 1,0 -2.1,0M128.73,308.52a1.05,1.05 0 1,0 2.1,0a1.05,1.05 0 1,0 -2.1,0M130.24,306.37a1.05,1.05 0 1,0 2.1,0a1.05,1.05 0 1,0 -2.1,0M127.55,293.11a1.05,1.05 0 1,0 2.1,0a1.05,1.05 0 1,0 -2.1,0M127.87,278.15a1.05,1.05 0 1,0 2.1,0a1.05,1.05 0 1,0 -2.1,0M128.16,298.99a1.05,1.05 0 1,0 2.1,0a1.05,1.05 0 1,0 -2.1,0M126.66,295.07a1.05,1.05 0 1,0 2.1,0a1.05,1.05 0 1,0 -2.1,0M126.99,299.06a1.05,1.05 0 1,0 2.1,0a1.05,1.05 0 1,0 -2.1,0M131.52,289.76a1.05,1.05 0 1,0 2.1,0a1.05,1.05 0 1,0 -2.1,0M127.17,298.12a1.05,1.05 0 1,0 2.1,0a1.05,1.05 0 1,0 -2.1,0M126.91,296.25a1.05,1.05 0 1,0 2.1,0a1.05,1.05 0 1,0 -2.1,0M131.77,293.74a1.05,1.05 0 1,0 2.1,0a1.05,1.05 0 1,0 -2.1,0M131.48,280.42a1.05,1.05 0 1,0 2.1,0a1.05,1.05 0 1,0 -2.1,0M132.96,293a1.05,1.05 0 1,0 2.1,0a1.05,1.05 0 1,0 -2.1,0M129.13,280.3a1.05,1.05 0 1,0 2.1,0a1.05,1.05 0 1,0 -2.1,0M129.83,306.83a1.05,1.05 0 1,0 2.1,0a1.05,1.05 0 1,0 -2.1,0M127.27,283.72a1.05,1.05 0 1,0 2.1,0a1.05,1.05 0 1,0 -2.1,0M132.54,308.54a1.05,1.05 0 1,0 2.1,0a1.05,1.05 0 1,0 -2.1,0M126.63,301.68a1.05,1.05 0 1,0 2.1,0a1.05,1.05 0 1,0 -2.1,0M127.59,307.71a1.05,1.05 0 1,0 2.1,0a1.05,1.05 0 1,0 -2.1,0M129.13,294.75a1.05,1.05 0 1,0 2.1,0a1.05,1.05 0 1,0 -2.1,0M133.54,287.89a1.05,1.05 0 1,0 2.1,0a1.05,1.05 0 1,0 -2.1,0M132.06,309.02a1.05,1.05 0 1,0 2.1,0a1.05,1.05 0 1,0 -2.1,0M130.39,278.23a1.05,1.05 0 1,0 2.1,0a1.05,1.05 0 1,0 -2.1,0M126.93,299.23a1.05,1.05 0 1,0 2.1,0a1.05,1.05 0 1,0 -2.1,0M131.6,280.61a1.05,1.05 0 1,0 2.1,0a1.05,1.05 0 1,0 -2.1,0M140.68,308.76a1.05,1.05 0 1,0 2.1,0a1.05,1.05 0 1,0 -2.1,0M127.08,306.52a1.05,1.05 0 1,0 2.1,0a1.05,1.05 0 1,0 -2.1,0M127.93,277.22a1.05,1.05 0 1,0 2.1,0a1.05,1.05 0 1,0 -2.1,0M129.05,299.41a1.05,1.05 0 1,0 2.1,0a1.05,1.05 0 1,0 -2.1,0M128.12,303.78a1.05,1.05 0 1,0 2.1,0a1.05,1.05 0 1,0 -2.1,0M138.02,307.99a1.05,1.05 0 1,0 2.1,0a1.05,1.05 0 1,0 -2.1,0M130.16,308.97a1.05,1.05 0 1,0 2.1,0a1.05,1.05 0 1,0 -2.1,0M132.09,302.97a1.05,1.05 0 1,0 2.1,0a1.05,1.05 0 1,0 -2.1,0M130.92,309.05a1.05,1.05 0 1,0 2.1,0a1.05,1.05 0 1,0 -2.1,0M133.75,298.96a1.05,1.05 0 1,0 2.1,0a1.05,1.05 0 1,0 -2.1,0M126.62,298.12a1.05,1.05 0 1,0 2.1,0a1.05,1.05 0 1,0 -2.1,0M131.45,290.83a1.05,1.05 0 1,0 2.1,0a1.05,1.05 0 1,0 -2.1,0M128.59,307.92a1.05,1.05 0 1,0 2.1,0a1.05,1.05 0 1,0 -2.1,0M128.98,277.44a1.05,1.05 0 1,0 2.1,0a1.05,1.05 0 1,0 -2.1,0M127.86,297.85a1.05,1.05 0 1,0 2.1,0a1.05,1.05 0 1,0 -2.1,0M128.39,295.24a1.05,1.05 0 1,0 2.1,0a1.05,1.05 0 1,0 -2.1,0M127.57,306.02a1.05,1.05 0 1,0 2.1,0a1.05,1.05 0 1,0 -2.1,0M127.4,307.31a1.05,1.05 0 1,0 2.1,0a1.05,1.05 0 1,0 -2.1,0M130.72,301.15a1.05,1.05 0 1,0 2.1,0a1.05,1.05 0 1,0 -2.1,0M128.97,281.14a1.05,1.05 0 1,0 2.1,0a1.05,1.05 0 1,0 -2.1,0M131.2,279.18a1.05,1.05 0 1,0 2.1,0a1.05,1.05 0 1,0 -2.1,0M134.16,306.54a1.05,1.05 0 1,0 2.1,0a1.05,1.05 0 1,0 -2.1,0M130.79,308.76a1.05,1.05 0 1,0 2.1,0a1.05,1.05 0 1,0 -2.1,0M128.05,281.16a1.05,1.05 0 1,0 2.1,0a1.05,1.05 0 1,0 -2.1,0M127.06,305.03a1.05,1.05 0 1,0 2.1,0a1.05,1.05 0 1,0 -2.1,0M126.9,305.13a1.05,1.05 0 1,0 2.1,0a1.05,1.05 0 1,0 -2.1,0M135.51,305.52a1.05,1.05 0 1,0 2.1,0a1.05,1.05 0 1,0 -2.1,0M128.3,297.23a1.05,1.05 0 1,0 2.1,0a1.05,1.05 0 1,0 -2.1,0M131.25,292.89a1.05,1.05 0 1,0 2.1,0a1.05,1.05 0 1,0 -2.1,0M133.19,300.47a1.05,1.05 0 1,0 2.1,0a1.05,1.05 0 1,0 -2.1,0M128.94,291.8a1.05,1.05 0 1,0 2.1,0a1.05,1.05 0 1,0 -2.1,0M128.68,294.85a1.05,1.05 0 1,0 2.1,0a1.05,1.05 0 1,0 -2.1,0M129.49,277.04a1.05,1.05 0 1,0 2.1,0a1.05,1.05 0 1,0 -2.1,0M135.75,308.11a1.05,1.05 0 1,0 2.1,0a1.05,1.05 0 1,0 -2.1,0M135.13,302.58a1.05,1.05 0 1,0 2.1,0a1.05,1.05 0 1,0 -2.1,0M130.9,306.92a1.05,1.05 0 1,0 2.1,0a1.05,1.05 0 1,0 -2.1,0M127.63,305.96a1.05,1.05 0 1,0 2.1,0a1.05,1.05 0 1,0 -2.1,0M129.69,302.22a1.05,1.05 0 1,0 2.1,0a1.05,1.05 0 1,0 -2.1,0M133.24,308.67a1.05,1.05 0 1,0 2.1,0a1.05,1.05 0 1,0 -2.1,0M127.41,290.26a1.05,1.05 0 1,0 2.1,0a1.05,1.05 0 1,0 -2.1,0M130.08,291.11a1.05,1.05 0 1,0 2.1,0a1.05,1.05 0 1,0 -2.1,0M130.04,285.35a1.05,1.05 0 1,0 2.1,0a1.05,1.05 0 1,0 -2.1,0M131.61,292.44a1.05,1.05 0 1,0 2.1,0a1.05,1.05 0 1,0 -2.1,0M126.69,293.04a1.05,1.05 0 1,0 2.1,0a1.05,1.05 0 1,0 -2.1,0M128.12,278.86a1.05,1.05 0 1,0 2.1,0a1.05,1.05 0 1,0 -2.1,0M128.7,286.35a1.05,1.05 0 1,0 2.1,0a1.05,1.05 0 1,0 -2.1,0M126.9,282.39a1.05,1.05 0 1,0 2.1,0a1.05,1.05 0 1,0 -2.1,0M131.25,306.48a1.05,1.05 0 1,0 2.1,0a1.05,1.05 0 1,0 -2.1,0M136.29,300.01a1.05,1.05 0 1,0 2.1,0a1.05,1.05 0 1,0 -2.1,0M132.75,306.45a1.05,1.05 0 1,0 2.1,0a1.05,1.05 0 1,0 -2.1,0M126.77,294.48a1.05,1.05 0 1,0 2.1,0a1.05,1.05 0 1,0 -2.1,0M130.71,287.42a1.05,1.05 0 1,0 2.1,0a1.05,1.05 0 1,0 -2.1,0M128.65,306.2a1.05,1.05 0 1,0 2.1,0a1.05,1.05 0 1,0 -2.1,0M128.73,305.03a1.05,1.05 0 1,0 2.1,0a1.05,1.05 0 1,0 -2.1,0M128.81,301.12a1.05,1.05 0 1,0 2.1,0a1.05,1.05 0 1,0 -2.1,0M126.93,301.87a1.05,1.05 0 1,0 2.1,0a1.05,1.05 0 1,0 -2.1,0M131.76,281.34a1.05,1.05 0 1,0 2.1,0a1.05,1.05 0 1,0 -2.1,0M129.24,294.97a1.05,1.05 0 1,0 2.1,0a1.05,1.05 0 1,0 -2.1,0M130.82,300.3a1.05,1.05 0 1,0 2.1,0a1.05,1.05 0 1,0 -2.1,0M132.05,307.23a1.05,1.05 0 1,0 2.1,0a1.05,1.05 0 1,0 -2.1,0M127.24,293.14a1.05,1.05 0 1,0 2.1,0a1.05,1.05 0 1,0 -2.1,0M126.47,307.6a1.05,1.05 0 1,0 2.1,0a1.05,1.05 0 1,0 -2.1,0M134.46,296.59a1.05,1.05 0 1,0 2.1,0a1.05,1.05 0 1,0 -2.1,0M135.01,296.73a1.05,1.05 0 1,0 2.1,0a1.05,1.05 0 1,0 -2.1,0M130.48,289.94a1.05,1.05 0 1,0 2.1,0a1.05,1.05 0 1,0 -2.1,0M131.48,279.4a1.05,1.05 0 1,0 2.1,0a1.05,1.05 0 1,0 -2.1,0M128.98,304.11a1.05,1.05 0 1,0 2.1,0a1.05,1.05 0 1,0 -2.1,0M133.8,306.55a1.05,1.05 0 1,0 2.1,0a1.05,1.05 0 1,0 -2.1,0M129.09,282.98a1.05,1.05 0 1,0 2.1,0a1.05,1.05 0 1,0 -2.1,0M132.01,285.11a1.05,1.05 0 1,0 2.1,0a1.05,1.05 0 1,0 -2.1,0M128.98,309.01a1.05,1.05 0 1,0 2.1,0a1.05,1.05 0 1,0 -2.1,0M128,297.29a1.05,1.05 0 1,0 2.1,0a1.05,1.05 0 1,0 -2.1,0M126.93,308.64a1.05,1.05 0 1,0 2.1,0a1.05,1.05 0 1,0 -2.1,0M130.01,309.04a1.05,1.05 0 1,0 2.1,0a1.05,1.05 0 1,0 -2.1,0M129.68,309.04a1.05,1.05 0 1,0 2.1,0a1.05,1.05 0 1,0 -2.1,0M132.68,306.47a1.05,1.05 0 1,0 2.1,0a1.05,1.05 0 1,0 -2.1,0M127.06,280.48a1.05,1.05 0 1,0 2.1,0a1.05,1.05 0 1,0 -2.1,0M133.62,309.01a1.05,1.05 0 1,0 2.1,0a1.05,1.05 0 1,0 -2.1,0M134.5,291.08a1.05,1.05 0 1,0 2.1,0a1.05,1.05 0 1,0 -2.1,0M133.47,307.93a1.05,1.05 0 1,0 2.1,0a1.05,1.05 0 1,0 -2.1,0M129.24,303.56a1.05,1.05 0 1,0 2.1,0a1.05,1.05 0 1,0 -2.1,0M131.2,301.13a1.05,1.05 0 1,0 2.1,0a1.05,1.05 0 1,0 -2.1,0M129.91,308.72a1.05,1.05 0 1,0 2.1,0a1.05,1.05 0 1,0 -2.1,0M126.84,308.51a1.05,1.05 0 1,0 2.1,0a1.05,1.05 0 1,0 -2.1,0M127.43,294.75a1.05,1.05 0 1,0 2.1,0a1.05,1.05 0 1,0 -2.1,0M128.09,290.96a1.05,1.05 0 1,0 2.1,0a1.05,1.05 0 1,0 -2.1,0M127.04,291.53a1.05,1.05 0 1,0 2.1,0a1.05,1.05 0 1,0 -2.1,0M134.53,305.69a1.05,1.05 0 1,0 2.1,0a1.05,1.05 0 1,0 -2.1,0M129.35,278.83a1.05,1.05 0 1,0 2.1,0a1.05,1.05 0 1,0 -2.1,0M126.52,298.32a1.05,1.05 0 1,0 2.1,0a1.05,1.05 0 1,0 -2.1,0M128.9,290.35a1.05,1.05 0 1,0 2.1,0a1.05,1.05 0 1,0 -2.1,0M127.22,302.59a1.05,1.05 0 1,0 2.1,0a1.05,1.05 0 1,0 -2.1,0M127.06,288.77a1.05,1.05 0 1,0 2.1,0a1.05,1.05 0 1,0 -2.1,0M129.63,285.13a1.05,1.05 0 1,0 2.1,0a1.05,1.05 0 1,0 -2.1,0M131.46,306.82a1.05,1.05 0 1,0 2.1,0a1.05,1.05 0 1,0 -2.1,0M129.79,289.48a1.05,1.05 0 1,0 2.1,0a1.05,1.05 0 1,0 -2.1,0M129.09,305.8a1.05,1.05 0 1,0 2.1,0a1.05,1.05 0 1,0 -2.1,0M134.08,308.58a1.05,1.05 0 1,0 2.1,0a1.05,1.05 0 1,0 -2.1,0M129.45,307.61a1.05,1.05 0 1,0 2.1,0a1.05,1.05 0 1,0 -2.1,0M131.47,306.8a1.05,1.05 0 1,0 2.1,0a1.05,1.05 0 1,0 -2.1,0M128.29,293.29a1.05,1.05 0 1,0 2.1,0a1.05,1.05 0 1,0 -2.1,0M127.46,305.92a1.05,1.05 0 1,0 2.1,0a1.05,1.05 0 1,0 -2.1,0M126.63,298.99a1.05,1.05 0 1,0 2.1,0a1.05,1.05 0 1,0 -2.1,0M131.21,289.94a1.05,1.05 0 1,0 2.1,0a1.05,1.05 0 1,0 -2.1,0M133.65,307a1.05,1.05 0 1,0 2.1,0a1.05,1.05 0 1,0 -2.1,0M127.8,304.68a1.05,1.05 0 1,0 2.1,0a1.05,1.05 0 1,0 -2.1,0M161.02,269.53a1.05,1.05 0 1,0 2.1,0a1.05,1.05 0 1,0 -2.1,0M163.79,304.49a1.05,1.05 0 1,0 2.1,0a1.05,1.05 0 1,0 -2.1,0M155.01,305.1a1.05,1.05 0 1,0 2.1,0a1.05,1.05 0 1,0 -2.1,0M151.78,306.62a1.05,1.05 0 1,0 2.1,0a1.05,1.05 0 1,0 -2.1,0M153.17,303.88a1.05,1.05 0 1,0 2.1,0a1.05,1.05 0 1,0 -2.1,0M144.85,307.53a1.05,1.05 0 1,0 2.1,0a1.05,1.05 0 1,0 -2.1,0M141.15,295.67a1.05,1.05 0 1,0 2.1,0a1.05,1.05 0 1,0 -2.1,0M139.31,291.11a1.05,1.05 0 1,0 2.1,0a1.05,1.05 0 1,0 -2.1,0M133.3,281.08a1.05,1.05 0 1,0 2.1,0a1.05,1.05 0 1,0 -2.1,0M136.07,308.44a1.05,1.05 0 1,0 2.1,0a1.05,1.05 0 1,0 -2.1,0M147.62,300.23a1.05,1.05 0 1,0 2.1,0a1.05,1.05 0 1,0 -2.1,0" fill="#d8404f" stroke="none" stroke-width="1"/>
<line x1="71.06" y1="313.6" x2="178.24" y2="313.6" stroke="#9c9c9c" stroke-width="2.2"/>
<g stroke="#333" stroke-width="0.6" stroke-dasharray="1.2,1.2"><line x1="118.6" y1="184.4" x2="118.6" y2="319.2"/><line x1="127.4" y1="184.4" x2="127.4" y2="319.2"/><line x1="52.6" y1="309.4" x2="192.6" y2="309.4"/></g>
<circle cx="103.2" cy="221.6" r="1.9" fill="#2f6db5" stroke="#bbb" stroke-width="0.7"/>
<circle cx="103" cy="227.5" r="1.9" fill="#2f6db5" stroke="#bbb" stroke-width="0.7"/>
<circle cx="107.8" cy="231.2" r="1.9" fill="#2f6db5" stroke="#bbb" stroke-width="0.7"/>
<circle cx="105.6" cy="242" r="1.9" fill="#2f6db5" stroke="#bbb" stroke-width="0.7"/>
<circle cx="103" cy="252" r="1.9" fill="#2f6db5" stroke="#bbb" stroke-width="0.7"/>
<circle cx="109.8" cy="253.4" r="1.9" fill="#2f6db5" stroke="#bbb" stroke-width="0.7"/>
<circle cx="108" cy="254.3" r="1.9" fill="#2f6db5" stroke="#bbb" stroke-width="0.7"/>
<circle cx="107.2" cy="259.5" r="1.9" fill="#2f6db5" stroke="#bbb" stroke-width="0.7"/>
<circle cx="111.2" cy="259.3" r="1.9" fill="#2f6db5" stroke="#bbb" stroke-width="0.7"/>
<circle cx="104.8" cy="264" r="1.9" fill="#2f6db5" stroke="#bbb" stroke-width="0.7"/>
<circle cx="106.3" cy="264.8" r="1.9" fill="#2f6db5" stroke="#bbb" stroke-width="0.7"/>
<circle cx="114.3" cy="264.5" r="1.9" fill="#2f6db5" stroke="#bbb" stroke-width="0.7"/>
<circle cx="147.2" cy="190.8" r="1.9" fill="#d8404f" stroke="#bbb" stroke-width="0.7"/>
<circle cx="143.2" cy="207.6" r="1.9" fill="#d8404f" stroke="#bbb" stroke-width="0.7"/>
<circle cx="137" cy="212" r="1.9" fill="#d8404f" stroke="#bbb" stroke-width="0.7"/>
<circle cx="140" cy="212.5" r="1.9" fill="#d8404f" stroke="#bbb" stroke-width="0.7"/>
<circle cx="141.2" cy="213.5" r="1.9" fill="#d8404f" stroke="#bbb" stroke-width="0.7"/>
<circle cx="133" cy="239.6" r="1.9" fill="#d8404f" stroke="#bbb" stroke-width="0.7"/>
<circle cx="134.5" cy="240.3" r="1.9" fill="#d8404f" stroke="#bbb" stroke-width="0.7"/>
<circle cx="135" cy="248.5" r="1.9" fill="#d8404f" stroke="#bbb" stroke-width="0.7"/>
<circle cx="136.6" cy="258.8" r="1.9" fill="#d8404f" stroke="#bbb" stroke-width="0.7"/>
<circle cx="137.2" cy="254" r="1.9" fill="#d8404f" stroke="#bbb" stroke-width="0.7"/>
<text x="98.5" y="217.8" font-size="4.6" text-anchor="start" font-weight="bold" fill="#e8425a" font-family="Liberation Mono" stroke="#e8425a" stroke-width="0.1">Bglap2</text>
<text x="84.8" y="227.8" font-size="4.6" text-anchor="start" font-weight="bold" fill="#e8425a" font-family="Liberation Mono" stroke="#e8425a" stroke-width="0.1">Bglap</text>
<text x="76.4" y="239.9" font-size="4.6" text-anchor="start" font-weight="bold" fill="#e8425a" font-family="Liberation Mono" stroke="#e8425a" stroke-width="0.1">Col11a1</text>
<text x="103.5" y="237.6" font-size="4.6" text-anchor="start" font-weight="bold" fill="#e8425a" font-family="Liberation Mono" stroke="#e8425a" stroke-width="0.1">Col11a2</text>
<text x="105.5" y="248.8" font-size="4.6" text-anchor="start" font-weight="bold" fill="#e8425a" font-family="Liberation Mono" stroke="#e8425a" stroke-width="0.1">Col5a2</text>
<text x="88.5" y="258" font-size="4.6" text-anchor="start" font-weight="bold" fill="#e8425a" font-family="Liberation Mono" stroke="#e8425a" stroke-width="0.1">Col1a2</text>
<text x="78" y="268.2" font-size="4.6" text-anchor="start" font-weight="bold" fill="#e8425a" font-family="Liberation Mono" stroke="#e8425a" stroke-width="0.1">Col2a1</text>
<text x="127" y="194.4" font-size="3.6" text-anchor="start" fill="#333">Mir1428hg</text>
<text x="144.5" y="203.5" font-size="3.6" text-anchor="start" fill="#333">Ptlfa2</text>
<text x="128" y="207.5" font-size="3.6" text-anchor="start" fill="#333">Sdfa1</text>
<text x="122.2" y="218.6" font-size="3.6" text-anchor="start" fill="#333">Tnfab1</text>
<text x="140.5" y="219.2" font-size="3.6" text-anchor="start" fill="#333">Cubb5</text>
<text x="130.2" y="233.6" font-size="3.6" text-anchor="start" fill="#333">Angpt1</text>
<text x="140" y="243.5" font-size="3.6" text-anchor="start" fill="#333">Sfta2l1</text>
<text x="123.2" y="246" font-size="3.6" text-anchor="start" fill="#333">Col6a4</text>
<text x="139" y="263.4" font-size="3.6" text-anchor="start" fill="#333">Sfx3</text>
<text x="91" y="248" font-size="3.6" text-anchor="start" fill="#333">Ibsp</text>
<text x="115.5" y="259.2" font-size="3.6" text-anchor="start" fill="#333">Sparc</text>
<text x="100" y="269" font-size="3.6" text-anchor="start" fill="#333">Cpl1</text>
<text x="113.5" y="269.5" font-size="3.6" text-anchor="start" fill="#333">Mmp2</text>
<line x1="111.5" y1="240.3" x2="105.6" y2="242" stroke="#e8425a" stroke-width="0.35"/>
<line x1="98" y1="238.2" x2="105.6" y2="242" stroke="#e8425a" stroke-width="0.35"/>
<line x1="101" y1="266.5" x2="104.8" y2="264" stroke="#e8425a" stroke-width="0.35"/>
<line x1="108.5" y1="250" x2="109.8" y2="253.4" stroke="#e8425a" stroke-width="0.35"/>
<line x1="98" y1="250" x2="103" y2="252" stroke="#333" stroke-width="0.35"/>
<line x1="140" y1="219" x2="141.2" y2="213.5" stroke="#333" stroke-width="0.35"/>
<line x1="139.5" y1="242.5" x2="134.5" y2="240.3" stroke="#333" stroke-width="0.35"/>
<line x1="126" y1="194" x2="147.2" y2="190.8" stroke="#333" stroke-width="0.35"/>
<text x="205.4" y="226.8" font-size="8" text-anchor="start" fill="#000" stroke="#000" stroke-width="0.1">Significant</text>
<circle cx="207.1" cy="237" r="3.1" fill="#e05c6c" stroke="none" stroke-width="1"/>
<circle cx="207.1" cy="250.6" r="3.1" fill="#a6a6a6" stroke="none" stroke-width="1"/>
<circle cx="207.1" cy="264.2" r="3.1" fill="#4779c2" stroke="none" stroke-width="1"/>
<text x="218" y="239.8" font-size="8" text-anchor="start" fill="#000" stroke="#000" stroke-width="0.1">Sig_Up (358)</text>
<text x="218" y="253.4" font-size="8" text-anchor="start" fill="#000" stroke="#000" stroke-width="0.1">No Diff (23259)</text>
<text x="218" y="267" font-size="8" text-anchor="start" fill="#000" stroke="#000" stroke-width="0.1">Sig_Down (1145)</text>
<text x="317.7" y="11.9" font-size="10.5" text-anchor="start" font-weight="bold" fill="#000" stroke="#000" stroke-width="0.1">c</text>
<rect x="483.4" y="0.4" width="123.6" height="327" fill="#fff" stroke="none" stroke-width="1"/>
<line x1="502.45" y1="0.4" x2="502.45" y2="327.4" stroke="#f2f2f2" stroke-width="0.7"/>
<line x1="532.97" y1="0.4" x2="532.97" y2="327.4" stroke="#f2f2f2" stroke-width="0.7"/>
<line x1="563.48" y1="0.4" x2="563.48" y2="327.4" stroke="#f2f2f2" stroke-width="0.7"/>
<line x1="593.99" y1="0.4" x2="593.99" y2="327.4" stroke="#f2f2f2" stroke-width="0.7"/>
<line x1="487.2" y1="0.4" x2="487.2" y2="327.4" stroke="#e4e4e4" stroke-width="0.8"/>
<line x1="517.71" y1="0.4" x2="517.71" y2="327.4" stroke="#e4e4e4" stroke-width="0.8"/>
<line x1="548.22" y1="0.4" x2="548.22" y2="327.4" stroke="#e4e4e4" stroke-width="0.8"/>
<line x1="578.73" y1="0.4" x2="578.73" y2="327.4" stroke="#e4e4e4" stroke-width="0.8"/>
<line x1="483.4" y1="18.2" x2="607" y2="18.2" stroke="#e4e4e4" stroke-width="0.8"/>
<line x1="483.4" y1="33.53" x2="607" y2="33.53" stroke="#e4e4e4" stroke-width="0.8"/>
<line x1="483.4" y1="48.85" x2="607" y2="48.85" stroke="#e4e4e4" stroke-width="0.8"/>
<line x1="483.4" y1="64.18" x2="607" y2="64.18" stroke="#e4e4e4" stroke-width="0.8"/>
<line x1="483.4" y1="79.51" x2="607" y2="79.51" stroke="#e4e4e4" stroke-width="0.8"/>
<line x1="483.4" y1="94.84" x2="607" y2="94.84" stroke="#e4e4e4" stroke-width="0.8"/>
<line x1="483.4" y1="110.16" x2="607" y2="110.16" stroke="#e4e4e4" stroke-width="0.8"/>
<line x1="483.4" y1="125.49" x2="607" y2="125.49" stroke="#e4e4e4" stroke-width="0.8"/>
<line x1="483.4" y1="140.82" x2="607" y2="140.82" stroke="#e4e4e4" stroke-width="0.8"/>
<line x1="483.4" y1="156.14" x2="607" y2="156.14" stroke="#e4e4e4" stroke-width="0.8"/>
<line x1="483.4" y1="171.47" x2="607" y2="171.47" stroke="#e4e4e4" stroke-width="0.8"/>
<line x1="483.4" y1="186.8" x2="607" y2="186.8" stroke="#e4e4e4" stroke-width="0.8"/>
<line x1="483.4" y1="202.12" x2="607" y2="202.12" stroke="#e4e4e4" stroke-width="0.8"/>
<line x1="483.4" y1="217.45" x2="607" y2="217.45" stroke="#e4e4e4" stroke-width="0.8"/>
<line x1="483.4" y1="232.78" x2="607" y2="232.78" stroke="#e4e4e4" stroke-width="0.8"/>
<line x1="483.4" y1="248.1" x2="607" y2="248.1" stroke="#e4e4e4" stroke-width="0.8"/>
<line x1="483.4" y1="263.43" x2="607" y2="263.43" stroke="#e4e4e4" stroke-width="0.8"/>
<line x1="483.4" y1="278.76" x2="607" y2="278.76" stroke="#e4e4e4" stroke-width="0.8"/>
<line x1="483.4" y1="294.09" x2="607" y2="294.09" stroke="#e4e4e4" stroke-width="0.8"/>
<line x1="483.4" y1="309.41" x2="607" y2="309.41" stroke="#e4e4e4" stroke-width="0.8"/>
<rect x="483.4" y="0.4" width="123.6" height="327" fill="none" stroke="#555" stroke-width="0.8"/>
<line x1="481.2" y1="18.2" x2="483.4" y2="18.2" stroke="#444" stroke-width="0.7"/>
<text x="478.2" y="21.1" font-size="8" text-anchor="end" font-weight="bold" fill="#f47373" stroke="#f47373" stroke-width="0.1">Regulation of bone mineralization</text>
<line x1="481.2" y1="33.53" x2="483.4" y2="33.53" stroke="#444" stroke-width="0.7"/>
<text x="478.2" y="36.43" font-size="8" text-anchor="end" fill="#1a1a1a" stroke="#1a1a1a" stroke-width="0.1">Platelet-derived growth factor binding</text>
<line x1="481.2" y1="48.85" x2="483.4" y2="48.85" stroke="#444" stroke-width="0.7"/>
<text x="478.2" y="51.75" font-size="8" text-anchor="end" fill="#1a1a1a" stroke="#1a1a1a" stroke-width="0.1">Cellular response to amino acid stimulus</text>
<line x1="481.2" y1="64.18" x2="483.4" y2="64.18" stroke="#444" stroke-width="0.7"/>
<text x="478.2" y="67.08" font-size="8" text-anchor="end" font-weight="bold" fill="#f47373" stroke="#f47373" stroke-width="0.1">Skeletal system morphogenesis</text>
<line x1="481.2" y1="79.51" x2="483.4" y2="79.51" stroke="#444" stroke-width="0.7"/>
<text x="478.2" y="82.41" font-size="8" text-anchor="end" fill="#1a1a1a" stroke="#1a1a1a" stroke-width="0.1">Response to mechanical stimulus</text>
<line x1="481.2" y1="94.84" x2="483.4" y2="94.84" stroke="#444" stroke-width="0.7"/>
<text x="478.2" y="97.74" font-size="8" text-anchor="end" fill="#1a1a1a" stroke="#1a1a1a" stroke-width="0.1">Collagen trimer</text>
<line x1="481.2" y1="110.16" x2="483.4" y2="110.16" stroke="#444" stroke-width="0.7"/>
<text x="478.2" y="113.06" font-size="8" text-anchor="end" font-weight="bold" fill="#f47373" stroke="#f47373" stroke-width="0.1">Bone mineralization</text>
<line x1="481.2" y1="125.49" x2="483.4" y2="125.49" stroke="#444" stroke-width="0.7"/>
<text x="478.2" y="128.39" font-size="8" text-anchor="end" font-weight="bold" fill="#f47373" stroke="#f47373" stroke-width="0.1">Osteoblast differentiation</text>
<line x1="481.2" y1="140.82" x2="483.4" y2="140.82" stroke="#444" stroke-width="0.7"/>
<text x="478.2" y="143.72" font-size="8" text-anchor="end" fill="#1a1a1a" stroke="#1a1a1a" stroke-width="0.1">Extracellular matrix structural constituent conferring tensile strength</text>
<line x1="481.2" y1="156.14" x2="483.4" y2="156.14" stroke="#444" stroke-width="0.7"/>
<text x="478.2" y="159.04" font-size="8" text-anchor="end" fill="#1a1a1a" stroke="#1a1a1a" stroke-width="0.1">Biomineral tissue development</text>
<line x1="481.2" y1="171.47" x2="483.4" y2="171.47" stroke="#444" stroke-width="0.7"/>
<text x="478.2" y="174.37" font-size="8" text-anchor="end" fill="#1a1a1a" stroke="#1a1a1a" stroke-width="0.1">Extracellular space</text>
<line x1="481.2" y1="186.8" x2="483.4" y2="186.8" stroke="#444" stroke-width="0.7"/>
<text x="478.2" y="189.7" font-size="8" text-anchor="end" font-weight="bold" fill="#f47373" stroke="#f47373" stroke-width="0.1">Bone development</text>
<line x1="481.2" y1="202.12" x2="483.4" y2="202.12" stroke="#444" stroke-width="0.7"/>
<text x="478.2" y="205.02" font-size="8" text-anchor="end" fill="#1a1a1a" stroke="#1a1a1a" stroke-width="0.1">Collagen fibril organization</text>
<line x1="481.2" y1="217.45" x2="483.4" y2="217.45" stroke="#444" stroke-width="0.7"/>
<text x="478.2" y="220.35" font-size="8" text-anchor="end" font-weight="bold" fill="#f47373" stroke="#f47373" stroke-width="0.1">Skeletal system development</text>
<line x1="481.2" y1="232.78" x2="483.4" y2="232.78" stroke="#444" stroke-width="0.7"/>
<text x="478.2" y="235.68" font-size="8" text-anchor="end" fill="#1a1a1a" stroke="#1a1a1a" stroke-width="0.1">Extracellular matrix structural constituent</text>
<line x1="481.2" y1="248.1" x2="483.4" y2="248.1" stroke="#444" stroke-width="0.7"/>
<text x="478.2" y="251" font-size="8" text-anchor="end" fill="#1a1a1a" stroke="#1a1a1a" stroke-width="0.1">Extracellular matrix organization</text>
<line x1="481.2" y1="263.43" x2="483.4" y2="263.43" stroke="#444" stroke-width="0.7"/>
<text x="478.2" y="266.33" font-size="8" text-anchor="end" fill="#1a1a1a" stroke="#1a1a1a" stroke-width="0.1">Collagen-containing extracellular matrix</text>
<line x1="481.2" y1="278.76" x2="483.4" y2="278.76" stroke="#444" stroke-width="0.7"/>
<text x="478.2" y="281.66" font-size="8" text-anchor="end" fill="#1a1a1a" stroke="#1a1a1a" stroke-width="0.1">Extracellular region</text>
<line x1="481.2" y1="294.09" x2="483.4" y2="294.09" stroke="#444" stroke-width="0.7"/>
<text x="478.2" y="296.99" font-size="8" text-anchor="end" font-weight="bold" fill="#f47373" stroke="#f47373" stroke-width="0.1">Ossification</text>
<line x1="481.2" y1="309.41" x2="483.4" y2="309.41" stroke="#444" stroke-width="0.7"/>
<text x="478.2" y="312.31" font-size="8" text-anchor="end" fill="#1a1a1a" stroke="#1a1a1a" stroke-width="0.1">Extracellular matrix</text>
<circle cx="588.9" cy="18.2" r="3.5" fill="#1b9a4f" stroke="none" stroke-width="1"/>
<circle cx="588.9" cy="33.53" r="3.5" fill="#1b9a4f" stroke="none" stroke-width="1"/>
<circle cx="559.81" cy="48.85" r="4" fill="#f9c474" stroke="none" stroke-width="1"/>
<circle cx="572.12" cy="64.18" r="4" fill="#e5633c" stroke="none" stroke-width="1"/>
<circle cx="548.22" cy="79.51" r="4.6" fill="#e0553a" stroke="none" stroke-width="1"/>
<circle cx="531.74" cy="94.84" r="5.1" fill="#e05239" stroke="none" stroke-width="1"/>
<circle cx="588.9" cy="110.16" r="4" fill="#d8392b" stroke="none" stroke-width="1"/>
<circle cx="574.87" cy="125.49" r="4.6" fill="#d7352a" stroke="none" stroke-width="1"/>
<circle cx="588.9" cy="140.82" r="4.6" fill="#d7342a" stroke="none" stroke-width="1"/>
<circle cx="576.8" cy="156.14" r="5.1" fill="#d7342a" stroke="none" stroke-width="1"/>
<circle cx="501.03" cy="171.47" r="12.3" fill="#d73027" stroke="none" stroke-width="1"/>
<circle cx="588.9" cy="186.8" r="5" fill="#d73027" stroke="none" stroke-width="1"/>
<circle cx="588.9" cy="202.12" r="5" fill="#d73027" stroke="none" stroke-width="1"/>
<circle cx="568.87" cy="217.45" r="5.7" fill="#d73027" stroke="none" stroke-width="1"/>
<circle cx="563.88" cy="232.78" r="6.2" fill="#d73027" stroke="none" stroke-width="1"/>
<circle cx="543.24" cy="248.1" r="7.4" fill="#d73027" stroke="none" stroke-width="1"/>
<circle cx="538.36" cy="263.43" r="8.1" fill="#d73027" stroke="none" stroke-width="1"/>
<circle cx="501.95" cy="278.76" r="14.7" fill="#d73027" stroke="none" stroke-width="1"/>
<circle cx="565.31" cy="294.09" r="8.5" fill="#d73027" stroke="none" stroke-width="1"/>
<circle cx="539.78" cy="309.41" r="11.1" fill="#d73027" stroke="none" stroke-width="1"/>
<line x1="487.2" y1="327.4" x2="487.2" y2="329.6" stroke="#444" stroke-width="0.7"/>
<text x="487.2" y="340.8" font-size="8" text-anchor="middle" fill="#333" stroke="#333" stroke-width="0.1">0.0</text>
<line x1="517.71" y1="327.4" x2="517.71" y2="329.6" stroke="#444" stroke-width="0.7"/>
<text x="517.71" y="340.8" font-size="8" text-anchor="middle" fill="#333" stroke="#333" stroke-width="0.1">0.3</text>
<line x1="548.22" y1="327.4" x2="548.22" y2="329.6" stroke="#444" stroke-width="0.7"/>
<text x="548.22" y="340.8" font-size="8" text-anchor="middle" fill="#333" stroke="#333" stroke-width="0.1">0.6</text>
<line x1="578.73" y1="327.4" x2="578.73" y2="329.6" stroke="#444" stroke-width="0.7"/>
<text x="578.73" y="340.8" font-size="8" text-anchor="middle" fill="#333" stroke="#333" stroke-width="0.1">0.9</text>
<text x="542" y="351.8" font-size="8" text-anchor="middle" fill="#000" stroke="#000" stroke-width="0.1">Rich factor</text>
<text x="618.1" y="75" font-size="8" text-anchor="start" fill="#000" stroke="#000" stroke-width="0.1">Gene number</text>
<circle cx="636.6" cy="91.6" r="4.4" fill="#000" stroke="none" stroke-width="1"/>
<text x="654.8" y="94.5" font-size="8" text-anchor="start" fill="#000" stroke="#000" stroke-width="0.1">5</text>
<circle cx="636.6" cy="108.8" r="7.4" fill="#000" stroke="none" stroke-width="1"/>
<text x="654.8" y="111.7" font-size="8" text-anchor="start" fill="#000" stroke="#000" stroke-width="0.1">10</text>
<circle cx="636.6" cy="130.8" r="10.65" fill="#000" stroke="none" stroke-width="1"/>
<text x="654.8" y="133.7" font-size="8" text-anchor="start" fill="#000" stroke="#000" stroke-width="0.1">15</text>
<circle cx="636.6" cy="161.3" r="13.6" fill="#000" stroke="none" stroke-width="1"/>
<text x="654.8" y="164.2" font-size="8" text-anchor="start" fill="#000" stroke="#000" stroke-width="0.1">20</text>
<text x="623.8" y="202.1" font-size="8" text-anchor="start" fill="#000" stroke="#000" stroke-width="0.1">P value</text>
<rect x="628.4" y="214.5" width="16.5" height="80" fill="url(#pgrad)" stroke="none" stroke-width="1"/>
<line x1="628.4" y1="216.8" x2="631.4" y2="216.8" stroke="#fff" stroke-width="0.6"/>
<line x1="641.9" y1="216.8" x2="644.9" y2="216.8" stroke="#fff" stroke-width="0.6"/>
<line x1="628.4" y1="255.7" x2="631.4" y2="255.7" stroke="#fff" stroke-width="0.6"/>
<line x1="641.9" y1="255.7" x2="644.9" y2="255.7" stroke="#fff" stroke-width="0.6"/>
<text x="652.4" y="219.7" font-size="8" text-anchor="start" fill="#000" stroke="#000" stroke-width="0.1">2.69e-07</text>
<text x="652.4" y="258.6" font-size="8" text-anchor="start" fill="#000" stroke="#000" stroke-width="0.1">1.35e-07</text>
<text x="653.4" y="293.9" font-size="8" text-anchor="start" fill="#000" stroke="#000" stroke-width="0.1">3.72e-07</text>
<text x="0" y="386.8" font-size="10.5" text-anchor="start" font-weight="bold" fill="#000" stroke="#000" stroke-width="0.1">d</text>
<rect x="19.3" y="410.2" width="141.6" height="134.1" fill="#efefef" stroke="none" stroke-width="1"/>
<rect x="35.4" y="411.4" width="123.3" height="114.8" fill="#fff" stroke="none" stroke-width="1"/>
<line x1="58.53" y1="411.4" x2="58.53" y2="466.6" stroke="#e2e2e2" stroke-width="0.4"/>
<line x1="58.53" y1="494.8" x2="58.53" y2="526.2" stroke="#e2e2e2" stroke-width="0.4"/>
<line x1="81.66" y1="411.4" x2="81.66" y2="466.6" stroke="#e2e2e2" stroke-width="0.4"/>
<line x1="81.66" y1="494.8" x2="81.66" y2="526.2" stroke="#e2e2e2" stroke-width="0.4"/>
<line x1="104.78" y1="411.4" x2="104.78" y2="466.6" stroke="#e2e2e2" stroke-width="0.4"/>
<line x1="104.78" y1="494.8" x2="104.78" y2="526.2" stroke="#e2e2e2" stroke-width="0.4"/>
<line x1="127.91" y1="411.4" x2="127.91" y2="466.6" stroke="#e2e2e2" stroke-width="0.4"/>
<line x1="127.91" y1="494.8" x2="127.91" y2="526.2" stroke="#e2e2e2" stroke-width="0.4"/>
<line x1="151.04" y1="411.4" x2="151.04" y2="466.6" stroke="#e2e2e2" stroke-width="0.4"/>
<line x1="151.04" y1="494.8" x2="151.04" y2="526.2" stroke="#e2e2e2" stroke-width="0.4"/>
<line x1="35.4" y1="459.8" x2="158.7" y2="459.8" stroke="#e6e6e6" stroke-width="0.4"/>
<text x="34.2" y="460.8" font-size="2.8" text-anchor="end" fill="#444">0.0</text>
<line x1="35.4" y1="450.6" x2="158.7" y2="450.6" stroke="#e6e6e6" stroke-width="0.4"/>
<text x="34.2" y="451.6" font-size="2.8" text-anchor="end" fill="#444">0.1</text>
<line x1="35.4" y1="441.4" x2="158.7" y2="441.4" stroke="#e6e6e6" stroke-width="0.4"/>
<text x="34.2" y="442.4" font-size="2.8" text-anchor="end" fill="#444">0.2</text>
<line x1="35.4" y1="432.2" x2="158.7" y2="432.2" stroke="#e6e6e6" stroke-width="0.4"/>
<text x="34.2" y="433.2" font-size="2.8" text-anchor="end" fill="#444">0.3</text>
<line x1="35.4" y1="423" x2="158.7" y2="423" stroke="#e6e6e6" stroke-width="0.4"/>
<text x="34.2" y="424" font-size="2.8" text-anchor="end" fill="#444">0.4</text>
<line x1="35.4" y1="413.8" x2="158.7" y2="413.8" stroke="#e6e6e6" stroke-width="0.4"/>
<text x="34.2" y="414.8" font-size="2.8" text-anchor="end" fill="#444">0.5</text>
<line x1="35.4" y1="498" x2="158.7" y2="498" stroke="#e6e6e6" stroke-width="0.4"/>
<text x="33.9" y="499" font-size="2.8" text-anchor="end" fill="#444">2</text>
<line x1="35.4" y1="506.9" x2="158.7" y2="506.9" stroke="#e6e6e6" stroke-width="0.4"/>
<text x="33.9" y="507.9" font-size="2.8" text-anchor="end" fill="#444">0</text>
<line x1="35.4" y1="515.8" x2="158.7" y2="515.8" stroke="#e6e6e6" stroke-width="0.4"/>
<text x="33.9" y="516.8" font-size="2.8" text-anchor="end" fill="#444">-2</text>
<line x1="35.4" y1="524.7" x2="158.7" y2="524.7" stroke="#e6e6e6" stroke-width="0.4"/>
<text x="33.9" y="525.7" font-size="2.8" text-anchor="end" fill="#444">-4</text>
<rect x="35.4" y="411.4" width="123.3" height="55.2" fill="none" stroke="#bdbdbd" stroke-width="0.5"/>
<rect x="35.4" y="466.6" width="123.3" height="22.7" fill="none" stroke="#bdbdbd" stroke-width="0.5"/>
<rect x="35.4" y="494.8" width="123.3" height="31.4" fill="none" stroke="#bdbdbd" stroke-width="0.5"/>
<line x1="35.4" y1="459.8" x2="158.7" y2="459.8" stroke="#aaa" stroke-width="0.5"/>
<path d="M40.71,466.9V484.6M40.7,466.9V484.6M37.63,466.9V484.6M40.99,466.9V484.6M46.73,466.9V484.6M43.03,466.9V484.6M35.58,466.9V484.6M39.23,466.9V484.6M45.29,466.9V484.6M40.18,466.9V484.6M44.3,466.9V484.6M40.33,466.9V484.6M38.57,466.9V484.6M47.09,466.9V484.6M35.51,466.9V484.6M36.46,466.9V484.6M46.06,466.9V484.6M37.26,466.9V484.6M45.76,466.9V484.6M54.74,466.9V484.6M55.66,466.9V484.6M50.19,466.9V484.6M57.6,466.9V484.6M58.26,466.9V484.6M54.36,466.9V484.6M49.77,466.9V484.6M54.16,466.9V484.6M64.37,466.9V484.6M67.11,466.9V484.6M66.56,466.9V484.6M64.9,466.9V484.6M67.43,466.9V484.6M65.66,466.9V484.6M79.74,466.9V484.6M83.77,466.9V484.6M83.12,466.9V484.6M81.32,466.9V484.6M80.15,466.9V484.6M84.28,466.9V484.6M84.41,466.9V484.6M77.2,466.9V484.6M80.43,466.9V484.6M77.11,466.9V484.6M76.3,466.9V484.6M76.47,466.9V484.6M83.07,466.9V484.6M83.43,466.9V484.6M117.26,466.9V484.6M117.67,466.9V484.6M131.33,466.9V484.6M126.11,466.9V484.6M124.32,466.9V484.6M134.71,466.9V484.6M118.72,466.9V484.6M136.16,466.9V484.6M127.27,466.9V484.6M116.86,466.9V484.6M124.61,466.9V484.6M126.86,466.9V484.6M124.02,466.9V484.6M133.31,466.9V484.6M124.12,466.9V484.6M127.93,466.9V484.6M131.67,466.9V484.6M131.81,466.9V484.6M120.97,466.9V484.6M141.58,466.9V484.6M143.05,466.9V484.6M141.51,466.9V484.6M146.71,466.9V484.6M138.23,466.9V484.6M149.83,466.9V484.6" stroke="#444" stroke-width="0.55" fill="none"/>
<path d="M45.46,466.9V484.6M42.39,466.9V484.6M42.44,466.9V484.6M40.92,466.9V484.6M39.3,466.9V484.6M35.53,466.9V484.6M40.32,466.9V484.6M36.77,466.9V484.6M37.87,466.9V484.6M46.66,466.9V484.6M37.71,466.9V484.6M50.68,466.9V484.6M52.02,466.9V484.6M52.79,466.9V484.6M57.95,466.9V484.6M49.62,466.9V484.6M58.82,466.9V484.6M56.33,466.9V484.6M53.79,466.9V484.6M55.69,466.9V484.6M62.86,466.9V484.6M68.46,466.9V484.6M68.84,466.9V484.6M62.87,466.9V484.6M83.21,466.9V484.6M84.2,466.9V484.6M82.43,466.9V484.6M77.73,466.9V484.6M77.88,466.9V484.6M80.16,466.9V484.6M84.06,466.9V484.6M79.2,466.9V484.6M77.84,466.9V484.6M79.39,466.9V484.6M77.61,466.9V484.6M81.9,466.9V484.6M75.53,466.9V484.6M113.93,466.9V484.6M114.45,466.9V484.6M132.2,466.9V484.6M135.34,466.9V484.6M122.14,466.9V484.6M130.86,466.9V484.6M134.11,466.9V484.6M132.45,466.9V484.6M122.37,466.9V484.6M130.05,466.9V484.6M124.31,466.9V484.6M123.87,466.9V484.6M124.31,466.9V484.6M135.04,466.9V484.6M116.3,466.9V484.6M129.35,466.9V484.6M120.96,466.9V484.6M145.86,466.9V484.6M137.26,466.9V484.6M141.74,466.9V484.6M143.23,466.9V484.6M145.9,466.9V484.6M148.45,466.9V484.6M149.3,466.9V484.6" stroke="#333" stroke-width="0.55" fill="none"/>
<path d="M44.71,466.9V484.6M36.46,466.9V484.6M36.14,466.9V484.6M41.27,466.9V484.6M47.09,466.9V484.6M38.79,466.9V484.6M42.01,466.9V484.6M39.94,466.9V484.6M45.35,466.9V484.6M37.91,466.9V484.6M44.3,466.9V484.6M36.98,466.9V484.6M47.02,466.9V484.6M38.97,466.9V484.6M42.94,466.9V484.6M39.93,466.9V484.6M42.87,466.9V484.6M36.32,466.9V484.6M36.62,466.9V484.6M58.22,466.9V484.6M56.52,466.9V484.6M51.83,466.9V484.6M55.03,466.9V484.6M56.07,466.9V484.6M49.69,466.9V484.6M52.48,466.9V484.6M52.94,466.9V484.6M58.36,466.9V484.6M53.05,466.9V484.6M55.21,466.9V484.6M50.34,466.9V484.6M57.36,466.9V484.6M50.31,466.9V484.6M51.65,466.9V484.6M51.89,466.9V484.6M65.31,466.9V484.6M67.98,466.9V484.6M64.95,466.9V484.6M68.4,466.9V484.6M67.78,466.9V484.6M63.33,466.9V484.6M80.75,466.9V484.6M76.39,466.9V484.6M81,466.9V484.6M80.37,466.9V484.6M76.46,466.9V484.6M81.81,466.9V484.6M80.25,466.9V484.6M76.53,466.9V484.6M119.47,466.9V484.6M117.48,466.9V484.6M136.16,466.9V484.6M116.87,466.9V484.6M123.12,466.9V484.6M121.14,466.9V484.6M121.61,466.9V484.6M135.94,466.9V484.6M117.66,466.9V484.6M128.93,466.9V484.6M127.23,466.9V484.6M128.71,466.9V484.6M126.84,466.9V484.6M128.15,466.9V484.6M131.05,466.9V484.6M116.19,466.9V484.6M127.99,466.9V484.6M126.39,466.9V484.6M120.27,466.9V484.6M133.8,466.9V484.6M128.51,466.9V484.6M115.8,466.9V484.6M139.87,466.9V484.6M146.09,466.9V484.6M151.27,466.9V484.6" stroke="#000" stroke-width="0.55" fill="none"/>
<path d="M40.64,466.9V484.6M37.63,466.9V484.6M44.76,466.9V484.6M43.41,466.9V484.6M40.65,466.9V484.6M46.97,466.9V484.6M35.89,466.9V484.6M42.7,466.9V484.6M45.17,466.9V484.6M45.57,466.9V484.6M38.33,466.9V484.6M51.48,466.9V484.6M54.48,466.9V484.6M50.35,466.9V484.6M54.98,466.9V484.6M57.94,466.9V484.6M52.94,466.9V484.6M67.83,466.9V484.6M62.95,466.9V484.6M61.39,466.9V484.6M64.56,466.9V484.6M63.18,466.9V484.6M69.1,466.9V484.6M67.1,466.9V484.6M65.34,466.9V484.6M81.76,466.9V484.6M77.27,466.9V484.6M75.65,466.9V484.6M81.17,466.9V484.6M76.82,466.9V484.6M114.11,466.9V484.6M125.86,466.9V484.6M125.4,466.9V484.6M119.13,466.9V484.6M118.88,466.9V484.6M127.48,466.9V484.6M133.07,466.9V484.6M127.27,466.9V484.6M130.96,466.9V484.6M131.45,466.9V484.6M123.81,466.9V484.6M136.36,466.9V484.6M116.3,466.9V484.6M123.4,466.9V484.6M123.39,466.9V484.6M115.8,466.9V484.6M127.61,466.9V484.6M116.79,466.9V484.6M120.53,466.9V484.6M118.28,466.9V484.6M124.86,466.9V484.6M122.91,466.9V484.6M132.46,466.9V484.6M135.36,466.9V484.6M130,466.9V484.6M128.61,466.9V484.6M119.24,466.9V484.6M125.84,466.9V484.6M139.63,466.9V484.6M146.21,466.9V484.6M146.64,466.9V484.6M147.06,466.9V484.6M140.67,466.9V484.6M137.35,466.9V484.6M139.58,466.9V484.6M148.2,466.9V484.6M148.97,466.9V484.6" stroke="#111" stroke-width="0.55" fill="none"/>
<path d="M38.14,466.9V484.6M40.77,466.9V484.6M43.71,466.9V484.6M40.1,466.9V484.6M42.79,466.9V484.6M39.36,466.9V484.6M37.9,466.9V484.6M39.26,466.9V484.6M42.46,466.9V484.6M42.76,466.9V484.6M55.26,466.9V484.6M51.14,466.9V484.6M57.86,466.9V484.6M53.95,466.9V484.6M54.02,466.9V484.6M56.94,466.9V484.6M63.91,466.9V484.6M63.03,466.9V484.6M67.07,466.9V484.6M64.93,466.9V484.6M65.29,466.9V484.6M68.04,466.9V484.6M66.8,466.9V484.6M65.92,466.9V484.6M61.43,466.9V484.6M66.61,466.9V484.6M63.09,466.9V484.6M80.26,466.9V484.6M79.95,466.9V484.6M75.59,466.9V484.6M77.45,466.9V484.6M78.34,466.9V484.6M129.65,466.9V484.6M128.64,466.9V484.6M124.24,466.9V484.6M123.85,466.9V484.6M131.98,466.9V484.6M125.89,466.9V484.6M132.24,466.9V484.6M118.05,466.9V484.6M133.82,466.9V484.6M116.72,466.9V484.6M115.46,466.9V484.6M116.28,466.9V484.6M135.19,466.9V484.6M130.84,466.9V484.6M117.31,466.9V484.6M121.06,466.9V484.6M123.65,466.9V484.6M122.96,466.9V484.6M125.44,466.9V484.6M127.08,466.9V484.6M129.26,466.9V484.6M116.35,466.9V484.6M127.53,466.9V484.6M133.43,466.9V484.6M129.64,466.9V484.6M125.86,466.9V484.6M133.12,466.9V484.6M147.08,466.9V484.6M142.17,466.9V484.6M140.94,466.9V484.6M139.78,466.9V484.6M139.69,466.9V484.6M138.18,466.9V484.6M149.49,466.9V484.6M150.95,466.9V484.6" stroke="#222" stroke-width="0.55" fill="none"/>
<path d="M48.34,466.9V484.6M60.1,466.9V484.6M69.96,466.9V484.6M70.7,466.9V484.6M109.87,466.9V484.6M110.89,466.9V484.6M110.93,466.9V484.6M145.78,466.9V484.6M143.18,466.9V484.6M142.99,466.9V484.6M145.94,466.9V484.6M144.52,466.9V484.6M140.15,466.9V484.6M138.44,466.9V484.6" stroke="#999" stroke-width="0.55" fill="none"/>
<path d="M47.7,466.9V484.6M47.74,466.9V484.6M60.43,466.9V484.6M71.76,466.9V484.6M72.17,466.9V484.6M103.87,466.9V484.6M102.88,466.9V484.6M92.03,466.9V484.6M137.57,466.9V484.6M141.06,466.9V484.6M145.72,466.9V484.6M142.42,466.9V484.6M137.12,466.9V484.6M139.95,466.9V484.6" stroke="#aaa" stroke-width="0.55" fill="none"/>
<path d="M47.83,466.9V484.6M60.47,466.9V484.6M60.05,466.9V484.6M70.03,466.9V484.6M71.49,466.9V484.6M70.73,466.9V484.6M142.75,466.9V484.6M140.63,466.9V484.6M147.71,466.9V484.6" stroke="#777" stroke-width="0.55" fill="none"/>
<path d="M70.21,466.9V484.6" stroke="#888" stroke-width="0.55" fill="none"/>
<path d="M70.6,466.9V484.6M70.98,466.9V484.6M72.31,466.9V484.6M71.96,466.9V484.6M142.83,466.9V484.6M142.05,466.9V484.6M138.84,466.9V484.6M140.7,466.9V484.6M141.38,466.9V484.6M144.88,466.9V484.6M138.93,466.9V484.6M139.28,466.9V484.6M145.04,466.9V484.6" stroke="#555" stroke-width="0.55" fill="none"/>
<path d="M71.66,466.9V484.6M72.6,466.9V484.6M69.66,466.9V484.6M70.46,466.9V484.6M92.44,466.9V484.6M111.32,466.9V484.6" stroke="#ccc" stroke-width="0.55" fill="none"/>
<path d="M75.2,466.9V484.6M72.68,466.9V484.6M106.35,466.9V484.6" stroke="#bbb" stroke-width="0.55" fill="none"/>
<rect x="35.4" y="484.6" width="117.4" height="4.7" fill="url(#gcb)" stroke="none" stroke-width="1"/>
<text x="36.9" y="492.2" font-size="2.8" text-anchor="start" fill="#f22" textLength="40" lengthAdjust="spacingAndGlyphs">'Ubc_WT' (positively correlated)</text>
<polygon points="35.4,506.9 35.4,495.33 36.6,497.62 37.81,498.99 39.01,499.84 40.21,500.39 41.42,500.78 42.62,501.07 43.82,501.3 45.03,501.51 46.23,501.7 47.43,501.88 48.64,502.05 49.84,502.22 51.04,502.39 52.25,502.56 53.45,502.73 54.65,502.89 55.86,503.06 57.06,503.23 58.26,503.4 59.47,503.56 60.67,503.73 61.87,503.9 63.08,504.06 64.28,504.23 65.48,504.4 66.69,504.56 67.89,504.73 69.09,504.9 70.3,505.06 71.5,505.23 72.7,505.4 73.91,505.56 75.11,505.73 76.31,505.9 77.52,506.07 78.72,506.23 79.92,506.4 81.13,506.57 82.33,506.73 83.53,506.9 83.53,506.9" fill="#b5b5b5" stroke="none" stroke-width="1"/>
<polygon points="114.06,506.9 114.06,507.43 115.03,507.5 116,507.57 116.96,507.63 117.93,507.7 118.9,507.77 119.87,507.83 120.84,507.9 121.81,507.97 122.77,508.03 123.74,508.1 124.71,508.17 125.68,508.23 126.65,508.3 127.62,508.37 128.59,508.44 129.55,508.5 130.52,508.57 131.49,508.64 132.46,508.7 133.43,508.77 134.4,508.84 135.37,508.9 136.33,508.97 137.3,509.04 138.27,509.1 139.24,509.17 140.21,509.24 141.18,509.3 142.15,509.37 143.11,509.44 144.08,509.5 145.05,509.57 146.02,509.64 146.99,509.7 147.96,509.77 148.93,509.9 149.89,510.68 150.86,512.89 151.83,517.32 152.8,524.79 152.8,506.9" fill="#b5b5b5" stroke="none" stroke-width="1"/>
<line x1="84.71" y1="494.8" x2="84.71" y2="526.2" stroke="#999" stroke-width="0.4" stroke-dasharray="0.6,0.6"/>
<text x="77.71" y="509.3" font-size="2.8" text-anchor="start" fill="#444" textLength="26" lengthAdjust="spacingAndGlyphs">Zero cross at 12363</text>
<text x="148.8" y="525" font-size="2.8" text-anchor="end" fill="#22f" textLength="44" lengthAdjust="spacingAndGlyphs">'Ubc_KO' (negatively correlated)</text>
<text x="35.4" y="529.8" font-size="2.8" text-anchor="middle" fill="#444">0</text>
<text x="58.53" y="529.8" font-size="2.8" text-anchor="middle" fill="#444">5,000</text>
<text x="81.66" y="529.8" font-size="2.8" text-anchor="middle" fill="#444">10,000</text>
<text x="104.78" y="529.8" font-size="2.8" text-anchor="middle" fill="#444">15,000</text>
<text x="127.91" y="529.8" font-size="2.8" text-anchor="middle" fill="#444">20,000</text>
<text x="151.04" y="529.8" font-size="2.8" text-anchor="middle" fill="#444">25,000</text>
<text x="97.05" y="534" font-size="3" text-anchor="middle" fill="#333" textLength="38" lengthAdjust="spacingAndGlyphs">Rank in Ordered Dataset</text>
<text x="0" y="0" font-size="3" text-anchor="middle" fill="#333" textLength="44" lengthAdjust="spacingAndGlyphs" transform="translate(25.5,439) rotate(-90)">Enrichment score (ES)</text>
<text x="0" y="0" font-size="3" text-anchor="middle" fill="#333" textLength="55" lengthAdjust="spacingAndGlyphs" transform="translate(27.5,510.4) rotate(-90)">Ranked list metric (Signal2Noise)</text>
<rect x="40.3" y="538.4" width="99.2" height="5.6" fill="#fff" stroke="#555" stroke-width="0.5"/>
<line x1="42.3" y1="541.2" x2="47.3" y2="541.2" stroke="#22dd22" stroke-width="0.8"/>
<text x="48.3" y="542.2" font-size="3" text-anchor="start" fill="#222" textLength="26" lengthAdjust="spacingAndGlyphs">Enrichment profile</text>
<line x1="80.3" y1="541.2" x2="84.3" y2="541.2" stroke="#333" stroke-width="0.4"/>
<text x="85.3" y="542.2" font-size="3" text-anchor="start" fill="#222" textLength="6" lengthAdjust="spacingAndGlyphs">Hits</text>
<line x1="93.3" y1="541.2" x2="96.3" y2="541.2" stroke="#bbb" stroke-width="0.4"/>
<text x="98.3" y="542.2" font-size="3" text-anchor="start" fill="#222" textLength="34" lengthAdjust="spacingAndGlyphs">Ranking metric scores</text>
<path d="M35.5,460.2 C35.78,457.57 36.3,449.3 37.2,444.4 C38.1,439.5 39.65,434.72 40.9,430.8 C42.15,426.88 43.25,423.1 44.7,420.9 C46.15,418.7 48.13,418.5 49.6,417.6 C51.07,416.7 52.17,416.07 53.5,415.5 C54.83,414.93 55.93,414.25 57.6,414.2 C59.27,414.15 61.52,414.72 63.5,415.2 C65.48,415.68 66.43,415.75 69.5,417.1 C72.57,418.45 77.77,420.82 81.9,423.3 C86.03,425.78 90.17,428.88 94.3,432 C98.43,435.12 104.08,439.25 106.7,442 C109.32,444.75 108.22,446.43 110,448.5 C111.78,450.57 114.95,452.68 117.4,454.4 C119.85,456.12 122.25,457.57 124.7,458.8 C127.15,460.03 130,461.07 132.1,461.8 C134.2,462.53 135.82,463.2 137.3,463.2 C138.78,463.2 139.65,462.37 141,461.8 C142.35,461.23 144.3,459.98 145.4,459.8 C146.5,459.62 146.87,460.75 147.6,460.7 C148.33,460.65 148.93,459.65 149.8,459.5 C150.67,459.35 152.3,459.75 152.8,459.8" fill="none" stroke="#0cf00c" stroke-width="1.15" stroke-linejoin="round"/>
<text x="88" y="406" font-size="8" text-anchor="middle" fill="#000" stroke="#000" stroke-width="0.1">Wnt signaling pathway</text>
<text x="44.2" y="438.6" font-size="8" text-anchor="start" fill="#000" stroke="#000" stroke-width="0.1">NES: 1.4719</text>
<text x="44.2" y="447.9" font-size="8" text-anchor="start" fill="#000" stroke="#000" stroke-width="0.1">p value: 0.0</text>
<text x="44.2" y="457.2" font-size="8" text-anchor="start" fill="#000" stroke="#000" stroke-width="0.1">FDR q value: 0.0236</text>
<text x="176" y="386.8" font-size="10.5" text-anchor="start" font-weight="bold" fill="#000" stroke="#000" stroke-width="0.1">e</text>
<rect x="190.3" y="410" width="141.7" height="134.3" fill="#efefef" stroke="none" stroke-width="1"/>
<rect x="206.5" y="411.2" width="123" height="115.4" fill="#fff" stroke="none" stroke-width="1"/>
<line x1="229.63" y1="411.2" x2="229.63" y2="466.9" stroke="#e2e2e2" stroke-width="0.4"/>
<line x1="229.63" y1="494.8" x2="229.63" y2="526.6" stroke="#e2e2e2" stroke-width="0.4"/>
<line x1="252.76" y1="411.2" x2="252.76" y2="466.9" stroke="#e2e2e2" stroke-width="0.4"/>
<line x1="252.76" y1="494.8" x2="252.76" y2="526.6" stroke="#e2e2e2" stroke-width="0.4"/>
<line x1="275.88" y1="411.2" x2="275.88" y2="466.9" stroke="#e2e2e2" stroke-width="0.4"/>
<line x1="275.88" y1="494.8" x2="275.88" y2="526.6" stroke="#e2e2e2" stroke-width="0.4"/>
<line x1="299.01" y1="411.2" x2="299.01" y2="466.9" stroke="#e2e2e2" stroke-width="0.4"/>
<line x1="299.01" y1="494.8" x2="299.01" y2="526.6" stroke="#e2e2e2" stroke-width="0.4"/>
<line x1="322.14" y1="411.2" x2="322.14" y2="466.9" stroke="#e2e2e2" stroke-width="0.4"/>
<line x1="322.14" y1="494.8" x2="322.14" y2="526.6" stroke="#e2e2e2" stroke-width="0.4"/>
<line x1="206.5" y1="462.2" x2="329.5" y2="462.2" stroke="#e6e6e6" stroke-width="0.4"/>
<text x="205.3" y="463.2" font-size="2.8" text-anchor="end" fill="#444">0.0</text>
<line x1="206.5" y1="453.9" x2="329.5" y2="453.9" stroke="#e6e6e6" stroke-width="0.4"/>
<text x="205.3" y="454.9" font-size="2.8" text-anchor="end" fill="#444">0.1</text>
<line x1="206.5" y1="445.6" x2="329.5" y2="445.6" stroke="#e6e6e6" stroke-width="0.4"/>
<text x="205.3" y="446.6" font-size="2.8" text-anchor="end" fill="#444">0.2</text>
<line x1="206.5" y1="437.3" x2="329.5" y2="437.3" stroke="#e6e6e6" stroke-width="0.4"/>
<text x="205.3" y="438.3" font-size="2.8" text-anchor="end" fill="#444">0.3</text>
<line x1="206.5" y1="429" x2="329.5" y2="429" stroke="#e6e6e6" stroke-width="0.4"/>
<text x="205.3" y="430" font-size="2.8" text-anchor="end" fill="#444">0.4</text>
<line x1="206.5" y1="420.7" x2="329.5" y2="420.7" stroke="#e6e6e6" stroke-width="0.4"/>
<text x="205.3" y="421.7" font-size="2.8" text-anchor="end" fill="#444">0.5</text>
<line x1="206.5" y1="412.5" x2="329.5" y2="412.5" stroke="#e6e6e6" stroke-width="0.4"/>
<text x="205.3" y="413.5" font-size="2.8" text-anchor="end" fill="#444">0.6</text>
<line x1="206.5" y1="497.7" x2="329.5" y2="497.7" stroke="#e6e6e6" stroke-width="0.4"/>
<text x="205" y="498.7" font-size="2.8" text-anchor="end" fill="#444">2</text>
<line x1="206.5" y1="506.8" x2="329.5" y2="506.8" stroke="#e6e6e6" stroke-width="0.4"/>
<text x="205" y="507.8" font-size="2.8" text-anchor="end" fill="#444">0</text>
<line x1="206.5" y1="515.9" x2="329.5" y2="515.9" stroke="#e6e6e6" stroke-width="0.4"/>
<text x="205" y="516.9" font-size="2.8" text-anchor="end" fill="#444">-2</text>
<line x1="206.5" y1="525" x2="329.5" y2="525" stroke="#e6e6e6" stroke-width="0.4"/>
<text x="205" y="526" font-size="2.8" text-anchor="end" fill="#444">-4</text>
<rect x="206.5" y="411.2" width="123" height="55.7" fill="none" stroke="#bdbdbd" stroke-width="0.5"/>
<rect x="206.5" y="466.9" width="123" height="22.4" fill="none" stroke="#bdbdbd" stroke-width="0.5"/>
<rect x="206.5" y="494.8" width="123" height="31.8" fill="none" stroke="#bdbdbd" stroke-width="0.5"/>
<line x1="206.5" y1="462.2" x2="329.5" y2="462.2" stroke="#aaa" stroke-width="0.5"/>
<path d="M207.61,467.2V485M210.83,467.2V485M219.11,467.2V485M216.8,467.2V485M216.93,467.2V485M217.36,467.2V485M216.23,467.2V485M215.36,467.2V485M217.08,467.2V485M228.22,467.2V485M245.52,467.2V485M254.61,467.2V485M289.68,467.2V485M306.48,467.2V485" stroke="#444" stroke-width="0.55" fill="none"/>
<path d="M208.06,467.2V485M217.8,467.2V485M213.7,467.2V485M212.85,467.2V485M217.8,467.2V485M223.57,467.2V485M224.41,467.2V485M245.48,467.2V485M251.16,467.2V485M250.68,467.2V485M278.92,467.2V485M304.44,467.2V485M309.34,467.2V485M315.37,467.2V485M315.03,467.2V485" stroke="#111" stroke-width="0.55" fill="none"/>
<path d="M207.4,467.2V485M220.41,467.2V485M212.98,467.2V485M220.32,467.2V485M215.3,467.2V485M214.44,467.2V485M227.84,467.2V485M227.68,467.2V485M250.92,467.2V485M299.72,467.2V485M299.34,467.2V485M309.23,467.2V485M316.12,467.2V485M322.73,467.2V485" stroke="#222" stroke-width="0.55" fill="none"/>
<path d="M207.63,467.2V485M214.2,467.2V485M219.07,467.2V485M219.49,467.2V485M213.84,467.2V485M219.13,467.2V485M214.2,467.2V485M253.7,467.2V485M291.97,467.2V485M322.33,467.2V485" stroke="#333" stroke-width="0.55" fill="none"/>
<path d="M210.29,467.2V485M217.97,467.2V485M212.52,467.2V485M220.15,467.2V485M216.96,467.2V485M215.53,467.2V485M217.64,467.2V485M217.91,467.2V485M212.64,467.2V485M224.43,467.2V485M244.95,467.2V485M278.78,467.2V485M291.6,467.2V485M291.41,467.2V485M305.23,467.2V485M305.65,467.2V485" stroke="#000" stroke-width="0.55" fill="none"/>
<path d="M241.51,467.2V485M243.45,467.2V485M238.29,467.2V485M240.19,467.2V485M287.17,467.2V485M306.29,467.2V485M305.55,467.2V485" stroke="#555" stroke-width="0.55" fill="none"/>
<path d="M240.64,467.2V485M238.49,467.2V485M240.3,467.2V485M243.7,467.2V485M241.38,467.2V485M237.19,467.2V485M243.24,467.2V485M240.47,467.2V485M270.4,467.2V485M275.71,467.2V485M286.77,467.2V485M284.65,467.2V485M304.68,467.2V485" stroke="#999" stroke-width="0.55" fill="none"/>
<path d="M240.23,467.2V485M242.55,467.2V485M238.87,467.2V485M238.98,467.2V485M276.88,467.2V485M287.14,467.2V485M285.87,467.2V485M287.27,467.2V485" stroke="#aaa" stroke-width="0.55" fill="none"/>
<path d="M238.71,467.2V485M238.31,467.2V485M240.56,467.2V485M244.06,467.2V485M241.53,467.2V485M243.32,467.2V485M276.65,467.2V485M306.39,467.2V485" stroke="#777" stroke-width="0.55" fill="none"/>
<path d="M270.95,467.2V485" stroke="#888" stroke-width="0.55" fill="none"/>
<path d="M269.99,467.2V485" stroke="#bbb" stroke-width="0.55" fill="none"/>
<rect x="206.5" y="485" width="117.4" height="4.3" fill="url(#gcb)" stroke="none" stroke-width="1"/>
<text x="208" y="492.2" font-size="2.8" text-anchor="start" fill="#f22" textLength="40" lengthAdjust="spacingAndGlyphs">'Ubc_WT' (positively correlated)</text>
<polygon points="206.5,506.8 206.5,494.97 207.5,497.02 208.5,498.37 209.49,499.27 210.49,499.9 211.49,500.36 212.49,500.7 213.49,500.99 214.48,501.23 215.48,501.44 216.48,501.64 217.48,501.82 218.47,502.01 219.47,502.18 220.47,502.36 221.47,502.53 222.47,502.7 223.46,502.87 224.46,503.05 225.46,503.22 226.46,503.39 227.46,503.56 228.45,503.73 229.45,503.9 230.45,504.07 231.45,504.24 232.45,504.41 233.44,504.58 234.44,504.75 235.44,504.92 236.44,505.09 237.43,505.26 238.43,505.43 239.43,505.61 240.43,505.78 241.43,505.95 242.42,506.12 243.42,506.29 244.42,506.46 245.42,506.63 246.42,506.8 246.42,506.8" fill="#b5b5b5" stroke="none" stroke-width="1"/>
<polygon points="285.16,506.8 285.16,507.35 286.13,507.41 287.1,507.48 288.06,507.55 289.03,507.62 290,507.69 290.97,507.76 291.94,507.82 292.91,507.89 293.87,507.96 294.84,508.03 295.81,508.1 296.78,508.17 297.75,508.23 298.72,508.3 299.69,508.37 300.65,508.44 301.62,508.51 302.59,508.57 303.56,508.64 304.53,508.71 305.5,508.78 306.47,508.85 307.43,508.92 308.4,508.98 309.37,509.05 310.34,509.12 311.31,509.19 312.28,509.26 313.25,509.33 314.21,509.39 315.18,509.46 316.15,509.53 317.12,509.6 318.09,509.67 319.06,509.73 320.03,509.87 320.99,510.66 321.96,512.92 322.93,517.46 323.9,525.09 323.9,506.8" fill="#b5b5b5" stroke="none" stroke-width="1"/>
<line x1="255.81" y1="494.8" x2="255.81" y2="526.6" stroke="#999" stroke-width="0.4" stroke-dasharray="0.6,0.6"/>
<text x="248.81" y="509.2" font-size="2.8" text-anchor="start" fill="#444" textLength="26" lengthAdjust="spacingAndGlyphs">Zero cross at 12363</text>
<text x="319.9" y="525.4" font-size="2.8" text-anchor="end" fill="#22f" textLength="44" lengthAdjust="spacingAndGlyphs">'Ubc_KO' (negatively correlated)</text>
<text x="206.5" y="529.8" font-size="2.8" text-anchor="middle" fill="#444">0</text>
<text x="229.63" y="529.8" font-size="2.8" text-anchor="middle" fill="#444">5,000</text>
<text x="252.76" y="529.8" font-size="2.8" text-anchor="middle" fill="#444">10,000</text>
<text x="275.88" y="529.8" font-size="2.8" text-anchor="middle" fill="#444">15,000</text>
<text x="299.01" y="529.8" font-size="2.8" text-anchor="middle" fill="#444">20,000</text>
<text x="322.14" y="529.8" font-size="2.8" text-anchor="middle" fill="#444">25,000</text>
<text x="268" y="534" font-size="3" text-anchor="middle" fill="#333" textLength="38" lengthAdjust="spacingAndGlyphs">Rank in Ordered Dataset</text>
<text x="0" y="0" font-size="3" text-anchor="middle" fill="#333" textLength="44" lengthAdjust="spacingAndGlyphs" transform="translate(196.5,439.05) rotate(-90)">Enrichment score (ES)</text>
<text x="0" y="0" font-size="3" text-anchor="middle" fill="#333" textLength="55" lengthAdjust="spacingAndGlyphs" transform="translate(198.5,510.8) rotate(-90)">Ranked list metric (Signal2Noise)</text>
<rect x="209.5" y="538.4" width="101.1" height="5.6" fill="#fff" stroke="#555" stroke-width="0.5"/>
<line x1="211.5" y1="541.2" x2="216.5" y2="541.2" stroke="#22dd22" stroke-width="0.8"/>
<text x="217.5" y="542.2" font-size="3" text-anchor="start" fill="#222" textLength="26" lengthAdjust="spacingAndGlyphs">Enrichment profile</text>
<line x1="249.5" y1="541.2" x2="253.5" y2="541.2" stroke="#333" stroke-width="0.4"/>
<text x="254.5" y="542.2" font-size="3" text-anchor="start" fill="#222" textLength="6" lengthAdjust="spacingAndGlyphs">Hits</text>
<line x1="262.5" y1="541.2" x2="265.5" y2="541.2" stroke="#bbb" stroke-width="0.4"/>
<text x="267.5" y="542.2" font-size="3" text-anchor="start" fill="#222" textLength="34" lengthAdjust="spacingAndGlyphs">Ranking metric scores</text>
<path d="M206.7,463 C206.78,459.9 206.9,448.93 207.2,444.4 C207.5,439.87 207.88,437.53 208.5,435.8 C209.12,434.07 209.87,435.25 210.9,434 C211.93,432.75 213.67,430.08 214.7,428.3 C215.73,426.52 216.28,424.95 217.1,423.3 C217.92,421.65 218.57,419.43 219.6,418.4 C220.63,417.37 222.38,417.52 223.3,417.1 C224.22,416.68 224.27,416.52 225.1,415.9 C225.93,415.28 227.15,413.4 228.3,413.4 C229.45,413.4 230.35,414.95 232,415.9 C233.65,416.85 236.13,418.27 238.2,419.1 C240.27,419.93 241.3,419.15 244.4,420.9 C247.5,422.65 252.65,426.92 256.8,429.6 C260.95,432.28 265.15,434.53 269.3,437 C273.45,439.47 278.25,441.75 281.7,444.4 C285.15,447.05 287.88,451.12 290,452.9 C292.12,454.68 292.68,454.12 294.4,455.1 C296.12,456.08 298.45,457.68 300.3,458.8 C302.15,459.92 304.27,461.63 305.5,461.8 C306.73,461.97 307.08,459.98 307.7,459.8 C308.32,459.62 308.72,460.87 309.2,460.7 C309.68,460.53 309.87,458.8 310.6,458.8 C311.33,458.8 312.73,460.13 313.6,460.7 C314.47,461.27 315.18,462.27 315.8,462.2 C316.42,462.13 316.68,460.37 317.3,460.3 C317.92,460.23 318.77,461.38 319.5,461.8 C320.23,462.22 321.08,462.8 321.7,462.8 C322.32,462.8 322.95,461.97 323.2,461.8" fill="none" stroke="#0cf00c" stroke-width="1.15" stroke-linejoin="round"/>
<text x="265" y="406" font-size="8" text-anchor="middle" fill="#000" stroke="#000" stroke-width="0.1">Bmp signaling pathway</text>
<text x="214.2" y="438.8" font-size="8" text-anchor="start" fill="#000" stroke="#000" stroke-width="0.1">NES: 1.5674</text>
<text x="214.2" y="448.1" font-size="8" text-anchor="start" fill="#000" stroke="#000" stroke-width="0.1">p value: 0.0</text>
<text x="214.2" y="457.4" font-size="8" text-anchor="start" fill="#000" stroke="#000" stroke-width="0.1">FDR q value: 0.0239</text>
<text x="352" y="386.8" font-size="10.5" text-anchor="start" font-weight="bold" fill="#000" stroke="#000" stroke-width="0.1">f</text>
<rect x="368.6" y="414.3" width="140" height="134.4" fill="#efefef" stroke="none" stroke-width="1"/>
<rect x="385.4" y="416.1" width="121" height="114.2" fill="#fff" stroke="none" stroke-width="1"/>
<line x1="408.07" y1="416.1" x2="408.07" y2="469.9" stroke="#e2e2e2" stroke-width="0.4"/>
<line x1="408.07" y1="497.5" x2="408.07" y2="530.3" stroke="#e2e2e2" stroke-width="0.4"/>
<line x1="430.75" y1="416.1" x2="430.75" y2="469.9" stroke="#e2e2e2" stroke-width="0.4"/>
<line x1="430.75" y1="497.5" x2="430.75" y2="530.3" stroke="#e2e2e2" stroke-width="0.4"/>
<line x1="453.42" y1="416.1" x2="453.42" y2="469.9" stroke="#e2e2e2" stroke-width="0.4"/>
<line x1="453.42" y1="497.5" x2="453.42" y2="530.3" stroke="#e2e2e2" stroke-width="0.4"/>
<line x1="476.1" y1="416.1" x2="476.1" y2="469.9" stroke="#e2e2e2" stroke-width="0.4"/>
<line x1="476.1" y1="497.5" x2="476.1" y2="530.3" stroke="#e2e2e2" stroke-width="0.4"/>
<line x1="498.77" y1="416.1" x2="498.77" y2="469.9" stroke="#e2e2e2" stroke-width="0.4"/>
<line x1="498.77" y1="497.5" x2="498.77" y2="530.3" stroke="#e2e2e2" stroke-width="0.4"/>
<line x1="385.4" y1="469.6" x2="506.4" y2="469.6" stroke="#e6e6e6" stroke-width="0.4"/>
<text x="384.2" y="470.6" font-size="2.8" text-anchor="end" fill="#444">-0.1</text>
<line x1="385.4" y1="460.6" x2="506.4" y2="460.6" stroke="#e6e6e6" stroke-width="0.4"/>
<text x="384.2" y="461.6" font-size="2.8" text-anchor="end" fill="#444">-0.0</text>
<line x1="385.4" y1="452" x2="506.4" y2="452" stroke="#e6e6e6" stroke-width="0.4"/>
<text x="384.2" y="453" font-size="2.8" text-anchor="end" fill="#444">0.1</text>
<line x1="385.4" y1="443.4" x2="506.4" y2="443.4" stroke="#e6e6e6" stroke-width="0.4"/>
<text x="384.2" y="444.4" font-size="2.8" text-anchor="end" fill="#444">0.2</text>
<line x1="385.4" y1="434.8" x2="506.4" y2="434.8" stroke="#e6e6e6" stroke-width="0.4"/>
<text x="384.2" y="435.8" font-size="2.8" text-anchor="end" fill="#444">0.3</text>
<line x1="385.4" y1="426.2" x2="506.4" y2="426.2" stroke="#e6e6e6" stroke-width="0.4"/>
<text x="384.2" y="427.2" font-size="2.8" text-anchor="end" fill="#444">0.4</text>
<line x1="385.4" y1="417.6" x2="506.4" y2="417.6" stroke="#e6e6e6" stroke-width="0.4"/>
<text x="384.2" y="418.6" font-size="2.8" text-anchor="end" fill="#444">0.5</text>
<line x1="385.4" y1="501.9" x2="506.4" y2="501.9" stroke="#e6e6e6" stroke-width="0.4"/>
<text x="383.9" y="502.9" font-size="2.8" text-anchor="end" fill="#444">2</text>
<line x1="385.4" y1="511" x2="506.4" y2="511" stroke="#e6e6e6" stroke-width="0.4"/>
<text x="383.9" y="512" font-size="2.8" text-anchor="end" fill="#444">0</text>
<line x1="385.4" y1="520.1" x2="506.4" y2="520.1" stroke="#e6e6e6" stroke-width="0.4"/>
<text x="383.9" y="521.1" font-size="2.8" text-anchor="end" fill="#444">-2</text>
<line x1="385.4" y1="529.2" x2="506.4" y2="529.2" stroke="#e6e6e6" stroke-width="0.4"/>
<text x="383.9" y="530.2" font-size="2.8" text-anchor="end" fill="#444">-4</text>
<rect x="385.4" y="416.1" width="121" height="53.8" fill="none" stroke="#bdbdbd" stroke-width="0.5"/>
<rect x="385.4" y="471.6" width="121" height="22.3" fill="none" stroke="#bdbdbd" stroke-width="0.5"/>
<rect x="385.4" y="497.5" width="121" height="32.8" fill="none" stroke="#bdbdbd" stroke-width="0.5"/>
<line x1="385.4" y1="460.6" x2="506.4" y2="460.6" stroke="#aaa" stroke-width="0.5"/>
<path d="M386.74,471.9V489.3M388.78,471.9V489.3M389.9,471.9V489.3M385.56,471.9V489.3M387.24,471.9V489.3M388.57,471.9V489.3M386.85,471.9V489.3M386.62,471.9V489.3M407.85,471.9V489.3M398.48,471.9V489.3M407.68,471.9V489.3M396.64,471.9V489.3M412.25,471.9V489.3M412.73,471.9V489.3M413.89,471.9V489.3M415.82,471.9V489.3M411.33,471.9V489.3M432.42,471.9V489.3M469.93,471.9V489.3M470.72,471.9V489.3M482.55,471.9V489.3M481.79,471.9V489.3M484.07,471.9V489.3M485.02,471.9V489.3M493.9,471.9V489.3M493,471.9V489.3" stroke="#111" stroke-width="0.55" fill="none"/>
<path d="M386.07,471.9V489.3M389.74,471.9V489.3M387.92,471.9V489.3M387.19,471.9V489.3M388.98,471.9V489.3M386.45,471.9V489.3M387.78,471.9V489.3M388.39,471.9V489.3M404.66,471.9V489.3M391.21,471.9V489.3M393.39,471.9V489.3M403.48,471.9V489.3M404.75,471.9V489.3M403.19,471.9V489.3M397.29,471.9V489.3M395.17,471.9V489.3M402.26,471.9V489.3M392.45,471.9V489.3M400.98,471.9V489.3M393.13,471.9V489.3M394.11,471.9V489.3M393.17,471.9V489.3M414.63,471.9V489.3M414.22,471.9V489.3M414.35,471.9V489.3M432.48,471.9V489.3M429.62,471.9V489.3M432.09,471.9V489.3M436.48,471.9V489.3M436.62,471.9V489.3M464.79,471.9V489.3M485.57,471.9V489.3M484.99,471.9V489.3" stroke="#444" stroke-width="0.55" fill="none"/>
<path d="M389.78,471.9V489.3M390.57,471.9V489.3M389.91,471.9V489.3M390.32,471.9V489.3M389.53,471.9V489.3M388.18,471.9V489.3M387.25,471.9V489.3M389.99,471.9V489.3M402.92,471.9V489.3M400.74,471.9V489.3M400.39,471.9V489.3M400.88,471.9V489.3M393.22,471.9V489.3M391.77,471.9V489.3M407.63,471.9V489.3M414.28,471.9V489.3M412.94,471.9V489.3M417.34,471.9V489.3M431.86,471.9V489.3M432.71,471.9V489.3M473.8,471.9V489.3M475.39,471.9V489.3M477.79,471.9V489.3M477.6,471.9V489.3M482.69,471.9V489.3M482.34,471.9V489.3M483.34,471.9V489.3M486.49,471.9V489.3M488.09,471.9V489.3M494.21,471.9V489.3M492.49,471.9V489.3M493.2,471.9V489.3" stroke="#222" stroke-width="0.55" fill="none"/>
<path d="M389.72,471.9V489.3M388.71,471.9V489.3M408.34,471.9V489.3M407.02,471.9V489.3M401.85,471.9V489.3M406.02,471.9V489.3M397.91,471.9V489.3M392.42,471.9V489.3M402.2,471.9V489.3M393.89,471.9V489.3M396.6,471.9V489.3M404.78,471.9V489.3M398.02,471.9V489.3M394.23,471.9V489.3M408.07,471.9V489.3M414.15,471.9V489.3M411.48,471.9V489.3M412.43,471.9V489.3M414.91,471.9V489.3M432.52,471.9V489.3M465.62,471.9V489.3M470.51,471.9V489.3M474.68,471.9V489.3M481.49,471.9V489.3M481.86,471.9V489.3M484.53,471.9V489.3M484.38,471.9V489.3M487.42,471.9V489.3M494.56,471.9V489.3" stroke="#000" stroke-width="0.55" fill="none"/>
<path d="M389.68,471.9V489.3M388.32,471.9V489.3M388.87,471.9V489.3M387.68,471.9V489.3M407.76,471.9V489.3M404.46,471.9V489.3M394.51,471.9V489.3M393.22,471.9V489.3M406.34,471.9V489.3M398.99,471.9V489.3M395.92,471.9V489.3M397.7,471.9V489.3M405.92,471.9V489.3M392.02,471.9V489.3M403.43,471.9V489.3M413.87,471.9V489.3M413.93,471.9V489.3M414.23,471.9V489.3M413.24,471.9V489.3M412.65,471.9V489.3M463.94,471.9V489.3M475.1,471.9V489.3M473.16,471.9V489.3M481.46,471.9V489.3M481.53,471.9V489.3M487.48,471.9V489.3M493.47,471.9V489.3M493.43,471.9V489.3" stroke="#333" stroke-width="0.55" fill="none"/>
<path d="M393.57,471.9V489.3M398.33,471.9V489.3M394.24,471.9V489.3M405.87,471.9V489.3M402.06,471.9V489.3M409.41,471.9V489.3M399.29,471.9V489.3M394.75,471.9V489.3M406.05,471.9V489.3M422.36,471.9V489.3M420.15,471.9V489.3M421.58,471.9V489.3M419.24,471.9V489.3M476.67,471.9V489.3M497.39,471.9V489.3" stroke="#777" stroke-width="0.55" fill="none"/>
<path d="M403.15,471.9V489.3M395.3,471.9V489.3M406,471.9V489.3M394.66,471.9V489.3M392.99,471.9V489.3M400.73,471.9V489.3M423.04,471.9V489.3M421.41,471.9V489.3M423.07,471.9V489.3M422.61,471.9V489.3M422.1,471.9V489.3M447.62,471.9V489.3M454.36,471.9V489.3M467.07,471.9V489.3M465.01,471.9V489.3M476.91,471.9V489.3" stroke="#999" stroke-width="0.55" fill="none"/>
<path d="M407.48,471.9V489.3M394.89,471.9V489.3M397.77,471.9V489.3M409.04,471.9V489.3M391.26,471.9V489.3M394.91,471.9V489.3M398.99,471.9V489.3M392.81,471.9V489.3M405.15,471.9V489.3M407.11,471.9V489.3M418.9,471.9V489.3M419.82,471.9V489.3M420.24,471.9V489.3M421.79,471.9V489.3M419.86,471.9V489.3M453.7,471.9V489.3M458.56,471.9V489.3M458.43,471.9V489.3M473.52,471.9V489.3M498.77,471.9V489.3" stroke="#555" stroke-width="0.55" fill="none"/>
<path d="M394.18,471.9V489.3M403.01,471.9V489.3M403.04,471.9V489.3M408.44,471.9V489.3M394.01,471.9V489.3M409.01,471.9V489.3M391.96,471.9V489.3M397.1,471.9V489.3M402.58,471.9V489.3M402.45,471.9V489.3M393.9,471.9V489.3M421.77,471.9V489.3M421.19,471.9V489.3M459.24,471.9V489.3M463.68,471.9V489.3M466.57,471.9V489.3M464.39,471.9V489.3M478.38,471.9V489.3M476.45,471.9V489.3M498.34,471.9V489.3M499.22,471.9V489.3" stroke="#aaa" stroke-width="0.55" fill="none"/>
<path d="M447.58,471.9V489.3" stroke="#bbb" stroke-width="0.55" fill="none"/>
<path d="M448.55,471.9V489.3" stroke="#888" stroke-width="0.55" fill="none"/>
<rect x="385.4" y="489.3" width="115.1" height="4.6" fill="url(#gcb)" stroke="none" stroke-width="1"/>
<text x="386.9" y="496.8" font-size="2.8" text-anchor="start" fill="#f22" textLength="40" lengthAdjust="spacingAndGlyphs">'Ubc_WT' (positively correlated)</text>
<polygon points="385.4,511 385.4,499.17 386.44,501.31 387.47,502.68 388.51,503.57 389.54,504.18 390.58,504.62 391.62,504.95 392.65,505.22 393.69,505.45 394.72,505.66 395.76,505.85 396.79,506.03 397.83,506.21 398.87,506.39 399.9,506.56 400.94,506.73 401.97,506.9 403.01,507.07 404.05,507.25 405.08,507.42 406.12,507.59 407.15,507.76 408.19,507.93 409.23,508.1 410.26,508.27 411.3,508.44 412.33,508.61 413.37,508.78 414.41,508.95 415.44,509.12 416.48,509.29 417.51,509.46 418.55,509.63 419.58,509.81 420.62,509.98 421.66,510.15 422.69,510.32 423.73,510.49 424.76,510.66 425.8,510.83 426.84,511 426.84,511" fill="#b5b5b5" stroke="none" stroke-width="1"/>
<polygon points="462.52,511 462.52,511.55 463.47,511.61 464.42,511.68 465.37,511.75 466.32,511.82 467.26,511.89 468.21,511.96 469.16,512.02 470.11,512.09 471.06,512.16 472.01,512.23 472.96,512.3 473.91,512.37 474.86,512.43 475.81,512.5 476.76,512.57 477.71,512.64 478.66,512.71 479.61,512.77 480.56,512.84 481.51,512.91 482.46,512.98 483.41,513.05 484.36,513.12 485.31,513.18 486.26,513.25 487.21,513.32 488.16,513.39 489.11,513.46 490.05,513.53 491,513.59 491.95,513.66 492.9,513.73 493.85,513.8 494.8,513.87 495.75,513.93 496.7,514.07 497.65,514.86 498.6,517.12 499.55,521.66 500.5,529.29 500.5,511" fill="#b5b5b5" stroke="none" stroke-width="1"/>
<line x1="433.74" y1="497.5" x2="433.74" y2="530.3" stroke="#999" stroke-width="0.4" stroke-dasharray="0.6,0.6"/>
<text x="426.74" y="513.4" font-size="2.8" text-anchor="start" fill="#444" textLength="26" lengthAdjust="spacingAndGlyphs">Zero cross at 12363</text>
<text x="496.5" y="529.1" font-size="2.8" text-anchor="end" fill="#22f" textLength="44" lengthAdjust="spacingAndGlyphs">'Ubc_KO' (negatively correlated)</text>
<text x="385.4" y="533.9" font-size="2.8" text-anchor="middle" fill="#444">0</text>
<text x="408.07" y="533.9" font-size="2.8" text-anchor="middle" fill="#444">5,000</text>
<text x="430.75" y="533.9" font-size="2.8" text-anchor="middle" fill="#444">10,000</text>
<text x="453.42" y="533.9" font-size="2.8" text-anchor="middle" fill="#444">15,000</text>
<text x="476.1" y="533.9" font-size="2.8" text-anchor="middle" fill="#444">20,000</text>
<text x="498.77" y="533.9" font-size="2.8" text-anchor="middle" fill="#444">25,000</text>
<text x="445.9" y="537.9" font-size="3" text-anchor="middle" fill="#333" textLength="38" lengthAdjust="spacingAndGlyphs">Rank in Ordered Dataset</text>
<text x="0" y="0" font-size="3" text-anchor="middle" fill="#333" textLength="44" lengthAdjust="spacingAndGlyphs" transform="translate(374.8,443) rotate(-90)">Enrichment score (ES)</text>
<text x="0" y="0" font-size="3" text-anchor="middle" fill="#333" textLength="55" lengthAdjust="spacingAndGlyphs" transform="translate(376.8,514.8) rotate(-90)">Ranked list metric (Signal2Noise)</text>
<rect x="388.9" y="542.4" width="99.1" height="5.9" fill="#fff" stroke="#555" stroke-width="0.5"/>
<line x1="390.9" y1="545.35" x2="395.9" y2="545.35" stroke="#22dd22" stroke-width="0.8"/>
<text x="396.9" y="546.35" font-size="3" text-anchor="start" fill="#222" textLength="26" lengthAdjust="spacingAndGlyphs">Enrichment profile</text>
<line x1="428.9" y1="545.35" x2="432.9" y2="545.35" stroke="#333" stroke-width="0.4"/>
<text x="433.9" y="546.35" font-size="3" text-anchor="start" fill="#222" textLength="6" lengthAdjust="spacingAndGlyphs">Hits</text>
<line x1="441.9" y1="545.35" x2="444.9" y2="545.35" stroke="#bbb" stroke-width="0.4"/>
<text x="446.9" y="546.35" font-size="3" text-anchor="start" fill="#222" textLength="34" lengthAdjust="spacingAndGlyphs">Ranking metric scores</text>
<path d="M385,460.6 C385.15,459.15 385.55,455 385.9,451.9 C386.25,448.8 386.57,445.32 387.1,442 C387.63,438.68 388.38,435.12 389.1,432 C389.82,428.88 390.28,425.37 391.4,423.3 C392.52,421.23 394.23,420.33 395.8,419.6 C397.37,418.87 399.35,419.07 400.8,418.9 C402.25,418.73 402.85,418.48 404.5,418.6 C406.15,418.72 408.63,418.82 410.7,419.6 C412.77,420.38 414.22,421.43 416.9,423.3 C419.58,425.17 423.07,427.68 426.8,430.8 C430.53,433.92 435.15,438.48 439.3,442 C443.45,445.52 447.98,448.93 451.7,451.9 C455.42,454.87 458.55,457.92 461.6,459.8 C464.65,461.68 467.62,462.13 470,463.2 C472.38,464.27 473.93,465.38 475.9,466.2 C477.87,467.02 480.08,467.85 481.8,468.1 C483.52,468.35 485.1,468.1 486.2,467.7 C487.3,467.3 487.42,465.63 488.4,465.7 C489.38,465.77 491.12,468.52 492.1,468.1 C493.08,467.68 493.32,464.43 494.3,463.2 C495.28,461.97 497.02,461.13 498,460.7 C498.98,460.27 499.83,460.62 500.2,460.6" fill="none" stroke="#0cf00c" stroke-width="1.15" stroke-linejoin="round"/>
<text x="438" y="406" font-size="8" text-anchor="middle" fill="#000" stroke="#000" stroke-width="0.1">Notch signaling pathway</text>
<text x="391.4" y="440.3" font-size="8" text-anchor="start" fill="#000" stroke="#000" stroke-width="0.1">NES: 1.4823</text>
<text x="391.4" y="449.6" font-size="8" text-anchor="start" fill="#000" stroke="#000" stroke-width="0.1">p value: 0.0</text>
<text x="391.4" y="458.9" font-size="8" text-anchor="start" fill="#000" stroke="#000" stroke-width="0.1">FDR q value: 0.0348</text>
<text x="515" y="386.8" font-size="10.5" text-anchor="start" font-weight="bold" fill="#000" stroke="#000" stroke-width="0.1">g</text>
<rect x="530.3" y="416" width="140.1" height="134.5" fill="#efefef" stroke="none" stroke-width="1"/>
<rect x="546.3" y="418.4" width="122.5" height="113.8" fill="#fff" stroke="none" stroke-width="1"/>
<line x1="569.21" y1="418.4" x2="569.21" y2="472.8" stroke="#e2e2e2" stroke-width="0.4"/>
<line x1="569.21" y1="498.6" x2="569.21" y2="532.2" stroke="#e2e2e2" stroke-width="0.4"/>
<line x1="592.12" y1="418.4" x2="592.12" y2="472.8" stroke="#e2e2e2" stroke-width="0.4"/>
<line x1="592.12" y1="498.6" x2="592.12" y2="532.2" stroke="#e2e2e2" stroke-width="0.4"/>
<line x1="615.03" y1="418.4" x2="615.03" y2="472.8" stroke="#e2e2e2" stroke-width="0.4"/>
<line x1="615.03" y1="498.6" x2="615.03" y2="532.2" stroke="#e2e2e2" stroke-width="0.4"/>
<line x1="637.94" y1="418.4" x2="637.94" y2="472.8" stroke="#e2e2e2" stroke-width="0.4"/>
<line x1="637.94" y1="498.6" x2="637.94" y2="532.2" stroke="#e2e2e2" stroke-width="0.4"/>
<line x1="660.86" y1="418.4" x2="660.86" y2="472.8" stroke="#e2e2e2" stroke-width="0.4"/>
<line x1="660.86" y1="498.6" x2="660.86" y2="532.2" stroke="#e2e2e2" stroke-width="0.4"/>
<line x1="546.3" y1="469.8" x2="668.8" y2="469.8" stroke="#e6e6e6" stroke-width="0.4"/>
<text x="545.1" y="470.8" font-size="2.8" text-anchor="end" fill="#444">0.0</text>
<line x1="546.3" y1="461.9" x2="668.8" y2="461.9" stroke="#e6e6e6" stroke-width="0.4"/>
<text x="545.1" y="462.9" font-size="2.8" text-anchor="end" fill="#444">0.1</text>
<line x1="546.3" y1="454" x2="668.8" y2="454" stroke="#e6e6e6" stroke-width="0.4"/>
<text x="545.1" y="455" font-size="2.8" text-anchor="end" fill="#444">0.2</text>
<line x1="546.3" y1="446.1" x2="668.8" y2="446.1" stroke="#e6e6e6" stroke-width="0.4"/>
<text x="545.1" y="447.1" font-size="2.8" text-anchor="end" fill="#444">0.3</text>
<line x1="546.3" y1="438.2" x2="668.8" y2="438.2" stroke="#e6e6e6" stroke-width="0.4"/>
<text x="545.1" y="439.2" font-size="2.8" text-anchor="end" fill="#444">0.4</text>
<line x1="546.3" y1="430.3" x2="668.8" y2="430.3" stroke="#e6e6e6" stroke-width="0.4"/>
<text x="545.1" y="431.3" font-size="2.8" text-anchor="end" fill="#444">0.5</text>
<line x1="546.3" y1="422.4" x2="668.8" y2="422.4" stroke="#e6e6e6" stroke-width="0.4"/>
<text x="545.1" y="423.4" font-size="2.8" text-anchor="end" fill="#444">0.6</text>
<line x1="546.3" y1="504.9" x2="668.8" y2="504.9" stroke="#e6e6e6" stroke-width="0.4"/>
<text x="544.8" y="505.9" font-size="2.8" text-anchor="end" fill="#444">2</text>
<line x1="546.3" y1="513.5" x2="668.8" y2="513.5" stroke="#e6e6e6" stroke-width="0.4"/>
<text x="544.8" y="514.5" font-size="2.8" text-anchor="end" fill="#444">0</text>
<line x1="546.3" y1="522.1" x2="668.8" y2="522.1" stroke="#e6e6e6" stroke-width="0.4"/>
<text x="544.8" y="523.1" font-size="2.8" text-anchor="end" fill="#444">-2</text>
<line x1="546.3" y1="530.7" x2="668.8" y2="530.7" stroke="#e6e6e6" stroke-width="0.4"/>
<text x="544.8" y="531.7" font-size="2.8" text-anchor="end" fill="#444">-4</text>
<rect x="546.3" y="418.4" width="122.5" height="54.4" fill="none" stroke="#bdbdbd" stroke-width="0.5"/>
<rect x="546.3" y="472.8" width="122.5" height="22.9" fill="none" stroke="#bdbdbd" stroke-width="0.5"/>
<rect x="546.3" y="498.6" width="122.5" height="33.6" fill="none" stroke="#bdbdbd" stroke-width="0.5"/>
<line x1="546.3" y1="469.8" x2="668.8" y2="469.8" stroke="#aaa" stroke-width="0.5"/>
<path d="M547.17,473.1V491.1M549.24,473.1V491.1M547.52,473.1V491.1M606.99,473.1V491.1" stroke="#aaa" stroke-width="0.55" fill="none"/>
<path d="M553.96,473.1V491.1M552.28,473.1V491.1M549.21,473.1V491.1M551.72,473.1V491.1M546.53,473.1V491.1M550.25,473.1V491.1M560.39,473.1V491.1M603.3,473.1V491.1M631.16,473.1V491.1M630.05,473.1V491.1M642.88,473.1V491.1" stroke="#444" stroke-width="0.55" fill="none"/>
<path d="M552.28,473.1V491.1M549.59,473.1V491.1M552.38,473.1V491.1M579.41,473.1V491.1M614.67,473.1V491.1M638.44,473.1V491.1M638.88,473.1V491.1" stroke="#999" stroke-width="0.55" fill="none"/>
<path d="M548.77,473.1V491.1M547.96,473.1V491.1M579.46,473.1V491.1M638.39,473.1V491.1M651.51,473.1V491.1M650.95,473.1V491.1M650.96,473.1V491.1" stroke="#777" stroke-width="0.55" fill="none"/>
<path d="M549.51,473.1V491.1M547.64,473.1V491.1M553.6,473.1V491.1M553.4,473.1V491.1M547.78,473.1V491.1M550.37,473.1V491.1M547.29,473.1V491.1M560.81,473.1V491.1M579.88,473.1V491.1M633.57,473.1V491.1" stroke="#111" stroke-width="0.55" fill="none"/>
<path d="M548.45,473.1V491.1M547.3,473.1V491.1M551.01,473.1V491.1M588.5,473.1V491.1M652.35,473.1V491.1M651.99,473.1V491.1" stroke="#555" stroke-width="0.55" fill="none"/>
<path d="M550.48,473.1V491.1M548.5,473.1V491.1M555.64,473.1V491.1M560.94,473.1V491.1M565.22,473.1V491.1M570.9,473.1V491.1M592.72,473.1V491.1M592.79,473.1V491.1M652.17,473.1V491.1" stroke="#333" stroke-width="0.55" fill="none"/>
<path d="M555.93,473.1V491.1M631.18,473.1V491.1M634.43,473.1V491.1M652.08,473.1V491.1" stroke="#000" stroke-width="0.55" fill="none"/>
<path d="M579.02,473.1V491.1M586.13,473.1V491.1M631.05,473.1V491.1M643.34,473.1V491.1M653.26,473.1V491.1" stroke="#222" stroke-width="0.55" fill="none"/>
<path d="M615.6,473.1V491.1M616.54,473.1V491.1M615.11,473.1V491.1M614.43,473.1V491.1" stroke="#bbb" stroke-width="0.55" fill="none"/>
<path d="M615.95,473.1V491.1" stroke="#888" stroke-width="0.55" fill="none"/>
<rect x="546.3" y="491.1" width="116.3" height="4.6" fill="url(#gcb)" stroke="none" stroke-width="1"/>
<text x="547.8" y="498.6" font-size="2.8" text-anchor="start" fill="#f22" textLength="40" lengthAdjust="spacingAndGlyphs">'Ubc_WT' (positively correlated)</text>
<polygon points="546.3,513.5 546.3,502.32 547.23,504.18 548.16,505.43 549.09,506.29 550.02,506.9 550.95,507.34 551.88,507.69 552.81,507.97 553.74,508.2 554.67,508.41 555.6,508.61 556.53,508.79 557.46,508.96 558.4,509.13 559.33,509.3 560.26,509.46 561.19,509.63 562.12,509.79 563.05,509.95 563.98,510.11 564.91,510.27 565.84,510.44 566.77,510.6 567.7,510.76 568.63,510.92 569.56,511.08 570.49,511.24 571.42,511.4 572.35,511.56 573.28,511.73 574.21,511.89 575.14,512.05 576.07,512.21 577,512.37 577.93,512.53 578.86,512.69 579.79,512.85 580.72,513.02 581.66,513.18 582.59,513.34 583.52,513.5 583.52,513.5" fill="#b5b5b5" stroke="none" stroke-width="1"/>
<polygon points="624.22,513.5 624.22,514.02 625.18,514.08 626.14,514.14 627.1,514.21 628.06,514.27 629.02,514.34 629.98,514.4 630.94,514.47 631.9,514.53 632.86,514.6 633.82,514.66 634.78,514.73 635.73,514.79 636.69,514.85 637.65,514.92 638.61,514.98 639.57,515.05 640.53,515.11 641.49,515.18 642.45,515.24 643.41,515.31 644.37,515.37 645.33,515.43 646.29,515.5 647.25,515.56 648.21,515.63 649.17,515.69 650.13,515.76 651.09,515.82 652.05,515.89 653.01,515.95 653.96,516.02 654.92,516.08 655.88,516.14 656.84,516.21 657.8,516.27 658.76,516.4 659.72,517.15 660.68,519.28 661.64,523.57 662.6,530.79 662.6,513.5" fill="#b5b5b5" stroke="none" stroke-width="1"/>
<line x1="595.15" y1="498.6" x2="595.15" y2="532.2" stroke="#999" stroke-width="0.4" stroke-dasharray="0.6,0.6"/>
<text x="588.15" y="515.9" font-size="2.8" text-anchor="start" fill="#444" textLength="26" lengthAdjust="spacingAndGlyphs">Zero cross at 12363</text>
<text x="658.6" y="531" font-size="2.8" text-anchor="end" fill="#22f" textLength="44" lengthAdjust="spacingAndGlyphs">'Ubc_KO' (negatively correlated)</text>
<text x="546.3" y="535.6" font-size="2.8" text-anchor="middle" fill="#444">0</text>
<text x="569.21" y="535.6" font-size="2.8" text-anchor="middle" fill="#444">5,000</text>
<text x="592.12" y="535.6" font-size="2.8" text-anchor="middle" fill="#444">10,000</text>
<text x="615.03" y="535.6" font-size="2.8" text-anchor="middle" fill="#444">15,000</text>
<text x="637.94" y="535.6" font-size="2.8" text-anchor="middle" fill="#444">20,000</text>
<text x="660.86" y="535.6" font-size="2.8" text-anchor="middle" fill="#444">25,000</text>
<text x="607.55" y="540.2" font-size="3" text-anchor="middle" fill="#333" textLength="38" lengthAdjust="spacingAndGlyphs">Rank in Ordered Dataset</text>
<text x="0" y="0" font-size="3" text-anchor="middle" fill="#333" textLength="44" lengthAdjust="spacingAndGlyphs" transform="translate(536.5,445.6) rotate(-90)">Enrichment score (ES)</text>
<text x="0" y="0" font-size="3" text-anchor="middle" fill="#333" textLength="55" lengthAdjust="spacingAndGlyphs" transform="translate(538.5,516.65) rotate(-90)">Ranked list metric (Signal2Noise)</text>
<rect x="550.6" y="544.4" width="98.8" height="6.1" fill="#fff" stroke="#555" stroke-width="0.5"/>
<line x1="552.6" y1="547.45" x2="557.6" y2="547.45" stroke="#22dd22" stroke-width="0.8"/>
<text x="558.6" y="548.45" font-size="3" text-anchor="start" fill="#222" textLength="26" lengthAdjust="spacingAndGlyphs">Enrichment profile</text>
<line x1="590.6" y1="547.45" x2="594.6" y2="547.45" stroke="#333" stroke-width="0.4"/>
<text x="595.6" y="548.45" font-size="3" text-anchor="start" fill="#222" textLength="6" lengthAdjust="spacingAndGlyphs">Hits</text>
<line x1="603.6" y1="547.45" x2="606.6" y2="547.45" stroke="#bbb" stroke-width="0.4"/>
<text x="608.6" y="548.45" font-size="3" text-anchor="start" fill="#222" textLength="34" lengthAdjust="spacingAndGlyphs">Ranking metric scores</text>
<path d="M546.3,469.8 C546.38,468.15 546.53,461.68 546.8,459.9 C547.07,458.12 547.6,460.63 547.9,459.1 C548.2,457.57 548.35,453.37 548.6,450.7 C548.85,448.03 549.02,445.63 549.4,443.1 C549.78,440.57 550.27,437.78 550.9,435.5 C551.53,433.22 552.43,431.18 553.2,429.4 C553.97,427.62 554.87,425.18 555.5,424.8 C556.13,424.42 556.25,426.97 557,427.1 C557.75,427.23 559.23,426.23 560,425.6 C560.77,424.97 560.95,423.43 561.6,423.3 C562.25,423.17 563.02,425.32 563.9,424.8 C564.78,424.28 565.77,420.45 566.9,420.2 C568.03,419.95 569.05,422.28 570.7,423.3 C572.35,424.32 574.77,425.42 576.8,426.3 C578.83,427.18 580.7,427.58 582.9,428.6 C585.1,429.62 586.28,430.23 590,432.4 C593.72,434.57 600.12,438.3 605.2,441.6 C610.28,444.9 616.43,449.42 620.5,452.2 C624.57,454.98 627.32,456.9 629.6,458.3 C631.88,459.7 632.17,459.72 634.2,460.6 C636.23,461.48 639.52,462.63 641.8,463.6 C644.08,464.57 646.63,466.07 647.9,466.4 C649.17,466.73 648.9,465.55 649.4,465.6 C649.9,465.65 650.27,467.03 650.9,466.7 C651.53,466.37 652.18,463.73 653.2,463.6 C654.22,463.47 655.47,464.88 657,465.9 C658.53,466.92 661.5,469.07 662.4,469.7" fill="none" stroke="#0cf00c" stroke-width="1.15" stroke-linejoin="round"/>
<text x="603.8" y="406" font-size="8" text-anchor="middle" fill="#000" stroke="#000" stroke-width="0.1">Hedgehog signaling pathway</text>
<text x="553.5" y="447.8" font-size="8" text-anchor="start" fill="#000" stroke="#000" stroke-width="0.1">NES: 1.5362</text>
<text x="553.5" y="457.1" font-size="8" text-anchor="start" fill="#000" stroke="#000" stroke-width="0.1">p value: 0.0</text>
<text x="553.5" y="466.4" font-size="8" text-anchor="start" fill="#000" stroke="#000" stroke-width="0.1">FDR q value: 0.0362</text>
<text x="0" y="587.3" font-size="10.5" text-anchor="start" font-weight="bold" fill="#000" stroke="#000" stroke-width="0.1">h</text>
<text x="90.6" y="596.4" font-size="8" text-anchor="middle" font-style="italic" stroke="#000" stroke-width="0.1">Ripk4<tspan font-size="4.96" dy="-3.04">fl/fl</tspan></text>
<text x="275.7" y="595.2" font-size="8" text-anchor="middle" font-style="italic" stroke="#000" stroke-width="0.1">Ubc<tspan font-size="4.96" dy="-3.04">Cre/ERT2</tspan><tspan dy="3.04"> Ripk4</tspan><tspan font-size="4.96" dy="-3.04">fl/fl</tspan></text>
<g clip-path="url(#cp1)">
<rect x="2.6" y="601.9" width="85" height="85.1" fill="#fff" stroke="none" stroke-width="1"/>
<circle cx="12.5" cy="651.08" r="0.35" fill="#e79ab0" stroke="none" stroke-width="1"/>
<circle cx="37.02" cy="677.25" r="0.35" fill="#e79ab0" stroke="none" stroke-width="1"/>
<circle cx="54.14" cy="646.23" r="0.35" fill="#e79ab0" stroke="none" stroke-width="1"/>
<circle cx="79.72" cy="627.5" r="0.35" fill="#e79ab0" stroke="none" stroke-width="1"/>
<circle cx="72.64" cy="638.29" r="0.35" fill="#e79ab0" stroke="none" stroke-width="1"/>
<circle cx="59.01" cy="681.52" r="0.35" fill="#e79ab0" stroke="none" stroke-width="1"/>
<circle cx="69.33" cy="652.73" r="0.35" fill="#e79ab0" stroke="none" stroke-width="1"/>
<circle cx="69.24" cy="606.83" r="0.35" fill="#e79ab0" stroke="none" stroke-width="1"/>
<circle cx="39.46" cy="672.89" r="0.35" fill="#e79ab0" stroke="none" stroke-width="1"/>
<circle cx="65.09" cy="640.58" r="0.35" fill="#e79ab0" stroke="none" stroke-width="1"/>
<circle cx="23.72" cy="632.36" r="0.35" fill="#e79ab0" stroke="none" stroke-width="1"/>
<circle cx="39.55" cy="614.03" r="0.35" fill="#e79ab0" stroke="none" stroke-width="1"/>
<circle cx="79.61" cy="656.15" r="0.35" fill="#e79ab0" stroke="none" stroke-width="1"/>
<circle cx="47.45" cy="619.3" r="0.35" fill="#e79ab0" stroke="none" stroke-width="1"/>
<path d="M38.1,601 C33.62,603.78 36.27,612.73 35.5,617.7 C34.73,622.67 34.27,627.08 33.5,630.8 C32.73,634.52 32.1,637.37 30.9,640 C29.7,642.63 28.17,644.83 26.3,646.6 C24.43,648.37 21.9,649.5 19.7,650.6 C17.5,651.7 14.85,652.33 13.1,653.2 C11.35,654.07 10.07,654.48 9.2,655.8 C8.33,657.12 8.02,659.13 7.9,661.1 C7.78,663.07 7.85,665.63 8.5,667.6 C9.15,669.57 10.37,671.37 11.8,672.9 C13.23,674.43 15.12,675.48 17.1,676.8 C19.08,678.12 21.3,679.7 23.7,680.8 C26.1,681.9 28.88,682.85 31.5,683.4 C34.12,683.95 36.33,684.32 39.4,684.1 C42.47,683.88 47.05,683.1 49.9,682.1 C52.75,681.1 54.3,679.85 56.5,678.1 C58.7,676.35 61.35,674.22 63.1,671.6 C64.85,668.98 66.23,665.9 67,662.4 C67.77,658.9 68.03,654.33 67.7,650.6 C67.37,646.87 65.98,643.3 65,640 C64.02,636.7 62.45,634.52 61.8,630.8 C61.15,627.08 61,622.67 61.1,617.7 C61.2,612.73 66.23,603.78 62.4,601 C58.57,598.22 42.58,598.22 38.1,601Z" fill="#2aa0b8" stroke="none" stroke-width="1"/>
<g clip-path="url(#cp2)"><rect x="2.6" y="601.9" width="85" height="85.1" filter="url(#nBone)"/></g>
<g clip-path="url(#cp2)">
<polygon points="-2.4,651.2 19.7,653.2 21,659.8 26.3,662.4 32.8,663 38.1,657.1 40.7,651.9 43.4,653.2 46,661.1 49.9,663 56.5,659.8 63.1,653.2 65,646.6 92.6,646.6 92.6,692 -2.4,692" fill="#2aa0b8" stroke="none" stroke-width="1"/>
<g fill="#da6c87"><ellipse cx="17.76" cy="658.32" rx="2.39" ry="1.89" transform="rotate(55 17.76 658.32)"/><ellipse cx="39.45" cy="666.52" rx="1.52" ry="1.48" transform="rotate(109 39.45 666.52)"/><ellipse cx="12.04" cy="666.96" rx="1.83" ry="1.26" transform="rotate(10 12.04 666.96)"/><ellipse cx="34.02" cy="683.72" rx="2.58" ry="1.97" transform="rotate(113 34.02 683.72)"/><ellipse cx="17.16" cy="668.94" rx="1.67" ry="1.63" transform="rotate(116 17.16 668.94)"/><ellipse cx="17.53" cy="661.53" rx="2.06" ry="1.36" transform="rotate(170 17.53 661.53)"/><ellipse cx="10.12" cy="672.96" rx="1.83" ry="1.67" transform="rotate(53 10.12 672.96)"/><ellipse cx="48.19" cy="667.72" rx="2.42" ry="2.37" transform="rotate(148 48.19 667.72)"/><ellipse cx="25.36" cy="680.32" rx="2.2" ry="1.6" transform="rotate(124 25.36 680.32)"/><ellipse cx="13.48" cy="660.67" rx="2.89" ry="2.31" transform="rotate(125 13.48 660.67)"/><ellipse cx="26.95" cy="682.44" rx="1.66" ry="1.44" transform="rotate(160 26.95 682.44)"/><ellipse cx="28.72" cy="678.04" rx="1.99" ry="1.67" transform="rotate(78 28.72 678.04)"/><ellipse cx="47.78" cy="678.81" rx="1.84" ry="1.52" transform="rotate(112 47.78 678.81)"/><ellipse cx="56.06" cy="665.31" rx="2.18" ry="2.03" transform="rotate(13 56.06 665.31)"/><ellipse cx="31.49" cy="673.33" rx="2.4" ry="1.58" transform="rotate(38 31.49 673.33)"/><ellipse cx="22.98" cy="680.68" rx="2.24" ry="1.99" transform="rotate(7 22.98 680.68)"/><ellipse cx="64.88" cy="675.74" rx="2.01" ry="1.33" transform="rotate(94 64.88 675.74)"/><ellipse cx="42.65" cy="671.58" rx="1.93" ry="1.57" transform="rotate(70 42.65 671.58)"/><ellipse cx="16.23" cy="660.9" rx="2.04" ry="1.32" transform="rotate(6 16.23 660.9)"/><ellipse cx="22.84" cy="680.42" rx="2.09" ry="1.82" transform="rotate(35 22.84 680.42)"/><ellipse cx="10.66" cy="660.07" rx="2.72" ry="2.48" transform="rotate(2 10.66 660.07)"/><ellipse cx="31.08" cy="672.84" rx="2.06" ry="1.7" transform="rotate(59 31.08 672.84)"/><ellipse cx="51.83" cy="681.37" rx="1.93" ry="1.7" transform="rotate(134 51.83 681.37)"/><ellipse cx="45.37" cy="668.12" rx="2.87" ry="2.3" transform="rotate(5 45.37 668.12)"/><ellipse cx="9.39" cy="655.97" rx="1.56" ry="1.11" transform="rotate(150 9.39 655.97)"/><ellipse cx="56.77" cy="661.14" rx="2.14" ry="1.49" transform="rotate(98 56.77 661.14)"/><ellipse cx="62.6" cy="655.38" rx="1.55" ry="1.04" transform="rotate(95 62.6 655.38)"/><ellipse cx="50.79" cy="675" rx="2.59" ry="2.2" transform="rotate(158 50.79 675)"/><ellipse cx="47.85" cy="672.38" rx="2.48" ry="2.16" transform="rotate(62 47.85 672.38)"/><ellipse cx="39.25" cy="660.12" rx="2.77" ry="1.84" transform="rotate(51 39.25 660.12)"/><ellipse cx="64.32" cy="662.69" rx="2.15" ry="1.38" transform="rotate(42 64.32 662.69)"/><ellipse cx="23.1" cy="671.25" rx="1.71" ry="1.5" transform="rotate(51 23.1 671.25)"/><ellipse cx="34.79" cy="683.34" rx="2.82" ry="1.86" transform="rotate(79 34.79 683.34)"/><ellipse cx="42.03" cy="676.79" rx="2.11" ry="1.97" transform="rotate(79 42.03 676.79)"/><ellipse cx="55.88" cy="671.09" rx="2.8" ry="2.67" transform="rotate(4 55.88 671.09)"/><ellipse cx="33.96" cy="670.2" rx="2.88" ry="2.49" transform="rotate(38 33.96 670.2)"/><ellipse cx="11.47" cy="668.74" rx="2.35" ry="1.99" transform="rotate(120 11.47 668.74)"/><ellipse cx="8.45" cy="668.06" rx="2.44" ry="1.64" transform="rotate(25 8.45 668.06)"/><ellipse cx="12.58" cy="669.75" rx="1.8" ry="1.11" transform="rotate(90 12.58 669.75)"/><ellipse cx="11.23" cy="657.58" rx="2.41" ry="2.04" transform="rotate(154 11.23 657.58)"/><ellipse cx="62.23" cy="681.62" rx="2.05" ry="2" transform="rotate(178 62.23 681.62)"/><ellipse cx="44.21" cy="663.8" rx="2.41" ry="1.6" transform="rotate(137 44.21 663.8)"/><ellipse cx="53.77" cy="680.36" rx="2.77" ry="1.93" transform="rotate(153 53.77 680.36)"/><ellipse cx="9.47" cy="656.3" rx="1.8" ry="1.15" transform="rotate(136 9.47 656.3)"/><ellipse cx="39.18" cy="675.38" rx="2.22" ry="1.44" transform="rotate(61 39.18 675.38)"/><ellipse cx="18.93" cy="669.73" rx="1.81" ry="1.43" transform="rotate(10 18.93 669.73)"/><ellipse cx="10.03" cy="669.38" rx="2.32" ry="2.14" transform="rotate(35 10.03 669.38)"/><ellipse cx="51.6" cy="683.56" rx="2.03" ry="1.54" transform="rotate(0 51.6 683.56)"/><ellipse cx="54.4" cy="673.02" rx="1.92" ry="1.79" transform="rotate(117 54.4 673.02)"/><ellipse cx="51.8" cy="668.51" rx="2.18" ry="1.35" transform="rotate(94 51.8 668.51)"/><ellipse cx="27.82" cy="671.53" rx="2.54" ry="1.78" transform="rotate(33 27.82 671.53)"/><ellipse cx="16.64" cy="670.07" rx="1.87" ry="1.63" transform="rotate(75 16.64 670.07)"/><ellipse cx="15.91" cy="665.09" rx="2.19" ry="1.34" transform="rotate(85 15.91 665.09)"/><ellipse cx="8.45" cy="671.03" rx="1.9" ry="1.34" transform="rotate(105 8.45 671.03)"/><ellipse cx="11.51" cy="663.84" rx="2.34" ry="1.88" transform="rotate(59 11.51 663.84)"/><ellipse cx="37.84" cy="680.96" rx="2.02" ry="1.73" transform="rotate(162 37.84 680.96)"/><ellipse cx="21.8" cy="671.82" rx="2.76" ry="2.58" transform="rotate(150 21.8 671.82)"/><ellipse cx="61.85" cy="663.25" rx="1.98" ry="1.31" transform="rotate(3 61.85 663.25)"/><ellipse cx="37.71" cy="675.08" rx="2.58" ry="2.15" transform="rotate(46 37.71 675.08)"/><ellipse cx="23.69" cy="677.16" rx="1.91" ry="1.23" transform="rotate(149 23.69 677.16)"/><ellipse cx="55.32" cy="663.61" rx="1.71" ry="1.24" transform="rotate(28 55.32 663.61)"/><ellipse cx="52.5" cy="669.76" rx="2.22" ry="1.42" transform="rotate(121 52.5 669.76)"/><ellipse cx="20.93" cy="674.39" rx="2.52" ry="1.56" transform="rotate(160 20.93 674.39)"/><ellipse cx="19.06" cy="676.9" rx="2.1" ry="1.43" transform="rotate(8 19.06 676.9)"/><ellipse cx="54.16" cy="671.65" rx="2.85" ry="1.99" transform="rotate(90 54.16 671.65)"/><ellipse cx="61.21" cy="671.32" rx="1.7" ry="1.49" transform="rotate(178 61.21 671.32)"/><ellipse cx="48.31" cy="681.14" rx="2.73" ry="1.91" transform="rotate(77 48.31 681.14)"/><ellipse cx="52.38" cy="666.64" rx="2.72" ry="2.61" transform="rotate(96 52.38 666.64)"/><ellipse cx="65.86" cy="655.43" rx="2.1" ry="1.82" transform="rotate(75 65.86 655.43)"/><ellipse cx="10.79" cy="660.26" rx="2.56" ry="1.7" transform="rotate(28 10.79 660.26)"/><ellipse cx="57.83" cy="682.39" rx="1.86" ry="1.58" transform="rotate(80 57.83 682.39)"/><ellipse cx="13.38" cy="667.01" rx="1.73" ry="1.7" transform="rotate(11 13.38 667.01)"/><ellipse cx="58.7" cy="671.38" rx="2.37" ry="1.58" transform="rotate(50 58.7 671.38)"/><ellipse cx="13.73" cy="678.16" rx="1.93" ry="1.35" transform="rotate(55 13.73 678.16)"/><ellipse cx="57.01" cy="664.97" rx="1.77" ry="1.73" transform="rotate(158 57.01 664.97)"/><ellipse cx="65.58" cy="677.32" rx="2.15" ry="1.88" transform="rotate(46 65.58 677.32)"/><ellipse cx="66.61" cy="674.16" rx="2.78" ry="1.76" transform="rotate(142 66.61 674.16)"/><ellipse cx="36.99" cy="676.56" rx="1.73" ry="1.42" transform="rotate(30 36.99 676.56)"/><ellipse cx="53.73" cy="683.09" rx="2.23" ry="1.98" transform="rotate(0 53.73 683.09)"/><ellipse cx="64.76" cy="681.21" rx="2.12" ry="1.76" transform="rotate(93 64.76 681.21)"/><ellipse cx="66.73" cy="672.75" rx="2.6" ry="2.07" transform="rotate(67 66.73 672.75)"/><ellipse cx="12.01" cy="676.75" rx="1.72" ry="1.32" transform="rotate(80 12.01 676.75)"/><ellipse cx="41.29" cy="664.91" rx="2.05" ry="1.84" transform="rotate(94 41.29 664.91)"/><ellipse cx="25.32" cy="670.54" rx="2.42" ry="1.91" transform="rotate(49 25.32 670.54)"/><ellipse cx="44.73" cy="662.95" rx="2.25" ry="2.03" transform="rotate(161 44.73 662.95)"/><ellipse cx="61.59" cy="673.3" rx="1.79" ry="1.2" transform="rotate(138 61.59 673.3)"/><ellipse cx="39.48" cy="676.23" rx="1.63" ry="1.45" transform="rotate(67 39.48 676.23)"/><ellipse cx="44.08" cy="668.29" rx="2.78" ry="2.61" transform="rotate(144 44.08 668.29)"/><ellipse cx="40.06" cy="658.89" rx="2.21" ry="1.82" transform="rotate(163 40.06 658.89)"/><ellipse cx="48.01" cy="683.47" rx="2.8" ry="2.39" transform="rotate(101 48.01 683.47)"/><ellipse cx="11.32" cy="657.43" rx="2.84" ry="1.97" transform="rotate(47 11.32 657.43)"/><ellipse cx="14.08" cy="655.45" rx="2.77" ry="1.85" transform="rotate(148 14.08 655.45)"/><ellipse cx="12.95" cy="680.5" rx="2.69" ry="2.13" transform="rotate(145 12.95 680.5)"/><ellipse cx="31.64" cy="669.2" rx="2.15" ry="1.33" transform="rotate(42 31.64 669.2)"/><ellipse cx="16.63" cy="678.82" rx="2.03" ry="1.73" transform="rotate(42 16.63 678.82)"/><ellipse cx="32.04" cy="681.01" rx="1.98" ry="1.72" transform="rotate(52 32.04 681.01)"/><ellipse cx="46.44" cy="669.89" rx="1.64" ry="1.63" transform="rotate(10 46.44 669.89)"/><ellipse cx="12.93" cy="661.44" rx="2.06" ry="1.86" transform="rotate(134 12.93 661.44)"/><ellipse cx="22.45" cy="676.54" rx="2.58" ry="2.31" transform="rotate(147 22.45 676.54)"/><ellipse cx="24.15" cy="667.07" rx="2.1" ry="1.91" transform="rotate(111 24.15 667.07)"/><ellipse cx="64.46" cy="676.16" rx="1.77" ry="1.32" transform="rotate(72 64.46 676.16)"/><ellipse cx="34.59" cy="680.91" rx="1.63" ry="1.15" transform="rotate(170 34.59 680.91)"/><ellipse cx="12.42" cy="671.58" rx="1.75" ry="1.57" transform="rotate(19 12.42 671.58)"/><ellipse cx="39.59" cy="681.3" rx="2.22" ry="1.77" transform="rotate(132 39.59 681.3)"/><ellipse cx="65.83" cy="681.03" rx="2.19" ry="1.68" transform="rotate(58 65.83 681.03)"/><ellipse cx="21.56" cy="668.96" rx="1.53" ry="1.31" transform="rotate(51 21.56 668.96)"/><ellipse cx="43.65" cy="662.13" rx="2.29" ry="2.23" transform="rotate(72 43.65 662.13)"/><ellipse cx="58.08" cy="669.65" rx="2.78" ry="2.65" transform="rotate(9 58.08 669.65)"/><ellipse cx="49.02" cy="670.28" rx="1.84" ry="1.46" transform="rotate(98 49.02 670.28)"/><ellipse cx="66.66" cy="662.73" rx="1.88" ry="1.14" transform="rotate(32 66.66 662.73)"/><ellipse cx="58.85" cy="668.72" rx="2.46" ry="1.73" transform="rotate(81 58.85 668.72)"/><ellipse cx="23.67" cy="671.5" rx="2.04" ry="1.65" transform="rotate(6 23.67 671.5)"/><ellipse cx="49.41" cy="665.97" rx="2.61" ry="1.93" transform="rotate(121 49.41 665.97)"/><ellipse cx="36.32" cy="676.69" rx="1.6" ry="1.58" transform="rotate(87 36.32 676.69)"/><ellipse cx="46.18" cy="679.79" rx="1.73" ry="1.41" transform="rotate(122 46.18 679.79)"/><ellipse cx="66.49" cy="679.1" rx="1.6" ry="1.08" transform="rotate(10 66.49 679.1)"/><ellipse cx="16.21" cy="676.8" rx="2.31" ry="1.82" transform="rotate(163 16.21 676.8)"/><ellipse cx="64.21" cy="671.91" rx="1.94" ry="1.83" transform="rotate(33 64.21 671.91)"/><ellipse cx="60.12" cy="673.32" rx="2.72" ry="1.67" transform="rotate(68 60.12 673.32)"/><ellipse cx="40.32" cy="670.7" rx="1.81" ry="1.52" transform="rotate(86 40.32 670.7)"/><ellipse cx="39.3" cy="670.09" rx="2.23" ry="1.72" transform="rotate(165 39.3 670.09)"/><ellipse cx="15.35" cy="675.64" rx="1.87" ry="1.35" transform="rotate(172 15.35 675.64)"/><ellipse cx="34.4" cy="682.69" rx="2.7" ry="2.01" transform="rotate(123 34.4 682.69)"/><ellipse cx="62.07" cy="673.17" rx="2.04" ry="1.48" transform="rotate(50 62.07 673.17)"/><ellipse cx="48.39" cy="667.2" rx="2.34" ry="1.42" transform="rotate(168 48.39 667.2)"/><ellipse cx="34.61" cy="667" rx="2.67" ry="2.33" transform="rotate(18 34.61 667)"/><ellipse cx="66.13" cy="657.61" rx="1.72" ry="1.17" transform="rotate(113 66.13 657.61)"/><ellipse cx="48.91" cy="675.88" rx="1.78" ry="1.62" transform="rotate(0 48.91 675.88)"/><ellipse cx="67.06" cy="666.42" rx="1.63" ry="1.1" transform="rotate(91 67.06 666.42)"/><ellipse cx="43.27" cy="664.71" rx="2.26" ry="1.73" transform="rotate(164 43.27 664.71)"/><ellipse cx="13.63" cy="674.94" rx="1.51" ry="1.51" transform="rotate(86 13.63 674.94)"/><ellipse cx="59.69" cy="661.02" rx="2.42" ry="2.24" transform="rotate(88 59.69 661.02)"/><ellipse cx="12.69" cy="666.63" rx="2.4" ry="2.3" transform="rotate(18 12.69 666.63)"/><ellipse cx="37.83" cy="678.45" rx="1.75" ry="1.25" transform="rotate(78 37.83 678.45)"/><ellipse cx="18.68" cy="674.29" rx="1.71" ry="1.44" transform="rotate(5 18.68 674.29)"/><ellipse cx="47.01" cy="673.69" rx="2.61" ry="2.6" transform="rotate(59 47.01 673.69)"/><ellipse cx="13.05" cy="667.35" rx="2.13" ry="1.89" transform="rotate(31 13.05 667.35)"/><ellipse cx="62.99" cy="680.31" rx="2.63" ry="1.89" transform="rotate(30 62.99 680.31)"/><ellipse cx="44.89" cy="679.38" rx="2.77" ry="2.51" transform="rotate(141 44.89 679.38)"/><ellipse cx="44.51" cy="678.04" rx="1.67" ry="1.15" transform="rotate(155 44.51 678.04)"/><ellipse cx="62.4" cy="681.86" rx="2.11" ry="2.11" transform="rotate(63 62.4 681.86)"/><ellipse cx="38.73" cy="673.36" rx="2.63" ry="1.78" transform="rotate(34 38.73 673.36)"/><ellipse cx="24.35" cy="676.9" rx="1.7" ry="1.18" transform="rotate(38 24.35 676.9)"/><ellipse cx="65.27" cy="650.09" rx="2.57" ry="1.73" transform="rotate(94 65.27 650.09)"/><ellipse cx="43.86" cy="662.42" rx="2.8" ry="2.46" transform="rotate(138 43.86 662.42)"/><ellipse cx="9.54" cy="664.08" rx="2.79" ry="2.45" transform="rotate(119 9.54 664.08)"/><ellipse cx="25.58" cy="682.17" rx="1.95" ry="1.89" transform="rotate(116 25.58 682.17)"/><ellipse cx="66.56" cy="668.12" rx="2.07" ry="1.6" transform="rotate(40 66.56 668.12)"/><ellipse cx="16.8" cy="679.76" rx="1.65" ry="1.12" transform="rotate(151 16.8 679.76)"/><ellipse cx="48.59" cy="667.31" rx="2.61" ry="1.73" transform="rotate(17 48.59 667.31)"/><ellipse cx="66.01" cy="681.34" rx="2.13" ry="1.35" transform="rotate(127 66.01 681.34)"/><ellipse cx="52.72" cy="677.01" rx="2.53" ry="2.38" transform="rotate(77 52.72 677.01)"/><ellipse cx="21.62" cy="677.45" rx="1.51" ry="1.39" transform="rotate(72 21.62 677.45)"/><ellipse cx="37.23" cy="659.87" rx="2.16" ry="1.78" transform="rotate(173 37.23 659.87)"/><ellipse cx="59.12" cy="672.28" rx="2.85" ry="2.38" transform="rotate(170 59.12 672.28)"/><ellipse cx="10.37" cy="676.32" rx="1.7" ry="1.43" transform="rotate(137 10.37 676.32)"/><ellipse cx="62.78" cy="677.6" rx="2.58" ry="1.79" transform="rotate(74 62.78 677.6)"/><ellipse cx="21.13" cy="678.94" rx="2.59" ry="1.8" transform="rotate(12 21.13 678.94)"/><ellipse cx="61.01" cy="659.05" rx="2.7" ry="1.7" transform="rotate(119 61.01 659.05)"/><ellipse cx="49.27" cy="675.82" rx="1.73" ry="1.08" transform="rotate(104 49.27 675.82)"/><ellipse cx="11.48" cy="655.34" rx="2.79" ry="1.82" transform="rotate(25 11.48 655.34)"/><ellipse cx="49.74" cy="682.5" rx="1.72" ry="1.61" transform="rotate(158 49.74 682.5)"/><ellipse cx="67.39" cy="669.03" rx="2.85" ry="1.74" transform="rotate(14 67.39 669.03)"/><ellipse cx="11.7" cy="674.02" rx="1.57" ry="1.22" transform="rotate(118 11.7 674.02)"/><ellipse cx="40.77" cy="673.91" rx="2.1" ry="1.9" transform="rotate(39 40.77 673.91)"/></g>
<path d="M8.64,616.12l-0.27,10.11M38.06,639.68l-3.58,8.33M16.6,652.88l0.28,8.67M48.51,610.16l2.13,4.43M24.28,661.25l1.49,9.81M30.67,608.11l-1.32,4.83M59.18,629.64l-3.32,11.32M65.2,627.74l-0.91,11.27M10.97,651.45l4.41,8.4M14.96,650.6l1.41,8.91M64.31,636.23l-3.58,9.3M22.97,617.31l-0.71,9.89M57.53,610.15l2.17,6.26M67.12,616.72l-2.84,6.27M22.46,633.81l1.64,6.79M15.99,650.67l2.7,6.31M65.77,649.21l-0.65,6.7M43.61,606.87l2.68,9.94M61.09,655.08l2.82,9.88M61.12,620.2l-2.4,9.64M43.32,653.08l4.82,10.52M59.76,638.39l1.93,5.33M58.24,621.76l0.67,4.24M64.34,619.85l-1.26,9.86M47.4,635.11l1.99,8.67M53.16,613.41l0.62,11.26M14.6,680.63l-3.59,10.76M18.38,664.23l0.42,4.56M61.51,603.52l-0.56,8.41M67.43,623.3l-3.31,7.51M27.75,636.78l-0.27,9.99M47.27,620.82l-2.53,9.68M44.73,625.48l0.96,3.91M37.64,648.62l-1.9,4.28M51.26,658.81l-3.75,9.46M54.53,646.04l0.44,6.73M23.76,660.01l-1.44,8.27M15.87,683.43l-2.23,9.66M31.74,649.73l0.8,4.82M8.53,621.23l2.09,6.59M61.9,629.05l-2,6.72M49.1,650.03l-2.69,5.91M13.12,681.45l-0.14,8.88M16.89,627.41l-2.03,6.17M13.75,683.67l1.66,9.31M11.55,628.67l-3.1,6.56M42.97,623.49l2.2,9.48M53.27,610.67l2.59,7.9M16.42,626.38l3.6,6.86M54.57,652.44l-1.68,4.25M53.62,638.86l-0.15,5.56M38.2,609.21l-0.04,5.44M26.18,634.59l-2.17,5.56M50.48,610.94l1.55,5.44M33.39,636.3l2.18,6.59M14.9,607.98l-0.76,9.7M23.97,624.95l-1.91,11.71M49.49,627.75l3.9,10.39M35.31,635.38l2.78,7.08M29.79,629.05l2.67,7.3M31.53,653.65l-2.51,10.62M52.45,623.89l-0.41,4.58M27.49,659.34l-1.83,4.47M24.21,607.14l0.12,5.63M10.67,669.83l-0.55,5.8" stroke="#2b98b4" stroke-width="1.0" stroke-linecap="round" fill="none" opacity="0.9"/>
</g>
<path d="M38.1,601 C33.62,603.78 36.27,612.73 35.5,617.7 C34.73,622.67 34.27,627.08 33.5,630.8 C32.73,634.52 32.1,637.37 30.9,640 C29.7,642.63 28.17,644.83 26.3,646.6 C24.43,648.37 21.9,649.5 19.7,650.6 C17.5,651.7 14.85,652.33 13.1,653.2 C11.35,654.07 10.07,654.48 9.2,655.8 C8.33,657.12 8.02,659.13 7.9,661.1 C7.78,663.07 7.85,665.63 8.5,667.6 C9.15,669.57 10.37,671.37 11.8,672.9 C13.23,674.43 15.12,675.48 17.1,676.8 C19.08,678.12 21.3,679.7 23.7,680.8 C26.1,681.9 28.88,682.85 31.5,683.4 C34.12,683.95 36.33,684.32 39.4,684.1 C42.47,683.88 47.05,683.1 49.9,682.1 C52.75,681.1 54.3,679.85 56.5,678.1 C58.7,676.35 61.35,674.22 63.1,671.6 C64.85,668.98 66.23,665.9 67,662.4 C67.77,658.9 68.03,654.33 67.7,650.6 C67.37,646.87 65.98,643.3 65,640 C64.02,636.7 62.45,634.52 61.8,630.8 C61.15,627.08 61,622.67 61.1,617.7 C61.2,612.73 66.23,603.78 62.4,601 C58.57,598.22 42.58,598.22 38.1,601Z" fill="none" stroke="#2aa0b8" stroke-width="4.8" clip-path="url(#cp2)"/>
<g clip-path="url(#cp2)">
<path d="M62.6,600 C62.43,602.95 61.65,612.57 61.6,617.7 C61.55,622.83 61.68,627.08 62.3,630.8 C62.92,634.52 64.4,636.7 65.3,640 C66.2,643.3 67.3,648.83 67.7,650.6" fill="none" stroke="#2aa0b8" stroke-width="4"/>
</g>
<path d="M19.7,653.2 C19.92,654.3 19.9,658.27 21,659.8 C22.1,661.33 24.33,661.87 26.3,662.4 C28.27,662.93 30.83,663.88 32.8,663 C34.77,662.12 36.78,658.95 38.1,657.1 C39.42,655.25 39.82,652.55 40.7,651.9 C41.58,651.25 42.52,651.67 43.4,653.2 C44.28,654.73 44.92,659.47 46,661.1 C47.08,662.73 48.15,663.22 49.9,663 C51.65,662.78 54.3,661.43 56.5,659.8 C58.7,658.17 61.68,655.4 63.1,653.2 C64.52,651 64.68,647.7 65,646.6" fill="none" stroke="#efe6ee" stroke-width="1.6" stroke-linecap="round"/>
<path d="M19.7,653.2 C19.92,654.3 19.9,658.27 21,659.8 C22.1,661.33 24.33,661.87 26.3,662.4 C28.27,662.93 30.83,663.88 32.8,663 C34.77,662.12 36.78,658.95 38.1,657.1 C39.42,655.25 39.82,652.55 40.7,651.9 C41.58,651.25 42.52,651.67 43.4,653.2 C44.28,654.73 44.92,659.47 46,661.1 C47.08,662.73 48.15,663.22 49.9,663 C51.65,662.78 54.3,661.43 56.5,659.8 C58.7,658.17 61.68,655.4 63.1,653.2 C64.52,651 64.68,647.7 65,646.6" fill="none" stroke="#ffffff" stroke-width="0.8" stroke-linecap="round"/>
</g>
<rect x="2.6" y="601.9" width="85" height="85.1" fill="none" stroke="#a0a0a0" stroke-width="0.8"/>
<line x1="70.3" y1="682.1" x2="83" y2="682.1" stroke="#000" stroke-width="1.3"/>
<line x1="5.1" y1="684" x2="12.6" y2="684" stroke="#999" stroke-width="0.4"/>
<g clip-path="url(#cp3)">
<rect x="187.8" y="601.9" width="85.1" height="84.6" fill="#fff" stroke="none" stroke-width="1"/>
<circle cx="229.86" cy="642.81" r="0.35" fill="#e79ab0" stroke="none" stroke-width="1"/>
<circle cx="251.62" cy="668.43" r="0.35" fill="#e79ab0" stroke="none" stroke-width="1"/>
<circle cx="217.59" cy="647.74" r="0.35" fill="#e79ab0" stroke="none" stroke-width="1"/>
<circle cx="239.91" cy="660.66" r="0.35" fill="#e79ab0" stroke="none" stroke-width="1"/>
<circle cx="265.96" cy="663.38" r="0.35" fill="#e79ab0" stroke="none" stroke-width="1"/>
<circle cx="259.93" cy="657.04" r="0.35" fill="#e79ab0" stroke="none" stroke-width="1"/>
<circle cx="211.67" cy="627.37" r="0.35" fill="#e79ab0" stroke="none" stroke-width="1"/>
<circle cx="191.33" cy="644.48" r="0.35" fill="#e79ab0" stroke="none" stroke-width="1"/>
<circle cx="203.32" cy="627.37" r="0.35" fill="#e79ab0" stroke="none" stroke-width="1"/>
<circle cx="202.64" cy="605.46" r="0.35" fill="#e79ab0" stroke="none" stroke-width="1"/>
<circle cx="251.58" cy="630.35" r="0.35" fill="#e79ab0" stroke="none" stroke-width="1"/>
<circle cx="242.46" cy="676.05" r="0.35" fill="#e79ab0" stroke="none" stroke-width="1"/>
<circle cx="213.77" cy="650.3" r="0.35" fill="#e79ab0" stroke="none" stroke-width="1"/>
<circle cx="200.96" cy="614.12" r="0.35" fill="#e79ab0" stroke="none" stroke-width="1"/>
<path d="M188.5,652 C189.5,650.33 192.92,649.5 195,650 C197.08,650.5 199.75,652.5 201,655 C202.25,657.5 202.67,662.17 202.5,665 C202.33,667.83 201.58,671.5 200,672 C198.42,672.5 194.83,670 193,668 C191.17,666 189.75,662.67 189,660 C188.25,657.33 187.5,653.67 188.5,652Z" fill="#c9dbe6" stroke="none" stroke-width="1" fill-opacity="0.8"/>
<path d="M223.1,601 C219.12,603.78 222.45,613.38 221.8,617.7 C221.15,622.02 220.73,623.83 219.2,626.9 C217.67,629.97 214.8,633.47 212.6,636.1 C210.4,638.73 207.75,640.73 206,642.7 C204.25,644.67 202.97,645.93 202.1,647.9 C201.23,649.87 200.92,651.87 200.8,654.5 C200.68,657.13 200.97,660.85 201.4,663.7 C201.83,666.55 202.42,669.2 203.4,671.6 C204.38,674 205.55,676.13 207.3,678.1 C209.05,680.07 211.05,682.18 213.9,683.4 C216.75,684.62 220.9,685.4 224.4,685.4 C227.9,685.4 231.83,684.38 234.9,683.4 C237.97,682.42 240.38,681.47 242.8,679.5 C245.22,677.53 247.75,674.67 249.4,671.6 C251.05,668.53 252.05,664.6 252.7,661.1 C253.35,657.6 253.52,653.88 253.3,650.6 C253.08,647.32 252.38,644.25 251.4,641.4 C250.42,638.55 248.4,636.35 247.4,633.5 C246.4,630.65 245.83,627.58 245.4,624.3 C244.97,621.02 244.75,617.68 244.8,613.8 C244.85,609.92 249.32,603.13 245.7,601 C242.08,598.87 227.08,598.22 223.1,601Z" fill="#2aa0b8" stroke="none" stroke-width="1"/>
<g clip-path="url(#cp4)"><rect x="187.8" y="601.9" width="85.1" height="84.6" filter="url(#nBone)"/></g>
<g clip-path="url(#cp4)">
<polygon points="182.8,652.5 204.7,654.5 208.7,659.8 213.9,661.1 220.5,655.8 224.4,653.2 228.4,658.4 232.3,661.1 240.2,658.4 248.1,650.6 250.7,647.9 277.9,647.9 277.9,691.5 182.8,691.5" fill="#2aa0b8" stroke="none" stroke-width="1"/>
<g fill="#da6c87"><ellipse cx="235.02" cy="676.18" rx="2.77" ry="1.87" transform="rotate(166 235.02 676.18)"/><ellipse cx="248.32" cy="680.63" rx="1.95" ry="1.71" transform="rotate(123 248.32 680.63)"/><ellipse cx="224.18" cy="680.64" rx="2.39" ry="1.72" transform="rotate(79 224.18 680.64)"/><ellipse cx="228.01" cy="676.86" rx="2.54" ry="2.4" transform="rotate(173 228.01 676.86)"/><ellipse cx="223.17" cy="672.45" rx="2.8" ry="2.3" transform="rotate(174 223.17 672.45)"/><ellipse cx="213.69" cy="673.97" rx="1.95" ry="1.86" transform="rotate(54 213.69 673.97)"/><ellipse cx="221.22" cy="659.02" rx="2.73" ry="2.04" transform="rotate(160 221.22 659.02)"/><ellipse cx="229.1" cy="667.27" rx="1.93" ry="1.21" transform="rotate(123 229.1 667.27)"/><ellipse cx="220.74" cy="664.97" rx="2.01" ry="1.74" transform="rotate(62 220.74 664.97)"/><ellipse cx="247.47" cy="660.26" rx="1.73" ry="1.38" transform="rotate(156 247.47 660.26)"/><ellipse cx="226.18" cy="659.31" rx="2.74" ry="2.66" transform="rotate(72 226.18 659.31)"/><ellipse cx="246.82" cy="682.17" rx="2.17" ry="1.32" transform="rotate(101 246.82 682.17)"/><ellipse cx="217.48" cy="681.77" rx="1.73" ry="1.71" transform="rotate(81 217.48 681.77)"/><ellipse cx="233.54" cy="665.2" rx="2.85" ry="2.66" transform="rotate(111 233.54 665.2)"/><ellipse cx="246.04" cy="656.44" rx="1.55" ry="1.39" transform="rotate(3 246.04 656.44)"/><ellipse cx="210.7" cy="681.19" rx="1.6" ry="1.55" transform="rotate(2 210.7 681.19)"/><ellipse cx="230.92" cy="685.03" rx="2.45" ry="1.48" transform="rotate(39 230.92 685.03)"/><ellipse cx="222.5" cy="678.36" rx="2.64" ry="1.73" transform="rotate(10 222.5 678.36)"/><ellipse cx="205.46" cy="676.34" rx="2.2" ry="1.59" transform="rotate(7 205.46 676.34)"/><ellipse cx="240.42" cy="671.52" rx="1.52" ry="0.92" transform="rotate(74 240.42 671.52)"/><ellipse cx="216.89" cy="671.37" rx="1.51" ry="1.18" transform="rotate(98 216.89 671.37)"/><ellipse cx="230.86" cy="681.81" rx="1.88" ry="1.7" transform="rotate(73 230.86 681.81)"/><ellipse cx="209.17" cy="683.57" rx="1.98" ry="1.28" transform="rotate(48 209.17 683.57)"/><ellipse cx="234.66" cy="681.72" rx="1.96" ry="1.81" transform="rotate(10 234.66 681.72)"/><ellipse cx="245.54" cy="657.77" rx="1.68" ry="1.12" transform="rotate(98 245.54 657.77)"/><ellipse cx="233.16" cy="664.46" rx="2.68" ry="2.14" transform="rotate(51 233.16 664.46)"/><ellipse cx="246.65" cy="670.09" rx="2.7" ry="2.39" transform="rotate(72 246.65 670.09)"/><ellipse cx="239.14" cy="677.59" rx="2.38" ry="1.65" transform="rotate(171 239.14 677.59)"/><ellipse cx="248.64" cy="671.42" rx="1.68" ry="1.17" transform="rotate(34 248.64 671.42)"/><ellipse cx="208.51" cy="678.35" rx="2.2" ry="2.02" transform="rotate(101 208.51 678.35)"/><ellipse cx="252.92" cy="676.9" rx="2.24" ry="1.69" transform="rotate(150 252.92 676.9)"/><ellipse cx="205.87" cy="682.58" rx="2.12" ry="1.45" transform="rotate(79 205.87 682.58)"/><ellipse cx="210.25" cy="683.77" rx="2.11" ry="1.77" transform="rotate(173 210.25 683.77)"/><ellipse cx="216.79" cy="673.46" rx="1.92" ry="1.79" transform="rotate(79 216.79 673.46)"/><ellipse cx="246.78" cy="668.89" rx="1.77" ry="1.38" transform="rotate(62 246.78 668.89)"/><ellipse cx="252.6" cy="664.14" rx="2.86" ry="2.39" transform="rotate(166 252.6 664.14)"/><ellipse cx="244.58" cy="657.12" rx="2.62" ry="1.94" transform="rotate(15 244.58 657.12)"/><ellipse cx="225.42" cy="672.2" rx="1.63" ry="1.27" transform="rotate(77 225.42 672.2)"/><ellipse cx="251.25" cy="661.36" rx="1.68" ry="1.13" transform="rotate(95 251.25 661.36)"/><ellipse cx="219.23" cy="664.31" rx="1.9" ry="1.65" transform="rotate(0 219.23 664.31)"/><ellipse cx="246.35" cy="679.34" rx="2.42" ry="1.85" transform="rotate(42 246.35 679.34)"/><ellipse cx="251.48" cy="674.26" rx="2.33" ry="1.8" transform="rotate(51 251.48 674.26)"/><ellipse cx="243.49" cy="677.33" rx="2.33" ry="1.92" transform="rotate(110 243.49 677.33)"/><ellipse cx="220.76" cy="668.73" rx="2.01" ry="1.87" transform="rotate(22 220.76 668.73)"/><ellipse cx="247.88" cy="677.82" rx="2.47" ry="1.97" transform="rotate(73 247.88 677.82)"/><ellipse cx="244.43" cy="663.38" rx="2.22" ry="1.91" transform="rotate(37 244.43 663.38)"/><ellipse cx="252.8" cy="655.93" rx="2.08" ry="1.9" transform="rotate(15 252.8 655.93)"/><ellipse cx="250.41" cy="683.56" rx="2.06" ry="1.88" transform="rotate(126 250.41 683.56)"/><ellipse cx="252.1" cy="651.26" rx="2.69" ry="2.18" transform="rotate(110 252.1 651.26)"/><ellipse cx="220.77" cy="660.29" rx="2.65" ry="2.57" transform="rotate(44 220.77 660.29)"/><ellipse cx="242.7" cy="680.85" rx="1.81" ry="1.58" transform="rotate(21 242.7 680.85)"/><ellipse cx="244.27" cy="669.88" rx="2.61" ry="2.58" transform="rotate(5 244.27 669.88)"/><ellipse cx="250.78" cy="669.28" rx="2.06" ry="1.39" transform="rotate(109 250.78 669.28)"/><ellipse cx="247.57" cy="670.15" rx="2.02" ry="1.76" transform="rotate(114 247.57 670.15)"/><ellipse cx="240.47" cy="678.6" rx="1.97" ry="1.38" transform="rotate(35 240.47 678.6)"/><ellipse cx="223.38" cy="684.67" rx="1.72" ry="1.57" transform="rotate(5 223.38 684.67)"/><ellipse cx="214.33" cy="684.54" rx="2.59" ry="1.69" transform="rotate(89 214.33 684.54)"/><ellipse cx="202.33" cy="667.2" rx="2.32" ry="2.08" transform="rotate(20 202.33 667.2)"/><ellipse cx="206.5" cy="664.15" rx="1.63" ry="1.2" transform="rotate(84 206.5 664.15)"/><ellipse cx="236.13" cy="669.51" rx="2.53" ry="2.21" transform="rotate(100 236.13 669.51)"/><ellipse cx="248.52" cy="679.86" rx="1.74" ry="1.09" transform="rotate(130 248.52 679.86)"/><ellipse cx="225.23" cy="666.61" rx="2.12" ry="1.62" transform="rotate(94 225.23 666.61)"/><ellipse cx="230.24" cy="674.64" rx="2.85" ry="2.55" transform="rotate(118 230.24 674.64)"/><ellipse cx="218.32" cy="683.95" rx="2.06" ry="1.73" transform="rotate(1 218.32 683.95)"/><ellipse cx="214.61" cy="671.7" rx="2.03" ry="1.96" transform="rotate(71 214.61 671.7)"/><ellipse cx="228.25" cy="682.97" rx="1.72" ry="1.55" transform="rotate(124 228.25 682.97)"/><ellipse cx="250.22" cy="681.65" rx="1.99" ry="1.82" transform="rotate(165 250.22 681.65)"/><ellipse cx="232.4" cy="666.86" rx="2.08" ry="1.83" transform="rotate(127 232.4 666.86)"/><ellipse cx="220.43" cy="677.81" rx="1.7" ry="1.42" transform="rotate(57 220.43 677.81)"/><ellipse cx="225.23" cy="677.83" rx="1.89" ry="1.27" transform="rotate(149 225.23 677.83)"/><ellipse cx="226.09" cy="675.68" rx="2.29" ry="2.19" transform="rotate(61 226.09 675.68)"/><ellipse cx="204.82" cy="668.5" rx="1.84" ry="1.11" transform="rotate(83 204.82 668.5)"/><ellipse cx="228.39" cy="661.28" rx="1.6" ry="1" transform="rotate(0 228.39 661.28)"/><ellipse cx="214.32" cy="685.35" rx="1.67" ry="1.43" transform="rotate(117 214.32 685.35)"/><ellipse cx="224.4" cy="670.76" rx="1.9" ry="1.84" transform="rotate(41 224.4 670.76)"/><ellipse cx="246.34" cy="673.04" rx="2.8" ry="2.23" transform="rotate(4 246.34 673.04)"/><ellipse cx="244.07" cy="665.7" rx="2.52" ry="2.12" transform="rotate(102 244.07 665.7)"/><ellipse cx="212.57" cy="677.82" rx="2.63" ry="1.78" transform="rotate(118 212.57 677.82)"/><ellipse cx="226.74" cy="685.21" rx="1.9" ry="1.17" transform="rotate(100 226.74 685.21)"/><ellipse cx="249.52" cy="661.61" rx="2.8" ry="2.76" transform="rotate(180 249.52 661.61)"/><ellipse cx="238.83" cy="663.92" rx="2.55" ry="2.35" transform="rotate(28 238.83 663.92)"/><ellipse cx="239.43" cy="670.67" rx="1.97" ry="1.74" transform="rotate(107 239.43 670.67)"/><ellipse cx="248.12" cy="668.94" rx="2.25" ry="1.83" transform="rotate(52 248.12 668.94)"/><ellipse cx="203.79" cy="674.96" rx="2.23" ry="1.61" transform="rotate(66 203.79 674.96)"/><ellipse cx="232.59" cy="668.08" rx="2.16" ry="1.37" transform="rotate(110 232.59 668.08)"/><ellipse cx="250.23" cy="653.78" rx="2" ry="1.85" transform="rotate(118 250.23 653.78)"/><ellipse cx="220.03" cy="682.64" rx="2.05" ry="1.69" transform="rotate(27 220.03 682.64)"/><ellipse cx="218.87" cy="667.12" rx="2.23" ry="2.05" transform="rotate(169 218.87 667.12)"/><ellipse cx="233.11" cy="675.45" rx="1.64" ry="1.31" transform="rotate(166 233.11 675.45)"/><ellipse cx="216.76" cy="663.68" rx="1.67" ry="1.34" transform="rotate(41 216.76 663.68)"/><ellipse cx="243.37" cy="681.62" rx="1.97" ry="1.38" transform="rotate(170 243.37 681.62)"/><ellipse cx="242.6" cy="659.58" rx="2.5" ry="2.22" transform="rotate(52 242.6 659.58)"/><ellipse cx="236" cy="669.53" rx="2.29" ry="1.87" transform="rotate(59 236 669.53)"/><ellipse cx="215.25" cy="670.75" rx="2.14" ry="1.41" transform="rotate(152 215.25 670.75)"/><ellipse cx="220.48" cy="661.52" rx="2.88" ry="2.27" transform="rotate(77 220.48 661.52)"/><ellipse cx="243.71" cy="677.87" rx="2.8" ry="2.61" transform="rotate(16 243.71 677.87)"/><ellipse cx="203.64" cy="684.67" rx="2.6" ry="2.14" transform="rotate(132 203.64 684.67)"/><ellipse cx="231.8" cy="682.65" rx="2.87" ry="2.31" transform="rotate(30 231.8 682.65)"/><ellipse cx="208.82" cy="664.31" rx="2.14" ry="1.78" transform="rotate(130 208.82 664.31)"/><ellipse cx="218.98" cy="669.14" rx="2.25" ry="1.6" transform="rotate(165 218.98 669.14)"/><ellipse cx="221.79" cy="684.05" rx="2.56" ry="1.76" transform="rotate(130 221.79 684.05)"/><ellipse cx="231.28" cy="673.67" rx="1.98" ry="1.94" transform="rotate(178 231.28 673.67)"/><ellipse cx="250.09" cy="670.23" rx="1.72" ry="1.21" transform="rotate(50 250.09 670.23)"/><ellipse cx="204.87" cy="665.62" rx="2.42" ry="1.62" transform="rotate(159 204.87 665.62)"/><ellipse cx="246.66" cy="667.01" rx="1.75" ry="1.41" transform="rotate(174 246.66 667.01)"/><ellipse cx="231.18" cy="670.57" rx="1.65" ry="1.24" transform="rotate(14 231.18 670.57)"/><ellipse cx="232.48" cy="668.24" rx="1.88" ry="1.63" transform="rotate(54 232.48 668.24)"/><ellipse cx="250.84" cy="655.95" rx="2.85" ry="2.3" transform="rotate(31 250.84 655.95)"/><ellipse cx="237.09" cy="671.03" rx="1.82" ry="1.77" transform="rotate(50 237.09 671.03)"/><ellipse cx="227.86" cy="675.44" rx="1.71" ry="1.63" transform="rotate(126 227.86 675.44)"/><ellipse cx="249.54" cy="659.67" rx="2.42" ry="1.81" transform="rotate(62 249.54 659.67)"/><ellipse cx="224.29" cy="681.38" rx="2.52" ry="1.53" transform="rotate(168 224.29 681.38)"/><ellipse cx="237.79" cy="681.05" rx="2.48" ry="1.92" transform="rotate(127 237.79 681.05)"/><ellipse cx="202.91" cy="664.12" rx="1.52" ry="0.97" transform="rotate(12 202.91 664.12)"/><ellipse cx="229.5" cy="665.34" rx="2.89" ry="2.54" transform="rotate(121 229.5 665.34)"/><ellipse cx="205.63" cy="679.42" rx="1.68" ry="1.6" transform="rotate(3 205.63 679.42)"/><ellipse cx="210.72" cy="669.24" rx="1.59" ry="1.58" transform="rotate(5 210.72 669.24)"/><ellipse cx="232.68" cy="674.22" rx="2.18" ry="1.33" transform="rotate(38 232.68 674.22)"/><ellipse cx="206.53" cy="682.17" rx="1.78" ry="1.26" transform="rotate(28 206.53 682.17)"/><ellipse cx="229" cy="668.71" rx="2.51" ry="1.74" transform="rotate(18 229 668.71)"/><ellipse cx="213.67" cy="668.76" rx="2.22" ry="1.58" transform="rotate(175 213.67 668.76)"/><ellipse cx="230.52" cy="671.8" rx="2.06" ry="1.31" transform="rotate(117 230.52 671.8)"/><ellipse cx="227.61" cy="681.61" rx="1.54" ry="1.07" transform="rotate(110 227.61 681.61)"/><ellipse cx="214.83" cy="679.2" rx="1.58" ry="1.17" transform="rotate(25 214.83 679.2)"/><ellipse cx="243.21" cy="668.07" rx="1.55" ry="1.32" transform="rotate(21 243.21 668.07)"/><ellipse cx="233.93" cy="681.64" rx="1.93" ry="1.29" transform="rotate(102 233.93 681.64)"/><ellipse cx="225.93" cy="670.92" rx="1.73" ry="1.36" transform="rotate(144 225.93 670.92)"/><ellipse cx="252.87" cy="675.7" rx="2.86" ry="2.09" transform="rotate(81 252.87 675.7)"/><ellipse cx="240.51" cy="670.64" rx="2.49" ry="2.36" transform="rotate(34 240.51 670.64)"/><ellipse cx="230.88" cy="669.48" rx="1.9" ry="1.63" transform="rotate(100 230.88 669.48)"/><ellipse cx="224.53" cy="663.27" rx="1.99" ry="1.44" transform="rotate(62 224.53 663.27)"/><ellipse cx="226.6" cy="681.86" rx="2.6" ry="2.54" transform="rotate(29 226.6 681.86)"/><ellipse cx="226.57" cy="666.9" rx="2.72" ry="2.26" transform="rotate(73 226.57 666.9)"/><ellipse cx="244.81" cy="675.86" rx="2.05" ry="1.28" transform="rotate(79 244.81 675.86)"/><ellipse cx="201.57" cy="663.96" rx="1.69" ry="1.03" transform="rotate(93 201.57 663.96)"/><ellipse cx="222.87" cy="680.68" rx="2.16" ry="1.63" transform="rotate(127 222.87 680.68)"/><ellipse cx="207.83" cy="670.9" rx="2.06" ry="1.95" transform="rotate(95 207.83 670.9)"/><ellipse cx="212.24" cy="674.96" rx="1.67" ry="1.15" transform="rotate(81 212.24 674.96)"/><ellipse cx="246.37" cy="662.21" rx="1.97" ry="1.18" transform="rotate(114 246.37 662.21)"/><ellipse cx="213.8" cy="674.37" rx="2.68" ry="2.5" transform="rotate(154 213.8 674.37)"/><ellipse cx="247.18" cy="684.14" rx="2.11" ry="1.71" transform="rotate(52 247.18 684.14)"/><ellipse cx="233.97" cy="671" rx="2.1" ry="1.82" transform="rotate(3 233.97 671)"/><ellipse cx="234.93" cy="663.93" rx="2.07" ry="1.78" transform="rotate(14 234.93 663.93)"/><ellipse cx="248.96" cy="667.31" rx="1.94" ry="1.26" transform="rotate(97 248.96 667.31)"/><ellipse cx="246.29" cy="665.26" rx="2.78" ry="2.07" transform="rotate(37 246.29 665.26)"/><ellipse cx="250.06" cy="654.67" rx="2.2" ry="1.75" transform="rotate(113 250.06 654.67)"/><ellipse cx="209.55" cy="675.35" rx="2.44" ry="2.43" transform="rotate(104 209.55 675.35)"/><ellipse cx="203.62" cy="670.84" rx="2.4" ry="2.08" transform="rotate(156 203.62 670.84)"/><ellipse cx="210.79" cy="678.52" rx="1.71" ry="1.15" transform="rotate(30 210.79 678.52)"/><ellipse cx="251.64" cy="680.82" rx="2.48" ry="2.41" transform="rotate(124 251.64 680.82)"/><ellipse cx="244.77" cy="659.88" rx="1.85" ry="1.78" transform="rotate(157 244.77 659.88)"/><ellipse cx="205.01" cy="670" rx="2.13" ry="1.79" transform="rotate(175 205.01 670)"/><ellipse cx="214.65" cy="679.97" rx="1.95" ry="1.21" transform="rotate(17 214.65 679.97)"/><ellipse cx="203.37" cy="661.15" rx="1.95" ry="1.91" transform="rotate(121 203.37 661.15)"/><ellipse cx="241.45" cy="662.5" rx="2.89" ry="2.02" transform="rotate(153 241.45 662.5)"/><ellipse cx="234.79" cy="680.15" rx="1.58" ry="1.35" transform="rotate(136 234.79 680.15)"/><ellipse cx="251.24" cy="680.53" rx="1.7" ry="1.18" transform="rotate(50 251.24 680.53)"/><ellipse cx="205.69" cy="674.52" rx="2.75" ry="2.61" transform="rotate(98 205.69 674.52)"/><ellipse cx="247.58" cy="669.01" rx="2.5" ry="2.15" transform="rotate(20 247.58 669.01)"/><ellipse cx="248.77" cy="684.53" rx="2.02" ry="1.4" transform="rotate(156 248.77 684.53)"/><ellipse cx="219.45" cy="661.56" rx="2.23" ry="1.76" transform="rotate(84 219.45 661.56)"/><ellipse cx="225.41" cy="684.57" rx="1.77" ry="1.08" transform="rotate(141 225.41 684.57)"/><ellipse cx="241.91" cy="666.44" rx="2.59" ry="2.27" transform="rotate(1 241.91 666.44)"/><ellipse cx="230.87" cy="669.2" rx="2.23" ry="1.46" transform="rotate(46 230.87 669.2)"/><ellipse cx="217.89" cy="682.98" rx="2.24" ry="2.11" transform="rotate(44 217.89 682.98)"/></g>
<path d="M251.48,606.04l1.42,8.91M243.6,639.51l-1.62,5.68M201.6,665.94l0.73,4.9M208.38,623.61l-3.34,10.36M233.88,630.93l1.27,5.53M204.73,639.64l-1.55,10.36M233.53,656.07l-1.29,4.6M202.6,619.17l0.75,7.52M204.44,656.53l-0.86,6.71M247.67,623.52l1.96,11.69M214.03,617.83l3,6.3M231.7,631.85l-0.58,9.13M240.05,607.34l-3.89,8.91M245.43,621.1l0.91,9.21M220.34,629.52l-1.03,7.51M219.97,637.88l0.77,6.58M220.73,648.52l2.46,6.53M235.19,631.96l-1.81,6.03M224.97,639.38l1.34,7.88M233.87,643.22l1.79,5.88M223.94,612.53l-4.06,10.36M252.01,607.38l3.9,11.06M231.08,623l-1.96,8.53M213.29,624.92l-1.89,11.55M228.83,652.48l0.02,4.18M247.74,645.93l1.4,4.48M251.15,656.86l1.25,5.46M230.74,641.31l3.26,11.14M204.25,617.24l2.44,7.73M238.6,619.41l2.78,9.35M248.31,641.8l-3.47,8.07M226.07,623.72l1.84,6.73M245.26,628l1.3,3.96M235.77,614.4l-2.95,10.25M217.43,644.62l-1.47,4.05M212.67,622.57l-3.68,10.57M224.47,610.59l-2.04,6.05M240.92,654.41l-0.89,8.08M228.94,638.43l-2.4,11.09M202.26,620.59l-1.71,10.6M230.77,636.69l2.37,8.79M203.52,621.84l-2.58,7.83M232.4,615.73l4.42,9.65M207.35,644.33l-0.65,7.28M218.42,649.24l-0.36,4.78M232.19,624.01l-0.21,7.45M205,613.78l-2.62,8.88M216.34,635.06l1.23,4.26M215.26,630.89l0.47,4.75M242.28,638.72l4.31,8.16M224.19,645.53l1.53,10.75M216.29,611l-0.48,9.58M212.85,645.37l-1.08,4.8M245.2,629.2l-0.01,6.31M241.99,652.5l0.59,6.69M241.49,627.69l1.13,4.11M233.62,623.05l0.96,6.53M217.78,623.96l1.78,11.35M203.63,639.77l-2.68,9.98M202.64,669.99l1.67,8.97M208.9,625.94l1,4.64M213.94,618.84l-4.09,7.93M219.43,627.93l0.91,10.75M216.56,644.02l-1.32,4.49" stroke="#2b98b4" stroke-width="1.0" stroke-linecap="round" fill="none" opacity="0.9"/>
</g>
<path d="M223.1,601 C219.12,603.78 222.45,613.38 221.8,617.7 C221.15,622.02 220.73,623.83 219.2,626.9 C217.67,629.97 214.8,633.47 212.6,636.1 C210.4,638.73 207.75,640.73 206,642.7 C204.25,644.67 202.97,645.93 202.1,647.9 C201.23,649.87 200.92,651.87 200.8,654.5 C200.68,657.13 200.97,660.85 201.4,663.7 C201.83,666.55 202.42,669.2 203.4,671.6 C204.38,674 205.55,676.13 207.3,678.1 C209.05,680.07 211.05,682.18 213.9,683.4 C216.75,684.62 220.9,685.4 224.4,685.4 C227.9,685.4 231.83,684.38 234.9,683.4 C237.97,682.42 240.38,681.47 242.8,679.5 C245.22,677.53 247.75,674.67 249.4,671.6 C251.05,668.53 252.05,664.6 252.7,661.1 C253.35,657.6 253.52,653.88 253.3,650.6 C253.08,647.32 252.38,644.25 251.4,641.4 C250.42,638.55 248.4,636.35 247.4,633.5 C246.4,630.65 245.83,627.58 245.4,624.3 C244.97,621.02 244.75,617.68 244.8,613.8 C244.85,609.92 249.32,603.13 245.7,601 C242.08,598.87 227.08,598.22 223.1,601Z" fill="none" stroke="#2aa0b8" stroke-width="4.8" clip-path="url(#cp4)"/>
<g clip-path="url(#cp4)">
<path d="M245.5,600 C245.4,602.3 244.88,609.75 244.9,613.8 C244.92,617.85 245.15,621.02 245.6,624.3 C246.05,627.58 247.27,631.97 247.6,633.5" fill="none" stroke="#2aa0b8" stroke-width="4"/>
</g>
<path d="M204.7,654.5 C205.37,655.38 207.17,658.7 208.7,659.8 C210.23,660.9 211.93,661.77 213.9,661.1 C215.87,660.43 218.75,657.12 220.5,655.8 C222.25,654.48 223.08,652.77 224.4,653.2 C225.72,653.63 227.08,657.08 228.4,658.4 C229.72,659.72 230.33,661.1 232.3,661.1 C234.27,661.1 237.57,660.15 240.2,658.4 C242.83,656.65 246.35,652.35 248.1,650.6 C249.85,648.85 250.27,648.35 250.7,647.9" fill="none" stroke="#efe6ee" stroke-width="1.6" stroke-linecap="round"/>
<path d="M204.7,654.5 C205.37,655.38 207.17,658.7 208.7,659.8 C210.23,660.9 211.93,661.77 213.9,661.1 C215.87,660.43 218.75,657.12 220.5,655.8 C222.25,654.48 223.08,652.77 224.4,653.2 C225.72,653.63 227.08,657.08 228.4,658.4 C229.72,659.72 230.33,661.1 232.3,661.1 C234.27,661.1 237.57,660.15 240.2,658.4 C242.83,656.65 246.35,652.35 248.1,650.6 C249.85,648.85 250.27,648.35 250.7,647.9" fill="none" stroke="#ffffff" stroke-width="0.8" stroke-linecap="round"/>
</g>
<rect x="187.8" y="601.9" width="85.1" height="84.6" fill="none" stroke="#a0a0a0" stroke-width="0.8"/>
<line x1="255.3" y1="682.1" x2="268" y2="682.1" stroke="#000" stroke-width="1.3"/>
<line x1="190.3" y1="683.5" x2="197.8" y2="683.5" stroke="#999" stroke-width="0.4"/>
<g clip-path="url(#cp5)">
<g clip-path="url(#cp6)"><rect x="90.9" y="601.9" width="85.4" height="85.1" filter="url(#nPink1)"/></g>
<rect x="90.9" y="601.9" width="85.4" height="85.1" fill="url(#cellR1)" stroke="none" stroke-width="1" opacity="0.9"/>
<path d="M166,608 C167,606.17 170.17,604.33 172,604 C173.83,603.67 176.17,603 177,606 C177.83,609 178,619.67 177,622 C176,624.33 172.83,621.17 171,620 C169.17,618.83 166.83,617 166,615 C165.17,613 165,609.83 166,608Z" fill="#f6e6ea" stroke="none" stroke-width="1" fill-opacity="0.85"/>
<path d="M112,603 C114,602.08 122,602 125,602.5 C128,603 130.5,604.92 130,606 C129.5,607.08 124.83,608.67 122,609 C119.17,609.33 114.67,609 113,608 C111.33,607 110,603.92 112,603Z" fill="#f4dde3" stroke="none" stroke-width="1" fill-opacity="0.7"/>
<g clip-path="url(#cp7)"><g transform="rotate(70 133.6 644.45)"><rect x="69.55" y="580.62" width="128.1" height="127.65" filter="url(#nTeal1)"/></g></g>
</g>
<rect x="90.9" y="601.9" width="85.4" height="85.1" fill="none" stroke="#a0a0a0" stroke-width="0.8"/>
<text x="92.6" y="612.6" font-size="8" text-anchor="start" fill="#000" stroke="#000" stroke-width="0.1">Insert</text>
<line x1="163.3" y1="682.3" x2="172.3" y2="682.3" stroke="#000" stroke-width="1.2"/>
<g clip-path="url(#cp8)">
<g clip-path="url(#cp9)"><rect x="275.9" y="601.9" width="85.4" height="84.9" filter="url(#nPink2)"/></g>
<rect x="275.9" y="601.9" width="85.4" height="84.9" fill="url(#cellR2)" stroke="none" stroke-width="1" opacity="0.92"/>
<g clip-path="url(#cp10)"><g transform="rotate(-35 318.6 644.35)"><rect x="254.55" y="580.67" width="128.1" height="127.35" filter="url(#nTeal2)"/></g></g>
<g clip-path="url(#cp11)"><g transform="rotate(-35 318.6 644.35)"><rect x="254.55" y="580.67" width="128.1" height="127.35" filter="url(#nTeal2)"/></g></g>
</g>
<rect x="275.9" y="601.9" width="85.4" height="84.9" fill="none" stroke="#a0a0a0" stroke-width="0.8"/>
<path d="M279,622 C280,623 282.83,625 285,628 C287.17,631 290.17,636 292,640 C293.83,644 295.33,650 296,652" fill="none" stroke="#f6dce4" stroke-width="1" opacity="0.8" stroke-linecap="round"/>
<path d="M300,652 C301.67,651.33 307,650 310,648 C313,646 316.67,641.33 318,640" fill="none" stroke="#f6dce4" stroke-width="0.8" opacity="0.8" stroke-linecap="round"/>
<path d="M345,606 C346.17,607 349.33,610 352,612 C354.67,614 359.5,617 361,618" fill="none" stroke="#f6dce4" stroke-width="0.9" opacity="0.8" stroke-linecap="round"/>
<path d="M330,668 C331.67,669.33 336.33,674 340,676 C343.67,678 350,679.33 352,680" fill="none" stroke="#f6dce4" stroke-width="0.8" opacity="0.8" stroke-linecap="round"/>
<path d="M283,676 C283.67,677.67 286.33,684.33 287,686" fill="none" stroke="#f6dce4" stroke-width="0.8" opacity="0.8" stroke-linecap="round"/>
<text x="277.5" y="612.6" font-size="8" text-anchor="start" fill="#000" stroke="#000" stroke-width="0.1">Insert</text>
<line x1="348.5" y1="682.3" x2="357.5" y2="682.3" stroke="#000" stroke-width="1.2"/>
<text x="364.8" y="587.8" font-size="10.5" text-anchor="start" font-weight="bold" fill="#000" stroke="#000" stroke-width="0.1">i</text>
<rect x="379.8" y="582" width="8.2" height="8.2" fill="#fff" stroke="#2a8cf0" stroke-width="1.2"/>
<rect x="423.9" y="582" width="8.2" height="8.2" fill="#fff" stroke="#f56c6c" stroke-width="1.2"/>
<text x="390.2" y="589.3" font-size="8" text-anchor="start" font-style="italic" stroke="#000" stroke-width="0.1">Ripk4<tspan font-size="4.96" dy="-3.04">fl/fl</tspan></text>
<text x="434.3" y="589.3" font-size="8" text-anchor="start" font-style="italic" stroke="#000" stroke-width="0.1">Ubc<tspan font-size="4.96" dy="-3.04">Cre/ERT2</tspan><tspan dy="3.04"> Ripk4</tspan><tspan font-size="4.96" dy="-3.04">fl/fl</tspan></text>
<line x1="396.5" y1="604.3" x2="396.5" y2="684.6" stroke="#555" stroke-width="0.8"/>
<line x1="393" y1="684.6" x2="449.6" y2="684.6" stroke="#555" stroke-width="0.8"/>
<line x1="393" y1="684.6" x2="396.5" y2="684.6" stroke="#555" stroke-width="0.8"/>
<text x="392.3" y="687.5" font-size="8" text-anchor="end" fill="#111" stroke="#111" stroke-width="0.1">0</text>
<line x1="393" y1="657.83" x2="396.5" y2="657.83" stroke="#555" stroke-width="0.8"/>
<text x="392.3" y="660.73" font-size="8" text-anchor="end" fill="#111" stroke="#111" stroke-width="0.1">5</text>
<line x1="393" y1="631.07" x2="396.5" y2="631.07" stroke="#555" stroke-width="0.8"/>
<text x="392.3" y="633.97" font-size="8" text-anchor="end" fill="#111" stroke="#111" stroke-width="0.1">10</text>
<line x1="393" y1="604.3" x2="396.5" y2="604.3" stroke="#555" stroke-width="0.8"/>
<text x="392.3" y="607.2" font-size="8" text-anchor="end" fill="#111" stroke="#111" stroke-width="0.1">15</text>
<line x1="411.5" y1="628.4" x2="411.5" y2="621.4" stroke="#2a8cf0" stroke-width="1"/>
<line x1="407.58" y1="621.4" x2="415.42" y2="621.4" stroke="#2a8cf0" stroke-width="1"/>
<rect x="404.5" y="628.4" width="14" height="56.2" fill="none" stroke="#2a8cf0" stroke-width="1.1"/>
<line x1="411.5" y1="684.6" x2="411.5" y2="687.6" stroke="#555" stroke-width="0.8"/>
<circle cx="411.5" cy="622.7" r="1.25" fill="#fff" stroke="#2a8cf0" stroke-width="0.75"/>
<circle cx="411.5" cy="626.6" r="1.6" fill="#2a8cf0" stroke="none" stroke-width="1"/>
<circle cx="411.5" cy="636.1" r="1.25" fill="#fff" stroke="#2a8cf0" stroke-width="0.75"/>
<line x1="434.6" y1="649.2" x2="434.6" y2="638.3" stroke="#f56c6c" stroke-width="1"/>
<line x1="430.62" y1="638.3" x2="438.58" y2="638.3" stroke="#f56c6c" stroke-width="1"/>
<rect x="427.5" y="649.2" width="14.2" height="35.4" fill="none" stroke="#f56c6c" stroke-width="1.1"/>
<line x1="434.6" y1="684.6" x2="434.6" y2="687.6" stroke="#555" stroke-width="0.8"/>
<circle cx="434.6" cy="638.5" r="1.25" fill="#fff" stroke="#f56c6c" stroke-width="0.75"/>
<circle cx="434.6" cy="649.4" r="1.6" fill="#f56c6c" stroke="none" stroke-width="1"/>
<circle cx="434.6" cy="658.4" r="1.25" fill="#fff" stroke="#f56c6c" stroke-width="0.75"/>
<text x="0" y="0" font-size="8" text-anchor="middle" transform="translate(378.8,644.45) rotate(-90)" stroke="#000" stroke-width="0.1">BV/TV (%)</text>
<text x="423.3" y="601.6" font-size="8" text-anchor="middle" stroke="#000" stroke-width="0.1"><tspan font-style="italic">P</tspan>=0.0435</text>
<line x1="474.8" y1="604.3" x2="474.8" y2="684.6" stroke="#555" stroke-width="0.8"/>
<line x1="471.3" y1="684.6" x2="527.4" y2="684.6" stroke="#555" stroke-width="0.8"/>
<line x1="471.3" y1="684.6" x2="474.8" y2="684.6" stroke="#555" stroke-width="0.8"/>
<text x="470.6" y="687.5" font-size="8" text-anchor="end" fill="#111" stroke="#111" stroke-width="0.1">0</text>
<line x1="471.3" y1="664.52" x2="474.8" y2="664.52" stroke="#555" stroke-width="0.8"/>
<text x="470.6" y="667.42" font-size="8" text-anchor="end" fill="#111" stroke="#111" stroke-width="0.1">2</text>
<line x1="471.3" y1="644.45" x2="474.8" y2="644.45" stroke="#555" stroke-width="0.8"/>
<text x="470.6" y="647.35" font-size="8" text-anchor="end" fill="#111" stroke="#111" stroke-width="0.1">4</text>
<line x1="471.3" y1="624.38" x2="474.8" y2="624.38" stroke="#555" stroke-width="0.8"/>
<text x="470.6" y="627.27" font-size="8" text-anchor="end" fill="#111" stroke="#111" stroke-width="0.1">6</text>
<line x1="471.3" y1="604.3" x2="474.8" y2="604.3" stroke="#555" stroke-width="0.8"/>
<text x="470.6" y="607.2" font-size="8" text-anchor="end" fill="#111" stroke="#111" stroke-width="0.1">8</text>
<line x1="489.9" y1="623.5" x2="489.9" y2="619.6" stroke="#2a8cf0" stroke-width="1"/>
<line x1="485.7" y1="619.6" x2="494.1" y2="619.6" stroke="#2a8cf0" stroke-width="1"/>
<rect x="482.4" y="623.5" width="15" height="61.1" fill="none" stroke="#2a8cf0" stroke-width="1.1"/>
<line x1="489.9" y1="684.6" x2="489.9" y2="687.6" stroke="#555" stroke-width="0.8"/>
<circle cx="489.9" cy="620.3" r="1.6" fill="#2a8cf0" stroke="none" stroke-width="1"/>
<circle cx="489.9" cy="622.8" r="1.25" fill="#fff" stroke="#2a8cf0" stroke-width="0.75"/>
<circle cx="489.9" cy="626" r="1.25" fill="#fff" stroke="#2a8cf0" stroke-width="0.75"/>
<line x1="513.15" y1="633.2" x2="513.15" y2="628.4" stroke="#f56c6c" stroke-width="1"/>
<line x1="508.87" y1="628.4" x2="517.43" y2="628.4" stroke="#f56c6c" stroke-width="1"/>
<rect x="505.5" y="633.2" width="15.3" height="51.4" fill="none" stroke="#f56c6c" stroke-width="1.1"/>
<line x1="513.15" y1="684.6" x2="513.15" y2="687.6" stroke="#555" stroke-width="0.8"/>
<circle cx="513.15" cy="628.6" r="1.25" fill="#fff" stroke="#f56c6c" stroke-width="0.75"/>
<circle cx="513.15" cy="633.2" r="1.25" fill="#fff" stroke="#f56c6c" stroke-width="0.75"/>
<circle cx="513.15" cy="636.8" r="1.25" fill="#fff" stroke="#f56c6c" stroke-width="0.75"/>
<text x="0" y="0" font-size="8" text-anchor="middle" transform="translate(463.1,644.45) rotate(-90)" stroke="#000" stroke-width="0.1">Tb.N (1/mm)</text>
<text x="502.8" y="601.6" font-size="8" text-anchor="middle" stroke="#000" stroke-width="0.1"><tspan font-style="italic">P</tspan>=0.0349</text>
<text x="528.8" y="587.8" font-size="10.5" text-anchor="start" font-weight="bold" fill="#000" stroke="#000" stroke-width="0.1">j</text>
<rect x="547.2" y="582" width="8.2" height="8.2" fill="#fff" stroke="#2a8cf0" stroke-width="1.2"/>
<rect x="591" y="582" width="8.2" height="8.2" fill="#fff" stroke="#f56c6c" stroke-width="1.2"/>
<text x="557.6" y="589.3" font-size="8" text-anchor="start" font-style="italic" stroke="#000" stroke-width="0.1">Ripk4<tspan font-size="4.96" dy="-3.04">fl/fl</tspan></text>
<text x="601.4" y="589.3" font-size="8" text-anchor="start" font-style="italic" stroke="#000" stroke-width="0.1">Ubc<tspan font-size="4.96" dy="-3.04">Cre/ERT2</tspan><tspan dy="3.04"> Ripk4</tspan><tspan font-size="4.96" dy="-3.04">fl/fl</tspan></text>
<line x1="557.1" y1="604.3" x2="557.1" y2="684.6" stroke="#555" stroke-width="0.8"/>
<line x1="553.6" y1="684.6" x2="610.4" y2="684.6" stroke="#555" stroke-width="0.8"/>
<line x1="553.6" y1="684.6" x2="557.1" y2="684.6" stroke="#555" stroke-width="0.8"/>
<text x="552.9" y="687.5" font-size="8" text-anchor="end" fill="#111" stroke="#111" stroke-width="0.1">0</text>
<line x1="553.6" y1="657.83" x2="557.1" y2="657.83" stroke="#555" stroke-width="0.8"/>
<text x="552.9" y="660.73" font-size="8" text-anchor="end" fill="#111" stroke="#111" stroke-width="0.1">50</text>
<line x1="553.6" y1="631.07" x2="557.1" y2="631.07" stroke="#555" stroke-width="0.8"/>
<text x="552.9" y="633.97" font-size="8" text-anchor="end" fill="#111" stroke="#111" stroke-width="0.1">100</text>
<line x1="553.6" y1="604.3" x2="557.1" y2="604.3" stroke="#555" stroke-width="0.8"/>
<text x="552.9" y="607.2" font-size="8" text-anchor="end" fill="#111" stroke="#111" stroke-width="0.1">150</text>
<line x1="572.4" y1="622.1" x2="572.4" y2="618" stroke="#2a8cf0" stroke-width="1"/>
<line x1="568.31" y1="618" x2="576.49" y2="618" stroke="#2a8cf0" stroke-width="1"/>
<rect x="565.1" y="622.1" width="14.6" height="62.5" fill="none" stroke="#2a8cf0" stroke-width="1.1"/>
<line x1="572.4" y1="684.6" x2="572.4" y2="687.6" stroke="#555" stroke-width="0.8"/>
<circle cx="572.4" cy="618.6" r="1.25" fill="#fff" stroke="#2a8cf0" stroke-width="0.75"/>
<circle cx="572.4" cy="622.2" r="1.6" fill="#2a8cf0" stroke="none" stroke-width="1"/>
<circle cx="572.4" cy="626.6" r="1.25" fill="#fff" stroke="#2a8cf0" stroke-width="0.75"/>
<line x1="595.8" y1="631.3" x2="595.8" y2="628.4" stroke="#f56c6c" stroke-width="1"/>
<line x1="591.49" y1="628.4" x2="600.11" y2="628.4" stroke="#f56c6c" stroke-width="1"/>
<rect x="588.1" y="631.3" width="15.4" height="53.3" fill="none" stroke="#f56c6c" stroke-width="1.1"/>
<line x1="595.8" y1="684.6" x2="595.8" y2="687.6" stroke="#555" stroke-width="0.8"/>
<circle cx="592.3" cy="631.5" r="1.25" fill="#fff" stroke="#f56c6c" stroke-width="0.75"/>
<circle cx="595.8" cy="628.6" r="1.25" fill="#fff" stroke="#f56c6c" stroke-width="0.75"/>
<circle cx="599.3" cy="631.5" r="1.25" fill="#fff" stroke="#f56c6c" stroke-width="0.75"/>
<text x="0" y="0" font-size="8" text-anchor="middle" transform="translate(537,644.45) rotate(-90)" stroke="#000" stroke-width="0.1">N.Ob/BS (/mm)</text>
<text x="587" y="601.6" font-size="8" text-anchor="middle" stroke="#000" stroke-width="0.1"><tspan font-style="italic">P</tspan>=0.0224</text>
<line x1="631.6" y1="603.4" x2="631.6" y2="684.5" stroke="#555" stroke-width="0.8"/>
<line x1="628.1" y1="684.5" x2="686" y2="684.5" stroke="#555" stroke-width="0.8"/>
<line x1="628.1" y1="684.5" x2="631.6" y2="684.5" stroke="#555" stroke-width="0.8"/>
<text x="627.4" y="687.4" font-size="8" text-anchor="end" fill="#111" stroke="#111" stroke-width="0.1">0</text>
<line x1="628.1" y1="657.47" x2="631.6" y2="657.47" stroke="#555" stroke-width="0.8"/>
<text x="627.4" y="660.37" font-size="8" text-anchor="end" fill="#111" stroke="#111" stroke-width="0.1">20</text>
<line x1="628.1" y1="630.43" x2="631.6" y2="630.43" stroke="#555" stroke-width="0.8"/>
<text x="627.4" y="633.33" font-size="8" text-anchor="end" fill="#111" stroke="#111" stroke-width="0.1">40</text>
<line x1="628.1" y1="603.4" x2="631.6" y2="603.4" stroke="#555" stroke-width="0.8"/>
<text x="627.4" y="606.3" font-size="8" text-anchor="end" fill="#111" stroke="#111" stroke-width="0.1">60</text>
<line x1="647.05" y1="620.4" x2="647.05" y2="616.3" stroke="#2a8cf0" stroke-width="1"/>
<line x1="642.82" y1="616.3" x2="651.28" y2="616.3" stroke="#2a8cf0" stroke-width="1"/>
<rect x="639.5" y="620.4" width="15.1" height="64.1" fill="none" stroke="#2a8cf0" stroke-width="1.1"/>
<line x1="647.05" y1="684.5" x2="647.05" y2="687.5" stroke="#555" stroke-width="0.8"/>
<circle cx="647.05" cy="616.6" r="1.25" fill="#fff" stroke="#2a8cf0" stroke-width="0.75"/>
<circle cx="644.45" cy="622.6" r="1.25" fill="#fff" stroke="#2a8cf0" stroke-width="0.75"/>
<circle cx="649.65" cy="621.6" r="1.25" fill="#fff" stroke="#2a8cf0" stroke-width="0.75"/>
<line x1="669.6" y1="630.4" x2="669.6" y2="626.4" stroke="#f56c6c" stroke-width="1"/>
<line x1="665.51" y1="626.4" x2="673.69" y2="626.4" stroke="#f56c6c" stroke-width="1"/>
<rect x="662.3" y="630.4" width="14.6" height="54.1" fill="none" stroke="#f56c6c" stroke-width="1.1"/>
<line x1="669.6" y1="684.5" x2="669.6" y2="687.5" stroke="#555" stroke-width="0.8"/>
<circle cx="667.2" cy="627" r="1.25" fill="#fff" stroke="#f56c6c" stroke-width="0.75"/>
<circle cx="669.6" cy="627.6" r="1.25" fill="#fff" stroke="#f56c6c" stroke-width="0.75"/>
<circle cx="672" cy="627" r="1.25" fill="#fff" stroke="#f56c6c" stroke-width="0.75"/>
<circle cx="669.6" cy="634" r="1.25" fill="#fff" stroke="#f56c6c" stroke-width="0.75"/>
<text x="0" y="0" font-size="8" text-anchor="middle" transform="translate(614.1,643.95) rotate(-90)" stroke="#000" stroke-width="0.1">OS/BS (%)</text>
<text x="662" y="601.6" font-size="8" text-anchor="middle" stroke="#000" stroke-width="0.1"><tspan font-style="italic">P</tspan>=0.0311</text>
<text x="138.4" y="727.6" font-size="10.5" text-anchor="start" font-weight="bold" fill="#000" stroke="#000" stroke-width="0.1">l</text>
<rect x="165.3" y="722.6" width="8.2" height="8.2" fill="#fff" stroke="#2a8cf0" stroke-width="1.2"/>
<rect x="209.5" y="722.6" width="8.2" height="8.2" fill="#fff" stroke="#f56c6c" stroke-width="1.2"/>
<text x="175.7" y="729.9" font-size="8" text-anchor="start" font-style="italic" stroke="#000" stroke-width="0.1">Ripk4<tspan font-size="4.96" dy="-3.04">fl/fl</tspan></text>
<text x="219.9" y="729.9" font-size="8" text-anchor="start" font-style="italic" stroke="#000" stroke-width="0.1">Ubc<tspan font-size="4.96" dy="-3.04">Cre/ERT2</tspan><tspan dy="3.04"> Ripk4</tspan><tspan font-size="4.96" dy="-3.04">fl/fl</tspan></text>
<line x1="176" y1="743.9" x2="176" y2="824.7" stroke="#555" stroke-width="0.8"/>
<line x1="172.5" y1="824.7" x2="229.7" y2="824.7" stroke="#555" stroke-width="0.8"/>
<line x1="172.5" y1="824.7" x2="176" y2="824.7" stroke="#555" stroke-width="0.8"/>
<text x="171.8" y="827.6" font-size="8" text-anchor="end" fill="#111" stroke="#111" stroke-width="0.1">0.0</text>
<line x1="172.5" y1="804.5" x2="176" y2="804.5" stroke="#555" stroke-width="0.8"/>
<text x="171.8" y="807.4" font-size="8" text-anchor="end" fill="#111" stroke="#111" stroke-width="0.1">0.5</text>
<line x1="172.5" y1="784.3" x2="176" y2="784.3" stroke="#555" stroke-width="0.8"/>
<text x="171.8" y="787.2" font-size="8" text-anchor="end" fill="#111" stroke="#111" stroke-width="0.1">1.0</text>
<line x1="172.5" y1="764.1" x2="176" y2="764.1" stroke="#555" stroke-width="0.8"/>
<text x="171.8" y="767" font-size="8" text-anchor="end" fill="#111" stroke="#111" stroke-width="0.1">1.5</text>
<line x1="172.5" y1="743.9" x2="176" y2="743.9" stroke="#555" stroke-width="0.8"/>
<text x="171.8" y="746.8" font-size="8" text-anchor="end" fill="#111" stroke="#111" stroke-width="0.1">2.0</text>
<line x1="191.45" y1="768.3" x2="191.45" y2="749.5" stroke="#2a8cf0" stroke-width="1"/>
<line x1="187.28" y1="749.5" x2="195.62" y2="749.5" stroke="#2a8cf0" stroke-width="1"/>
<rect x="184" y="768.3" width="14.9" height="56.4" fill="none" stroke="#2a8cf0" stroke-width="1.1"/>
<line x1="191.45" y1="824.7" x2="191.45" y2="827.7" stroke="#555" stroke-width="0.8"/>
<circle cx="191.45" cy="749.5" r="1.25" fill="#fff" stroke="#2a8cf0" stroke-width="0.75"/>
<circle cx="191.45" cy="757.6" r="1.6" fill="#2a8cf0" stroke="none" stroke-width="1"/>
<circle cx="191.45" cy="774" r="1.25" fill="#fff" stroke="#2a8cf0" stroke-width="0.75"/>
<circle cx="191.45" cy="790.8" r="1.25" fill="#fff" stroke="#2a8cf0" stroke-width="0.75"/>
<line x1="214.5" y1="805.3" x2="214.5" y2="800.1" stroke="#f56c6c" stroke-width="1"/>
<line x1="210.3" y1="800.1" x2="218.7" y2="800.1" stroke="#f56c6c" stroke-width="1"/>
<rect x="207" y="805.3" width="15" height="19.4" fill="none" stroke="#f56c6c" stroke-width="1.1"/>
<line x1="214.5" y1="824.7" x2="214.5" y2="827.7" stroke="#555" stroke-width="0.8"/>
<circle cx="214.5" cy="798.6" r="1.25" fill="#fff" stroke="#f56c6c" stroke-width="0.75"/>
<circle cx="211.9" cy="807.5" r="1.25" fill="#fff" stroke="#f56c6c" stroke-width="0.75"/>
<circle cx="217.1" cy="807" r="1.25" fill="#fff" stroke="#f56c6c" stroke-width="0.75"/>
<text x="0" y="0" font-size="8" text-anchor="middle" transform="translate(155.9,787.2) rotate(-90)" stroke="#000" stroke-width="0.1">BFR/BS (μm<tspan font-size="5" dy="-3">3</tspan><tspan dy="3">/μm</tspan><tspan font-size="5" dy="-3">2</tspan><tspan dy="3">/d)</tspan></text>
<text x="208.1" y="742" font-size="8" text-anchor="middle" stroke="#000" stroke-width="0.1"><tspan font-style="italic">P</tspan>=0.0240</text>
<line x1="266.5" y1="743.9" x2="266.5" y2="824.5" stroke="#555" stroke-width="0.8"/>
<line x1="263" y1="824.5" x2="320.3" y2="824.5" stroke="#555" stroke-width="0.8"/>
<line x1="263" y1="824.5" x2="266.5" y2="824.5" stroke="#555" stroke-width="0.8"/>
<text x="262.3" y="827.4" font-size="8" text-anchor="end" fill="#111" stroke="#111" stroke-width="0.1">0.8</text>
<line x1="263" y1="808.38" x2="266.5" y2="808.38" stroke="#555" stroke-width="0.8"/>
<text x="262.3" y="811.28" font-size="8" text-anchor="end" fill="#111" stroke="#111" stroke-width="0.1">1.0</text>
<line x1="263" y1="792.26" x2="266.5" y2="792.26" stroke="#555" stroke-width="0.8"/>
<text x="262.3" y="795.16" font-size="8" text-anchor="end" fill="#111" stroke="#111" stroke-width="0.1">1.2</text>
<line x1="263" y1="776.14" x2="266.5" y2="776.14" stroke="#555" stroke-width="0.8"/>
<text x="262.3" y="779.04" font-size="8" text-anchor="end" fill="#111" stroke="#111" stroke-width="0.1">1.4</text>
<line x1="263" y1="760.02" x2="266.5" y2="760.02" stroke="#555" stroke-width="0.8"/>
<text x="262.3" y="762.92" font-size="8" text-anchor="end" fill="#111" stroke="#111" stroke-width="0.1">1.6</text>
<line x1="263" y1="743.9" x2="266.5" y2="743.9" stroke="#555" stroke-width="0.8"/>
<text x="262.3" y="746.8" font-size="8" text-anchor="end" fill="#111" stroke="#111" stroke-width="0.1">1.8</text>
<line x1="282" y1="770.7" x2="282" y2="752.7" stroke="#2a8cf0" stroke-width="1"/>
<line x1="277.63" y1="752.7" x2="286.37" y2="752.7" stroke="#2a8cf0" stroke-width="1"/>
<rect x="274.2" y="770.7" width="15.6" height="53.8" fill="none" stroke="#2a8cf0" stroke-width="1.1"/>
<line x1="282" y1="824.5" x2="282" y2="827.5" stroke="#555" stroke-width="0.8"/>
<circle cx="279.5" cy="754" r="1.25" fill="#fff" stroke="#2a8cf0" stroke-width="0.75"/>
<circle cx="284" cy="754" r="1.25" fill="#fff" stroke="#2a8cf0" stroke-width="0.75"/>
<circle cx="282" cy="779.5" r="1.25" fill="#fff" stroke="#2a8cf0" stroke-width="0.75"/>
<circle cx="282" cy="790.5" r="1.25" fill="#fff" stroke="#2a8cf0" stroke-width="0.75"/>
<line x1="305.45" y1="804.1" x2="305.45" y2="792.1" stroke="#f56c6c" stroke-width="1"/>
<line x1="301.17" y1="792.1" x2="309.73" y2="792.1" stroke="#f56c6c" stroke-width="1"/>
<rect x="297.8" y="804.1" width="15.3" height="20.4" fill="none" stroke="#f56c6c" stroke-width="1.1"/>
<line x1="305.45" y1="824.5" x2="305.45" y2="827.5" stroke="#555" stroke-width="0.8"/>
<circle cx="305.45" cy="787" r="1.25" fill="#fff" stroke="#f56c6c" stroke-width="0.75"/>
<circle cx="305.45" cy="803.6" r="1.25" fill="#fff" stroke="#f56c6c" stroke-width="0.75"/>
<circle cx="305.45" cy="809" r="1.25" fill="#fff" stroke="#f56c6c" stroke-width="0.75"/>
<circle cx="305.45" cy="815" r="1.25" fill="#fff" stroke="#f56c6c" stroke-width="0.75"/>
<text x="0" y="0" font-size="8" text-anchor="middle" transform="translate(248.5,784.2) rotate(-90)" stroke="#000" stroke-width="0.1">MAR (μm/d)</text>
<text x="296.5" y="742" font-size="8" text-anchor="middle" stroke="#000" stroke-width="0.1"><tspan font-style="italic">P</tspan>=0.0193</text>
<line x1="357.6" y1="743.9" x2="357.6" y2="824.5" stroke="#555" stroke-width="0.8"/>
<line x1="354.1" y1="824.5" x2="410.9" y2="824.5" stroke="#555" stroke-width="0.8"/>
<line x1="354.1" y1="824.5" x2="357.6" y2="824.5" stroke="#555" stroke-width="0.8"/>
<text x="353.4" y="827.4" font-size="8" text-anchor="end" fill="#111" stroke="#111" stroke-width="0.1">0</text>
<line x1="354.1" y1="804.35" x2="357.6" y2="804.35" stroke="#555" stroke-width="0.8"/>
<text x="353.4" y="807.25" font-size="8" text-anchor="end" fill="#111" stroke="#111" stroke-width="0.1">20</text>
<line x1="354.1" y1="784.2" x2="357.6" y2="784.2" stroke="#555" stroke-width="0.8"/>
<text x="353.4" y="787.1" font-size="8" text-anchor="end" fill="#111" stroke="#111" stroke-width="0.1">40</text>
<line x1="354.1" y1="764.05" x2="357.6" y2="764.05" stroke="#555" stroke-width="0.8"/>
<text x="353.4" y="766.95" font-size="8" text-anchor="end" fill="#111" stroke="#111" stroke-width="0.1">60</text>
<line x1="354.1" y1="743.9" x2="357.6" y2="743.9" stroke="#555" stroke-width="0.8"/>
<text x="353.4" y="746.8" font-size="8" text-anchor="end" fill="#111" stroke="#111" stroke-width="0.1">80</text>
<line x1="372.75" y1="761.9" x2="372.75" y2="751.6" stroke="#2a8cf0" stroke-width="1"/>
<line x1="368.47" y1="751.6" x2="377.03" y2="751.6" stroke="#2a8cf0" stroke-width="1"/>
<rect x="365.1" y="761.9" width="15.3" height="62.6" fill="none" stroke="#2a8cf0" stroke-width="1.1"/>
<line x1="372.75" y1="824.5" x2="372.75" y2="827.5" stroke="#555" stroke-width="0.8"/>
<circle cx="372.75" cy="748" r="1.25" fill="#fff" stroke="#2a8cf0" stroke-width="0.75"/>
<circle cx="372.75" cy="761.2" r="1.6" fill="#2a8cf0" stroke="none" stroke-width="1"/>
<circle cx="370.55" cy="769.3" r="1.25" fill="#fff" stroke="#2a8cf0" stroke-width="0.75"/>
<circle cx="375.35" cy="767.8" r="1.25" fill="#fff" stroke="#2a8cf0" stroke-width="0.75"/>
<line x1="395.85" y1="784.4" x2="395.85" y2="779.5" stroke="#f56c6c" stroke-width="1"/>
<line x1="391.45" y1="779.5" x2="400.25" y2="779.5" stroke="#f56c6c" stroke-width="1"/>
<rect x="388" y="784.4" width="15.7" height="40.1" fill="none" stroke="#f56c6c" stroke-width="1.1"/>
<line x1="395.85" y1="824.5" x2="395.85" y2="827.5" stroke="#555" stroke-width="0.8"/>
<circle cx="393.35" cy="780.2" r="1.25" fill="#fff" stroke="#f56c6c" stroke-width="0.75"/>
<circle cx="398.35" cy="778.6" r="1.6" fill="#f56c6c" stroke="none" stroke-width="1"/>
<circle cx="393.35" cy="788.6" r="1.25" fill="#fff" stroke="#f56c6c" stroke-width="0.75"/>
<circle cx="398.35" cy="788" r="1.25" fill="#fff" stroke="#f56c6c" stroke-width="0.75"/>
<text x="0" y="0" font-size="8" text-anchor="middle" transform="translate(340.4,784.2) rotate(-90)" stroke="#000" stroke-width="0.1">MS/BS (%)</text>
<text x="388.4" y="742" font-size="8" text-anchor="middle" stroke="#000" stroke-width="0.1"><tspan font-style="italic">P</tspan>=0.0069</text>
<text x="491.5" y="867.8" font-size="10.5" text-anchor="start" font-weight="bold" fill="#000" stroke="#000" stroke-width="0.1">p</text>
<rect x="512.7" y="866.3" width="8.2" height="8.2" fill="#fff" stroke="#2a8cf0" stroke-width="1.2"/>
<rect x="556.9" y="866.3" width="8.2" height="8.2" fill="#fff" stroke="#f56c6c" stroke-width="1.2"/>
<text x="523.1" y="873.6" font-size="8" text-anchor="start" font-style="italic" stroke="#000" stroke-width="0.1">Ripk4<tspan font-size="4.96" dy="-3.04">fl/fl</tspan></text>
<text x="567.3" y="873.6" font-size="8" text-anchor="start" font-style="italic" stroke="#000" stroke-width="0.1">Ubc<tspan font-size="4.96" dy="-3.04">Cre/ERT2</tspan><tspan dy="3.04"> Ripk4</tspan><tspan font-size="4.96" dy="-3.04">fl/fl</tspan></text>
<line x1="516.6" y1="895.5" x2="516.6" y2="977" stroke="#555" stroke-width="0.8"/>
<line x1="513.1" y1="977" x2="570.7" y2="977" stroke="#555" stroke-width="0.8"/>
<line x1="513.1" y1="977" x2="516.6" y2="977" stroke="#555" stroke-width="0.8"/>
<text x="512.4" y="979.9" font-size="8" text-anchor="end" fill="#111" stroke="#111" stroke-width="0.1">0</text>
<line x1="513.1" y1="949.83" x2="516.6" y2="949.83" stroke="#555" stroke-width="0.8"/>
<text x="512.4" y="952.73" font-size="8" text-anchor="end" fill="#111" stroke="#111" stroke-width="0.1">4</text>
<line x1="513.1" y1="922.67" x2="516.6" y2="922.67" stroke="#555" stroke-width="0.8"/>
<text x="512.4" y="925.57" font-size="8" text-anchor="end" fill="#111" stroke="#111" stroke-width="0.1">8</text>
<line x1="513.1" y1="895.5" x2="516.6" y2="895.5" stroke="#555" stroke-width="0.8"/>
<text x="512.4" y="898.4" font-size="8" text-anchor="end" fill="#111" stroke="#111" stroke-width="0.1">12</text>
<line x1="531.95" y1="913.1" x2="531.95" y2="900.3" stroke="#2a8cf0" stroke-width="1"/>
<line x1="527.61" y1="900.3" x2="536.29" y2="900.3" stroke="#2a8cf0" stroke-width="1"/>
<rect x="524.2" y="913.1" width="15.5" height="63.9" fill="none" stroke="#2a8cf0" stroke-width="1.1"/>
<line x1="531.95" y1="977" x2="531.95" y2="980" stroke="#555" stroke-width="0.8"/>
<circle cx="531.95" cy="898.5" r="1.25" fill="#fff" stroke="#2a8cf0" stroke-width="0.75"/>
<circle cx="531.95" cy="916.8" r="1.25" fill="#fff" stroke="#2a8cf0" stroke-width="0.75"/>
<circle cx="531.95" cy="923.3" r="1.25" fill="#fff" stroke="#2a8cf0" stroke-width="0.75"/>
<line x1="555.05" y1="916.3" x2="555.05" y2="914.3" stroke="#f56c6c" stroke-width="1"/>
<line x1="550.77" y1="914.3" x2="559.33" y2="914.3" stroke="#f56c6c" stroke-width="1"/>
<rect x="547.4" y="916.3" width="15.3" height="60.7" fill="none" stroke="#f56c6c" stroke-width="1.1"/>
<line x1="555.05" y1="977" x2="555.05" y2="980" stroke="#555" stroke-width="0.8"/>
<circle cx="552.55" cy="914.5" r="1.25" fill="#fff" stroke="#f56c6c" stroke-width="0.75"/>
<circle cx="557.55" cy="914.5" r="1.25" fill="#fff" stroke="#f56c6c" stroke-width="0.75"/>
<circle cx="555.05" cy="918.5" r="1.25" fill="#fff" stroke="#f56c6c" stroke-width="0.75"/>
<text x="0" y="0" font-size="8" text-anchor="middle" transform="translate(501.9,936.25) rotate(-90)" stroke="#000" stroke-width="0.1">N.Oc/BS (/mm)</text>
<text x="546.2" y="892.9" font-size="8" text-anchor="middle" stroke="#000" stroke-width="0.1"><tspan font-style="italic">P</tspan>=0.6806</text>
<line x1="608.7" y1="896.4" x2="608.7" y2="977.4" stroke="#555" stroke-width="0.8"/>
<line x1="605.2" y1="977.4" x2="661.7" y2="977.4" stroke="#555" stroke-width="0.8"/>
<line x1="605.2" y1="977.4" x2="608.7" y2="977.4" stroke="#555" stroke-width="0.8"/>
<text x="604.5" y="980.3" font-size="8" text-anchor="end" fill="#111" stroke="#111" stroke-width="0.1">0</text>
<line x1="605.2" y1="957.15" x2="608.7" y2="957.15" stroke="#555" stroke-width="0.8"/>
<text x="604.5" y="960.05" font-size="8" text-anchor="end" fill="#111" stroke="#111" stroke-width="0.1">4</text>
<line x1="605.2" y1="936.9" x2="608.7" y2="936.9" stroke="#555" stroke-width="0.8"/>
<text x="604.5" y="939.8" font-size="8" text-anchor="end" fill="#111" stroke="#111" stroke-width="0.1">8</text>
<line x1="605.2" y1="916.65" x2="608.7" y2="916.65" stroke="#555" stroke-width="0.8"/>
<text x="604.5" y="919.55" font-size="8" text-anchor="end" fill="#111" stroke="#111" stroke-width="0.1">12</text>
<line x1="605.2" y1="896.4" x2="608.7" y2="896.4" stroke="#555" stroke-width="0.8"/>
<text x="604.5" y="899.3" font-size="8" text-anchor="end" fill="#111" stroke="#111" stroke-width="0.1">16</text>
<line x1="623.95" y1="912.3" x2="623.95" y2="904.8" stroke="#2a8cf0" stroke-width="1"/>
<line x1="619.72" y1="904.8" x2="628.18" y2="904.8" stroke="#2a8cf0" stroke-width="1"/>
<rect x="616.4" y="912.3" width="15.1" height="65.1" fill="none" stroke="#2a8cf0" stroke-width="1.1"/>
<line x1="623.95" y1="977.4" x2="623.95" y2="980.4" stroke="#555" stroke-width="0.8"/>
<circle cx="622.15" cy="907.6" r="1.25" fill="#fff" stroke="#2a8cf0" stroke-width="0.75"/>
<circle cx="625.95" cy="908.5" r="1.25" fill="#fff" stroke="#2a8cf0" stroke-width="0.75"/>
<circle cx="623.95" cy="920.8" r="1.25" fill="#fff" stroke="#2a8cf0" stroke-width="0.75"/>
<line x1="646.85" y1="922.1" x2="646.85" y2="914.4" stroke="#f56c6c" stroke-width="1"/>
<line x1="642.57" y1="914.4" x2="651.13" y2="914.4" stroke="#f56c6c" stroke-width="1"/>
<rect x="639.2" y="922.1" width="15.3" height="55.3" fill="none" stroke="#f56c6c" stroke-width="1.1"/>
<line x1="646.85" y1="977.4" x2="646.85" y2="980.4" stroke="#555" stroke-width="0.8"/>
<circle cx="646.85" cy="914.6" r="1.25" fill="#fff" stroke="#f56c6c" stroke-width="0.75"/>
<circle cx="646.85" cy="920" r="1.6" fill="#f56c6c" stroke="none" stroke-width="1"/>
<circle cx="646.85" cy="929.8" r="1.25" fill="#fff" stroke="#f56c6c" stroke-width="0.75"/>
<text x="0" y="0" font-size="8" text-anchor="middle" transform="translate(593.2,936.9) rotate(-90)" stroke="#000" stroke-width="0.1">Oc.S/BS (%)</text>
<text x="637.3" y="892.9" font-size="8" text-anchor="middle" stroke="#000" stroke-width="0.1"><tspan font-style="italic">P</tspan>=0.1940</text>
<text x="0" y="866.8" font-size="10.5" text-anchor="start" font-weight="bold" fill="#000" stroke="#000" stroke-width="0.1">n</text>
<rect x="48" y="854.2" width="8.2" height="8.2" fill="#fff" stroke="#2a8cf0" stroke-width="1.2"/>
<rect x="92.6" y="854.2" width="8.2" height="8.2" fill="#fff" stroke="#f56c6c" stroke-width="1.2"/>
<text x="58.4" y="861.5" font-size="8" text-anchor="start" font-style="italic" stroke="#000" stroke-width="0.1">Ripk4<tspan font-size="4.96" dy="-3.04">fl/fl</tspan></text>
<text x="103" y="861.5" font-size="8" text-anchor="start" font-style="italic" stroke="#000" stroke-width="0.1">Ubc<tspan font-size="4.96" dy="-3.04">Cre/ERT2</tspan><tspan dy="3.04"> Ripk4</tspan><tspan font-size="4.96" dy="-3.04">fl/fl</tspan></text>
<line x1="34.5" y1="858.5" x2="34.5" y2="988.2" stroke="#222" stroke-width="0.9"/>
<line x1="34.5" y1="988.2" x2="243" y2="988.2" stroke="#333" stroke-width="0.9" stroke-dasharray="1,0.8"/>
<line x1="31" y1="988.2" x2="34.5" y2="988.2" stroke="#222" stroke-width="0.9"/>
<text x="30.2" y="991.1" font-size="8" text-anchor="end" fill="#111" stroke="#111" stroke-width="0.1">0.0</text>
<line x1="31" y1="962.26" x2="34.5" y2="962.26" stroke="#222" stroke-width="0.9"/>
<text x="30.2" y="965.16" font-size="8" text-anchor="end" fill="#111" stroke="#111" stroke-width="0.1">0.5</text>
<line x1="31" y1="936.32" x2="34.5" y2="936.32" stroke="#222" stroke-width="0.9"/>
<text x="30.2" y="939.22" font-size="8" text-anchor="end" fill="#111" stroke="#111" stroke-width="0.1">1.0</text>
<line x1="31" y1="910.38" x2="34.5" y2="910.38" stroke="#222" stroke-width="0.9"/>
<text x="30.2" y="913.28" font-size="8" text-anchor="end" fill="#111" stroke="#111" stroke-width="0.1">1.5</text>
<line x1="31" y1="884.44" x2="34.5" y2="884.44" stroke="#222" stroke-width="0.9"/>
<text x="30.2" y="887.34" font-size="8" text-anchor="end" fill="#111" stroke="#111" stroke-width="0.1">2.0</text>
<line x1="31" y1="858.5" x2="34.5" y2="858.5" stroke="#222" stroke-width="0.9"/>
<text x="30.2" y="861.4" font-size="8" text-anchor="end" fill="#111" stroke="#111" stroke-width="0.1">2.5</text>
<text x="0" y="0" font-size="8" text-anchor="middle" transform="translate(14.3,918.3) rotate(-90)" stroke="#000" stroke-width="0.1">Fold change</text>
<line x1="41.1" y1="931.13" x2="41.1" y2="906.75" stroke="#2a8cf0" stroke-width="1.4"/>
<line x1="38.1" y1="906.75" x2="44.1" y2="906.75" stroke="#2a8cf0" stroke-width="1.4"/>
<rect x="38" y="931.13" width="6.2" height="57.07" fill="none" stroke="#2a8cf0" stroke-width="1.5"/>
<circle cx="41.7" cy="906.75" r="1.75" fill="#fff" stroke="#2a8cf0" stroke-width="1.3"/>
<circle cx="41.1" cy="919.2" r="1.75" fill="#fff" stroke="#2a8cf0" stroke-width="1.3"/>
<circle cx="41.7" cy="931.13" r="1.75" fill="#fff" stroke="#2a8cf0" stroke-width="1.3"/>
<circle cx="41.1" cy="964.85" r="1.75" fill="#fff" stroke="#2a8cf0" stroke-width="1.3"/>
<line x1="50.85" y1="983.01" x2="50.85" y2="981.46" stroke="#f56c6c" stroke-width="1.4"/>
<line x1="47.85" y1="981.46" x2="53.85" y2="981.46" stroke="#f56c6c" stroke-width="1.4"/>
<rect x="47.7" y="983.01" width="6.3" height="5.19" fill="none" stroke="#f56c6c" stroke-width="1.5"/>
<circle cx="52.05" cy="981.46" r="1.75" fill="#fff" stroke="#f56c6c" stroke-width="1.3"/>
<circle cx="52.05" cy="983.01" r="1.75" fill="#fff" stroke="#f56c6c" stroke-width="1.3"/>
<circle cx="52.05" cy="983.53" r="1.75" fill="#fff" stroke="#f56c6c" stroke-width="1.3"/>
<circle cx="52.05" cy="986.12" r="1.75" fill="#fff" stroke="#f56c6c" stroke-width="1.3"/>
<line x1="45.5" y1="988.2" x2="45.5" y2="992.7" stroke="#222" stroke-width="0.9"/>
<text x="0" y="0" font-size="8" text-anchor="start" transform="translate(55.9,973.4) rotate(-90)" stroke="#000" stroke-width="0.1"><tspan font-style="italic">P</tspan>=0.0234</text>
<text x="0" y="0" font-size="8" font-style="italic" text-anchor="end" transform="translate(51,1002.2) rotate(-45)" stroke="#000" stroke-width="0.1">Col1a1</text>
<line x1="67.67" y1="930.09" x2="67.67" y2="896.37" stroke="#2a8cf0" stroke-width="1.4"/>
<line x1="64.67" y1="896.37" x2="70.67" y2="896.37" stroke="#2a8cf0" stroke-width="1.4"/>
<rect x="64.57" y="930.09" width="6.2" height="58.11" fill="none" stroke="#2a8cf0" stroke-width="1.5"/>
<circle cx="67.07" cy="884.44" r="1.75" fill="#fff" stroke="#2a8cf0" stroke-width="1.3"/>
<circle cx="67.67" cy="925.43" r="1.75" fill="#fff" stroke="#2a8cf0" stroke-width="1.3"/>
<circle cx="67.07" cy="954.48" r="1.75" fill="#fff" stroke="#2a8cf0" stroke-width="1.3"/>
<circle cx="68.27" cy="956.03" r="1.75" fill="#fff" stroke="#2a8cf0" stroke-width="1.3"/>
<line x1="77.42" y1="986.64" x2="77.42" y2="986.12" stroke="#f56c6c" stroke-width="1.4"/>
<line x1="74.42" y1="986.12" x2="80.42" y2="986.12" stroke="#f56c6c" stroke-width="1.4"/>
<rect x="74.27" y="986.64" width="6.3" height="1.56" fill="none" stroke="#f56c6c" stroke-width="1.5"/>
<circle cx="76.22" cy="986.64" r="1.75" fill="#fff" stroke="#f56c6c" stroke-width="1.3"/>
<circle cx="76.22" cy="986.64" r="1.75" fill="#fff" stroke="#f56c6c" stroke-width="1.3"/>
<circle cx="76.22" cy="986.64" r="1.75" fill="#fff" stroke="#f56c6c" stroke-width="1.3"/>
<circle cx="77.42" cy="987.16" r="1.75" fill="#fff" stroke="#f56c6c" stroke-width="1.3"/>
<line x1="72.07" y1="988.2" x2="72.07" y2="992.7" stroke="#222" stroke-width="0.9"/>
<text x="0" y="0" font-size="8" text-anchor="start" transform="translate(82.47,973.4) rotate(-90)" stroke="#000" stroke-width="0.1"><tspan font-style="italic">P</tspan>=0.0417</text>
<text x="0" y="0" font-size="8" font-style="italic" text-anchor="end" transform="translate(77.57,1002.2) rotate(-45)" stroke="#000" stroke-width="0.1">Bglap</text>
<line x1="94.24" y1="933.73" x2="94.24" y2="916.61" stroke="#2a8cf0" stroke-width="1.4"/>
<line x1="91.24" y1="916.61" x2="97.24" y2="916.61" stroke="#2a8cf0" stroke-width="1.4"/>
<rect x="91.14" y="933.73" width="6.2" height="54.47" fill="none" stroke="#2a8cf0" stroke-width="1.5"/>
<circle cx="94.24" cy="916.61" r="1.75" fill="#fff" stroke="#2a8cf0" stroke-width="1.3"/>
<circle cx="93.64" cy="916.61" r="1.75" fill="#fff" stroke="#2a8cf0" stroke-width="1.3"/>
<circle cx="94.24" cy="947.21" r="1.75" fill="#fff" stroke="#2a8cf0" stroke-width="1.3"/>
<circle cx="94.84" cy="952.92" r="1.75" fill="#fff" stroke="#2a8cf0" stroke-width="1.3"/>
<line x1="103.99" y1="969" x2="103.99" y2="960.7" stroke="#f56c6c" stroke-width="1.4"/>
<line x1="100.99" y1="960.7" x2="106.99" y2="960.7" stroke="#f56c6c" stroke-width="1.4"/>
<rect x="100.84" y="969" width="6.3" height="19.2" fill="none" stroke="#f56c6c" stroke-width="1.5"/>
<circle cx="102.79" cy="956.03" r="1.75" fill="#fff" stroke="#f56c6c" stroke-width="1.3"/>
<circle cx="105.19" cy="970.04" r="1.75" fill="#fff" stroke="#f56c6c" stroke-width="1.3"/>
<circle cx="102.79" cy="972.64" r="1.75" fill="#fff" stroke="#f56c6c" stroke-width="1.3"/>
<circle cx="102.79" cy="973.67" r="1.75" fill="#fff" stroke="#f56c6c" stroke-width="1.3"/>
<line x1="98.64" y1="988.2" x2="98.64" y2="992.7" stroke="#222" stroke-width="0.9"/>
<text x="0" y="0" font-size="8" text-anchor="start" transform="translate(109.04,951.5) rotate(-90)" stroke="#000" stroke-width="0.1"><tspan font-style="italic">P</tspan>=0.0286</text>
<text x="0" y="0" font-size="8" font-style="italic" text-anchor="end" transform="translate(104.14,1002.2) rotate(-45)" stroke="#000" stroke-width="0.1">Alpl</text>
<line x1="120.81" y1="932.17" x2="120.81" y2="908.82" stroke="#2a8cf0" stroke-width="1.4"/>
<line x1="117.81" y1="908.82" x2="123.81" y2="908.82" stroke="#2a8cf0" stroke-width="1.4"/>
<rect x="117.71" y="932.17" width="6.2" height="56.03" fill="none" stroke="#2a8cf0" stroke-width="1.5"/>
<circle cx="121.41" cy="904.67" r="1.75" fill="#fff" stroke="#2a8cf0" stroke-width="1.3"/>
<circle cx="120.21" cy="922.83" r="1.75" fill="#fff" stroke="#2a8cf0" stroke-width="1.3"/>
<circle cx="120.81" cy="942.55" r="1.75" fill="#fff" stroke="#2a8cf0" stroke-width="1.3"/>
<circle cx="120.81" cy="958.11" r="1.75" fill="#fff" stroke="#2a8cf0" stroke-width="1.3"/>
<line x1="130.56" y1="972.64" x2="130.56" y2="966.41" stroke="#f56c6c" stroke-width="1.4"/>
<line x1="127.56" y1="966.41" x2="133.56" y2="966.41" stroke="#f56c6c" stroke-width="1.4"/>
<rect x="127.41" y="972.64" width="6.3" height="15.56" fill="none" stroke="#f56c6c" stroke-width="1.5"/>
<circle cx="129.36" cy="966.41" r="1.75" fill="#fff" stroke="#f56c6c" stroke-width="1.3"/>
<circle cx="130.56" cy="968.49" r="1.75" fill="#fff" stroke="#f56c6c" stroke-width="1.3"/>
<circle cx="129.36" cy="972.64" r="1.75" fill="#fff" stroke="#f56c6c" stroke-width="1.3"/>
<circle cx="129.36" cy="983.01" r="1.75" fill="#fff" stroke="#f56c6c" stroke-width="1.3"/>
<line x1="125.21" y1="988.2" x2="125.21" y2="992.7" stroke="#222" stroke-width="0.9"/>
<text x="0" y="0" font-size="8" text-anchor="start" transform="translate(135.61,960.1) rotate(-90)" stroke="#000" stroke-width="0.1"><tspan font-style="italic">P</tspan>=0.0166</text>
<text x="0" y="0" font-size="8" font-style="italic" text-anchor="end" transform="translate(130.71,1002.2) rotate(-45)" stroke="#000" stroke-width="0.1">Sp7</text>
<line x1="147.38" y1="933.21" x2="147.38" y2="909.34" stroke="#2a8cf0" stroke-width="1.4"/>
<line x1="144.38" y1="909.34" x2="150.38" y2="909.34" stroke="#2a8cf0" stroke-width="1.4"/>
<rect x="144.28" y="933.21" width="6.2" height="54.99" fill="none" stroke="#2a8cf0" stroke-width="1.5"/>
<circle cx="146.78" cy="901.04" r="1.75" fill="#fff" stroke="#2a8cf0" stroke-width="1.3"/>
<circle cx="147.98" cy="930.61" r="1.75" fill="#fff" stroke="#2a8cf0" stroke-width="1.3"/>
<circle cx="147.98" cy="949.81" r="1.75" fill="#fff" stroke="#2a8cf0" stroke-width="1.3"/>
<circle cx="147.38" cy="950.85" r="1.75" fill="#fff" stroke="#2a8cf0" stroke-width="1.3"/>
<line x1="157.13" y1="965.89" x2="157.13" y2="957.07" stroke="#f56c6c" stroke-width="1.4"/>
<line x1="154.13" y1="957.07" x2="160.13" y2="957.07" stroke="#f56c6c" stroke-width="1.4"/>
<rect x="153.98" y="965.89" width="6.3" height="22.31" fill="none" stroke="#f56c6c" stroke-width="1.5"/>
<circle cx="155.93" cy="956.03" r="1.75" fill="#fff" stroke="#f56c6c" stroke-width="1.3"/>
<circle cx="155.93" cy="966.41" r="1.75" fill="#fff" stroke="#f56c6c" stroke-width="1.3"/>
<circle cx="155.93" cy="966.41" r="1.75" fill="#fff" stroke="#f56c6c" stroke-width="1.3"/>
<circle cx="155.93" cy="967.45" r="1.75" fill="#fff" stroke="#f56c6c" stroke-width="1.3"/>
<line x1="151.78" y1="988.2" x2="151.78" y2="992.7" stroke="#222" stroke-width="0.9"/>
<text x="0" y="0" font-size="8" text-anchor="start" transform="translate(162.18,951.5) rotate(-90)" stroke="#000" stroke-width="0.1"><tspan font-style="italic">P</tspan>=0.0286</text>
<text x="0" y="0" font-size="8" font-style="italic" text-anchor="end" transform="translate(157.28,1002.2) rotate(-45)" stroke="#000" stroke-width="0.1">Runx2</text>
<line x1="173.95" y1="932.69" x2="173.95" y2="911.94" stroke="#2a8cf0" stroke-width="1.4"/>
<line x1="170.95" y1="911.94" x2="176.95" y2="911.94" stroke="#2a8cf0" stroke-width="1.4"/>
<rect x="170.85" y="932.69" width="6.2" height="55.51" fill="none" stroke="#2a8cf0" stroke-width="1.5"/>
<circle cx="173.35" cy="914.53" r="1.75" fill="#fff" stroke="#2a8cf0" stroke-width="1.3"/>
<circle cx="173.35" cy="919.72" r="1.75" fill="#fff" stroke="#2a8cf0" stroke-width="1.3"/>
<circle cx="173.35" cy="925.94" r="1.75" fill="#fff" stroke="#2a8cf0" stroke-width="1.3"/>
<circle cx="173.35" cy="962.26" r="1.75" fill="#fff" stroke="#2a8cf0" stroke-width="1.3"/>
<line x1="183.7" y1="960.7" x2="183.7" y2="957.07" stroke="#f56c6c" stroke-width="1.4"/>
<line x1="180.7" y1="957.07" x2="186.7" y2="957.07" stroke="#f56c6c" stroke-width="1.4"/>
<rect x="180.55" y="960.7" width="6.3" height="27.5" fill="none" stroke="#f56c6c" stroke-width="1.5"/>
<circle cx="183.7" cy="956.03" r="1.75" fill="#fff" stroke="#f56c6c" stroke-width="1.3"/>
<circle cx="183.7" cy="961.22" r="1.75" fill="#fff" stroke="#f56c6c" stroke-width="1.3"/>
<circle cx="182.5" cy="961.22" r="1.75" fill="#fff" stroke="#f56c6c" stroke-width="1.3"/>
<circle cx="184.9" cy="962.26" r="1.75" fill="#fff" stroke="#f56c6c" stroke-width="1.3"/>
<line x1="178.35" y1="988.2" x2="178.35" y2="992.7" stroke="#222" stroke-width="0.9"/>
<text x="0" y="0" font-size="8" text-anchor="start" transform="translate(188.75,950.6) rotate(-90)" stroke="#000" stroke-width="0.1"><tspan font-style="italic">P</tspan>=0.0750</text>
<text x="0" y="0" font-size="8" font-style="italic" text-anchor="end" transform="translate(183.85,1002.2) rotate(-45)" stroke="#000" stroke-width="0.1">Spp1</text>
<line x1="200.52" y1="932.69" x2="200.52" y2="912.97" stroke="#2a8cf0" stroke-width="1.4"/>
<line x1="197.52" y1="912.97" x2="203.52" y2="912.97" stroke="#2a8cf0" stroke-width="1.4"/>
<rect x="197.42" y="932.69" width="6.2" height="55.51" fill="none" stroke="#2a8cf0" stroke-width="1.5"/>
<circle cx="201.12" cy="908.82" r="1.75" fill="#fff" stroke="#2a8cf0" stroke-width="1.3"/>
<circle cx="201.12" cy="924.39" r="1.75" fill="#fff" stroke="#2a8cf0" stroke-width="1.3"/>
<circle cx="199.92" cy="943.58" r="1.75" fill="#fff" stroke="#2a8cf0" stroke-width="1.3"/>
<circle cx="199.92" cy="953.44" r="1.75" fill="#fff" stroke="#2a8cf0" stroke-width="1.3"/>
<line x1="210.27" y1="968.49" x2="210.27" y2="960.7" stroke="#f56c6c" stroke-width="1.4"/>
<line x1="207.27" y1="960.7" x2="213.27" y2="960.7" stroke="#f56c6c" stroke-width="1.4"/>
<rect x="207.12" y="968.49" width="6.3" height="19.71" fill="none" stroke="#f56c6c" stroke-width="1.5"/>
<circle cx="211.47" cy="959.67" r="1.75" fill="#fff" stroke="#f56c6c" stroke-width="1.3"/>
<circle cx="209.07" cy="962.26" r="1.75" fill="#fff" stroke="#f56c6c" stroke-width="1.3"/>
<circle cx="210.27" cy="968.49" r="1.75" fill="#fff" stroke="#f56c6c" stroke-width="1.3"/>
<circle cx="210.27" cy="983.01" r="1.75" fill="#fff" stroke="#f56c6c" stroke-width="1.3"/>
<line x1="204.92" y1="988.2" x2="204.92" y2="992.7" stroke="#222" stroke-width="0.9"/>
<text x="0" y="0" font-size="8" text-anchor="start" transform="translate(215.32,954) rotate(-90)" stroke="#000" stroke-width="0.1"><tspan font-style="italic">P</tspan>=0.0161</text>
<text x="0" y="0" font-size="8" font-style="italic" text-anchor="end" transform="translate(210.42,1002.2) rotate(-45)" stroke="#000" stroke-width="0.1">Dmp1</text>
<line x1="227.09" y1="928.02" x2="227.09" y2="898.97" stroke="#2a8cf0" stroke-width="1.4"/>
<line x1="224.09" y1="898.97" x2="230.09" y2="898.97" stroke="#2a8cf0" stroke-width="1.4"/>
<rect x="223.99" y="928.02" width="6.2" height="60.18" fill="none" stroke="#2a8cf0" stroke-width="1.5"/>
<circle cx="226.49" cy="898.97" r="1.75" fill="#fff" stroke="#2a8cf0" stroke-width="1.3"/>
<circle cx="227.09" cy="920.24" r="1.75" fill="#fff" stroke="#2a8cf0" stroke-width="1.3"/>
<circle cx="227.09" cy="921.79" r="1.75" fill="#fff" stroke="#2a8cf0" stroke-width="1.3"/>
<circle cx="226.49" cy="970.04" r="1.75" fill="#fff" stroke="#2a8cf0" stroke-width="1.3"/>
<line x1="236.84" y1="975.23" x2="236.84" y2="963.3" stroke="#f56c6c" stroke-width="1.4"/>
<line x1="233.84" y1="963.3" x2="239.84" y2="963.3" stroke="#f56c6c" stroke-width="1.4"/>
<rect x="233.69" y="975.23" width="6.3" height="12.97" fill="none" stroke="#f56c6c" stroke-width="1.5"/>
<circle cx="235.64" cy="961.22" r="1.75" fill="#fff" stroke="#f56c6c" stroke-width="1.3"/>
<circle cx="236.84" cy="971.6" r="1.75" fill="#fff" stroke="#f56c6c" stroke-width="1.3"/>
<circle cx="235.64" cy="981.97" r="1.75" fill="#fff" stroke="#f56c6c" stroke-width="1.3"/>
<circle cx="236.84" cy="985.61" r="1.75" fill="#fff" stroke="#f56c6c" stroke-width="1.3"/>
<line x1="231.49" y1="988.2" x2="231.49" y2="992.7" stroke="#222" stroke-width="0.9"/>
<text x="0" y="0" font-size="8" text-anchor="start" transform="translate(241.89,954.8) rotate(-90)" stroke="#000" stroke-width="0.1"><tspan font-style="italic">P</tspan>=0.0244</text>
<text x="0" y="0" font-size="8" font-style="italic" text-anchor="end" transform="translate(236.99,1002.2) rotate(-45)" stroke="#000" stroke-width="0.1">Sost</text>
<text x="0" y="727.9" font-size="10.5" text-anchor="start" font-weight="bold" fill="#000" stroke="#000" stroke-width="0.1">k</text>
<rect x="25.1" y="734.2" width="85.7" height="39.9" fill="#000" stroke="none" stroke-width="1"/>
<g clip-path="url(#cp12)">
<path d="M24,747.8 C26.67,747.75 34.83,747.58 40,747.5 C45.17,747.42 50,747.22 55,747.3 C60,747.38 65.83,748.08 70,748 C74.17,747.92 76.67,747.2 80,746.8 C83.33,746.4 86.67,745.9 90,745.6 C93.33,745.3 96.33,745.17 100,745 C103.67,744.83 110,744.67 112,744.6" fill="none" stroke="#12a012" stroke-width="3" stroke-linecap="round" filter="url(#glow)" opacity="1.0"/>
<path d="M24,747.8 C26.67,747.75 34.83,747.58 40,747.5 C45.17,747.42 50,747.22 55,747.3 C60,747.38 65.83,748.08 70,748 C74.17,747.92 76.67,747.2 80,746.8 C83.33,746.4 86.67,745.9 90,745.6 C93.33,745.3 96.33,745.17 100,745 C103.67,744.83 110,744.67 112,744.6" fill="none" stroke="#22f022" stroke-width="2" stroke-linecap="round" opacity="1.0"/>
<path d="M24,757.7 C26,757.92 31.67,758.72 36,759 C40.33,759.28 45,759.48 50,759.4 C55,759.32 61,758.9 66,758.5 C71,758.1 75.17,757.42 80,757 C84.83,756.58 89.67,756.33 95,756 C100.33,755.67 109.17,755.17 112,755" fill="none" stroke="#12a012" stroke-width="3.2" stroke-linecap="round" filter="url(#glow)" opacity="1.0"/>
<path d="M24,757.7 C26,757.92 31.67,758.72 36,759 C40.33,759.28 45,759.48 50,759.4 C55,759.32 61,758.9 66,758.5 C71,758.1 75.17,757.42 80,757 C84.83,756.58 89.67,756.33 95,756 C100.33,755.67 109.17,755.17 112,755" fill="none" stroke="#22f022" stroke-width="2.2" stroke-linecap="round" opacity="1.0"/>
<path d="M38,771.6 C39,771.47 43,770.93 44,770.8" fill="none" stroke="#12a012" stroke-width="1.6" stroke-linecap="round" filter="url(#glow)" opacity="0.45"/>
<path d="M38,771.6 C39,771.47 43,770.93 44,770.8" fill="none" stroke="#1a8a1a" stroke-width="0.6" stroke-linecap="round" opacity="0.45"/>
<path d="M68,768.4 C71.5,768.3 85.5,767.9 89,767.8" fill="none" stroke="#12a012" stroke-width="1.5" stroke-linecap="round" filter="url(#glow)" opacity="0.3"/>
<path d="M68,768.4 C71.5,768.3 85.5,767.9 89,767.8" fill="none" stroke="#145c14" stroke-width="0.5" stroke-linecap="round" opacity="0.3"/>
<rect x="25.1" y="734.2" width="85.7" height="39.9" fill="#000" stroke="none" stroke-width="1" filter="url(#grain)"/>
</g>
<line x1="94.5" y1="770.6" x2="106" y2="770.6" stroke="#f0f0f0" stroke-width="1.2"/>
<rect x="25.1" y="779.9" width="85.7" height="39.4" fill="#000" stroke="none" stroke-width="1"/>
<g clip-path="url(#cp13)">
<path d="M24,797.9 C27.5,797.95 37.33,798.22 45,798.2 C52.67,798.18 63.33,797.95 70,797.8 C76.67,797.65 81.33,797.5 85,797.3 C88.67,797.1 90,796.88 92,796.6 C94,796.32 95.5,795.45 97,795.6 C98.5,795.75 98.5,797.12 101,797.5 C103.5,797.88 110.17,797.83 112,797.9" fill="none" stroke="#12a012" stroke-width="2.7" stroke-linecap="round" filter="url(#glow)" opacity="1.0"/>
<path d="M24,797.9 C27.5,797.95 37.33,798.22 45,798.2 C52.67,798.18 63.33,797.95 70,797.8 C76.67,797.65 81.33,797.5 85,797.3 C88.67,797.1 90,796.88 92,796.6 C94,796.32 95.5,795.45 97,795.6 C98.5,795.75 98.5,797.12 101,797.5 C103.5,797.88 110.17,797.83 112,797.9" fill="none" stroke="#22f022" stroke-width="1.7" stroke-linecap="round" opacity="1.0"/>
<path d="M24,803.5 C27.5,803.47 37.67,803.38 45,803.3 C52.33,803.22 62,803.18 68,803 C74,802.82 78.83,802.33 81,802.2" fill="none" stroke="#12a012" stroke-width="2.1" stroke-linecap="round" filter="url(#glow)" opacity="0.9"/>
<path d="M24,803.5 C27.5,803.47 37.67,803.38 45,803.3 C52.33,803.22 62,803.18 68,803 C74,802.82 78.83,802.33 81,802.2" fill="none" stroke="#22d022" stroke-width="1.1" stroke-linecap="round" opacity="0.9"/>
<path d="M86.5,802.1 C88.75,802.05 96.25,801.93 100,801.8 C103.75,801.67 107.5,801.38 109,801.3" fill="none" stroke="#12a012" stroke-width="2" stroke-linecap="round" filter="url(#glow)" opacity="0.8"/>
<path d="M86.5,802.1 C88.75,802.05 96.25,801.93 100,801.8 C103.75,801.67 107.5,801.38 109,801.3" fill="none" stroke="#22c022" stroke-width="1" stroke-linecap="round" opacity="0.8"/>
<rect x="25.1" y="779.9" width="85.7" height="39.4" fill="#000" stroke="none" stroke-width="1" filter="url(#grain)"/>
</g>
<line x1="94.5" y1="815" x2="106" y2="815" stroke="#d0d0d0" stroke-width="1.2"/>
<text x="0" y="0" font-size="8" text-anchor="middle" font-style="italic" transform="translate(22.2,755.5) rotate(-90)" stroke="#000" stroke-width="0.1">Ripk4<tspan font-size="4.96" dy="-3.04">fl/fl</tspan></text>
<text x="0" y="0" font-size="8" text-anchor="middle" font-style="italic" transform="translate(11.7,805.0) rotate(-90)" stroke="#000" stroke-width="0.1">Ubc<tspan font-size="4.96" dy="-3.04">Cre/ERT2</tspan></text>
<text x="0" y="0" font-size="8" text-anchor="middle" font-style="italic" transform="translate(22.2,802.6) rotate(-90)" stroke="#000" stroke-width="0.1">Ripk4<tspan font-size="4.96" dy="-3.04">fl/fl</tspan></text>
<text x="434.5" y="727.6" font-size="10.5" text-anchor="start" font-weight="bold" fill="#000" stroke="#000" stroke-width="0.1">m</text>
<text x="496" y="730.2" font-size="8" text-anchor="middle" font-style="italic" stroke="#000" stroke-width="0.1">Ripk4<tspan font-size="4.96" dy="-3.04">fl/fl</tspan></text>
<text x="591.4" y="730.6" font-size="8" text-anchor="middle" font-style="italic" stroke="#000" stroke-width="0.1">Ubc<tspan font-size="4.96" dy="-3.04">Cre/ERT2</tspan><tspan dy="3.04"> Ripk4</tspan><tspan font-size="4.96" dy="-3.04">fl/fl</tspan></text>
<g clip-path="url(#cp14)">
<rect x="452.4" y="738" width="86.2" height="85.3" fill="#fdfcfd" stroke="none" stroke-width="1"/>
<g clip-path="url(#cp15)"><rect x="452.4" y="738" width="86.2" height="85.3" filter="url(#nMar)"/></g>
<g clip-path="url(#cp16)"><rect x="452.4" y="738" width="86.2" height="85.3" filter="url(#nHE)"/></g>
<path d="M462.6,738L465.6,738L464.6,823.3L461.6,823.3Z" fill="#b86aa8" opacity="0.45"/>
<ellipse cx="481.6" cy="759" rx="2.4" ry="3.4" fill="#9b78c0" opacity="0.6"/>
<ellipse cx="460.7" cy="796" rx="1.2" ry="3.6" fill="#b7a0d0" opacity="0.7"/>
<ellipse cx="478.2" cy="744.6" rx="1.0" ry="2.3" fill="#f4e6f0"/>
<ellipse cx="478.2" cy="744.6" rx="0.6" ry="1.5" fill="#2e2e8e"/>
<ellipse cx="498.1" cy="749.4" rx="1.0" ry="2.3" fill="#f4e6f0"/>
<ellipse cx="498.1" cy="749.4" rx="0.6" ry="1.5" fill="#2e2e8e"/>
<ellipse cx="480.9" cy="754.9" rx="1.0" ry="2.3" fill="#f4e6f0"/>
<ellipse cx="480.9" cy="754.9" rx="0.6" ry="1.5" fill="#2e2e8e"/>
<ellipse cx="518.7" cy="755.6" rx="1.0" ry="2.3" fill="#f4e6f0"/>
<ellipse cx="518.7" cy="755.6" rx="0.6" ry="1.5" fill="#2e2e8e"/>
<ellipse cx="498.8" cy="768.6" rx="1.0" ry="2.3" fill="#f4e6f0"/>
<ellipse cx="498.8" cy="768.6" rx="0.6" ry="1.5" fill="#2e2e8e"/>
<ellipse cx="512.5" cy="767.9" rx="1.0" ry="2.3" fill="#f4e6f0"/>
<ellipse cx="512.5" cy="767.9" rx="0.6" ry="1.5" fill="#2e2e8e"/>
<ellipse cx="472.7" cy="777.5" rx="1.0" ry="2.3" fill="#f4e6f0"/>
<ellipse cx="472.7" cy="777.5" rx="0.6" ry="1.5" fill="#2e2e8e"/>
<ellipse cx="503.6" cy="778.2" rx="1.0" ry="2.3" fill="#f4e6f0"/>
<ellipse cx="503.6" cy="778.2" rx="0.6" ry="1.5" fill="#2e2e8e"/>
<ellipse cx="498.8" cy="786.5" rx="1.0" ry="2.3" fill="#f4e6f0"/>
<ellipse cx="498.8" cy="786.5" rx="0.6" ry="1.5" fill="#2e2e8e"/>
<ellipse cx="508.4" cy="787.8" rx="1.0" ry="2.3" fill="#f4e6f0"/>
<ellipse cx="508.4" cy="787.8" rx="0.6" ry="1.5" fill="#2e2e8e"/>
<ellipse cx="471.3" cy="800.9" rx="1.0" ry="2.3" fill="#f4e6f0"/>
<ellipse cx="471.3" cy="800.9" rx="0.6" ry="1.5" fill="#2e2e8e"/>
<ellipse cx="503.6" cy="805.7" rx="1.0" ry="2.3" fill="#f4e6f0"/>
<ellipse cx="503.6" cy="805.7" rx="0.6" ry="1.5" fill="#2e2e8e"/>
<ellipse cx="515.9" cy="815.3" rx="1.0" ry="2.3" fill="#f4e6f0"/>
<ellipse cx="515.9" cy="815.3" rx="0.6" ry="1.5" fill="#2e2e8e"/>
<ellipse cx="485" cy="761.8" rx="1.0" ry="2.3" fill="#f4e6f0"/>
<ellipse cx="485" cy="761.8" rx="0.6" ry="1.5" fill="#2e2e8e"/>
<ellipse cx="488" cy="812" rx="1.0" ry="2.3" fill="#f4e6f0"/>
<ellipse cx="488" cy="812" rx="0.6" ry="1.5" fill="#2e2e8e"/>
<ellipse cx="470" cy="817" rx="1.0" ry="2.3" fill="#f4e6f0"/>
<ellipse cx="470" cy="817" rx="0.6" ry="1.5" fill="#2e2e8e"/>
<rect x="452.4" y="738" width="20" height="19.2" fill="#fff" stroke="#555" stroke-width="0.6"/>
<path d="M461,738.3 C461.45,737.18 462.82,737.18 463.2,738.3 C463.58,739.42 463.27,743.05 463.3,745 C463.33,746.95 463.33,748.67 463.4,750 C463.47,751.33 463.93,752 463.7,753 C463.47,754 462.95,755.4 462,756 C461.05,756.6 459,756.77 458,756.6 C457,756.43 456.17,755.68 456,755 C455.83,754.32 456.37,753.33 457,752.5 C457.63,751.67 459.22,751.25 459.8,750 C460.38,748.75 460.3,746.95 460.5,745 C460.7,743.05 460.55,739.42 461,738.3Z" fill="#a58ad0" stroke="none" stroke-width="1"/>
</g>
<rect x="452.4" y="738" width="86.2" height="85.3" fill="none" stroke="#9a9a9a" stroke-width="0.7"/>
<line x1="523.2" y1="819" x2="532.4" y2="819" stroke="#000" stroke-width="1.2"/>
<g clip-path="url(#cp17)">
<rect x="551.4" y="738" width="85.1" height="85.5" fill="#fdfcfd" stroke="none" stroke-width="1"/>
<g clip-path="url(#cp18)"><rect x="551.4" y="738" width="85.1" height="85.5" filter="url(#nMar)"/></g>
<g clip-path="url(#cp19)"><rect x="551.4" y="738" width="85.1" height="85.5" filter="url(#nHE2)"/></g>
<path d="M570,738L573,738L571.6,823.5L568.6,823.5Z" fill="#b86aa8" opacity="0.45"/>
<ellipse cx="632" cy="783" rx="2.6" ry="4" fill="#d070a8" opacity="0.55"/>
<line x1="580" y1="738" x2="577" y2="823.5" stroke="#f3a6c8" stroke-width="0.8" opacity="0.6"/>
<line x1="590" y1="738" x2="587" y2="823.5" stroke="#f3a6c8" stroke-width="0.8" opacity="0.6"/>
<line x1="600" y1="738" x2="597" y2="823.5" stroke="#f3a6c8" stroke-width="0.8" opacity="0.6"/>
<ellipse cx="584.4" cy="739.1" rx="1.0" ry="2.3" fill="#f4e6f0"/>
<ellipse cx="584.4" cy="739.1" rx="0.6" ry="1.5" fill="#2e2e8e"/>
<ellipse cx="596.7" cy="740.5" rx="1.0" ry="2.3" fill="#f4e6f0"/>
<ellipse cx="596.7" cy="740.5" rx="0.6" ry="1.5" fill="#2e2e8e"/>
<ellipse cx="578.9" cy="748.7" rx="1.0" ry="2.3" fill="#f4e6f0"/>
<ellipse cx="578.9" cy="748.7" rx="0.6" ry="1.5" fill="#2e2e8e"/>
<ellipse cx="595.3" cy="755.6" rx="1.0" ry="2.3" fill="#f4e6f0"/>
<ellipse cx="595.3" cy="755.6" rx="0.6" ry="1.5" fill="#2e2e8e"/>
<ellipse cx="587.8" cy="757" rx="1.0" ry="2.3" fill="#f4e6f0"/>
<ellipse cx="587.8" cy="757" rx="0.6" ry="1.5" fill="#2e2e8e"/>
<ellipse cx="575.4" cy="760.4" rx="1.0" ry="2.3" fill="#f4e6f0"/>
<ellipse cx="575.4" cy="760.4" rx="0.6" ry="1.5" fill="#2e2e8e"/>
<ellipse cx="600.1" cy="761.8" rx="1.0" ry="2.3" fill="#f4e6f0"/>
<ellipse cx="600.1" cy="761.8" rx="0.6" ry="1.5" fill="#2e2e8e"/>
<ellipse cx="604.3" cy="769.3" rx="1.0" ry="2.3" fill="#f4e6f0"/>
<ellipse cx="604.3" cy="769.3" rx="0.6" ry="1.5" fill="#2e2e8e"/>
<ellipse cx="578.2" cy="773.4" rx="1.0" ry="2.3" fill="#f4e6f0"/>
<ellipse cx="578.2" cy="773.4" rx="0.6" ry="1.5" fill="#2e2e8e"/>
<ellipse cx="604.3" cy="785.8" rx="1.0" ry="2.3" fill="#f4e6f0"/>
<ellipse cx="604.3" cy="785.8" rx="0.6" ry="1.5" fill="#2e2e8e"/>
<ellipse cx="583" cy="789.2" rx="1.0" ry="2.3" fill="#f4e6f0"/>
<ellipse cx="583" cy="789.2" rx="0.6" ry="1.5" fill="#2e2e8e"/>
<ellipse cx="607.7" cy="790.6" rx="1.0" ry="2.3" fill="#f4e6f0"/>
<ellipse cx="607.7" cy="790.6" rx="0.6" ry="1.5" fill="#2e2e8e"/>
<ellipse cx="576.1" cy="798.1" rx="1.0" ry="2.3" fill="#f4e6f0"/>
<ellipse cx="576.1" cy="798.1" rx="0.6" ry="1.5" fill="#2e2e8e"/>
<ellipse cx="589.2" cy="798.8" rx="1.0" ry="2.3" fill="#f4e6f0"/>
<ellipse cx="589.2" cy="798.8" rx="0.6" ry="1.5" fill="#2e2e8e"/>
<ellipse cx="602.9" cy="796.8" rx="1.0" ry="2.3" fill="#f4e6f0"/>
<ellipse cx="602.9" cy="796.8" rx="0.6" ry="1.5" fill="#2e2e8e"/>
<ellipse cx="581.6" cy="803.6" rx="1.0" ry="2.3" fill="#f4e6f0"/>
<ellipse cx="581.6" cy="803.6" rx="0.6" ry="1.5" fill="#2e2e8e"/>
<ellipse cx="601.5" cy="809.1" rx="1.0" ry="2.3" fill="#f4e6f0"/>
<ellipse cx="601.5" cy="809.1" rx="0.6" ry="1.5" fill="#2e2e8e"/>
<ellipse cx="595.3" cy="813.2" rx="1.0" ry="2.3" fill="#f4e6f0"/>
<ellipse cx="595.3" cy="813.2" rx="0.6" ry="1.5" fill="#2e2e8e"/>
<rect x="551.4" y="738" width="18.8" height="19.2" fill="#fff" stroke="#555" stroke-width="0.6"/>
<path d="M557.8,738.3 C558.08,737.18 559.32,737.18 559.6,738.3 C559.88,739.42 559.47,743.05 559.5,745 C559.53,746.95 559.52,748.7 559.8,750 C560.08,751.3 561.25,751.87 561.2,752.8 C561.15,753.73 560.33,755.1 559.5,755.6 C558.67,756.1 556.98,756.07 556.2,755.8 C555.42,755.53 554.8,754.72 554.8,754 C554.8,753.28 555.73,752.25 556.2,751.5 C556.67,750.75 557.32,750.58 557.6,749.5 C557.88,748.42 557.87,746.87 557.9,745 C557.93,743.13 557.52,739.42 557.8,738.3Z" fill="#a58ad0" stroke="none" stroke-width="1"/>
</g>
<rect x="551.4" y="738" width="85.1" height="85.5" fill="none" stroke="#9a9a9a" stroke-width="0.7"/>
<line x1="622.1" y1="819" x2="632" y2="819" stroke="#000" stroke-width="1.2"/>
<text x="265.5" y="867.5" font-size="10.5" text-anchor="start" font-weight="bold" fill="#000" stroke="#000" stroke-width="0.1">o</text>
<text x="317" y="882" font-size="8" text-anchor="middle" font-style="italic" stroke="#000" stroke-width="0.1">Ripk4<tspan font-size="4.96" dy="-3.04">fl/fl</tspan></text>
<text x="416.8" y="881.7" font-size="8" text-anchor="middle" font-style="italic" stroke="#000" stroke-width="0.1">Ubc<tspan font-size="4.96" dy="-3.04">Cre/ERT2</tspan><tspan dy="3.04"> Ripk4</tspan><tspan font-size="4.96" dy="-3.04">fl/fl</tspan></text>
<g clip-path="url(#cp20)">
<g clip-path="url(#cp21)"><rect x="274.4" y="889.3" width="85" height="84.9" filter="url(#nTrapBg)"/></g>
<path d="M281,907 C280.67,904.33 283.5,903.83 286,906 C288.5,908.17 293.67,916.17 296,920 C298.33,923.83 300,927.17 300,929 C300,930.83 298,932.17 296,931 C294,929.83 290.5,926 288,922 C285.5,918 281.33,909.67 281,907Z" fill="#f7f3f0" stroke="none" stroke-width="1" fill-opacity="0.9"/>
<path d="M298,940 C299.5,939.17 301.67,942 303,945 C304.33,948 306.5,955.5 306,958 C305.5,960.5 302,961.33 300,960 C298,958.67 294.33,953.33 294,950 C293.67,946.67 296.5,940.83 298,940Z" fill="#f7f3f0" stroke="none" stroke-width="1" fill-opacity="0.9"/>
<path d="M275.3,909 C276.5,908.38 279.57,907.1 281.2,908.3 C282.83,909.5 283.35,913.35 285.1,916.2 C286.85,919.05 289.5,922.55 291.7,925.4 C293.9,928.25 296.33,931.55 298.3,933.3 C300.27,935.05 302.08,935.9 303.5,935.9 C304.92,935.9 306.13,935.05 306.8,933.3 C307.47,931.55 307.28,928.9 307.5,925.4 C307.72,921.9 307.67,915.25 308.1,912.3 C308.53,909.35 308.67,908.8 310.1,907.7 C311.53,906.6 313.85,906.25 316.7,905.7 C319.55,905.15 323.7,905.05 327.2,904.4 C330.7,903.75 334.63,902.68 337.7,901.8 C340.77,900.92 342.97,900.63 345.6,899.1 C348.23,897.57 351.32,894.02 353.5,892.6 C355.68,891.18 357.53,890.2 358.7,890.6 C359.87,891 360.5,892.05 360.5,895 C360.5,897.95 359.65,904.77 358.7,908.3 C357.75,911.83 356.55,913.57 354.8,916.2 C353.05,918.83 350.17,921.47 348.2,924.1 C346.23,926.73 344.75,929.15 343,932 C341.25,934.85 339.47,939.02 337.7,941.2 C335.93,943.38 334.15,944.88 332.4,945.1 C330.65,945.32 328.73,944.03 327.2,942.5 C325.67,940.97 324.52,935.9 323.2,935.9 C321.88,935.9 320.38,940.52 319.3,942.5 C318.22,944.48 317.35,945.62 316.7,947.8 C316.05,949.98 315.85,951.88 315.4,955.6 C314.95,959.32 314.88,967.2 314,970.1 C313.12,973 312.1,972.27 310.1,973 C308.1,973.73 303.83,975.43 302,974.5 C300.17,973.57 301.08,970.85 299.1,967.4 C297.12,963.95 293.12,958.93 290.1,953.8 C287.08,948.67 283.63,942.48 281,936.6 C278.37,930.72 275.47,922.6 274.3,918.5 C273.13,914.4 273.83,913.58 274,912 C274.17,910.42 274.1,909.62 275.3,909Z" fill="none" stroke="#f6f2f2" stroke-width="2.2"/>
<path d="M335,890 C338.17,889.08 346.5,889.33 350,889.5 C353.5,889.67 356.67,889.75 356,891 C355.33,892.25 349.33,895.67 346,897 C342.67,898.33 338.5,899.33 336,899 C333.5,898.67 331.17,896.5 331,895 C330.83,893.5 331.83,890.92 335,890Z" fill="none" stroke="#f6f2f2" stroke-width="2.2"/>
<path d="M275.3,909 C276.5,908.38 279.57,907.1 281.2,908.3 C282.83,909.5 283.35,913.35 285.1,916.2 C286.85,919.05 289.5,922.55 291.7,925.4 C293.9,928.25 296.33,931.55 298.3,933.3 C300.27,935.05 302.08,935.9 303.5,935.9 C304.92,935.9 306.13,935.05 306.8,933.3 C307.47,931.55 307.28,928.9 307.5,925.4 C307.72,921.9 307.67,915.25 308.1,912.3 C308.53,909.35 308.67,908.8 310.1,907.7 C311.53,906.6 313.85,906.25 316.7,905.7 C319.55,905.15 323.7,905.05 327.2,904.4 C330.7,903.75 334.63,902.68 337.7,901.8 C340.77,900.92 342.97,900.63 345.6,899.1 C348.23,897.57 351.32,894.02 353.5,892.6 C355.68,891.18 357.53,890.2 358.7,890.6 C359.87,891 360.5,892.05 360.5,895 C360.5,897.95 359.65,904.77 358.7,908.3 C357.75,911.83 356.55,913.57 354.8,916.2 C353.05,918.83 350.17,921.47 348.2,924.1 C346.23,926.73 344.75,929.15 343,932 C341.25,934.85 339.47,939.02 337.7,941.2 C335.93,943.38 334.15,944.88 332.4,945.1 C330.65,945.32 328.73,944.03 327.2,942.5 C325.67,940.97 324.52,935.9 323.2,935.9 C321.88,935.9 320.38,940.52 319.3,942.5 C318.22,944.48 317.35,945.62 316.7,947.8 C316.05,949.98 315.85,951.88 315.4,955.6 C314.95,959.32 314.88,967.2 314,970.1 C313.12,973 312.1,972.27 310.1,973 C308.1,973.73 303.83,975.43 302,974.5 C300.17,973.57 301.08,970.85 299.1,967.4 C297.12,963.95 293.12,958.93 290.1,953.8 C287.08,948.67 283.63,942.48 281,936.6 C278.37,930.72 275.47,922.6 274.3,918.5 C273.13,914.4 273.83,913.58 274,912 C274.17,910.42 274.1,909.62 275.3,909Z" fill="#eee4e2" stroke="none" stroke-width="1"/>
<g clip-path="url(#cp22)"><rect x="274.4" y="889.3" width="85" height="84.9" filter="url(#nTrapBone)" opacity="0.9"/></g>
<path d="M335,890 C338.17,889.08 346.5,889.33 350,889.5 C353.5,889.67 356.67,889.75 356,891 C355.33,892.25 349.33,895.67 346,897 C342.67,898.33 338.5,899.33 336,899 C333.5,898.67 331.17,896.5 331,895 C330.83,893.5 331.83,890.92 335,890Z" fill="#eee4e2" stroke="none" stroke-width="1"/>
<g clip-path="url(#cp23)"><rect x="274.4" y="889.3" width="85" height="84.9" filter="url(#nTrapBone)" opacity="0.9"/></g>
<path d="M358.7,906.5 C358.17,907.75 356.82,911.5 355.5,914 C354.18,916.5 351.58,920.25 350.8,921.5" fill="none" stroke="#e0354f" stroke-width="1.1" stroke-linecap="round" opacity="0.85"/>
<path d="M345.6,932 C344.92,933 342.82,936.03 341.5,938 C340.18,939.97 338.33,942.83 337.7,943.8" fill="none" stroke="#e0354f" stroke-width="1.1" stroke-linecap="round" opacity="0.85"/>
<path d="M317.2,945.1 C317.03,947.25 316.5,953.83 316.2,958 C315.9,962.17 315.53,968.08 315.4,970.1" fill="none" stroke="#e0354f" stroke-width="1.1" stroke-linecap="round" opacity="0.85"/>
<path d="M291.7,917.5 C292.42,917.62 294.68,917.98 296,918.2 C297.32,918.42 299,918.7 299.6,918.8" fill="none" stroke="#e0354f" stroke-width="1.1" stroke-linecap="round" opacity="0.85"/>
<path d="M288,926 C288.5,926.5 290.5,928.5 291,929" fill="none" stroke="#e0354f" stroke-width="1.1" stroke-linecap="round" opacity="0.85"/>
<rect x="274.4" y="889.3" width="18.6" height="18.6" fill="#fff" stroke="#555" stroke-width="0.6"/>
<path d="M284.3,889 C285.07,888.5 287.78,888.17 288.6,889 C289.42,889.83 288.83,892.45 289.2,894 C289.57,895.55 290.5,896.97 290.8,898.3 C291.1,899.63 291.22,900.8 291,902 C290.78,903.2 290.33,904.57 289.5,905.5 C288.67,906.43 287.42,907.22 286,907.6 C284.58,907.98 282.42,908.15 281,907.8 C279.58,907.45 278.25,906.38 277.5,905.5 C276.75,904.62 276.25,903.5 276.5,902.5 C276.75,901.5 278,900.58 279,899.5 C280,898.42 281.67,897.25 282.5,896 C283.33,894.75 283.7,893.17 284,892 C284.3,890.83 283.53,889.5 284.3,889Z" fill="#86a6d6" stroke="none" stroke-width="1"/>
<g clip-path="url(#cp24)"><rect x="274.4" y="889.3" width="18.6" height="18.6" filter="url(#nTrapBg)" opacity="0.7"/></g>
</g>
<rect x="274.4" y="889.3" width="85" height="84.9" fill="none" stroke="#666" stroke-width="0.7"/>
<line x1="349" y1="971" x2="355.5" y2="971" stroke="#111" stroke-width="1.3"/>
<g clip-path="url(#cp25)">
<g clip-path="url(#cp26)"><rect x="372.3" y="889.3" width="85.5" height="84.9" filter="url(#nTrapBg)"/></g>
<path d="M378,972 C377.17,969.5 375.67,963 376,958 C376.33,953 378.83,944.33 380,942 C381.17,939.67 382.67,941 383,944 C383.33,947 382.33,955.17 382,960 C381.67,964.83 381.67,971 381,973 C380.33,975 378.83,974.5 378,972Z" fill="#f7f3f0" stroke="none" stroke-width="1" fill-opacity="0.9"/>
<path d="M379.1,970.6 C378.03,967.4 378.83,956.75 379.1,951.4 C379.37,946.05 379.63,943.05 380.7,938.5 C381.77,933.95 383.37,928.12 385.5,924.1 C387.63,920.08 390.02,917.62 393.5,914.4 C396.98,911.18 402.12,907.73 406.4,904.8 C410.68,901.87 415.72,898.27 419.2,896.8 C422.68,895.33 424.88,894.93 427.3,896 C429.72,897.07 432.5,900.93 433.7,903.2 C434.9,905.47 435.57,908 434.5,909.6 C433.43,911.2 429.58,911.47 427.3,912.8 C425.02,914.13 422.95,915.45 420.8,917.6 C418.65,919.75 416.8,923.02 414.4,925.7 C412,928.38 409.07,931.03 406.4,933.7 C403.73,936.37 400.55,939.03 398.4,941.7 C396.25,944.37 394.85,946.75 393.5,949.7 C392.15,952.65 391.63,955.92 390.3,959.4 C388.97,962.88 387.37,968.73 385.5,970.6 C383.63,972.47 380.17,973.8 379.1,970.6Z" fill="none" stroke="#f6f2f2" stroke-width="2.2"/>
<path d="M451,904 C452.05,900 454.67,900.83 456,901 C457.33,901.17 458.5,896.83 459,905 C459.5,913.17 459.67,942.17 459,950 C458.33,957.83 456.33,953.67 455,952 C453.67,950.33 451.88,944.5 451,940 C450.12,935.5 449.7,931 449.7,925 C449.7,919 449.95,908 451,904Z" fill="none" stroke="#f6f2f2" stroke-width="2.2"/>
<path d="M379.1,970.6 C378.03,967.4 378.83,956.75 379.1,951.4 C379.37,946.05 379.63,943.05 380.7,938.5 C381.77,933.95 383.37,928.12 385.5,924.1 C387.63,920.08 390.02,917.62 393.5,914.4 C396.98,911.18 402.12,907.73 406.4,904.8 C410.68,901.87 415.72,898.27 419.2,896.8 C422.68,895.33 424.88,894.93 427.3,896 C429.72,897.07 432.5,900.93 433.7,903.2 C434.9,905.47 435.57,908 434.5,909.6 C433.43,911.2 429.58,911.47 427.3,912.8 C425.02,914.13 422.95,915.45 420.8,917.6 C418.65,919.75 416.8,923.02 414.4,925.7 C412,928.38 409.07,931.03 406.4,933.7 C403.73,936.37 400.55,939.03 398.4,941.7 C396.25,944.37 394.85,946.75 393.5,949.7 C392.15,952.65 391.63,955.92 390.3,959.4 C388.97,962.88 387.37,968.73 385.5,970.6 C383.63,972.47 380.17,973.8 379.1,970.6Z" fill="#eee4e2" stroke="none" stroke-width="1"/>
<g clip-path="url(#cp27)"><rect x="372.3" y="889.3" width="85.5" height="84.9" filter="url(#nTrapBone)" opacity="0.9"/></g>
<path d="M451,904 C452.05,900 454.67,900.83 456,901 C457.33,901.17 458.5,896.83 459,905 C459.5,913.17 459.67,942.17 459,950 C458.33,957.83 456.33,953.67 455,952 C453.67,950.33 451.88,944.5 451,940 C450.12,935.5 449.7,931 449.7,925 C449.7,919 449.95,908 451,904Z" fill="#eee4e2" stroke="none" stroke-width="1"/>
<g clip-path="url(#cp28)"><rect x="372.3" y="889.3" width="85.5" height="84.9" filter="url(#nTrapBone)" opacity="0.9"/></g>
<path d="M384.5,928 C385.25,926.67 387.08,922.58 389,920 C390.92,917.42 393.17,915 396,912.5 C398.83,910 402.5,907.42 406,905 C409.5,902.58 415.17,899.17 417,898" fill="none" stroke="#e0354f" stroke-width="1.1" stroke-linecap="round" opacity="0.85"/>
<path d="M380.5,962 C380.58,963.33 380.92,968.67 381,970" fill="none" stroke="#e0354f" stroke-width="1.1" stroke-linecap="round" opacity="0.85"/>
<path d="M433.5,904 C433.58,904.83 433.92,908.17 434,909" fill="none" stroke="#e0354f" stroke-width="1.1" stroke-linecap="round" opacity="0.85"/>
<path d="M422,935 C422.5,934.33 424.5,931.67 425,931" fill="none" stroke="#e0354f" stroke-width="1.1" stroke-linecap="round" opacity="0.85"/>
<path d="M396,949 C396.33,948.33 397.67,945.67 398,945" fill="none" stroke="#e0354f" stroke-width="1.1" stroke-linecap="round" opacity="0.85"/>
<rect x="372.3" y="889.3" width="19.3" height="18.6" fill="#fff" stroke="#555" stroke-width="0.6"/>
<path d="M379.8,889 C380.63,888.33 383.43,888.17 384.3,889 C385.17,889.83 384.68,892.5 385,894 C385.32,895.5 385.9,896.67 386.2,898 C386.5,899.33 386.92,900.75 386.8,902 C386.68,903.25 386.22,904.6 385.5,905.5 C384.78,906.4 383.67,907.12 382.5,907.4 C381.33,907.68 379.53,907.68 378.5,907.2 C377.47,906.72 376.68,905.62 376.3,904.5 C375.92,903.38 375.87,901.75 376.2,900.5 C376.53,899.25 377.78,898.25 378.3,897 C378.82,895.75 379.05,894.33 379.3,893 C379.55,891.67 378.97,889.67 379.8,889Z" fill="#86a6d6" stroke="none" stroke-width="1"/>
<g clip-path="url(#cp29)"><rect x="372.3" y="889.3" width="19.3" height="18.6" filter="url(#nTrapBg)" opacity="0.7"/></g>
</g>
<rect x="372.3" y="889.3" width="85.5" height="84.9" fill="none" stroke="#666" stroke-width="0.7"/>
<line x1="446.5" y1="971" x2="453.5" y2="971" stroke="#111" stroke-width="1.3"/>
</svg>
</body></html>
